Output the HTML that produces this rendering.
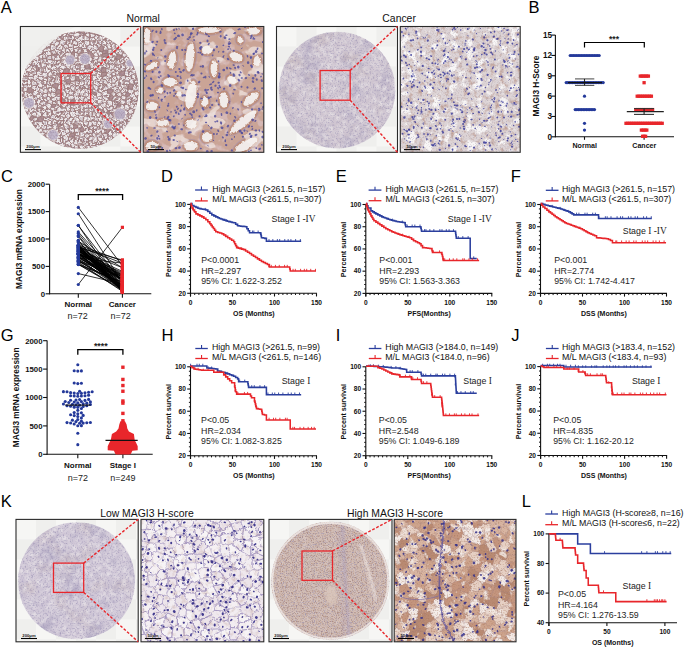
<!DOCTYPE html>
<html><head><meta charset="utf-8"><style>
html,body{margin:0;padding:0;background:#fff;width:685px;height:649px;overflow:hidden}
svg{display:block}
text{font-family:"Liberation Sans",sans-serif}
</style></head><body>
<svg width="685" height="649" viewBox="0 0 685 649">
<rect width="685" height="649" fill="#fff"/>
<text x="0.80" y="12.70" font-size="16.5" font-weight="normal" text-anchor="start" fill="#000" font-family="Liberation Sans" >A</text>
<text x="528.40" y="12.60" font-size="16.5" font-weight="normal" text-anchor="start" fill="#000" font-family="Liberation Sans" >B</text>
<text x="0.90" y="181.80" font-size="16.5" font-weight="normal" text-anchor="start" fill="#000" font-family="Liberation Sans" >C</text>
<text x="161.00" y="181.70" font-size="16.5" font-weight="normal" text-anchor="start" fill="#000" font-family="Liberation Sans" >D</text>
<text x="335.70" y="181.70" font-size="16.5" font-weight="normal" text-anchor="start" fill="#000" font-family="Liberation Sans" >E</text>
<text x="510.70" y="181.70" font-size="16.5" font-weight="normal" text-anchor="start" fill="#000" font-family="Liberation Sans" >F</text>
<text x="0.80" y="340.60" font-size="16.5" font-weight="normal" text-anchor="start" fill="#000" font-family="Liberation Sans" >G</text>
<text x="161.60" y="340.80" font-size="16.5" font-weight="normal" text-anchor="start" fill="#000" font-family="Liberation Sans" >H</text>
<text x="335.70" y="340.80" font-size="16.5" font-weight="normal" text-anchor="start" fill="#000" font-family="Liberation Sans" >I</text>
<text x="511.30" y="340.80" font-size="16.5" font-weight="normal" text-anchor="start" fill="#000" font-family="Liberation Sans" >J</text>
<text x="0.70" y="506.70" font-size="16.5" font-weight="normal" text-anchor="start" fill="#000" font-family="Liberation Sans" >K</text>
<text x="521.70" y="507.00" font-size="16.5" font-weight="normal" text-anchor="start" fill="#000" font-family="Liberation Sans" >L</text>
<text x="143.20" y="21.60" font-size="10.4" font-weight="normal" text-anchor="middle" fill="#111" font-family="Liberation Sans" >Normal</text>
<text x="399.10" y="21.60" font-size="10.4" font-weight="normal" text-anchor="middle" fill="#111" font-family="Liberation Sans" >Cancer</text>
<text x="146.90" y="517.00" font-size="10.4" font-weight="normal" text-anchor="middle" fill="#111" font-family="Liberation Sans" >Low MAGI3 H-score</text>
<text x="395.00" y="517.00" font-size="10.4" font-weight="normal" text-anchor="middle" fill="#111" font-family="Liberation Sans" >High MAGI3 H-score</text>
<defs><filter id="rough" x="-10%" y="-10%" width="120%" height="120%"><feTurbulence type="fractalNoise" baseFrequency="0.35" numOctaves="2" seed="2" result="t"/><feDisplacementMap in="SourceGraphic" in2="t" scale="3.5" xChannelSelector="R" yChannelSelector="G"/></filter><filter id="holesA1" x="0" y="0" width="100%" height="100%" filterUnits="objectBoundingBox" color-interpolation-filters="sRGB"><feTurbulence type="fractalNoise" baseFrequency="0.22" numOctaves="3" seed="3" result="n"/><feColorMatrix in="n" type="matrix" values="0 0 0 0 0  0 0 0 0 0  0 0 0 0 0  16.667 0 0 0 -8.667" result="m"/><feFlood flood-color="#f6f3f2"/><feComposite in2="m" operator="in"/></filter><filter id="darkA1" x="0" y="0" width="100%" height="100%" filterUnits="objectBoundingBox" color-interpolation-filters="sRGB"><feTurbulence type="fractalNoise" baseFrequency="0.45" numOctaves="2" seed="8" result="n"/><feColorMatrix in="n" type="matrix" values="0 0 0 0 0  0 0 0 0 0  0 0 0 0 0  3.889 0 0 0 -1.867" result="m"/><feFlood flood-color="#86646c"/><feComposite in2="m" operator="in"/></filter><filter id="lumA2" x="0" y="0" width="100%" height="100%" filterUnits="objectBoundingBox" color-interpolation-filters="sRGB"><feTurbulence type="fractalNoise" baseFrequency="0.045 0.06" numOctaves="3" seed="21" result="n"/><feColorMatrix in="n" type="matrix" values="0 0 0 0 0  0 0 0 0 0  0 0 0 0 0  16.667 0 0 0 -9.667" result="m"/><feFlood flood-color="#f8f3f1"/><feComposite in2="m" operator="in"/></filter><filter id="wallA2" x="0" y="0" width="100%" height="100%" filterUnits="objectBoundingBox" color-interpolation-filters="sRGB"><feTurbulence type="fractalNoise" baseFrequency="0.045 0.06" numOctaves="3" seed="21" result="n"/><feColorMatrix in="n" type="matrix" values="0 0 0 0 0  0 0 0 0 0  0 0 0 0 0  1 0 0 0 0" result="m"/><feComponentTransfer in="m" result="t"><feFuncA type="table" tableValues="0 0 0 0 0 0 0 0 0.25 0.7 0.2 0 0 0 0 0"/></feComponentTransfer><feFlood flood-color="#b47b62"/><feComposite in2="t" operator="in"/></filter><filter id="pinkA2" x="0" y="0" width="100%" height="100%" filterUnits="objectBoundingBox" color-interpolation-filters="sRGB"><feTurbulence type="fractalNoise" baseFrequency="0.09" numOctaves="3" seed="5" result="n"/><feColorMatrix in="n" type="matrix" values="0 0 0 0 0  0 0 0 0 0  0 0 0 0 0  6.667 0 0 0 -3.467" result="m"/><feFlood flood-color="#d8bdbd"/><feComposite in2="m" operator="in"/></filter><filter id="speck" x="0" y="0" width="100%" height="100%" filterUnits="objectBoundingBox" color-interpolation-filters="sRGB"><feTurbulence type="fractalNoise" baseFrequency="0.6" numOctaves="2" seed="4" result="n"/><feColorMatrix in="n" type="matrix" values="0 0 0 0 0  0 0 0 0 0  0 0 0 0 0  2.200 0 0 0 -1.100" result="m"/><feFlood flood-color="#8f86ad"/><feComposite in2="m" operator="in"/></filter><filter id="speckC" x="0" y="0" width="100%" height="100%" filterUnits="objectBoundingBox" color-interpolation-filters="sRGB"><feTurbulence type="fractalNoise" baseFrequency="0.8" numOctaves="2" seed="19" result="n"/><feColorMatrix in="n" type="matrix" values="0 0 0 0 0  0 0 0 0 0  0 0 0 0 0  3.500 0 0 0 -1.820" result="m"/><feFlood flood-color="#a59aa8"/><feComposite in2="m" operator="in"/></filter><filter id="speckA1" x="0" y="0" width="100%" height="100%" filterUnits="objectBoundingBox" color-interpolation-filters="sRGB"><feTurbulence type="fractalNoise" baseFrequency="0.8" numOctaves="2" seed="44" result="n"/><feColorMatrix in="n" type="matrix" values="0 0 0 0 0  0 0 0 0 0  0 0 0 0 0  4.000 0 0 0 -2.080" result="m"/><feFlood flood-color="#8f7c9c"/><feComposite in2="m" operator="in"/></filter><filter id="mottleL" x="0" y="0" width="100%" height="100%" filterUnits="objectBoundingBox" color-interpolation-filters="sRGB"><feTurbulence type="fractalNoise" baseFrequency="0.05" numOctaves="3" seed="61" result="n"/><feColorMatrix in="n" type="matrix" values="0 0 0 0 0  0 0 0 0 0  0 0 0 0 0  1.944 0 0 0 -0.972" result="m"/><feFlood flood-color="#a198b8"/><feComposite in2="m" operator="in"/></filter><filter id="mottleB" x="0" y="0" width="100%" height="100%" filterUnits="objectBoundingBox" color-interpolation-filters="sRGB"><feTurbulence type="fractalNoise" baseFrequency="0.04" numOctaves="3" seed="62" result="n"/><feColorMatrix in="n" type="matrix" values="0 0 0 0 0  0 0 0 0 0  0 0 0 0 0  1.333 0 0 0 -0.733" result="m"/><feFlood flood-color="#b8a4a2"/><feComposite in2="m" operator="in"/></filter><filter id="speckB" x="0" y="0" width="100%" height="100%" filterUnits="objectBoundingBox" color-interpolation-filters="sRGB"><feTurbulence type="fractalNoise" baseFrequency="0.7" numOctaves="2" seed="6" result="n"/><feColorMatrix in="n" type="matrix" values="0 0 0 0 0  0 0 0 0 0  0 0 0 0 0  2.800 0 0 0 -1.400" result="m"/><feFlood flood-color="#9a7a78"/><feComposite in2="m" operator="in"/></filter><filter id="whitefine" x="0" y="0" width="100%" height="100%" filterUnits="objectBoundingBox" color-interpolation-filters="sRGB"><feTurbulence type="fractalNoise" baseFrequency="0.3" numOctaves="3" seed="12" result="n"/><feColorMatrix in="n" type="matrix" values="0 0 0 0 0  0 0 0 0 0  0 0 0 0 0  6.250 0 0 0 -3.125" result="m"/><feFlood flood-color="#f6f2f2"/><feComposite in2="m" operator="in"/></filter><filter id="whitebig" x="0" y="0" width="100%" height="100%" filterUnits="objectBoundingBox" color-interpolation-filters="sRGB"><feTurbulence type="fractalNoise" baseFrequency="0.12" numOctaves="3" seed="14" result="n"/><feColorMatrix in="n" type="matrix" values="0 0 0 0 0  0 0 0 0 0  0 0 0 0 0  6.071 0 0 0 -3.157" result="m"/><feFlood flood-color="#f8f6f6"/><feComposite in2="m" operator="in"/></filter><filter id="brownfib" x="0" y="0" width="100%" height="100%" filterUnits="objectBoundingBox" color-interpolation-filters="sRGB"><feTurbulence type="fractalNoise" baseFrequency="0.22" numOctaves="3" seed="33" result="n"/><feColorMatrix in="n" type="matrix" values="0 0 0 0 0  0 0 0 0 0  0 0 0 0 0  3.056 0 0 0 -1.528" result="m"/><feFlood flood-color="#c0a096"/><feComposite in2="m" operator="in"/></filter><filter id="cellnet" x="0" y="0" width="100%" height="100%" filterUnits="objectBoundingBox" color-interpolation-filters="sRGB"><feTurbulence type="fractalNoise" baseFrequency="0.11" numOctaves="2" seed="41" result="n"/><feColorMatrix in="n" type="matrix" values="0 0 0 0 0  0 0 0 0 0  0 0 0 0 0  1 0 0 0 0" result="m"/><feComponentTransfer in="m" result="t"><feFuncA type="table" tableValues="0 0 0 0 0.1 0.6 0.1 0 0.1 0.6 0.1 0 0 0"/></feComponentTransfer><feFlood flood-color="#9a86b0"/><feComposite in2="t" operator="in"/></filter><filter id="brownK4" x="0" y="0" width="100%" height="100%" filterUnits="objectBoundingBox" color-interpolation-filters="sRGB"><feTurbulence type="fractalNoise" baseFrequency="0.1" numOctaves="3" seed="17" result="n"/><feColorMatrix in="n" type="matrix" values="0 0 0 0 0  0 0 0 0 0  0 0 0 0 0  4.375 0 0 0 -2.013" result="m"/><feFlood flood-color="#b6866e"/><feComposite in2="m" operator="in"/></filter><filter id="whiteK4" x="0" y="0" width="100%" height="100%" filterUnits="objectBoundingBox" color-interpolation-filters="sRGB"><feTurbulence type="fractalNoise" baseFrequency="0.12" numOctaves="3" seed="29" result="n"/><feColorMatrix in="n" type="matrix" values="0 0 0 0 0  0 0 0 0 0  0 0 0 0 0  7.500 0 0 0 -4.350" result="m"/><feFlood flood-color="#f5efec"/><feComposite in2="m" operator="in"/></filter><filter id="whiteK3" x="0" y="0" width="100%" height="100%" filterUnits="objectBoundingBox" color-interpolation-filters="sRGB"><feTurbulence type="fractalNoise" baseFrequency="0.5" numOctaves="2" seed="31" result="n"/><feColorMatrix in="n" type="matrix" values="0 0 0 0 0  0 0 0 0 0  0 0 0 0 0  5.625 0 0 0 -2.925" result="m"/><feFlood flood-color="#f6f1f0"/><feComposite in2="m" operator="in"/></filter><filter id="speckK3b" x="0" y="0" width="100%" height="100%" filterUnits="objectBoundingBox" color-interpolation-filters="sRGB"><feTurbulence type="fractalNoise" baseFrequency="0.8" numOctaves="2" seed="37" result="n"/><feColorMatrix in="n" type="matrix" values="0 0 0 0 0  0 0 0 0 0  0 0 0 0 0  3.409 0 0 0 -1.705" result="m"/><feFlood flood-color="#a07a6e"/><feComposite in2="m" operator="in"/></filter><filter id="speckK3l" x="0" y="0" width="100%" height="100%" filterUnits="objectBoundingBox" color-interpolation-filters="sRGB"><feTurbulence type="fractalNoise" baseFrequency="0.9" numOctaves="2" seed="38" result="n"/><feColorMatrix in="n" type="matrix" values="0 0 0 0 0  0 0 0 0 0  0 0 0 0 0  2.609 0 0 0 -1.357" result="m"/><feFlood flood-color="#8a84ae"/><feComposite in2="m" operator="in"/></filter><filter id="speckK4" x="0" y="0" width="100%" height="100%" filterUnits="objectBoundingBox" color-interpolation-filters="sRGB"><feTurbulence type="fractalNoise" baseFrequency="0.7" numOctaves="2" seed="39" result="n"/><feColorMatrix in="n" type="matrix" values="0 0 0 0 0  0 0 0 0 0  0 0 0 0 0  3.043 0 0 0 -1.583" result="m"/><feFlood flood-color="#a8785f"/><feComposite in2="m" operator="in"/></filter><filter id="soft" x="0" y="0" width="100%" height="100%"><feGaussianBlur stdDeviation="0.8"/></filter></defs>
<rect x="20.4" y="26.5" width="120.29999999999998" height="125.80000000000001" fill="#efefed"/>
<g fill="#f6f6f4"><rect x="20.4" y="26.5" width="20.0" height="20.0"/><rect x="60.4" y="26.5" width="20.0" height="20.0"/><rect x="100.4" y="26.5" width="20.0" height="20.0"/><rect x="140.4" y="26.5" width="0.3" height="20.0"/><rect x="40.4" y="46.5" width="20.0" height="20.0"/><rect x="80.4" y="46.5" width="20.0" height="20.0"/><rect x="120.4" y="46.5" width="20.0" height="20.0"/><rect x="20.4" y="66.5" width="20.0" height="20.0"/><rect x="60.4" y="66.5" width="20.0" height="20.0"/><rect x="100.4" y="66.5" width="20.0" height="20.0"/><rect x="140.4" y="66.5" width="0.3" height="20.0"/><rect x="40.4" y="86.5" width="20.0" height="20.0"/><rect x="80.4" y="86.5" width="20.0" height="20.0"/><rect x="120.4" y="86.5" width="20.0" height="20.0"/><rect x="20.4" y="106.5" width="20.0" height="20.0"/><rect x="60.4" y="106.5" width="20.0" height="20.0"/><rect x="100.4" y="106.5" width="20.0" height="20.0"/><rect x="140.4" y="106.5" width="0.3" height="20.0"/><rect x="40.4" y="126.5" width="20.0" height="20.0"/><rect x="80.4" y="126.5" width="20.0" height="20.0"/><rect x="120.4" y="126.5" width="20.0" height="20.0"/><rect x="20.4" y="146.5" width="20.0" height="5.8"/><rect x="60.4" y="146.5" width="20.0" height="5.8"/><rect x="100.4" y="146.5" width="20.0" height="5.8"/><rect x="140.4" y="146.5" width="0.3" height="5.8"/></g>
<clipPath id="cA1"><circle cx="80.1" cy="90.1" r="58.5"/></clipPath>
<g clip-path="url(#cA1)">
<rect x="21.60" y="31.60" width="117.00" height="117.00" fill="#b19294" opacity="1"/>
<path d="M62.6,28.7 59.0,32.0 61.9,34.0 65.9,33.0 66.1,31.8 65.0,29.5ZM65.0,29.5 66.1,31.8 69.0,31.1 71.2,27.3 71.1,27.1 67.0,27.4ZM69.0,31.1 72.5,33.3 74.2,33.4 74.5,32.9 73.8,28.9 71.2,27.3ZM73.8,28.9 74.5,32.9 78.6,32.2 80.6,29.2 79.8,28.0 74.0,28.7ZM85.3,27.5 83.3,29.5 84.8,33.7 88.0,32.7 87.3,27.5ZM87.3,27.5 89.1,26.8 91.8,29.6 90.2,33.1 88.0,32.7ZM95.9,29.4 95.4,29.2 91.8,29.6 90.2,33.1 90.2,33.1 94.6,34.1ZM102.9,30.6 102.1,28.8 96.5,29.0 96.2,29.3 98.6,32.5ZM48.7,32.7 46.1,35.3 46.9,37.8 51.1,36.4 51.2,33.5ZM57.3,35.9 57.0,34.8 57.0,32.4 59.0,32.0 61.9,34.0 61.9,35.2 60.8,36.7ZM61.9,35.2 64.1,37.1 66.8,35.0 65.9,33.0 61.9,34.0ZM66.1,31.8 65.9,33.0 66.8,35.0 67.0,35.1 72.5,33.3 69.0,31.1ZM68.1,37.0 74.3,35.9 74.2,33.4 72.5,33.3 67.0,35.1ZM80.3,35.3 78.7,32.3 78.6,32.2 74.5,32.9 74.2,33.4 74.3,35.9 74.7,36.9 78.8,37.3ZM80.3,35.3 78.7,32.3 84.8,33.8 84.4,35.0 84.1,35.4ZM84.8,33.7 84.8,33.8 84.4,35.0 89.8,38.0 90.4,37.3 90.2,33.1 90.2,33.1 88.0,32.7ZM95.2,35.4 94.6,34.1 90.2,33.1 90.4,37.3 94.0,37.3ZM99.0,35.4 95.2,35.4 94.6,34.1 95.9,29.4 96.2,29.3 98.6,32.5ZM101.3,35.3 103.4,31.1 102.9,30.6 98.6,32.5 99.0,35.4 99.1,35.5 101.1,35.4ZM101.3,35.3 106.2,35.8 107.3,33.3 106.7,31.9 103.4,31.1ZM106.2,35.8 106.3,37.7 110.7,37.8 111.0,34.6 109.8,33.9 107.3,33.3ZM39.7,38.9 40.1,38.1 41.8,37.6 45.1,39.8 42.4,43.8ZM46.1,35.3 46.9,37.8 46.3,39.4 45.1,39.8 41.8,37.6 43.1,34.0 43.6,34.0ZM46.3,39.4 46.9,37.8 51.1,36.4 51.8,37.3 52.5,39.0 47.4,40.4ZM56.7,39.7 52.8,39.4 52.5,39.0 51.8,37.3 57.0,34.8 57.3,35.9ZM59.2,41.4 62.1,39.5 60.8,36.7 57.3,35.9 56.7,39.7 57.1,40.2ZM62.1,39.5 63.0,39.4 64.1,37.1 61.9,35.2 60.8,36.7ZM65.5,41.2 68.0,40.0 68.3,39.4 68.1,37.0 67.0,35.1 66.8,35.0 64.1,37.1 63.0,39.4ZM68.1,37.0 68.3,39.4 74.0,39.4 74.0,39.4 74.7,36.9 74.3,35.9ZM78.8,37.3 74.7,36.9 74.0,39.4 77.6,42.1 80.7,40.3ZM80.3,35.3 84.1,35.4 83.5,40.8 80.7,40.3 78.8,37.3ZM84.1,35.4 84.4,35.0 89.8,38.0 89.1,40.4 83.7,41.1 83.5,40.8ZM95.4,39.9 94.1,41.0 89.6,41.0 89.1,40.4 89.8,38.0 90.4,37.3 94.0,37.3ZM99.0,35.4 95.2,35.4 94.0,37.3 95.4,39.9 97.7,40.5 98.5,40.0 99.1,35.5ZM101.1,35.4 103.5,40.0 102.4,40.6 98.5,40.0 99.1,35.5ZM101.3,35.3 106.2,35.8 106.3,37.7 105.4,40.0 103.5,40.0 101.1,35.4ZM110.7,37.8 106.3,37.7 105.4,40.0 106.5,41.6 111.9,39.5ZM110.7,37.8 111.0,34.6 112.4,34.4 115.9,35.8 116.0,36.1 115.2,38.9 114.1,39.9 112.4,39.8 111.9,39.5ZM120.6,41.3 115.2,38.9 116.0,36.1 121.5,37.7 121.5,37.8ZM36.5,40.7 39.7,38.9 42.4,43.8 42.3,44.2 41.8,44.7 37.7,43.1ZM42.3,44.2 46.2,45.2 49.0,43.6 47.4,40.4 46.3,39.4 45.1,39.8 42.4,43.8ZM50.9,44.2 49.0,43.6 47.4,40.4 52.5,39.0 52.8,39.4 51.0,44.2ZM57.1,40.2 56.7,39.7 52.8,39.4 51.0,44.2 53.9,44.9ZM59.5,42.3 55.9,47.2 53.9,44.9 57.1,40.2 59.2,41.4ZM59.5,42.3 62.0,45.4 63.2,45.6 65.2,44.0 65.5,41.2 63.0,39.4 62.1,39.5 59.2,41.4ZM65.2,44.0 68.3,45.3 70.1,43.3 68.0,40.0 65.5,41.2ZM70.1,43.3 72.4,43.3 74.0,39.4 68.3,39.4 68.0,40.0ZM77.5,45.3 77.6,42.1 74.0,39.4 74.0,39.4 72.4,43.3 73.7,45.6ZM80.7,40.3 77.6,42.1 77.5,45.3 78.4,46.2 83.7,41.3 83.7,41.1 83.5,40.8ZM83.7,41.1 89.1,40.4 89.6,41.0 90.2,44.5 86.9,46.3 84.3,43.9 83.7,41.3ZM89.6,41.0 94.1,41.0 93.8,45.0 92.5,45.9 90.2,44.5ZM97.7,40.5 97.8,42.9 96.2,44.9 93.8,45.0 94.1,41.0 95.4,39.9ZM98.5,40.0 102.4,40.6 101.3,45.1 97.8,42.9 97.7,40.5ZM106.5,41.6 106.9,43.3 105.9,45.3 103.2,46.4 101.5,45.7 101.3,45.1 102.4,40.6 103.5,40.0 105.4,40.0ZM111.9,39.5 112.4,39.8 110.0,44.2 106.9,43.3 106.5,41.6ZM114.1,39.9 114.6,42.3 111.1,45.1 110.0,44.2 112.4,39.8ZM114.1,39.9 115.2,38.9 120.6,41.3 120.8,42.1 119.4,43.5 115.2,43.0 114.6,42.3ZM121.1,42.3 123.9,46.4 127.2,45.3 126.7,42.8 124.6,41.7ZM36.5,44.8 37.4,47.2 33.2,47.7 33.3,46.0 33.8,45.4ZM36.5,44.8 37.4,47.2 39.2,48.5 40.9,48.3 41.8,44.7 37.7,43.1ZM42.3,44.2 46.2,45.2 46.5,47.2 43.0,50.7 41.8,49.5 40.9,48.3 41.8,44.7ZM46.7,47.3 46.5,47.2 46.2,45.2 49.0,43.6 50.9,44.2 50.2,48.0ZM50.9,51.2 50.2,48.0 50.9,44.2 51.0,44.2 53.9,44.9 55.9,47.2 56.1,47.9 54.4,49.6ZM59.5,42.3 62.0,45.4 58.2,48.8 56.1,47.9 55.9,47.2ZM58.2,48.8 62.0,45.4 63.2,45.6 63.5,46.6 61.2,51.2 59.1,50.2ZM68.8,47.7 68.9,47.5 68.3,45.3 65.2,44.0 63.2,45.6 63.5,46.6 65.9,49.3ZM73.7,45.6 72.4,43.3 70.1,43.3 68.3,45.3 68.9,47.5 72.9,47.3ZM78.4,46.2 77.5,45.3 73.7,45.6 72.9,47.3 73.4,49.2 78.9,47.1ZM78.4,46.2 83.7,41.3 84.3,43.9 81.1,48.0 79.4,47.8 78.9,47.1ZM84.3,43.9 81.1,48.0 82.1,48.7 86.6,48.5 86.9,46.3ZM86.9,46.3 86.6,48.5 88.2,51.4 88.8,51.3 92.6,47.1 92.5,45.9 90.2,44.5ZM92.5,45.9 93.8,45.0 96.2,44.9 98.4,48.2 98.0,49.4 96.6,50.3 94.8,49.4 92.6,47.1ZM101.3,45.1 101.5,45.7 98.4,48.2 96.2,44.9 97.8,42.9ZM105.9,45.3 103.2,46.4 103.6,50.3 107.9,50.1 108.6,49.4ZM110.0,44.2 106.9,43.3 105.9,45.3 108.6,49.4 111.7,48.9 112.1,48.4 111.1,45.1ZM111.1,45.1 112.1,48.4 115.3,47.8 115.2,43.0 114.6,42.3ZM119.4,43.5 118.2,48.4 117.0,48.4 115.3,47.8 115.2,43.0ZM121.1,42.3 123.9,46.4 123.5,47.2 120.4,49.6 119.7,49.5 118.2,48.4 119.4,43.5 120.8,42.1ZM127.2,45.3 129.2,46.4 128.4,49.0 126.1,50.2 123.5,47.2 123.9,46.4ZM26.9,48.4 29.4,53.1 31.5,52.7 33.4,50.4 32.8,48.5 27.8,47.6ZM32.8,48.5 33.2,47.7 37.4,47.2 39.2,48.5 35.8,51.3 33.4,50.4ZM40.9,48.3 39.2,48.5 35.8,51.3 37.0,53.9 41.8,49.5ZM47.9,51.3 44.6,52.0 43.6,51.9 43.0,50.7 46.5,47.2 46.7,47.3ZM50.9,51.2 50.2,48.0 46.7,47.3 47.9,51.3 50.8,51.4ZM53.0,54.5 56.7,53.9 54.4,49.6 50.9,51.2 50.8,51.4 51.5,54.2ZM56.7,53.9 56.9,53.9 59.1,50.2 58.2,48.8 56.1,47.9 54.4,49.6ZM65.9,49.3 63.5,46.6 61.2,51.2 61.6,51.7 65.2,52.6 65.2,52.5ZM68.8,47.7 65.9,49.3 65.2,52.5 70.7,52.3ZM68.8,47.7 68.9,47.5 72.9,47.3 73.4,49.2 73.8,52.2 71.8,52.9 70.7,52.3ZM78.9,47.1 79.4,47.8 77.1,52.7 74.5,52.4 73.8,52.2 73.4,49.2ZM82.1,48.7 83.0,52.7 77.8,53.5 77.1,52.7 79.4,47.8 81.1,48.0ZM82.1,48.7 83.0,52.7 84.0,53.3 87.9,51.7 88.2,51.4 86.6,48.5ZM92.6,47.1 94.8,49.4 91.3,52.2 88.8,51.3ZM93.4,54.3 96.6,50.5 96.6,50.3 94.8,49.4 91.3,52.2ZM108.6,49.4 107.9,50.1 107.7,53.0 108.3,53.9 112.0,53.5 112.3,52.1 111.7,48.9ZM117.0,48.4 115.4,52.3 112.3,52.1 111.7,48.9 112.1,48.4 115.3,47.8ZM117.0,48.4 115.4,52.3 116.9,55.2 117.5,54.9 119.7,49.5 118.2,48.4ZM126.1,50.2 123.5,47.2 120.4,49.6 123.1,52.8 124.9,52.8ZM130.5,53.1 128.4,49.0 126.1,50.2 124.9,52.8 127.0,54.3ZM29.4,53.1 28.1,54.6 33.2,58.3 34.0,57.1 31.5,52.7ZM31.5,52.7 34.0,57.1 37.4,55.6 37.0,53.9 35.8,51.3 33.4,50.4ZM41.8,49.5 43.0,50.7 43.6,51.9 42.8,53.6 42.5,53.8 37.7,55.7 37.4,55.6 37.0,53.9ZM43.6,51.9 42.8,53.6 46.6,58.2 47.7,56.2 44.6,52.0ZM51.5,54.2 51.4,54.3 47.7,56.2 44.6,52.0 47.9,51.3 50.8,51.4ZM59.1,50.2 61.2,51.2 61.6,51.7 59.4,56.1 57.7,55.1 56.9,53.9ZM61.6,51.7 59.4,56.1 60.8,58.8 65.2,53.9 65.2,52.6ZM70.7,52.3 71.8,52.9 70.6,56.6 69.1,57.2 66.5,55.6 65.2,53.9 65.2,52.6 65.2,52.5ZM74.5,52.4 74.1,58.3 77.9,58.0 78.1,54.9 77.8,53.5 77.1,52.7ZM84.0,53.3 87.9,51.7 88.8,57.1 87.8,57.7 83.8,55.4ZM93.4,54.3 93.7,56.1 98.6,55.9 96.6,50.5ZM96.6,50.3 98.0,49.4 102.4,52.0 102.5,54.0 102.0,55.8 101.9,55.9 99.1,56.2 98.6,55.9 96.6,50.5ZM113.4,56.6 112.0,53.5 108.3,53.9 108.0,57.1 110.2,58.2ZM112.3,52.1 112.0,53.5 113.4,56.6 115.7,57.2 116.9,55.2 115.4,52.3ZM123.1,52.8 120.4,49.6 119.7,49.5 117.5,54.9 121.9,55.1ZM124.1,57.7 122.0,55.7 121.9,55.1 123.1,52.8 124.9,52.8 127.0,54.3 126.8,56.5ZM128.1,58.5 129.6,59.1 131.1,57.7 130.7,53.2 130.5,53.1 127.0,54.3 126.8,56.5ZM130.7,53.2 132.1,52.8 133.0,53.3 134.1,55.5 133.6,58.0 131.1,57.7ZM26.7,56.8 22.1,60.0 25.9,62.5 27.4,58.0ZM27.1,55.3 26.7,56.0 26.7,56.8 27.4,58.0 29.9,59.3 33.1,58.5 33.2,58.3 28.1,54.6ZM39.4,59.1 37.7,55.7 37.4,55.6 34.0,57.1 33.2,58.3 33.1,58.5 33.1,58.5 37.5,62.5 38.1,62.3ZM42.5,58.9 42.7,58.8 42.5,53.8 37.7,55.7 39.4,59.1ZM46.6,58.2 46.5,58.6 42.7,58.8 42.5,53.8 42.8,53.6ZM46.6,58.2 46.5,58.6 46.8,59.1 51.9,59.6 51.4,54.3 47.7,56.2ZM53.0,54.5 55.4,57.2 55.1,60.0 52.6,60.4 51.9,59.6 51.4,54.3 51.5,54.2ZM59.4,56.1 60.8,58.8 60.8,59.8 60.6,60.1 56.7,60.5 55.1,60.0 55.4,57.2 57.7,55.1ZM65.2,53.9 66.5,55.6 64.6,60.0 60.8,59.8 60.8,58.8ZM69.1,57.2 66.5,55.6 64.6,60.0 66.7,60.9 67.9,60.0ZM72.9,60.2 71.3,61.4 67.9,60.0 69.1,57.2 70.6,56.6 73.1,58.8ZM72.9,60.2 74.9,62.4 77.8,61.1 78.6,59.1 77.9,58.0 74.1,58.3 73.1,58.8ZM83.1,56.2 82.3,59.6 78.6,59.1 77.9,58.0 78.1,54.9ZM83.1,56.2 82.3,59.6 82.8,60.1 86.4,60.1 87.8,57.7 83.8,55.4ZM92.4,57.9 93.1,60.6 93.0,61.5 87.2,61.6 86.4,60.1 87.8,57.7 88.8,57.1ZM93.7,56.1 98.6,55.9 99.1,56.2 97.8,59.6 93.1,60.6 92.4,57.9ZM102.4,60.7 101.9,55.9 99.1,56.2 97.8,59.6 99.2,62.2 100.1,62.6ZM105.6,62.2 106.8,57.5 102.0,55.8 101.9,55.9 102.4,60.7ZM105.6,62.2 106.8,57.5 108.0,57.1 110.2,58.2 110.2,59.6 107.9,63.1 106.7,63.0 105.7,62.4ZM112.5,61.9 116.4,58.7 115.7,57.2 113.4,56.6 110.2,58.2 110.2,59.6ZM123.6,60.0 120.1,60.5 119.4,59.9 122.0,55.7 124.1,57.7ZM124.9,61.0 128.1,58.5 126.8,56.5 124.1,57.7 123.6,60.0ZM130.4,62.9 134.9,59.2 133.6,58.0 131.1,57.7 129.6,59.1ZM133.6,58.0 134.1,55.5 138.1,56.1 137.3,59.4 137.0,59.7 134.9,59.2ZM20.0,59.8 22.1,60.0 25.9,62.5 26.5,63.8 24.9,65.8 20.1,65.0 19.1,62.2 19.0,61.2ZM27.4,58.0 25.9,62.5 26.5,63.8 28.8,63.9 29.9,59.3ZM31.7,65.3 31.2,65.1 28.8,63.9 29.9,59.3 33.1,58.5 33.1,58.5ZM32.6,66.0 35.5,65.1 37.5,62.5 33.1,58.5 31.7,65.3ZM40.8,63.7 38.1,62.3 39.4,59.1 42.5,58.9 43.1,62.7ZM43.1,62.7 42.5,58.9 42.7,58.8 46.5,58.6 46.8,59.1 46.3,63.5ZM46.3,63.5 46.8,59.1 51.9,59.6 52.6,60.4 51.5,63.6 46.8,64.3ZM55.4,66.0 55.9,64.9 56.7,60.5 55.1,60.0 52.6,60.4 51.5,63.6 51.7,64.0ZM60.9,62.5 60.6,60.1 56.7,60.5 55.9,64.9ZM64.6,60.0 60.8,59.8 60.6,60.1 60.9,62.5 61.4,64.4 64.6,65.3 67.0,62.6 66.7,60.9ZM71.3,61.4 70.5,65.3 67.0,62.6 66.7,60.9 67.9,60.0ZM77.8,61.1 79.4,64.7 75.7,65.4 74.6,64.1 74.9,62.4ZM78.6,59.1 82.3,59.6 82.8,60.1 82.3,64.3 80.2,65.2 79.4,64.7 77.8,61.1ZM85.0,65.5 82.3,64.3 82.8,60.1 86.4,60.1 87.2,61.6 87.0,64.0ZM87.0,64.0 87.2,61.6 93.0,61.5 93.1,62.0 89.6,65.2ZM95.2,63.7 94.3,63.5 93.1,62.0 93.0,61.5 93.1,60.6 97.8,59.6 99.2,62.2ZM100.6,65.4 97.5,66.5 95.2,63.7 99.2,62.2 100.1,62.6ZM105.6,62.2 102.4,60.7 100.1,62.6 100.6,65.4 101.7,66.3 105.7,62.4ZM112.5,61.9 110.2,59.6 107.9,63.1 109.3,64.4 112.5,63.7ZM112.5,61.9 116.4,58.7 116.5,58.7 115.5,65.5 115.3,65.7 112.5,63.7ZM120.3,64.2 115.5,65.5 116.5,58.7 119.4,59.9 120.1,60.5ZM125.3,62.2 124.9,61.0 123.6,60.0 120.1,60.5 120.3,64.2 120.4,64.3 124.5,63.4ZM125.3,62.2 124.9,61.0 128.1,58.5 129.6,59.1 130.4,62.9 130.3,63.7ZM139.7,65.1 136.8,61.6 133.4,65.5 138.6,66.3 139.4,66.1ZM19.8,65.7 20.1,65.0 24.9,65.8 25.3,69.1 20.5,69.2ZM25.4,69.3 25.3,69.1 24.9,65.8 26.5,63.8 28.8,63.9 31.2,65.1 26.2,69.9ZM28.6,72.3 27.8,71.7 26.2,69.9 31.2,65.1 31.7,65.3 32.6,66.0 32.5,67.7ZM41.2,66.7 39.1,68.1 35.8,65.4 35.5,65.1 37.5,62.5 38.1,62.3 40.8,63.7ZM41.8,67.0 45.9,67.2 46.1,67.0 46.8,64.3 46.3,63.5 43.1,62.7 40.8,63.7 41.2,66.7ZM46.1,67.0 50.8,70.0 51.7,64.0 51.5,63.6 46.8,64.3ZM50.8,70.0 51.7,64.0 55.4,66.0 56.4,68.0 55.5,68.9 51.8,70.8 51.1,70.6ZM56.4,68.0 58.8,68.2 59.7,67.8 61.4,64.4 60.9,62.5 55.9,64.9 55.4,66.0ZM61.4,64.4 64.6,65.3 66.5,68.4 63.7,70.1 59.7,67.8ZM70.5,65.3 69.9,68.6 69.4,68.9 66.5,68.4 64.6,65.3 67.0,62.6 70.5,65.3ZM73.5,69.4 75.4,68.0 75.7,65.4 74.6,64.1 70.5,65.3 69.9,68.6 72.9,69.4ZM75.7,65.4 75.4,68.0 79.6,69.1 79.8,68.9 80.2,65.2 79.4,64.7ZM85.0,65.5 82.3,64.3 80.2,65.2 79.8,68.9 83.8,70.5 85.5,68.6ZM92.9,68.6 90.4,68.5 89.6,65.2 93.1,62.0 94.3,63.5ZM96.7,68.8 97.5,66.5 95.2,63.7 94.3,63.5 92.9,68.6 93.8,69.2 95.6,69.7ZM100.6,65.4 97.5,66.5 96.7,68.8 101.3,69.4 102.4,67.7 101.7,66.3ZM105.7,62.4 106.7,63.0 105.2,68.2 102.4,67.7 101.7,66.3ZM107.9,63.1 106.7,63.0 105.2,68.2 105.7,68.6 109.5,67.8 109.3,64.4ZM112.5,63.7 115.3,65.7 115.2,65.8 114.0,67.7 110.9,68.9 109.5,67.8 109.3,64.4ZM120.4,64.3 121.5,67.1 118.9,69.2 115.2,65.8 115.3,65.7 115.5,65.5 120.3,64.2ZM124.5,63.4 120.4,64.3 121.5,67.1 125.0,69.0 125.6,68.0ZM125.3,62.2 130.3,63.7 130.4,64.1 130.0,64.6 125.6,68.0 124.5,63.4ZM130.0,64.6 129.9,70.6 130.4,70.6 133.6,68.1 133.4,65.6 130.4,64.1ZM133.6,68.1 135.8,70.8 138.6,66.3 133.4,65.5 133.4,65.6ZM19.1,72.5 20.5,69.2 25.3,69.1 25.4,69.3 21.3,73.4 19.2,72.7ZM21.5,73.5 21.3,73.4 25.4,69.3 26.2,69.9 27.8,71.7 22.5,74.2ZM28.7,72.5 31.8,73.1 34.8,70.7 32.5,67.7 28.6,72.3ZM36.8,71.5 36.7,71.6 34.8,70.7 32.5,67.7 32.6,66.0 35.5,65.1 35.8,65.4ZM41.8,67.0 42.5,72.5 38.6,70.6 39.1,68.1 41.2,66.7ZM41.8,67.0 42.5,72.5 42.5,72.6 44.4,72.1 45.9,67.2ZM45.9,67.2 44.4,72.1 47.6,73.8 51.1,70.6 50.8,70.0 46.1,67.0ZM55.5,68.9 56.9,74.3 56.7,74.4 55.9,75.0 53.5,73.9 51.8,70.8ZM56.4,68.0 58.8,68.2 59.4,73.1 59.2,73.4 56.9,74.3 55.5,68.9ZM59.7,67.8 63.7,70.1 63.4,72.3 59.4,73.1 58.8,68.2ZM72.6,75.6 70.1,75.9 69.9,75.8 68.8,73.7 69.4,68.9 69.9,68.6 72.9,69.4ZM75.9,72.6 73.5,69.4 75.4,68.0 79.6,69.1 78.4,71.6ZM83.6,74.5 84.2,73.2 83.8,70.5 79.8,68.9 79.6,69.1 78.4,71.6 80.3,74.2ZM89.4,70.7 89.5,69.1 85.5,68.6 83.8,70.5 84.2,73.2 88.5,73.1ZM89.4,70.7 89.5,69.1 90.4,68.5 92.9,68.6 93.8,69.2 92.3,72.9ZM92.3,72.9 93.8,69.2 95.6,69.7 96.4,71.8 96.4,73.2 94.5,74.9 92.4,75.4ZM96.7,68.8 101.3,69.4 101.2,71.0 96.4,71.8 95.6,69.7ZM105.7,68.6 106.1,71.8 107.0,72.8 110.6,72.5 110.9,68.9 109.5,67.8ZM115.4,71.4 115.6,71.1 114.0,67.7 110.9,68.9 110.6,72.5 111.3,73.2ZM118.5,71.4 118.9,69.2 115.2,65.8 114.0,67.7 115.6,71.1ZM124.7,70.7 125.2,69.8 125.0,69.0 121.5,67.1 118.9,69.2 118.5,71.4 119.1,72.1ZM125.6,68.0 125.0,69.0 125.2,69.8 128.1,71.0 129.9,70.6 130.0,64.6ZM130.4,70.6 133.3,74.3 135.4,73.6 136.0,73.0 136.2,72.1 135.8,70.8 133.6,68.1ZM139.8,70.7 136.2,72.1 135.8,70.8 138.6,66.3 139.4,66.1 139.5,66.3ZM14.8,78.4 18.7,77.8 19.2,72.7 19.1,72.5 17.9,72.4 14.1,75.4 14.8,78.4ZM21.5,73.5 21.3,73.4 19.2,72.7 18.7,77.8 20.6,79.1ZM22.5,74.2 27.8,71.7 28.6,72.3 28.7,72.5 28.0,76.5 27.7,77.1 24.3,76.6ZM28.7,72.5 28.0,76.5 33.1,76.3 33.7,75.0 31.8,73.1ZM31.8,73.1 33.7,75.0 36.4,74.2 36.7,71.6 34.8,70.7ZM36.8,71.5 36.7,71.6 36.4,74.2 38.1,76.6 41.4,75.6 42.5,72.6 42.5,72.5 38.6,70.6ZM44.4,72.1 47.6,73.8 48.1,76.8 47.5,77.4 43.5,78.3 41.4,75.6 42.5,72.6ZM51.1,70.6 47.6,73.8 48.1,76.8 50.5,77.2 53.5,73.9 51.8,70.8ZM50.5,77.2 51.2,77.9 55.1,78.7 55.8,78.3 55.9,75.0 53.5,73.9ZM59.4,73.1 63.4,72.3 64.3,73.7 63.5,76.0 61.3,76.7 59.2,73.4ZM64.8,77.4 63.5,76.0 64.3,73.7 68.8,73.7 69.9,75.8ZM75.0,75.8 72.6,75.6 72.9,69.4 73.5,69.4 75.9,72.6ZM77.8,76.5 75.5,76.4 75.0,75.8 75.9,72.6 78.4,71.6 80.3,74.2ZM83.3,77.7 78.4,77.1 77.8,76.5 80.3,74.2 83.6,74.5 83.9,76.1ZM83.9,76.1 87.4,77.0 89.6,74.7 88.5,73.1 84.2,73.2 83.6,74.5ZM89.4,70.7 92.3,72.9 92.4,75.4 92.4,75.4 89.6,74.7 88.5,73.1ZM101.0,76.1 101.0,76.1 97.5,78.6 94.5,74.9 96.4,73.2ZM96.4,71.8 96.4,73.2 101.0,76.1 101.8,72.6 101.2,71.0ZM111.3,73.2 110.6,72.5 107.0,72.8 106.1,75.4 108.6,77.8 109.7,78.2 110.9,77.7 111.7,77.1 112.1,76.1ZM115.5,75.5 112.1,76.1 111.3,73.2 115.4,71.4 115.6,75.4ZM115.6,75.4 119.1,74.5 119.1,72.1 118.5,71.4 115.6,71.1 115.4,71.4ZM124.3,75.2 125.5,76.3 129.3,76.5 128.1,71.0 125.2,69.8 124.7,70.7ZM129.9,70.6 128.1,71.0 129.3,76.5 130.5,77.2 133.3,74.3 130.4,70.6ZM141.9,76.1 136.0,73.0 135.4,73.6 137.3,78.4 141.2,77.4ZM142.2,71.4 142.8,75.4 141.9,76.1 136.0,73.0 136.2,72.1 139.8,70.7ZM20.6,79.1 18.7,77.8 14.8,78.4 18.5,83.2 20.9,79.4ZM21.5,73.5 20.6,79.1 20.9,79.4 21.2,79.4 24.3,76.6 22.5,74.2ZM24.3,76.6 27.7,77.1 28.0,78.8 26.4,81.1 24.0,81.7 21.2,79.4ZM28.0,78.8 31.9,80.9 34.1,80.1 33.1,76.3 28.0,76.5 27.7,77.1ZM37.5,78.4 35.6,80.3 34.1,80.1 33.1,76.3 33.7,75.0 36.4,74.2 38.1,76.6ZM37.5,78.4 42.0,81.2 43.0,79.6 43.5,78.3 41.4,75.6 38.1,76.6ZM43.5,78.3 47.5,77.4 47.8,81.2 47.0,82.0 43.0,79.6ZM50.5,77.2 51.2,77.9 51.2,81.2 50.1,82.0 47.8,81.2 47.5,77.4 48.1,76.8ZM51.2,77.9 51.2,81.2 54.2,81.9 55.1,78.7ZM55.8,78.3 59.8,79.9 60.4,78.3 56.7,74.4 55.9,75.0ZM65.0,80.4 60.5,81.4 59.8,79.9 60.4,78.3 61.3,76.7 63.5,76.0 64.8,77.4ZM65.2,80.5 69.8,78.6 70.1,75.9 69.9,75.8 64.8,77.4 65.0,80.4ZM75.0,75.8 72.6,75.6 70.1,75.9 69.8,78.6 71.0,81.3 74.9,81.0 75.2,80.6 75.5,76.4ZM83.3,77.7 83.1,80.6 79.9,81.2 79.9,81.2 78.4,77.1ZM83.3,77.7 83.1,80.6 83.2,80.8 88.6,79.1 87.4,77.0 83.9,76.1ZM89.6,74.7 87.4,77.0 88.6,79.1 89.9,80.1 92.0,80.2 92.4,75.4ZM92.4,75.4 92.0,80.2 93.3,81.7 96.3,80.7 97.5,78.6 94.5,74.9 92.4,75.4ZM97.5,78.6 101.0,76.1 102.1,76.9 102.7,78.7 98.8,82.3 96.3,80.7ZM104.9,79.7 108.6,77.8 106.1,75.4 102.1,76.9 102.7,78.7 103.3,79.5ZM104.9,79.7 108.2,82.7 109.7,78.2 108.6,77.8ZM115.5,75.5 117.8,80.3 116.2,80.9 111.7,77.1 112.1,76.1ZM115.5,75.5 117.8,80.3 118.8,80.2 119.8,79.6 120.6,76.3 119.1,74.5 115.6,75.4ZM124.3,75.2 125.5,76.3 124.3,81.2 124.0,81.4 119.8,79.6 120.6,76.3ZM130.6,78.1 129.0,81.0 124.3,81.2 125.5,76.3 129.3,76.5 130.5,77.2 130.7,78.0ZM130.6,78.1 134.2,82.7 134.6,79.0 130.7,78.0ZM130.7,78.0 130.5,77.2 133.3,74.3 135.4,73.6 137.3,78.4 137.0,79.0 134.6,79.0ZM141.2,77.4 142.3,82.2 137.4,82.2 137.0,79.0 137.3,78.4ZM20.9,79.4 18.5,83.2 18.5,83.7 19.1,85.1 22.8,84.7 24.0,81.7 21.2,79.4ZM26.4,81.1 27.4,84.1 27.3,84.4 23.3,85.1 22.8,84.7 24.0,81.7ZM28.0,78.8 31.9,80.9 31.3,83.9 27.4,84.1 26.4,81.1ZM31.3,83.9 32.0,85.6 37.0,85.3 37.3,85.2 37.5,84.4 35.6,80.3 34.1,80.1 31.9,80.9ZM37.5,78.4 35.6,80.3 37.5,84.4 41.9,82.7 42.0,81.2ZM42.0,81.2 41.9,82.7 43.7,84.4 45.5,84.5 45.9,84.2 47.0,82.0 43.0,79.6ZM47.0,82.0 45.9,84.2 50.7,85.1 50.1,82.0 47.8,81.2ZM50.1,82.0 51.2,81.2 54.2,81.9 54.6,83.3 51.9,86.5 51.9,86.5 50.7,85.1ZM55.8,78.3 59.8,79.9 60.5,81.4 60.1,83.1 58.5,84.1 54.6,83.3 54.2,81.9 55.1,78.7ZM65.2,80.5 66.6,83.1 64.0,85.5 61.0,84.0 60.1,83.1 60.5,81.4 65.0,80.4ZM70.4,82.8 75.8,85.4 74.9,81.0 71.0,81.3ZM79.9,81.2 75.2,80.6 74.9,81.0 75.8,85.4 75.8,85.5 78.5,85.7 79.9,81.2ZM79.9,81.2 78.5,85.7 79.6,86.8 84.2,84.8 84.8,83.7 83.2,80.8 83.1,80.6ZM88.6,79.1 83.2,80.8 84.8,83.7 85.8,83.7 89.9,80.1ZM92.0,80.2 93.3,81.7 93.0,83.8 92.6,84.7 89.3,85.9 85.8,83.7 89.9,80.1ZM93.3,81.7 93.0,83.8 98.9,86.6 100.3,84.6 98.8,82.3 96.3,80.7ZM103.3,79.5 103.1,84.3 100.3,84.6 98.8,82.3 102.7,78.7ZM104.9,79.7 108.2,82.7 108.3,83.5 106.5,85.5 105.4,85.3 103.3,84.4 103.1,84.3 103.3,79.5ZM110.9,77.7 109.7,78.2 108.2,82.7 108.3,83.5 110.6,83.7 112.5,83.0ZM111.7,77.1 110.9,77.7 112.5,83.0 114.7,83.3 116.2,80.9ZM116.2,80.9 114.7,83.3 115.4,85.6 117.0,86.6 119.0,85.6 119.7,84.5 118.8,80.2 117.8,80.3ZM124.0,81.4 123.9,84.2 123.8,84.3 119.7,84.5 118.8,80.2 119.8,79.6ZM124.0,81.4 123.9,84.2 128.4,85.1 129.6,83.5 129.0,81.0 124.3,81.2ZM130.6,78.1 129.0,81.0 129.6,83.5 133.5,84.8 134.9,84.0 134.2,82.7ZM134.2,82.7 134.9,84.0 135.8,84.0 137.4,82.2 137.0,79.0 134.6,79.0ZM143.0,82.7 139.6,87.3 137.0,85.7 135.8,84.0 137.4,82.2 142.3,82.2ZM23.3,85.1 24.2,87.0 23.4,88.1 18.7,87.0 18.6,86.6 19.1,85.1 22.8,84.7ZM27.3,84.4 27.5,87.9 24.2,87.0 23.3,85.1ZM27.3,84.4 27.5,87.9 27.9,88.4 31.2,87.6 32.0,85.6 31.3,83.9 27.4,84.1ZM32.0,85.6 37.0,85.3 34.8,90.4 33.6,90.8 31.2,87.6ZM40.0,88.4 41.9,88.2 43.7,84.4 41.9,82.7 37.5,84.4 37.3,85.2ZM43.7,90.0 46.8,88.1 45.5,84.5 43.7,84.4 41.9,88.2ZM48.0,88.6 46.8,88.1 45.5,84.5 45.9,84.2 50.7,85.1 51.9,86.5 51.4,87.1ZM61.2,89.7 61.0,84.0 60.1,83.1 58.5,84.1 57.2,89.3 60.5,89.9ZM61.2,89.7 61.0,84.0 64.0,85.5 65.1,89.0 64.4,89.8 64.4,89.8ZM69.5,84.1 69.9,87.2 69.5,88.1 65.1,89.0 64.0,85.5 66.6,83.1ZM70.4,82.8 69.5,84.1 69.9,87.2 75.2,86.1 75.8,85.5 75.8,85.4ZM78.5,85.7 75.8,85.5 75.2,86.1 75.2,91.5 79.8,88.0 79.6,86.8ZM79.6,86.8 79.8,88.0 80.5,88.9 84.9,88.1 84.2,84.8ZM84.8,83.7 85.8,83.7 89.3,85.9 88.6,88.4 85.3,88.7 84.9,88.1 84.2,84.8ZM88.8,88.9 88.6,88.4 89.3,85.9 92.6,84.7 93.8,88.8 92.5,90.0ZM97.6,90.3 93.8,88.8 92.6,84.7 93.0,83.8 98.9,86.6 98.7,88.7ZM100.3,84.6 98.9,86.6 98.7,88.7 101.9,88.9 103.3,84.4 103.1,84.3ZM105.4,85.3 102.5,89.3 101.9,88.9 103.3,84.4ZM112.3,88.1 111.8,88.9 107.7,89.1 106.5,85.5 108.3,83.5 110.6,83.7ZM114.7,83.3 115.4,85.6 112.3,88.1 110.6,83.7 112.5,83.0ZM120.7,90.7 117.3,88.7 117.0,86.6 119.0,85.6 122.6,88.6 122.4,89.2ZM119.0,85.6 119.7,84.5 123.8,84.3 123.6,87.6 122.6,88.6ZM128.5,88.7 123.6,87.6 123.8,84.3 123.9,84.2 128.4,85.1ZM134.9,84.0 135.8,84.0 137.0,85.7 134.7,91.3 134.1,91.7 132.0,89.3 133.5,84.8ZM26.9,91.6 27.9,88.4 27.5,87.9 24.2,87.0 23.4,88.1 22.9,91.1 23.9,92.0ZM34.8,90.4 37.0,85.3 37.3,85.2 40.0,88.4 38.5,91.6ZM38.5,91.6 39.2,93.1 42.4,94.0 43.8,93.0 43.7,90.0 41.9,88.2 40.0,88.4ZM48.4,92.9 48.0,88.6 46.8,88.1 43.7,90.0 43.8,93.0 47.3,93.7ZM48.4,92.9 48.0,88.6 51.4,87.1 51.9,92.2 50.5,92.9ZM51.9,92.2 55.5,92.7 57.0,89.4 51.9,86.5 51.9,86.5 51.4,87.1ZM61.2,89.7 64.4,89.8 62.3,94.6 61.5,94.8 60.5,94.0 60.5,89.9ZM64.4,89.8 65.1,89.0 69.5,88.1 70.2,89.3 68.6,93.9 66.4,93.5ZM69.9,87.2 69.5,88.1 70.2,89.3 74.2,91.9 75.1,91.6 75.2,91.5 75.2,86.1ZM79.4,94.0 75.1,91.6 75.2,91.5 79.8,88.0 80.5,88.9 81.2,91.1ZM81.2,91.1 80.5,88.9 84.9,88.1 85.3,88.7 84.6,91.4ZM84.7,91.6 84.6,91.4 85.3,88.7 88.6,88.4 88.8,88.9 88.3,93.1ZM88.3,93.1 88.8,88.9 92.5,90.0 92.1,91.4 91.3,92.8 89.1,93.9 88.9,93.9ZM96.7,93.3 97.8,91.5 97.6,90.3 93.8,88.8 92.5,90.0 92.1,91.4ZM101.7,93.2 97.8,91.5 97.6,90.3 98.7,88.7 101.9,88.9 102.5,89.3 103.8,90.8ZM103.8,90.8 102.5,89.3 105.4,85.3 106.5,85.5 107.7,89.1 107.1,90.4ZM117.0,86.6 115.4,85.6 112.3,88.1 111.8,88.9 113.4,91.0 114.8,91.5 117.3,88.7ZM120.6,91.6 116.1,93.9 114.8,91.5 117.3,88.7 120.7,90.7ZM120.6,91.6 120.7,90.7 122.4,89.2 125.2,91.6 121.8,93.9ZM122.4,89.2 122.6,88.6 123.6,87.6 128.5,88.7 128.7,88.9 127.3,91.8 126.6,92.2 125.2,91.6ZM129.9,94.2 134.1,92.7 134.1,91.7 132.0,89.3 128.7,88.9 127.3,91.8ZM139.8,87.7 139.6,87.3 137.0,85.7 134.7,91.3 139.7,90.0ZM142.3,91.7 141.1,91.5 139.7,90.0 139.8,87.7 143.7,87.7 144.4,89.4ZM19.2,95.5 19.6,90.1 22.9,91.1 23.9,92.0 22.3,95.7ZM22.3,95.7 23.9,92.0 26.9,91.6 27.0,91.8 27.7,97.0 23.6,97.6ZM27.0,91.8 32.5,93.1 32.8,94.8 27.7,97.0 27.7,97.0ZM32.8,94.8 33.7,95.8 36.6,96.3 39.2,93.1 38.5,91.6 34.8,90.4 33.6,90.8 32.5,93.1ZM39.4,98.8 42.5,95.9 42.4,94.0 39.2,93.1 36.6,96.3 37.8,98.4ZM46.5,97.9 44.1,98.0 42.5,95.9 42.4,94.0 43.8,93.0 47.3,93.7 47.6,95.9ZM47.6,95.9 47.3,93.7 48.4,92.9 50.5,92.9 52.1,97.9 51.7,98.2ZM55.9,95.5 55.2,97.0 52.1,97.9 50.5,92.9 51.9,92.2 55.5,92.7 56.0,94.1ZM60.5,94.0 56.0,94.1 55.9,95.5 60.8,97.2 61.5,94.8ZM64.4,89.8 64.4,89.8 66.4,93.5 64.8,95.6 62.3,94.6ZM66.4,93.5 68.6,93.9 69.7,95.3 68.6,97.8 65.5,98.1 64.8,95.6ZM69.7,95.3 68.6,93.9 70.2,89.3 74.2,91.9 73.0,95.0ZM73.0,95.0 74.2,91.9 75.1,91.6 79.4,94.0 80.1,96.4 73.7,96.2ZM83.1,96.2 80.1,96.4 80.1,96.4 79.4,94.0 81.2,91.1 84.6,91.4 84.7,91.6ZM83.1,96.2 84.7,91.6 88.3,93.1 88.9,93.9 87.3,97.4 84.7,96.9ZM95.6,95.0 91.3,92.8 89.1,93.9 93.4,96.7ZM96.2,94.8 96.7,93.3 97.8,91.5 101.7,93.2 102.8,96.3 102.5,96.8 96.6,95.3ZM105.7,95.9 107.7,92.7 107.1,90.4 103.8,90.8 101.7,93.2 102.8,96.3ZM105.7,95.9 108.7,99.1 110.4,94.1 107.7,92.7ZM116.1,93.9 115.9,95.4 113.6,96.5 110.4,94.1 113.4,91.0 114.8,91.5ZM120.6,91.6 116.1,93.9 115.9,95.4 117.1,96.4 120.7,97.2 122.2,95.5 121.8,93.9ZM121.8,93.9 122.2,95.5 125.2,95.8 126.6,92.2 125.2,91.6ZM129.3,95.8 131.4,98.3 134.7,94.1 134.1,92.7 129.9,94.2ZM141.1,91.5 138.9,95.4 137.0,96.0 134.7,94.1 134.1,92.7 134.1,91.7 134.7,91.3 139.7,90.0ZM142.3,91.7 141.1,91.5 138.9,95.4 143.4,97.6 145.0,96.9 145.6,96.4 145.0,94.8ZM17.5,96.2 15.3,95.8 15.1,99.6 18.5,102.5 19.1,102.4 19.8,101.6ZM17.5,96.2 19.8,101.6 23.0,100.6 23.6,97.6 22.3,95.7 19.2,95.5ZM23.6,97.6 27.7,97.0 27.7,97.0 29.0,99.9 29.0,100.2 23.7,101.3 23.0,100.6ZM27.7,97.0 32.8,94.8 33.7,95.8 32.6,99.0 29.0,99.9ZM33.7,95.8 36.6,96.3 37.8,98.4 36.3,100.8 33.3,100.1 32.6,99.0ZM44.1,98.0 42.5,95.9 39.4,98.8 41.1,101.1 43.2,100.4ZM46.5,97.9 44.1,98.0 43.2,100.4 47.1,103.0 47.4,102.7 48.1,101.2ZM46.5,97.9 48.1,101.2 51.2,99.4 51.7,98.2 47.6,95.9ZM51.7,98.2 52.1,97.9 55.2,97.0 57.4,100.6 56.9,101.6 52.7,101.5 51.2,99.4ZM55.9,95.5 55.2,97.0 57.4,100.6 59.9,100.0 61.1,98.8 60.8,97.2ZM62.3,94.6 64.8,95.6 65.5,98.1 64.6,99.2 61.1,98.8 60.8,97.2 61.5,94.8ZM66.7,102.9 68.9,98.4 68.6,97.8 65.5,98.1 64.6,99.2 65.2,102.0ZM68.9,98.4 71.0,100.3 73.7,99.2 73.7,96.2 73.0,95.0 69.7,95.3 68.6,97.8ZM73.7,96.2 80.1,96.4 80.1,96.4 79.2,100.2 78.9,100.7 74.5,99.8 73.7,99.2ZM83.1,96.2 80.1,96.4 79.2,100.2 83.1,100.9 84.7,96.9ZM84.7,96.9 83.1,100.9 84.0,101.5 88.1,101.5 88.4,99.9 87.3,97.4ZM93.4,96.7 89.1,93.9 88.9,93.9 87.3,97.4 88.4,99.9 92.7,98.9ZM95.6,101.3 92.7,98.9 93.4,96.7 95.6,95.0 96.2,94.8 96.6,95.3 97.6,99.6 96.2,101.4ZM96.6,95.3 102.5,96.8 102.3,97.5 101.4,98.9 97.6,99.6ZM107.2,101.8 109.1,100.1 108.7,99.1 105.7,95.9 102.8,96.3 102.5,96.8 102.3,97.5ZM117.1,96.4 115.9,95.4 113.6,96.5 111.6,100.3 112.2,100.9 113.4,101.0 116.7,99.4ZM121.1,99.6 120.7,97.2 117.1,96.4 116.7,99.4 119.7,103.1ZM126.3,98.9 126.1,96.8 125.2,95.8 122.2,95.5 120.7,97.2 121.1,99.6 125.8,100.1ZM126.3,98.9 126.1,96.8 129.3,95.8 131.4,98.3 131.4,99.8ZM131.6,100.2 134.0,100.2 137.0,97.2 137.0,96.0 134.7,94.1 131.4,98.3 131.4,99.8ZM135.1,101.5 138.2,99.3 137.0,97.2 134.0,100.2ZM143.4,97.6 141.1,101.4 140.1,101.9 138.2,99.3 137.0,97.2 137.0,96.0 138.9,95.4ZM19.8,101.6 19.1,102.4 19.6,103.9 25.3,104.8 23.7,101.3 23.0,100.6ZM23.7,101.3 29.0,100.2 29.5,104.1 28.9,104.6 25.6,105.4 25.3,104.8ZM29.0,100.2 29.5,104.1 32.3,104.0 33.3,100.1 32.6,99.0 29.0,99.9ZM32.3,104.0 33.3,100.1 36.3,100.8 36.7,104.0 32.9,104.3ZM40.3,104.4 41.1,101.1 39.4,98.8 37.8,98.4 36.3,100.8 36.7,104.0 37.9,104.9ZM42.0,105.6 45.9,105.1 47.1,103.0 43.2,100.4 41.1,101.1 40.3,104.4ZM48.1,101.2 47.4,102.7 51.7,104.7 52.3,104.3 52.7,101.5 51.2,99.4ZM56.9,104.0 56.9,101.6 52.7,101.5 52.3,104.3 56.1,104.5ZM56.9,104.0 59.7,106.3 61.2,106.7 62.2,103.9 59.9,100.0 57.4,100.6 56.9,101.6ZM66.7,102.9 68.6,104.6 69.9,104.6 71.0,100.3 68.9,98.4ZM78.8,104.2 78.9,100.7 74.5,99.8 73.7,104.9 73.8,104.9ZM79.3,104.9 82.3,105.0 84.0,101.5 83.1,100.9 79.2,100.2 78.9,100.7 78.8,104.2ZM82.8,105.2 82.3,105.0 84.0,101.5 88.1,101.5 88.4,103.2ZM91.5,104.1 88.6,103.5 88.4,103.2 88.1,101.5 88.4,99.9 92.7,98.9 95.6,101.3ZM98.0,105.5 92.7,105.5 91.5,104.1 95.6,101.3 96.2,101.4 98.1,105.3ZM98.1,105.3 96.2,101.4 97.6,99.6 101.4,98.9 102.4,103.1 100.9,104.8ZM102.4,103.1 101.4,98.9 102.3,97.5 107.2,101.8 106.6,103.0ZM110.0,106.2 112.3,105.9 112.7,104.6 112.2,100.9 111.6,100.3 109.1,100.1 107.2,101.8 106.6,103.0 106.7,103.4ZM117.7,104.2 118.6,103.5 113.4,101.0 112.2,100.9 112.7,104.6ZM119.7,103.1 119.7,103.1 118.6,103.5 113.4,101.0 116.7,99.4ZM126.1,104.0 125.8,100.1 121.1,99.6 119.7,103.1 119.7,103.1 120.5,103.9 124.1,104.8ZM126.1,104.0 125.8,100.1 126.3,98.9 131.4,99.8 131.6,100.2 130.6,103.1 128.6,104.9ZM130.6,103.1 135.2,104.8 137.0,104.3 135.1,101.5 134.0,100.2 131.6,100.2ZM137.0,104.3 138.1,104.6 138.9,104.1 140.1,101.9 138.2,99.3 135.1,101.5ZM143.6,106.8 138.9,104.1 140.1,101.9 141.1,101.4 145.6,103.4 144.8,106.8ZM19.1,102.4 18.5,102.5 14.6,104.6 14.2,105.5 14.2,105.8 19.5,109.1 20.4,108.2 19.6,103.9ZM19.6,103.9 20.4,108.2 23.8,107.8 24.8,106.9 25.6,105.4 25.3,104.8ZM25.6,105.4 28.9,104.6 30.0,107.6 28.8,110.5 24.8,106.9ZM29.5,104.1 32.3,104.0 32.9,104.3 33.4,108.7 30.0,107.6 28.9,104.6ZM37.0,108.0 36.6,109.0 33.8,109.1 33.4,108.7 32.9,104.3 36.7,104.0 37.9,104.9ZM41.7,108.4 37.0,108.0 37.9,104.9 40.3,104.4 42.0,105.6 41.9,108.2ZM41.9,108.2 45.6,110.9 47.3,108.0 45.9,105.1 42.0,105.6ZM47.3,108.0 45.9,105.1 47.1,103.0 47.4,102.7 51.7,104.7 51.7,106.9 50.3,108.5ZM56.9,104.0 59.7,106.3 55.6,109.4 54.6,107.6 56.1,104.5ZM66.7,102.9 68.6,104.6 65.6,107.8 62.0,107.9 61.2,106.7 62.2,103.9 65.2,102.0ZM70.5,111.3 69.4,112.0 67.6,110.7 65.6,107.8 68.6,104.6 69.9,104.6 70.3,104.8 70.7,107.4ZM70.7,107.4 70.3,104.8 73.7,104.9 73.8,104.9 74.6,108.1 74.3,108.8ZM79.3,104.9 79.0,107.3 74.6,108.1 73.8,104.9 78.8,104.2ZM79.3,104.9 82.3,105.0 82.8,105.2 84.8,108.7 83.9,109.9 79.3,108.9 79.0,107.3ZM84.8,108.7 88.1,107.9 88.6,103.5 88.4,103.2 82.8,105.2ZM92.7,108.1 88.3,108.2 88.1,107.9 88.6,103.5 91.5,104.1 92.7,105.5ZM98.0,105.5 92.7,105.5 92.7,108.1 93.8,109.1 97.9,106.0ZM98.0,105.5 97.9,106.0 98.4,107.8 102.1,110.2 102.9,107.3 100.9,104.8 98.1,105.3ZM106.7,103.4 106.6,103.0 102.4,103.1 100.9,104.8 102.9,107.3 105.6,107.5ZM110.0,106.2 107.5,110.4 105.6,107.5 106.7,103.4ZM113.8,108.3 115.3,109.1 117.7,104.2 112.7,104.6 112.3,105.9ZM120.9,109.1 123.7,109.3 124.1,104.8 120.5,103.9 119.9,107.5ZM126.1,104.0 128.6,104.9 129.7,108.0 127.6,110.2 124.0,109.8 123.7,109.3 124.1,104.8ZM129.7,108.0 131.9,108.9 135.2,104.8 130.6,103.1 128.6,104.9ZM137.0,104.3 138.1,104.6 138.0,108.6 133.8,111.1 131.9,108.9 135.2,104.8ZM143.6,106.8 138.9,104.1 138.1,104.6 138.0,108.6 139.9,110.2 140.4,110.2ZM20.4,108.2 19.5,109.1 19.0,111.0 19.2,111.5 22.1,113.6 25.0,111.8 23.8,107.8ZM23.8,107.8 25.0,111.8 27.8,113.1 29.2,112.5 28.8,110.5 24.8,106.9ZM30.0,107.6 28.8,110.5 29.2,112.5 30.5,112.9 32.1,111.8 33.8,109.1 33.4,108.7ZM38.3,111.5 36.7,113.5 32.1,111.8 33.8,109.1 36.6,109.0ZM41.7,108.4 39.7,111.7 38.3,111.5 36.6,109.0 37.0,108.0ZM41.7,108.4 39.7,111.7 42.5,113.9 45.5,112.3 45.6,110.9 41.9,108.2ZM45.5,112.3 47.4,113.4 51.8,111.9 50.3,108.5 47.3,108.0 45.6,110.9ZM50.3,108.5 51.7,106.9 54.6,107.6 55.6,109.4 55.6,109.9 52.2,112.1 51.8,111.9ZM55.6,109.9 55.6,109.4 59.7,106.3 61.2,106.7 62.0,107.9 61.2,111.9 58.2,112.0ZM62.3,112.9 67.6,110.7 65.6,107.8 62.0,107.9 61.2,111.9 61.7,112.7ZM65.2,114.7 62.3,112.9 67.6,110.7 69.4,112.0 69.3,112.1ZM70.5,111.3 74.4,111.6 74.3,108.8 70.7,107.4ZM74.4,111.6 74.9,112.0 78.9,109.7 79.3,108.9 79.0,107.3 74.6,108.1 74.3,108.8ZM83.9,112.2 79.9,112.0 78.9,109.7 79.3,108.9 83.9,109.9 84.0,111.9ZM84.0,111.9 83.9,109.9 84.8,108.7 88.1,107.9 88.3,108.2 89.3,111.5 88.9,112.0ZM93.8,109.1 93.9,111.6 92.7,112.1 89.3,111.5 88.3,108.2 92.7,108.1ZM97.9,106.0 93.8,109.1 93.9,111.6 96.3,112.8 97.7,112.2 98.4,107.8ZM102.1,110.2 102.3,110.9 100.0,112.7 97.7,112.2 98.4,107.8ZM107.5,110.4 107.7,111.9 107.2,112.4 107.1,112.5 102.3,110.9 102.1,110.2 102.9,107.3 105.6,107.5ZM110.0,106.2 112.3,105.9 113.8,108.3 108.1,111.9 107.7,111.9 107.5,110.4ZM115.6,112.2 116.2,111.6 115.7,109.6 115.3,109.1 113.8,108.3 108.1,111.9 109.4,112.5ZM116.2,111.6 118.8,112.7 120.9,109.1 119.9,107.5 115.7,109.6ZM120.9,109.1 123.7,109.3 124.0,109.8 123.3,112.0 119.1,113.0 118.8,112.7ZM125.0,114.9 127.7,113.9 127.8,113.8 127.6,110.2 124.0,109.8 123.3,112.0ZM127.6,110.2 127.8,113.8 131.1,114.4 133.1,113.0 133.8,112.0 133.8,111.1 131.9,108.9 129.7,108.0ZM133.8,112.0 138.5,115.1 139.9,110.2 138.0,108.6 133.8,111.1ZM27.8,113.1 25.7,116.9 23.1,117.5 22.1,113.6 25.0,111.8ZM29.2,112.5 27.8,113.1 25.7,116.9 28.2,118.8 29.7,119.0 31.7,115.5 30.5,112.9ZM32.1,111.8 36.7,113.5 36.0,116.5 33.8,116.2 31.7,115.5 30.5,112.9ZM42.5,113.9 39.7,111.7 38.3,111.5 36.7,113.5 36.0,116.5 37.4,118.5 42.3,115.3ZM45.5,112.3 42.5,113.9 42.3,115.3 43.7,117.4 48.3,117.0 47.4,113.4ZM47.4,113.4 48.3,117.0 49.1,117.8 49.8,117.7 52.9,113.9 52.2,112.1 51.8,111.9ZM52.9,113.9 55.5,115.6 58.2,112.0 55.6,109.9 52.2,112.1ZM55.5,115.6 55.8,116.5 60.2,116.4 60.8,115.6 61.7,112.7 61.2,111.9 58.2,112.0ZM65.7,117.0 64.1,118.2 60.8,115.6 61.7,112.7 62.3,112.9 65.2,114.7ZM65.7,117.0 67.9,117.9 70.1,116.4 69.3,112.1 65.2,114.7ZM70.5,111.3 69.4,112.0 69.3,112.1 70.1,116.4 73.7,117.8 75.9,115.6 74.9,112.0 74.4,111.6ZM74.9,112.0 78.9,109.7 79.9,112.0 79.8,114.9 77.2,115.9 75.9,115.6ZM83.9,112.2 79.9,112.0 79.8,114.9 83.9,115.9ZM83.9,112.2 83.9,115.9 84.0,116.1 87.8,115.9 88.9,112.0 84.0,111.9ZM88.9,112.0 89.3,111.5 92.7,112.1 91.8,115.8 89.3,117.0 87.8,115.9ZM96.1,115.9 94.6,116.9 91.8,115.8 92.7,112.1 93.9,111.6 96.3,112.8ZM101.3,115.8 98.2,117.5 96.1,115.9 96.3,112.8 97.7,112.2 100.0,112.7ZM107.1,112.5 102.3,110.9 100.0,112.7 101.3,115.8 102.7,116.3 105.0,115.4ZM113.6,116.7 111.6,118.2 109.9,118.0 107.2,112.4 107.7,111.9 108.1,111.9 109.4,112.5ZM131.2,118.0 128.5,118.6 127.7,113.9 127.8,113.8 131.1,114.4ZM132.5,119.0 131.2,118.0 131.1,114.4 133.1,113.0 134.8,117.9ZM134.8,117.9 137.7,117.9 139.0,116.3 138.5,115.1 133.8,112.0 133.1,113.0ZM23.5,124.1 25.6,123.3 28.2,118.8 25.7,116.9 23.1,117.5 22.8,117.8 23.0,121.7ZM33.8,116.2 32.4,120.2 35.2,121.4 37.2,121.2 37.5,121.0 37.4,118.5 36.0,116.5ZM48.3,117.0 49.1,117.8 48.2,120.9 47.6,121.4 43.6,120.3 43.7,117.4ZM53.9,119.4 49.8,117.7 49.1,117.8 48.2,120.9 51.7,122.0ZM55.3,119.2 55.8,116.5 55.5,115.6 52.9,113.9 49.8,117.7 53.9,119.4ZM55.3,119.2 55.8,116.5 60.2,116.4 60.3,119.9 56.7,121.0ZM63.0,120.8 64.1,118.2 60.8,115.6 60.2,116.4 60.3,119.9 61.6,120.5ZM63.0,120.8 64.1,118.2 65.7,117.0 67.9,117.9 68.0,120.5 65.1,122.6 64.3,122.6ZM67.9,117.9 68.0,120.5 70.9,122.1 73.7,120.1 73.7,117.8 70.1,116.4ZM80.2,121.0 77.2,115.9 75.9,115.6 73.7,117.8 73.7,120.1 75.2,121.5 78.4,122.6ZM82.7,120.6 80.2,121.0 77.2,115.9 79.8,114.9 83.9,115.9 84.0,116.1 83.0,120.2ZM88.8,121.7 90.1,120.6 89.3,117.0 87.8,115.9 84.0,116.1 83.0,120.2ZM91.8,121.1 90.1,120.6 89.3,117.0 91.8,115.8 94.6,116.9 93.8,120.4ZM98.5,120.9 98.2,117.5 96.1,115.9 94.6,116.9 93.8,120.4 97.2,121.7ZM101.3,115.8 98.2,117.5 98.5,120.9 101.5,121.5 102.4,120.7 102.7,116.3ZM105.0,115.4 107.2,119.8 106.8,120.7 102.4,120.7 102.7,116.3ZM107.1,112.5 107.2,112.4 109.9,118.0 107.2,119.8 105.0,115.4ZM113.7,116.6 116.3,118.2 116.7,120.4 114.7,122.3 111.7,119.0 111.6,118.2 113.6,116.7ZM121.9,117.1 118.9,121.4 116.7,120.4 116.3,118.2 119.8,115.8ZM121.9,117.1 118.9,121.4 119.5,122.2 123.9,122.4 125.5,121.0 123.5,117.4ZM123.5,117.4 125.5,121.0 125.7,121.0 128.5,118.6 127.7,113.9 125.0,114.9ZM125.9,121.2 125.7,121.0 128.5,118.6 131.2,118.0 132.5,119.0 132.6,120.9 128.2,121.7ZM132.5,119.0 132.6,120.9 133.2,122.2 134.0,122.7 136.2,122.7 137.8,121.3 137.7,117.9 134.8,117.9ZM29.9,122.9 30.4,120.0 29.7,119.0 28.2,118.8 25.6,123.3 29.3,123.5ZM29.9,122.9 32.7,123.6 35.2,121.4 32.4,120.2 30.4,120.0ZM35.2,121.4 32.7,123.6 32.8,124.9 36.6,125.6 37.3,124.8 37.2,121.2ZM43.1,125.2 42.0,121.7 37.5,121.0 37.2,121.2 37.3,124.8 41.1,127.3ZM46.3,125.7 47.5,124.5 47.6,121.4 43.6,120.3 42.0,121.7 43.1,125.2ZM52.6,124.9 51.9,125.9 47.5,124.5 47.6,121.4 48.2,120.9 51.7,122.0ZM55.3,119.2 56.7,121.0 56.6,123.3 52.6,124.9 51.7,122.0 53.9,119.4ZM59.8,123.9 57.4,124.3 56.6,123.3 56.7,121.0 60.3,119.9 61.6,120.5ZM63.3,124.6 64.3,122.6 63.0,120.8 61.6,120.5 59.8,123.9 62.8,124.7ZM69.3,126.4 70.8,123.4 70.9,122.1 68.0,120.5 65.1,122.6ZM70.9,122.1 73.7,120.1 75.2,121.5 74.0,124.8 70.8,123.4ZM78.4,123.2 77.8,125.1 74.0,124.9 74.0,124.8 75.2,121.5 78.4,122.6ZM84.1,125.4 82.5,126.5 78.4,123.2 78.4,122.6 80.2,121.0 82.7,120.6ZM84.1,125.4 82.7,120.6 83.0,120.2 88.8,121.7 87.6,126.4ZM87.6,126.4 88.4,127.7 93.2,125.6 91.8,121.1 90.1,120.6 88.8,121.7ZM96.5,125.8 97.2,121.7 93.8,120.4 91.8,121.1 93.2,125.6 93.4,125.7ZM97.7,127.2 101.9,123.3 101.5,121.5 98.5,120.9 97.2,121.7 96.5,125.8ZM101.9,123.3 103.4,125.2 106.5,124.7 107.6,122.5 106.8,120.7 102.4,120.7 101.5,121.5ZM111.7,119.0 111.6,118.2 109.9,118.0 107.2,119.8 106.8,120.7 107.6,122.5 110.6,123.0ZM111.7,119.0 114.7,122.3 113.9,124.2 112.4,124.5 110.6,123.0ZM118.9,121.4 116.7,120.4 114.7,122.3 113.9,124.2 115.7,125.5 118.6,125.1 119.5,122.2ZM120.7,127.3 118.6,125.1 119.5,122.2 123.9,122.4 123.6,123.8 121.5,127.3ZM128.8,127.3 128.7,127.3 125.9,121.2 128.2,121.7 130.9,123.9 129.9,127.0ZM130.9,123.9 133.2,122.2 132.6,120.9 128.2,121.7ZM23.5,124.1 23.6,124.5 25.3,128.6 26.6,128.8 30.3,127.4 29.3,123.5 25.6,123.3 23.5,124.1ZM29.9,122.9 32.7,123.6 32.8,124.9 31.4,127.7 30.3,127.4 29.3,123.5ZM41.1,127.5 38.1,131.0 36.9,130.6 35.0,128.8 36.6,125.6 37.3,124.8 41.1,127.3ZM46.8,129.1 42.8,129.4 41.1,127.5 41.1,127.3 43.1,125.2 46.3,125.7ZM46.8,129.1 47.5,130.1 49.9,129.8 52.3,128.2 51.9,125.9 47.5,124.5 46.3,125.7ZM54.9,129.6 58.1,128.1 58.1,127.5 57.4,124.3 56.6,123.3 52.6,124.9 51.9,125.9 52.3,128.2 54.3,129.5ZM63.3,124.6 63.9,127.9 58.2,128.2 58.1,128.1 58.1,127.5 62.8,124.7ZM66.0,129.2 69.1,128.1 69.4,127.8 69.3,126.4 65.1,122.6 64.3,122.6 63.3,124.6 63.9,127.9 64.8,129.0ZM69.4,127.8 73.4,128.4 74.0,124.9 74.0,124.8 70.8,123.4 69.3,126.4ZM79.7,128.8 82.4,126.6 82.5,126.5 78.4,123.2 77.8,125.1 77.6,127.6ZM88.4,128.1 88.4,128.0 88.4,127.7 87.6,126.4 84.1,125.4 82.5,126.5 82.4,126.6 84.3,130.3ZM93.5,130.8 88.4,128.0 88.4,127.7 93.2,125.6 93.4,125.7ZM96.3,129.4 93.5,130.9 93.5,130.8 93.4,125.7 96.5,125.8 97.7,127.2 97.7,127.3ZM101.6,129.3 102.3,128.9 103.4,125.2 101.9,123.3 97.7,127.2 97.7,127.3ZM105.9,129.5 108.1,128.1 106.5,124.7 103.4,125.2 102.3,128.9ZM110.6,123.0 107.6,122.5 106.5,124.7 108.1,128.1 109.8,128.4 111.0,127.4 112.4,124.5ZM112.4,124.5 111.0,127.4 115.8,129.5 115.7,125.5 113.9,124.2ZM120.7,127.3 118.6,125.1 115.7,125.5 115.8,129.5 116.0,129.9 119.3,129.2ZM121.5,127.3 123.6,123.8 126.8,128.3 125.1,129.8ZM123.9,122.4 123.6,123.8 126.8,128.3 128.7,127.3 125.9,121.2 125.7,121.0 125.5,121.0ZM133.1,127.7 134.0,122.7 133.2,122.2 130.9,123.9 129.9,127.0ZM31.8,131.6 32.7,128.9 31.4,127.7 30.3,127.4 26.6,128.8 28.4,131.4ZM36.9,130.6 35.0,128.8 32.7,128.9 31.8,131.6 32.3,134.7 33.9,134.9ZM41.1,127.5 38.1,131.0 39.3,132.7 39.9,133.0 42.6,131.7 42.8,129.4ZM46.8,132.4 47.5,130.1 46.8,129.1 42.8,129.4 42.6,131.7 45.4,133.3ZM51.2,136.1 46.8,132.4 47.5,130.1 49.9,129.8 51.8,134.4 51.7,135.8ZM51.8,134.4 49.9,129.8 52.3,128.2 54.3,129.5ZM60.5,132.7 58.2,128.2 58.1,128.1 54.9,129.6 55.9,132.4ZM64.8,129.0 63.9,127.9 58.2,128.2 60.5,132.7 61.1,133.3ZM66.7,133.7 70.0,132.4 69.1,128.1 66.0,129.2ZM70.8,133.2 70.0,132.4 69.1,128.1 69.4,127.8 73.4,128.4 74.1,129.0 74.7,133.0 74.4,133.4ZM79.7,132.1 74.7,133.0 74.1,129.0 77.6,127.6 79.7,128.8 80.4,131.3ZM84.6,134.3 88.4,133.3 88.4,128.1 84.3,130.3 83.1,131.9ZM88.4,133.3 88.7,133.6 91.4,133.4 93.5,131.7 93.5,130.9 93.5,130.8 88.4,128.0 88.4,128.1ZM98.1,132.9 95.9,134.5 93.5,131.7 93.5,130.9 96.3,129.4ZM98.1,132.9 96.3,129.4 97.7,127.3 101.6,129.3 101.1,132.7ZM101.1,132.7 101.7,133.7 102.5,133.9 106.3,133.5 105.9,129.5 102.3,128.9 101.6,129.3ZM110.4,130.0 113.1,132.7 115.2,131.9 116.0,129.9 115.8,129.5 111.0,127.4 109.8,128.4ZM119.3,129.2 116.0,129.9 115.2,131.9 115.2,131.9 119.7,133.1 120.4,131.9ZM120.7,127.3 119.3,129.2 120.4,131.9 124.6,131.8 125.0,130.9 125.1,129.8 121.5,127.3ZM38.1,131.0 39.3,132.7 35.9,136.4 33.9,134.9 36.9,130.6ZM41.8,137.0 39.9,133.0 39.3,132.7 35.9,136.4 36.1,136.8 40.9,137.5ZM42.1,137.1 44.4,135.8 45.4,133.3 42.6,131.7 39.9,133.0 41.8,137.0ZM51.1,136.2 47.8,138.0 44.4,135.8 45.4,133.3 46.8,132.4 51.2,136.1ZM51.7,135.8 51.8,134.4 54.3,129.5 54.9,129.6 55.9,132.4 55.4,135.0 53.6,136.1ZM61.1,133.3 60.5,132.7 55.9,132.4 55.4,135.0 61.2,135.9 61.4,135.8ZM66.1,135.3 62.3,136.1 61.4,135.8 61.1,133.3 64.8,129.0 66.0,129.2 66.7,133.7ZM66.1,135.3 68.6,137.0 68.9,136.9 70.8,133.2 70.0,132.4 66.7,133.7ZM74.4,133.4 74.7,133.0 79.7,132.1 79.7,136.0 74.7,135.6ZM80.8,137.3 84.0,136.6 84.6,134.3 83.1,131.9 80.4,131.3 79.7,132.1 79.7,136.0ZM88.4,139.8 84.7,137.5 84.0,136.6 84.6,134.3 88.4,133.3 88.7,133.6 89.2,136.6ZM89.2,136.6 88.7,133.6 91.4,133.4 92.6,136.1ZM94.5,137.4 95.7,136.9 95.9,134.5 93.5,131.7 91.4,133.4 92.6,136.1ZM100.3,136.9 101.7,133.7 101.1,132.7 98.1,132.9 95.9,134.5 95.7,136.9 97.2,137.8ZM106.0,139.3 107.4,138.4 108.6,136.3 107.2,134.1 106.3,133.5 102.5,133.9 105.4,139.3ZM111.7,135.8 113.1,132.7 110.4,130.0 107.2,134.1 108.6,136.3ZM111.7,135.8 113.1,132.7 115.2,131.9 115.2,131.9 117.6,136.6 115.7,139.0 114.9,138.7 113.6,137.8ZM120.0,135.8 117.6,136.6 115.2,131.9 119.7,133.1ZM124.6,131.8 124.8,134.1 121.6,136.5 120.0,135.8 119.7,133.1 120.4,131.9ZM124.6,131.8 124.8,134.1 128.1,136.5 130.9,135.2 130.8,133.0 130.5,132.6 125.0,130.9ZM40.9,137.5 36.1,136.8 35.5,139.9 38.5,142.0ZM47.1,140.7 43.5,139.8 42.1,137.1 44.4,135.8 47.8,138.0ZM51.1,136.2 47.8,138.0 47.1,140.7 47.4,141.6 51.4,139.4ZM55.9,141.9 56.2,140.1 53.6,136.1 51.7,135.8 51.2,136.1 51.1,136.2 51.4,139.4 51.5,139.7ZM60.3,137.1 56.2,140.1 53.6,136.1 55.4,135.0 61.2,135.9ZM62.7,143.0 65.0,143.7 66.5,141.4 62.6,136.8ZM66.1,135.3 68.6,137.0 68.3,140.6 66.5,141.4 62.6,136.8 62.3,136.1ZM68.3,140.6 68.6,140.7 74.5,138.5 74.2,137.2 68.9,136.9 68.6,137.0ZM74.7,135.6 79.7,136.0 80.8,137.3 80.2,138.7 78.5,139.5 74.5,138.5 74.5,138.5 74.2,137.2ZM84.7,137.5 84.0,136.6 80.8,137.3 80.2,138.7 82.3,142.5 82.9,142.0ZM88.9,140.9 88.4,139.8 84.7,137.5 82.9,142.0 88.9,141.0ZM91.6,140.7 88.9,140.9 88.4,139.8 89.2,136.6 92.6,136.1 94.5,137.4 92.2,140.5ZM98.0,140.9 97.2,137.8 95.7,136.9 94.5,137.4 92.2,140.5 95.9,143.2ZM101.4,141.9 102.8,140.0 100.3,136.9 97.2,137.8 98.0,140.9ZM102.8,140.0 100.3,136.9 101.7,133.7 102.5,133.9 105.4,139.3ZM110.1,140.7 113.6,137.8 111.7,135.8 108.6,136.3 107.4,138.4ZM110.8,142.0 114.9,138.7 113.6,137.8 110.1,140.7ZM42.1,137.1 43.5,139.8 42.0,143.5 39.2,143.7 39.1,143.7 38.5,142.0 40.9,137.5 41.8,137.0ZM47.4,141.6 47.8,144.1 47.6,144.4 42.5,143.8 42.0,143.5 43.5,139.8 47.1,140.7ZM51.5,139.7 51.4,139.4 47.4,141.6 47.8,144.1 50.3,143.9 50.5,143.8ZM55.9,141.9 51.5,139.7 50.5,143.8 55.1,143.8 56.0,143.0ZM55.9,141.9 56.2,140.1 60.3,137.1 60.6,143.1 59.2,143.9 56.0,143.0ZM62.3,136.1 62.6,136.8 62.7,143.0 60.6,143.1 60.3,137.1 61.2,135.9 61.4,135.8ZM66.5,141.4 65.0,143.7 65.7,146.1 70.9,145.1 71.6,143.6 68.6,140.7 68.3,140.6ZM68.6,140.7 74.5,138.5 74.5,138.5 74.1,142.9 71.6,143.6ZM74.5,138.5 78.5,139.5 77.7,145.0 76.9,144.8 74.1,142.9ZM82.3,142.5 81.7,144.2 78.4,145.4 77.7,145.0 78.5,139.5 80.2,138.7ZM88.9,141.0 82.9,142.0 82.3,142.5 81.7,144.2 82.8,144.9 88.6,142.4ZM91.6,140.7 88.9,140.9 88.9,141.0 88.6,142.4 88.8,145.2 90.6,146.5 92.9,145.4ZM96.0,144.4 95.6,145.4 92.9,145.4 91.6,140.7 92.2,140.5 95.9,143.2ZM101.6,143.8 101.4,141.9 98.0,140.9 95.9,143.2 96.0,144.4 101.3,144.6ZM101.6,143.8 106.9,143.9 106.0,139.3 105.4,139.3 102.8,140.0 101.4,141.9ZM106.9,143.9 107.7,145.1 110.9,144.1 110.8,142.0 110.1,140.7 107.4,138.4 106.0,139.3ZM47.8,144.1 47.6,144.4 47.3,147.2 48.7,149.0 52.4,149.1 50.3,143.9ZM55.1,143.8 54.7,148.5 54.6,148.6 53.4,149.4 52.4,149.1 50.3,143.9 50.5,143.8ZM56.0,143.0 59.2,143.9 60.1,147.1 58.7,149.4 54.7,148.5 55.1,143.8ZM60.6,143.1 59.2,143.9 60.1,147.1 64.2,147.9 65.6,146.7 65.7,146.1 65.0,143.7 62.7,143.0ZM71.7,148.2 70.9,145.1 65.7,146.1 65.6,146.7 69.3,150.7 70.4,151.0ZM74.2,147.6 76.9,144.8 74.1,142.9 71.6,143.6 70.9,145.1 71.7,148.2ZM75.2,149.5 74.2,147.6 76.9,144.8 77.7,145.0 78.4,145.4 78.6,146.8 77.2,150.1ZM82.7,151.0 85.0,147.6 82.8,144.9 81.7,144.2 78.4,145.4 78.6,146.8ZM88.6,142.4 82.8,144.9 85.0,147.6 85.7,147.6 88.8,145.2ZM90.6,146.5 90.7,147.0 90.4,151.4 90.1,151.8 89.4,151.9 85.7,147.6 88.8,145.2ZM92.9,145.4 90.6,146.5 90.7,147.0 96.4,149.2 96.5,149.2 95.6,145.4ZM101.3,144.6 101.7,147.8 101.7,147.8 97.4,149.9 96.5,149.2 95.6,145.4 96.0,144.4ZM101.6,143.8 106.9,143.9 107.7,145.1 107.1,146.9 101.7,147.8 101.3,144.6ZM64.2,147.9 63.3,151.2 60.4,152.4 59.2,150.8 58.7,149.4 60.1,147.1ZM65.6,146.7 69.3,150.7 65.1,152.6 63.3,151.2 64.2,147.9ZM75.2,149.5 74.2,147.6 71.7,148.2 70.4,151.0 71.1,152.2 71.5,152.3ZM75.2,149.5 71.5,152.3 73.5,153.6 77.7,153.1 77.2,150.1ZM82.6,151.9 84.2,153.7 88.7,152.5 89.4,151.9 85.7,147.6 85.0,147.6 82.7,151.0ZM90.7,147.0 90.4,151.4 96.4,149.2ZM96.5,149.2 96.4,149.2 90.4,151.4 90.1,151.8 93.2,155.5 97.5,151.7 97.4,149.9Z" fill="#f0ecec" stroke="#a0807f" stroke-width="0.85" filter="url(#rough)"/>
<path d="M74.0,28.7 79.8,28.0 79.2,24.5 78.9,24.3 76.0,25.4ZM83.3,29.5 80.6,29.2 78.6,32.2 78.7,32.3 84.8,33.8 84.8,33.7ZM52.0,32.9 51.2,33.5 51.1,36.4 51.8,37.3 57.0,34.8 57.0,32.4 56.1,31.7ZM101.5,45.7 98.4,48.2 98.0,49.4 102.4,52.0 103.6,50.3 103.2,46.4ZM103.6,50.3 107.9,50.1 107.7,53.0 102.5,54.0 102.4,52.0ZM53.0,54.5 55.4,57.2 57.7,55.1 56.9,53.9 56.7,53.9ZM73.1,58.8 74.1,58.3 74.5,52.4 73.8,52.2 71.8,52.9 70.6,56.6ZM83.0,52.7 77.8,53.5 78.1,54.9 83.1,56.2 83.8,55.4 84.0,53.3ZM88.2,51.4 87.9,51.7 88.8,57.1 92.4,57.9 93.7,56.1 93.4,54.3 91.3,52.2 88.8,51.3ZM102.0,55.8 102.5,54.0 107.7,53.0 108.3,53.9 108.0,57.1 106.8,57.5ZM116.4,58.7 115.7,57.2 116.9,55.2 117.5,54.9 121.9,55.1 122.0,55.7 119.4,59.9 116.5,58.7ZM72.9,60.2 74.9,62.4 74.6,64.1 70.5,65.3 70.5,65.3 71.3,61.4ZM130.3,63.7 130.4,62.9 134.9,59.2 137.0,59.7 136.8,61.6 133.4,65.5 133.4,65.6 130.4,64.1ZM36.8,71.5 35.8,65.4 39.1,68.1 38.6,70.6ZM85.0,65.5 85.5,68.6 89.5,69.1 90.4,68.5 89.6,65.2 87.0,64.0ZM69.4,68.9 66.5,68.4 63.7,70.1 63.4,72.3 64.3,73.7 68.8,73.7ZM101.2,71.0 101.8,72.6 106.1,71.8 105.7,68.6 105.2,68.2 102.4,67.7 101.3,69.4ZM59.2,73.4 56.9,74.3 56.7,74.4 60.4,78.3 61.3,76.7ZM101.8,72.6 106.1,71.8 107.0,72.8 106.1,75.4 102.1,76.9 101.0,76.1 101.0,76.1ZM124.3,75.2 120.6,76.3 119.1,74.5 119.1,72.1 124.7,70.7ZM77.8,76.5 75.5,76.4 75.2,80.6 79.9,81.2 78.4,77.1ZM65.2,80.5 66.6,83.1 69.5,84.1 70.4,82.8 71.0,81.3 69.8,78.6ZM58.5,84.1 54.6,83.3 51.9,86.5 57.0,89.4 57.2,89.3ZM128.5,88.7 128.7,88.9 132.0,89.3 133.5,84.8 129.6,83.5 128.4,85.1ZM143.0,82.7 139.6,87.3 139.8,87.7 143.7,87.7 144.8,83.9 143.3,82.8ZM18.7,87.0 23.4,88.1 22.9,91.1 19.6,90.1 18.8,89.4ZM27.0,91.8 32.5,93.1 33.6,90.8 31.2,87.6 27.9,88.4 26.9,91.6ZM60.5,89.9 57.2,89.3 57.0,89.4 55.5,92.7 56.0,94.1 60.5,94.0ZM107.7,92.7 110.4,94.1 110.4,94.1 113.4,91.0 111.8,88.9 107.7,89.1 107.1,90.4ZM17.5,96.2 15.3,95.8 14.4,95.2 14.3,92.4 14.8,92.0 18.8,89.4 19.6,90.1 19.2,95.5ZM96.2,94.8 96.7,93.3 92.1,91.4 91.3,92.8 95.6,95.0ZM129.3,95.8 126.1,96.8 125.2,95.8 126.6,92.2 127.3,91.8 129.9,94.2ZM111.6,100.3 113.6,96.5 110.4,94.1 110.4,94.1 108.7,99.1 109.1,100.1ZM65.2,102.0 62.2,103.9 59.9,100.0 61.1,98.8 64.6,99.2ZM71.0,100.3 69.9,104.6 70.3,104.8 73.7,104.9 74.5,99.8 73.7,99.2ZM51.7,104.7 52.3,104.3 56.1,104.5 54.6,107.6 51.7,106.9ZM115.7,109.6 115.3,109.1 117.7,104.2 118.6,103.5 119.7,103.1 120.5,103.9 119.9,107.5ZM113.7,116.6 115.6,112.2 109.4,112.5 113.6,116.7ZM113.7,116.6 116.3,118.2 119.8,115.8 119.1,113.0 118.8,112.7 116.2,111.6 115.6,112.2ZM121.9,117.1 119.8,115.8 119.1,113.0 123.3,112.0 125.0,114.9 123.5,117.4ZM30.4,120.0 32.4,120.2 33.8,116.2 31.7,115.5 29.7,119.0ZM42.3,115.3 37.4,118.5 37.5,121.0 42.0,121.7 43.6,120.3 43.7,117.4ZM32.8,124.9 31.4,127.7 32.7,128.9 35.0,128.8 36.6,125.6ZM62.8,124.7 58.1,127.5 57.4,124.3 59.8,123.9ZM77.6,127.6 77.8,125.1 74.0,124.9 73.4,128.4 74.1,129.0ZM83.1,131.9 84.3,130.3 82.4,126.6 79.7,128.8 80.4,131.3ZM106.3,133.5 105.9,129.5 108.1,128.1 109.8,128.4 110.4,130.0 107.2,134.1ZM125.0,130.9 130.5,132.6 128.8,127.3 128.7,127.3 126.8,128.3 125.1,129.8ZM68.9,136.9 74.2,137.2 74.7,135.6 74.4,133.4 70.8,133.2ZM122.6,139.9 121.6,136.5 120.0,135.8 117.6,136.6 115.7,139.0 115.9,139.5 120.5,141.2ZM110.9,144.1 111.6,144.4 115.1,145.0 115.9,139.5 115.7,139.0 114.9,138.7 110.8,142.0ZM77.2,150.1 78.6,146.8 82.7,151.0 82.6,151.9 78.0,153.3 77.7,153.1Z" fill="#b09093" stroke="#a0807f" stroke-width="1"/>
<rect x="21.60" y="31.60" width="117.00" height="117.00" fill="#000" filter="url(#darkA1)" opacity="0.3"/>
<circle cx="70" cy="60" r="5.7" fill="#f3efef" opacity="0.6"/><circle cx="70" cy="60" r="4.5" fill="#aea3bf" opacity="0.7"/>
<circle cx="85" cy="59" r="6.2" fill="#f3efef" opacity="0.6"/><circle cx="85" cy="59" r="5" fill="#aea3bf" opacity="0.7"/>
<circle cx="29" cy="103" r="6.2" fill="#f3efef" opacity="0.6"/><circle cx="29" cy="103" r="5" fill="#aea3bf" opacity="0.7"/>
<circle cx="120" cy="114" r="6.7" fill="#f3efef" opacity="0.6"/><circle cx="120" cy="114" r="5.5" fill="#aea3bf" opacity="0.7"/>
<circle cx="108" cy="124" r="5.2" fill="#f3efef" opacity="0.6"/><circle cx="108" cy="124" r="4" fill="#aea3bf" opacity="0.7"/>
<circle cx="53" cy="135" r="6.2" fill="#f3efef" opacity="0.6"/><circle cx="53" cy="135" r="5" fill="#aea3bf" opacity="0.7"/>
<circle cx="130" cy="63" r="4.7" fill="#f3efef" opacity="0.6"/><circle cx="130" cy="63" r="3.5" fill="#aea3bf" opacity="0.7"/>
<rect x="21.60" y="31.60" width="117.00" height="117.00" fill="#000" filter="url(#speckA1)" opacity="0.4"/>
</g>
<path d="M20.4,26.5 L76.4,26.5 C64.4,30.5 56.4,38.5 46.4,46.5 C36.4,56.5 28.4,64.5 20.4,72.5 Z" fill="#efefed" opacity="0.92"/>
<clipPath id="cA2"><rect x="143.2" y="26.5" width="120.60" height="125.80"/></clipPath>
<g clip-path="url(#cA2)">
<rect x="143.20" y="26.50" width="120.60" height="125.80" fill="#caa496" opacity="1"/>
<rect x="143.20" y="26.50" width="120.60" height="125.80" fill="#000" filter="url(#pinkA2)" opacity="0.8"/>
<g fill="#b5826c" opacity="0.65" stroke="#9f93c0" stroke-width="0.9" stroke-opacity="0.7"><ellipse cx="147" cy="36" rx="5.38" ry="10.05" transform="rotate(0 147 36)"/><ellipse cx="209" cy="30" rx="13.45" ry="5.38" transform="rotate(0 209 30)"/><ellipse cx="254" cy="31" rx="9.20" ry="5.80" transform="rotate(0 254 31)"/><ellipse cx="172" cy="60" rx="6.22" ry="10.90" transform="rotate(10 172 60)"/><ellipse cx="190" cy="57" rx="6.65" ry="16.85" transform="rotate(5 190 57)"/><ellipse cx="207" cy="50" rx="7.50" ry="6.65" transform="rotate(0 207 50)"/><ellipse cx="214" cy="69" rx="5.80" ry="10.90" transform="rotate(0 214 69)"/><ellipse cx="236" cy="57" rx="9.20" ry="6.65" transform="rotate(20 236 57)"/><ellipse cx="257" cy="61" rx="5.80" ry="7.50" transform="rotate(0 257 61)"/><ellipse cx="152" cy="66" rx="9.20" ry="5.38" transform="rotate(-30 152 66)"/><ellipse cx="170" cy="82" rx="9.20" ry="6.65" transform="rotate(0 170 82)"/><ellipse cx="179" cy="94" rx="4.95" ry="4.95" transform="rotate(0 179 94)"/><ellipse cx="191" cy="95" rx="7.50" ry="16.85" transform="rotate(10 191 95)"/><ellipse cx="205" cy="102" rx="5.80" ry="7.50" transform="rotate(0 205 102)"/><ellipse cx="224" cy="100" rx="6.65" ry="10.05" transform="rotate(0 224 100)"/><ellipse cx="251" cy="99" rx="11.75" ry="6.65" transform="rotate(-40 251 99)"/><ellipse cx="152" cy="106" rx="8.35" ry="6.65" transform="rotate(0 152 106)"/><ellipse cx="163" cy="123" rx="8.35" ry="5.80" transform="rotate(0 163 123)"/><ellipse cx="191" cy="124" rx="8.35" ry="6.65" transform="rotate(0 191 124)"/><ellipse cx="207" cy="137" rx="7.50" ry="7.50" transform="rotate(0 207 137)"/><ellipse cx="243" cy="122" rx="19.40" ry="6.65" transform="rotate(-40 243 122)"/><ellipse cx="152" cy="146" rx="8.35" ry="6.65" transform="rotate(0 152 146)"/><ellipse cx="191" cy="146" rx="9.20" ry="6.65" transform="rotate(0 191 146)"/><ellipse cx="246" cy="145" rx="15.15" ry="6.65" transform="rotate(-30 246 145)"/><ellipse cx="232" cy="80" rx="7.50" ry="5.80" transform="rotate(30 232 80)"/><ellipse cx="160" cy="90" rx="5.80" ry="4.95" transform="rotate(0 160 90)"/><ellipse cx="240" cy="40" rx="4.95" ry="5.80" transform="rotate(0 240 40)"/></g>
<g fill="#f1ebe9" filter="url(#rough)"><ellipse cx="147" cy="36" rx="2.98" ry="7.65" transform="rotate(0 147 36)"/><ellipse cx="209" cy="30" rx="11.05" ry="2.98" transform="rotate(0 209 30)"/><ellipse cx="254" cy="31" rx="6.80" ry="3.40" transform="rotate(0 254 31)"/><ellipse cx="172" cy="60" rx="3.82" ry="8.50" transform="rotate(10 172 60)"/><ellipse cx="190" cy="57" rx="4.25" ry="14.45" transform="rotate(5 190 57)"/><ellipse cx="207" cy="50" rx="5.10" ry="4.25" transform="rotate(0 207 50)"/><ellipse cx="214" cy="69" rx="3.40" ry="8.50" transform="rotate(0 214 69)"/><ellipse cx="236" cy="57" rx="6.80" ry="4.25" transform="rotate(20 236 57)"/><ellipse cx="257" cy="61" rx="3.40" ry="5.10" transform="rotate(0 257 61)"/><ellipse cx="152" cy="66" rx="6.80" ry="2.98" transform="rotate(-30 152 66)"/><ellipse cx="170" cy="82" rx="6.80" ry="4.25" transform="rotate(0 170 82)"/><ellipse cx="179" cy="94" rx="2.55" ry="2.55" transform="rotate(0 179 94)"/><ellipse cx="191" cy="95" rx="5.10" ry="14.45" transform="rotate(10 191 95)"/><ellipse cx="205" cy="102" rx="3.40" ry="5.10" transform="rotate(0 205 102)"/><ellipse cx="224" cy="100" rx="4.25" ry="7.65" transform="rotate(0 224 100)"/><ellipse cx="251" cy="99" rx="9.35" ry="4.25" transform="rotate(-40 251 99)"/><ellipse cx="152" cy="106" rx="5.95" ry="4.25" transform="rotate(0 152 106)"/><ellipse cx="163" cy="123" rx="5.95" ry="3.40" transform="rotate(0 163 123)"/><ellipse cx="191" cy="124" rx="5.95" ry="4.25" transform="rotate(0 191 124)"/><ellipse cx="207" cy="137" rx="5.10" ry="5.10" transform="rotate(0 207 137)"/><ellipse cx="243" cy="122" rx="17.00" ry="4.25" transform="rotate(-40 243 122)"/><ellipse cx="152" cy="146" rx="5.95" ry="4.25" transform="rotate(0 152 146)"/><ellipse cx="191" cy="146" rx="6.80" ry="4.25" transform="rotate(0 191 146)"/><ellipse cx="246" cy="145" rx="12.75" ry="4.25" transform="rotate(-30 246 145)"/><ellipse cx="232" cy="80" rx="5.10" ry="3.40" transform="rotate(30 232 80)"/><ellipse cx="160" cy="90" rx="3.40" ry="2.55" transform="rotate(0 160 90)"/><ellipse cx="240" cy="40" rx="2.55" ry="3.40" transform="rotate(0 240 40)"/></g>
<rect x="143.20" y="26.50" width="120.60" height="125.80" fill="#000" filter="url(#lumA2)" opacity="0.6"/>
<path d="M197.8,96.5l-0.0,0.8M214.1,50.0l-0.3,0.2M199.3,81.7l-0.3,0.6M262.6,131.7l0.4,0.4M178.5,35.6l-0.5,0.3M245.0,27.0l0.0,0.0M176.0,37.8l-0.1,0.1M176.3,148.1l-0.6,0.2M262.0,53.6l0.0,0.0M227.8,58.8l0.4,0.5M220.1,87.2l-0.6,0.0M228.1,125.7l-0.4,0.7M251.5,135.7l-0.2,0.1M212.2,104.9l-0.1,0.1M262.7,136.6l-0.4,0.4M252.0,109.3l0.1,0.2M223.4,51.7l-0.2,0.1M160.6,32.6l-0.2,0.4M165.1,60.9l-0.0,0.1M217.3,121.3l-0.2,0.0M230.2,43.2l-0.2,0.1M249.1,126.1l-0.4,0.7M168.4,116.8l-0.4,0.5M153.6,81.8l0.0,0.4M226.0,145.0l0.3,0.1M170.2,92.7l-0.0,0.0M189.6,132.3l-0.7,0.4M205.4,76.7l0.0,0.7M200.4,42.8l-0.2,0.1M168.3,105.7l-0.4,0.2M251.6,66.4l0.1,0.0M175.0,38.9l-0.6,0.4M156.4,31.5l-0.1,0.4M161.3,50.0l-0.0,0.0M235.1,67.7l0.1,0.3M219.2,77.5l-0.4,0.0M144.8,71.2l0.3,0.3M184.0,109.2l0.1,0.4M173.9,140.0l-0.4,0.0M200.0,48.1l0.3,0.1M256.7,79.4l0.1,0.3M157.2,138.1l0.3,0.6M176.2,112.3l-0.2,0.3M233.8,50.7l-0.0,0.0M150.9,60.8l0.2,0.1M152.8,41.7l-0.5,0.4M174.6,128.1l-0.1,0.0M252.8,81.4l0.4,0.6M224.2,88.5l-0.2,0.3M206.3,115.3l0.2,0.6M241.5,86.8l-0.0,0.0M184.3,95.0l0.7,0.5M239.4,74.9l0.2,0.3M174.9,135.5l-0.3,0.0M213.9,134.0l0.0,0.1M199.5,116.2l0.1,0.0M179.3,69.0l0.1,0.1M167.6,118.2l-0.0,0.1M220.9,122.4l0.3,0.6M193.1,28.9l-0.2,0.0M227.0,67.7l0.1,0.8M158.5,148.5l-0.0,0.0M210.8,96.9l-0.0,0.0M250.8,57.0l0.3,0.2M180.6,110.5l-0.2,0.6M215.5,85.6l-0.1,0.2M246.1,78.0l-0.2,0.1M206.5,92.4l0.1,0.2M191.0,33.3l0.4,0.4M259.6,109.9l-0.6,0.4M251.3,65.4l-0.3,0.0M200.3,52.8l-0.1,0.0M156.4,117.6l-0.1,0.0M153.1,54.8l0.1,0.0M176.8,106.8l0.0,0.0M210.2,107.5l-0.1,0.1M202.0,54.6l0.4,0.0M190.6,132.2l0.1,0.1M175.8,72.0l0.0,0.0M190.0,37.1l-0.6,0.5M192.0,74.9l0.4,0.6M211.6,127.6l-0.4,0.7M253.9,53.9l-0.5,0.1M161.9,99.5l-0.3,0.4M150.1,88.7l0.2,0.3M174.0,29.9l-0.0,0.1M242.8,136.8l0.2,0.0M180.3,71.7l0.7,0.5M202.8,108.0l-0.1,0.4M183.8,70.0l-0.5,0.6M174.3,90.1l-0.4,0.5M244.6,130.3l-0.2,0.3M201.5,73.6l-0.1,0.0M177.9,75.9l-0.4,0.0M190.1,113.5l0.3,0.2M164.6,40.0l0.0,0.8M247.4,87.3l0.1,0.2M150.4,95.5l0.3,0.4M256.4,134.7l-0.8,0.4M152.6,71.5l-0.0,0.6M191.8,115.0l0.0,0.0M168.8,119.7l0.3,0.2M168.1,136.9l0.1,0.0M261.7,80.3l0.2,0.8M182.2,49.9l0.1,0.1M249.9,133.7l-0.1,0.4M157.5,131.3l-0.3,0.5M218.9,82.7l-0.4,0.1M231.7,150.4l0.2,0.1M262.1,88.3l-0.0,0.0M256.2,130.5l-0.7,0.0M220.7,36.0l0.0,0.4M251.7,35.6l-0.3,0.8M165.1,42.9l0.5,0.2M167.0,150.9l0.2,0.5M255.3,75.1l0.1,0.6M241.6,133.1l0.4,0.1M260.1,148.6l-0.8,0.5M153.9,47.6l-0.3,0.3M207.5,40.6l-0.0,0.6M211.4,89.2l0.5,0.6M181.3,87.4l0.0,0.0M238.6,79.8l0.5,0.6M181.3,129.2l0.6,0.1M235.2,32.9l-0.4,0.1M157.2,41.7l-0.0,0.1M254.9,88.4l-0.4,0.3" stroke="#4d4a9e" stroke-width="2.0" stroke-linecap="round" opacity="0.82" fill="none"/>
<path d="M155.1,128.0l-1.0,0.1M258.6,108.6l0.9,0.0M206.7,34.4l0.4,0.0M203.8,109.7l-0.7,0.0M261.1,76.5l-0.2,0.2M165.2,96.5l-0.5,0.5M159.2,107.2l0.3,0.2M179.0,36.1l0.2,0.2M201.0,98.4l1.1,0.6M252.5,128.9l-0.3,0.4M194.0,39.9l0.2,0.2M197.1,34.3l-0.1,0.4M160.6,31.3l-0.1,0.2M213.6,81.6l-0.9,0.9M147.5,101.7l-0.5,0.6M144.6,64.3l0.9,0.5M248.6,74.8l0.8,0.4M176.5,47.9l0.6,0.5M153.0,30.4l-0.8,1.0M238.2,29.4l0.4,0.0M200.6,49.2l-0.1,0.2M147.0,127.9l0.2,0.1M208.3,89.8l-0.9,0.1M226.8,35.2l-0.8,0.1M200.9,66.5l-0.4,0.1M146.3,51.0l0.3,0.4M156.1,118.1l0.2,0.2M167.3,92.8l0.2,0.7M217.1,133.8l-0.4,0.3M158.4,77.0l0.8,0.6M225.3,140.1l-0.0,1.4M233.9,89.6l1.0,0.2M254.5,38.8l0.0,0.3M227.7,132.2l-0.3,0.3M192.2,117.0l0.0,0.3M191.5,33.2l0.4,0.1M215.1,121.7l0.2,0.1M178.2,108.4l-0.5,0.7M261.9,144.7l0.1,0.3M201.1,148.4l-0.5,0.1M198.1,52.4l0.2,0.1M196.8,110.0l-0.2,0.7M208.5,35.9l-0.0,0.3M219.0,73.2l0.4,0.7M187.3,38.9l1.2,0.3M211.6,87.2l-0.8,0.7M152.5,53.2l0.6,0.8M230.3,113.4l0.2,0.5M230.6,72.6l-0.1,0.3M250.6,57.7l0.3,0.6M191.2,75.2l-0.3,0.3M150.8,95.1l1.1,0.3M231.7,139.1l0.3,0.1M233.1,107.8l-0.4,0.3M206.4,122.4l-0.7,0.1M175.4,93.7l0.4,0.0M241.5,132.2l0.8,0.9M229.8,39.1l-0.8,0.1M253.4,37.8l-0.2,1.2M259.2,130.1l0.4,0.9M211.3,84.1l-0.2,0.1M168.5,103.6l-0.1,0.5M229.7,68.1l1.1,0.5M154.8,111.1l0.3,1.0M237.9,109.0l0.5,0.8M184.6,108.0l-0.0,0.3M186.1,89.4l-0.4,0.0M206.0,116.2l-1.2,0.2M241.4,101.9l0.2,0.3M239.6,28.9l0.4,0.2M164.3,91.6l0.3,0.4M220.9,31.7l-1.0,0.1M233.2,64.9l0.8,0.3M166.8,131.4l0.5,0.3M248.7,151.1l0.4,0.3M222.6,137.0l0.5,0.7M206.8,93.1l0.2,0.2M251.1,150.2l-0.2,0.2M257.7,48.2l-0.4,1.1M161.8,28.8l0.1,0.8M175.2,126.5l-0.1,0.3M217.7,92.5l0.5,0.1M151.3,78.2l-0.6,0.1M160.4,76.0l0.5,0.1M174.2,95.8l-0.5,0.1M261.1,103.1l-0.1,0.2M184.9,49.7l0.7,0.5M168.1,74.7l0.1,0.3M176.5,29.1l0.1,0.4M234.9,116.7l0.7,1.1M205.5,33.8l0.7,0.1M209.1,43.6l-0.7,0.8M223.5,45.2l-0.3,0.3M247.4,55.8l0.2,0.9M190.6,34.2l0.0,0.7M176.9,46.6l0.6,0.3M223.2,56.8l0.1,0.3M175.1,110.2l-0.1,0.4M218.5,104.2l0.4,0.5M217.8,87.9l0.5,0.7M233.1,93.4l0.3,0.4M156.1,114.8l-0.3,0.2M174.0,116.1l-0.4,0.4M218.0,130.2l0.4,1.1M256.2,147.9l0.1,0.3M158.0,67.3l0.2,0.1M218.4,61.0l0.2,0.4M174.7,33.3l0.2,0.2M145.0,52.6l-0.1,1.3M212.8,55.1l-0.3,0.6M240.4,72.1l0.6,0.7M252.1,67.0l-0.2,0.2M156.0,44.8l0.6,0.0M204.1,77.3l-0.6,0.1M228.4,49.1l-0.5,0.1M219.8,73.7l-0.3,0.9M193.9,74.8l-0.1,0.5M151.9,135.3l-0.9,0.6M197.6,93.5l0.8,1.0M251.8,126.4l0.4,0.1M181.6,105.4l-0.3,0.4M180.8,77.8l0.1,0.4M242.2,78.0l-0.7,0.1M185.0,114.6l0.3,0.4M151.6,79.3l-0.5,0.1M178.6,113.2l0.3,1.0M159.4,138.5l0.2,0.4M251.1,37.8l-0.4,0.5M219.2,85.3l0.3,0.5M221.4,113.8l0.2,1.4M169.6,150.4l0.4,0.2M178.6,124.0l0.5,0.1M211.0,84.1l-1.1,0.6M162.4,147.7l-0.3,0.8M193.3,28.2l-0.3,0.3M228.5,46.4l0.8,0.3M187.6,80.2l0.2,0.8M197.7,32.6l-0.1,1.2M145.0,77.1l-0.4,1.3M258.3,72.3l0.5,0.7M216.6,100.3l-0.0,0.6M255.7,120.6l-0.6,0.7M233.2,74.0l0.7,0.3M254.3,53.2l-0.6,0.3M158.4,135.7l0.2,0.7" stroke="#4d4a9e" stroke-width="1.5" stroke-linecap="round" opacity="0.82" fill="none"/>
<path d="M158.1,57.5l-0.7,0.5M164.8,116.5l-0.1,0.8M176.9,141.1l0.6,0.7M183.8,124.9l-0.0,0.9M263.4,137.4l-0.6,0.7M178.7,28.5l0.9,0.5M234.5,136.4l-0.1,1.0M262.1,73.4l0.2,0.9M178.3,147.9l0.7,0.3M221.1,123.4l0.1,0.9M213.2,140.3l0.6,0.4M229.2,100.9l0.6,0.7M262.1,108.6l0.1,1.0M228.8,102.3l0.5,0.8M242.9,65.4l0.6,0.9M154.3,54.9l0.3,0.9M218.8,51.3l-0.2,0.8M209.6,36.5l-0.7,0.0M180.8,76.2l-0.9,0.3M207.8,145.4l0.4,0.6M174.0,127.0l-0.6,0.6M208.4,125.4l0.6,0.8M242.1,48.0l-0.6,0.8M198.5,119.8l-0.7,0.3M161.7,100.9l0.2,0.7M185.1,53.6l-0.3,0.7M146.3,75.3l0.3,1.1M171.1,111.4l-0.1,1.0M164.5,91.0l0.8,0.2M223.9,55.4l-0.2,0.9M229.3,41.5l-0.5,0.6M262.6,41.5l-0.1,1.1M230.1,48.8l0.7,0.3M247.0,130.7l0.3,0.8M167.0,109.9l0.6,1.1M158.6,97.4l-0.0,0.9M194.0,36.7l-1.0,0.3M209.0,76.4l0.4,0.9M233.6,33.3l0.5,0.6M182.3,118.5l-0.7,0.4" stroke="#4d4a9e" stroke-width="1.0" stroke-linecap="round" opacity="0.82" fill="none"/>
<path d="M168.8,76.2l0.2,0.1M256.2,51.4l-0.1,0.3M159.5,72.1l-0.1,0.2M152.7,95.1l-0.1,0.1M203.2,131.5l-0.2,0.0M202.8,66.3l0.0,0.2M221.9,127.7l0.3,0.2M238.2,66.9l0.1,0.3M145.6,138.4l-0.1,0.1M252.7,119.8l0.0,0.1M250.9,136.8l-0.0,0.0M263.3,107.2l-0.0,0.0M211.6,151.2l0.0,0.0M233.8,75.6l0.3,0.0M230.2,85.3l-0.1,0.4M207.1,151.4l0.3,0.2M182.6,95.4l0.0,0.1M208.9,97.7l-0.3,0.2M253.2,78.2l-0.2,0.1M240.1,130.9l-0.1,0.2M216.8,46.7l-0.0,0.1M234.4,120.8l-0.0,0.0M150.3,117.4l-0.1,0.3M170.2,120.2l0.0,0.0M182.5,34.7l0.1,0.3M229.0,43.8l0.0,0.0M165.3,56.4l0.0,0.0M205.5,90.0l-0.0,0.2M215.1,116.2l0.0,0.0M148.7,88.1l0.1,0.0M147.8,151.3l0.1,0.1M226.8,134.9l0.0,0.0M180.8,82.7l-0.4,0.2M257.9,72.2l-0.0,0.0M226.7,112.6l0.3,0.2M201.1,47.3l0.2,0.0M153.1,49.8l0.0,0.0M161.8,85.3l0.2,0.3M172.6,126.7l-0.0,0.2M248.1,62.6l0.0,0.2M223.6,69.9l0.3,0.0M174.0,128.2l0.1,0.0M179.6,147.6l0.0,0.0M183.0,88.0l-0.0,0.0M224.9,37.5l0.2,0.3" stroke="#4d4a9e" stroke-width="2.5" stroke-linecap="round" opacity="0.82" fill="none"/>
<path d="M169.2,139.3l-0.0,0.0M219.2,76.5l0.0,0.0M193.7,111.8l0.0,0.0" stroke="#4d4a9e" stroke-width="3.0" stroke-linecap="round" opacity="0.82" fill="none"/>
</g>
<rect x="276.5" y="26.5" width="121.0" height="125.80000000000001" fill="#efefed"/>
<g fill="#f6f6f4"><rect x="276.5" y="26.5" width="20.0" height="20.0"/><rect x="316.5" y="26.5" width="20.0" height="20.0"/><rect x="356.5" y="26.5" width="20.0" height="20.0"/><rect x="396.5" y="26.5" width="1.0" height="20.0"/><rect x="296.5" y="46.5" width="20.0" height="20.0"/><rect x="336.5" y="46.5" width="20.0" height="20.0"/><rect x="376.5" y="46.5" width="20.0" height="20.0"/><rect x="276.5" y="66.5" width="20.0" height="20.0"/><rect x="316.5" y="66.5" width="20.0" height="20.0"/><rect x="356.5" y="66.5" width="20.0" height="20.0"/><rect x="396.5" y="66.5" width="1.0" height="20.0"/><rect x="296.5" y="86.5" width="20.0" height="20.0"/><rect x="336.5" y="86.5" width="20.0" height="20.0"/><rect x="376.5" y="86.5" width="20.0" height="20.0"/><rect x="276.5" y="106.5" width="20.0" height="20.0"/><rect x="316.5" y="106.5" width="20.0" height="20.0"/><rect x="356.5" y="106.5" width="20.0" height="20.0"/><rect x="396.5" y="106.5" width="1.0" height="20.0"/><rect x="296.5" y="126.5" width="20.0" height="20.0"/><rect x="336.5" y="126.5" width="20.0" height="20.0"/><rect x="376.5" y="126.5" width="20.0" height="20.0"/><rect x="276.5" y="146.5" width="20.0" height="5.8"/><rect x="316.5" y="146.5" width="20.0" height="5.8"/><rect x="356.5" y="146.5" width="20.0" height="5.8"/><rect x="396.5" y="146.5" width="1.0" height="5.8"/></g>
<clipPath id="cA3"><circle cx="337.1" cy="90.1" r="58.3"/></clipPath>
<g clip-path="url(#cA3)">
<g filter="url(#soft)">
<rect x="278.80" y="31.80" width="116.60" height="116.60" fill="#cdc3cf" opacity="1"/>
<rect x="278.80" y="31.80" width="116.60" height="116.60" fill="#000" filter="url(#mottleL)" opacity="1"/>
<rect x="278.80" y="31.80" width="116.60" height="116.60" fill="#000" filter="url(#mottleB)" opacity="1"/>
<rect x="278.80" y="31.80" width="116.60" height="116.60" fill="#000" filter="url(#whitefine)" opacity="0.7"/>
</g>
<rect x="278.80" y="31.80" width="116.60" height="116.60" fill="#000" filter="url(#speck)" opacity="0.75"/>
</g>
<clipPath id="cA4"><rect x="400.3" y="26.5" width="119.90" height="125.80"/></clipPath>
<g clip-path="url(#cA4)">
<rect x="400.30" y="26.50" width="119.90" height="125.80" fill="#ddd4d6" opacity="1"/>
<rect x="400.30" y="26.50" width="119.90" height="125.80" fill="#000" filter="url(#brownfib)" opacity="1"/>
<rect x="400.30" y="26.50" width="119.90" height="125.80" fill="#000" filter="url(#whitebig)" opacity="1"/>
<rect x="400.30" y="26.50" width="119.90" height="125.80" fill="#000" filter="url(#speckC)" opacity="0.5"/>
<path d="M456.7,109.0l1.0,0.0M467.0,109.4l0.3,0.2M440.3,77.4l1.2,0.2M414.2,79.6l-0.1,0.3M420.4,113.9l-0.2,0.1M421.9,113.7l0.1,0.2M476.3,33.2l0.5,0.6M484.7,53.5l-0.3,0.5M494.8,99.2l-0.4,0.5M465.3,104.5l-0.2,0.3M447.9,57.4l-0.4,0.6M479.2,143.3l0.0,0.6M439.7,144.7l0.1,0.2M438.8,89.3l0.6,0.3M427.8,94.8l-0.4,0.3M507.6,67.0l-0.3,0.2M449.5,74.2l-0.5,0.4M425.8,136.8l0.2,0.0M500.4,43.1l0.3,0.1M407.6,27.8l-0.3,0.4M480.5,28.4l-0.3,0.4M499.3,121.4l-0.6,0.3M518.5,87.3l-0.0,0.4M413.0,118.5l-0.1,0.9M471.5,98.7l0.3,0.6M448.2,52.3l0.3,0.5M462.0,107.8l0.3,0.1M486.0,120.6l-0.3,0.4M437.8,59.3l0.7,0.1M414.9,65.3l-0.3,0.2M443.8,62.8l0.3,0.0M517.3,44.5l-0.9,0.1M490.7,80.9l-0.2,0.4M415.2,146.6l0.1,0.3M509.3,66.5l-0.2,0.1M479.1,86.9l0.4,0.1M501.3,111.2l0.1,0.9M453.8,46.1l0.4,0.2M477.9,108.0l0.3,0.2M439.5,100.1l-0.3,0.3M458.6,138.0l-0.4,0.1M473.6,113.5l-0.9,0.1M459.7,140.3l-0.1,0.4M430.0,134.2l0.4,0.3M405.7,130.6l0.1,0.3M503.2,49.8l0.3,0.0M488.0,44.3l0.1,0.5M510.0,131.6l0.7,0.4M515.1,45.8l-0.3,0.1M431.9,116.9l0.3,0.2M457.4,27.4l0.2,0.2M484.1,108.5l-1.0,0.4M438.4,64.0l-1.0,0.4M417.1,35.3l-0.4,0.0M401.4,84.4l0.3,0.6M413.4,79.8l0.5,0.2M417.5,125.6l0.7,0.5M516.0,104.6l-0.2,0.2M442.7,86.5l0.0,0.4M451.4,50.1l0.4,0.1M408.3,86.0l-0.2,0.2M484.6,145.5l0.1,0.4M409.5,134.2l-0.1,0.2M463.2,117.6l0.2,0.2M510.6,149.8l0.2,0.1M453.6,126.6l0.6,0.1M467.3,112.6l-0.4,0.1M491.7,104.8l-0.2,0.8M452.2,121.0l0.2,0.6M499.2,88.6l0.8,0.6M437.4,45.5l-0.2,0.1M495.9,148.8l0.2,0.3M491.4,111.7l0.3,0.1M469.9,146.5l-0.3,0.4M424.3,104.5l-0.2,0.2M461.0,105.3l-0.3,0.2M449.9,98.7l0.3,0.5M421.5,107.4l-0.0,0.7M516.0,104.1l-0.1,0.6M515.2,58.8l0.1,0.3M472.2,108.9l-0.8,0.4M451.0,106.5l0.4,0.3M404.3,138.8l0.4,0.1M482.0,122.7l0.2,0.0M438.4,109.5l-0.1,0.2M507.9,140.2l-0.6,0.2M499.1,100.3l-0.2,0.9M407.5,92.6l0.4,0.2M440.2,123.1l-0.9,0.0M508.3,38.6l-0.2,0.8M452.0,123.6l-0.2,0.9M411.1,131.2l0.4,0.4M500.3,126.1l-0.3,0.0M421.0,102.5l0.1,0.3M461.6,110.4l0.8,0.6M509.1,54.2l-0.3,0.4M462.1,58.3l-0.5,0.4M511.8,142.4l-0.4,0.2M439.0,69.5l-0.1,0.2M459.7,134.3l0.2,0.7M514.3,104.5l-0.4,0.2M447.7,43.0l-0.1,0.4M417.4,106.0l-0.6,0.3M489.1,82.3l-0.2,0.5M491.3,109.6l-0.2,0.0M465.9,91.0l-0.3,0.2M437.7,60.7l-0.0,0.3M454.1,28.0l-0.3,0.2M491.4,126.8l0.2,0.2M434.1,70.2l-0.5,1.1M490.5,116.8l-0.6,0.9M489.0,84.4l-0.6,0.3M508.5,116.1l-0.2,0.4M406.5,29.8l-0.2,0.1M469.3,87.3l0.3,0.1M476.7,61.5l0.4,0.5M497.1,92.5l0.4,0.1M469.6,28.1l0.2,0.0M499.6,44.6l0.7,0.7M486.6,60.7l0.3,0.5M487.8,134.8l-0.8,0.6M466.9,52.0l-0.1,0.5M431.4,95.7l-0.3,0.6M438.8,31.3l-0.2,0.5M437.0,68.6l0.8,0.6M498.7,141.5l0.1,0.2M427.2,34.9l-0.3,0.1M506.3,29.8l0.1,0.6M512.4,141.1l-0.4,0.1M412.2,106.9l0.4,0.6M499.2,76.3l0.2,0.2M498.0,38.6l0.3,0.3M490.1,138.0l0.0,0.4M419.9,146.8l0.6,0.4M513.7,87.7l-0.3,0.1M501.8,101.2l-0.7,0.2M482.0,101.4l-0.8,0.6M500.4,45.1l-0.1,0.5M452.8,150.1l-0.2,0.9M512.0,54.2l0.0,0.3M417.3,61.6l0.6,0.3M466.1,116.1l0.2,0.1M437.4,27.2l-0.4,0.1M467.8,35.7l0.4,0.2M506.2,124.2l0.5,0.8M440.4,123.9l0.1,0.2M445.6,48.8l-0.5,0.2M461.0,135.9l-0.5,0.3M461.8,55.9l0.2,0.2M464.9,43.3l0.5,0.0M470.4,78.0l0.4,0.1M509.7,62.8l0.3,0.4M485.4,34.5l-0.0,0.8M481.9,113.2l0.6,0.2M416.3,69.9l-0.5,0.2M424.9,75.5l0.3,0.1M472.1,46.7l0.2,0.2M423.8,123.0l-0.4,0.1M422.8,124.0l0.6,0.5M411.2,83.4l0.3,0.2M519.4,119.4l0.2,0.1M445.7,109.4l-0.3,0.4M511.9,103.5l0.4,0.3M425.4,37.2l-0.4,0.9M506.3,66.9l-0.4,0.2M411.6,146.5l0.3,0.0M502.8,64.7l-0.1,0.3M510.8,143.3l0.4,0.7M435.3,110.5l0.6,0.0M428.3,105.9l0.5,0.1M406.8,103.1l-0.6,0.4M517.2,141.3l0.7,0.3M448.2,61.0l0.2,0.2M440.8,81.0l-0.5,0.5M462.7,75.4l0.2,0.2M454.2,39.9l0.3,0.3M476.3,88.3l-0.5,0.5M417.0,137.8l-0.2,0.5M479.6,119.0l-0.1,0.5M446.8,80.4l-0.3,1.0M479.8,67.0l0.2,0.4M470.5,150.3l-0.3,0.3M431.1,119.6l-0.1,0.2M449.3,40.2l0.6,0.4M477.6,78.3l-0.4,0.6M435.0,77.0l0.5,0.4M435.5,145.2l-0.3,0.8M518.4,66.9l-0.6,0.1M489.1,113.0l0.2,0.8M474.5,30.0l-0.5,0.4M481.3,138.3l0.5,0.3M455.3,107.7l0.4,0.6M518.2,29.7l-0.4,0.3M504.0,139.2l-0.3,0.3M477.4,86.1l-0.5,0.7M509.5,79.5l-0.5,0.5M484.5,126.4l0.9,0.0M452.8,131.0l0.2,0.5M471.5,72.0l0.4,0.4M512.8,144.0l-0.5,0.4M450.9,128.5l-0.1,0.2M504.1,32.6l-0.3,0.2M423.2,37.2l0.4,1.0M445.4,148.2l0.0,0.6M492.3,148.8l-0.8,0.4M407.1,105.3l0.8,0.4M473.2,52.0l-0.5,0.3M504.7,38.2l0.3,0.4M406.7,140.4l0.4,0.6M475.9,60.5l-0.0,0.3M441.7,125.6l-0.4,0.1M487.5,120.6l-1.0,0.5M516.2,67.1l0.1,0.3M508.3,60.8l-0.8,0.4M436.2,48.0l-0.3,0.1" stroke="#40409c" stroke-width="1.0" stroke-linecap="round" opacity="0.85" fill="none"/>
<path d="M445.4,61.1l-0.1,0.2M401.9,32.0l-0.0,0.0M504.7,61.6l-0.2,0.3M467.8,29.1l-0.0,0.0M430.4,84.3l0.2,0.1M407.0,131.1l0.1,0.2M422.6,65.9l0.2,0.1M510.9,88.3l-0.2,0.0M474.2,147.5l-0.3,0.1M404.0,55.4l0.2,0.2M430.4,128.0l0.3,0.2M437.2,30.0l0.1,0.3M445.9,88.2l0.0,0.0M427.9,134.2l-0.0,0.3M444.5,50.4l-0.0,0.3M494.9,59.5l0.0,0.0M474.2,50.0l-0.1,0.2M463.1,124.0l-0.0,0.0M464.2,49.1l-0.2,0.0M484.1,120.7l0.1,0.1M468.2,94.2l-0.0,0.0M498.2,111.6l0.1,0.4M412.0,86.7l-0.0,0.3M480.9,85.4l-0.1,0.0M475.0,67.7l-0.0,0.4M433.1,145.2l0.1,0.2M511.7,111.7l0.1,0.2M419.5,82.6l-0.0,0.0M511.3,116.5l-0.3,0.3M427.9,40.4l-0.2,0.3M518.0,34.4l-0.2,0.2M474.5,48.3l0.0,0.0M482.1,69.9l-0.2,0.3M401.5,106.7l-0.0,0.0M501.5,76.5l0.1,0.3M421.6,111.8l-0.2,0.1M445.2,119.8l-0.0,0.0M411.1,55.0l0.0,0.0M467.3,64.4l-0.2,0.2M461.9,112.2l0.3,0.1M511.5,135.7l-0.1,0.1M487.8,74.7l-0.3,0.2M500.7,130.8l-0.0,0.4M480.4,71.7l-0.2,0.1M507.6,42.6l-0.3,0.2M497.4,38.7l-0.3,0.3M490.6,107.6l-0.0,0.0M484.7,91.4l0.0,0.0M498.3,124.5l0.0,0.0M484.6,53.1l0.0,0.0M443.7,111.5l0.2,0.3M512.0,146.6l0.0,0.1M423.5,99.8l-0.2,0.2M472.8,39.4l0.1,0.1M447.6,73.2l-0.1,0.0M426.7,58.3l0.0,0.0M413.7,126.8l0.0,0.0M453.1,119.4l-0.0,0.4M494.0,36.5l-0.3,0.1M421.2,55.7l0.0,0.0M413.1,40.1l-0.0,0.0M502.4,133.7l-0.0,0.0M456.2,138.2l-0.0,0.0M505.9,65.8l0.0,0.0M416.3,31.5l0.1,0.2M431.6,109.7l-0.3,0.2M408.6,100.6l0.1,0.2M493.8,101.6l0.0,0.0M519.1,126.8l-0.1,0.0M435.4,63.6l-0.0,0.0M495.6,71.5l-0.0,0.0M499.8,137.2l-0.1,0.2M411.7,76.1l0.2,0.3M444.7,73.6l-0.0,0.3M487.2,40.1l0.3,0.3M490.1,145.3l-0.2,0.3M439.2,69.5l-0.2,0.0M421.0,51.5l-0.0,0.0M491.2,52.5l0.1,0.1M451.9,113.5l-0.2,0.2M514.2,103.1l0.3,0.0M508.0,138.3l0.0,0.0M478.8,112.0l0.2,0.3M463.9,128.7l0.3,0.2M412.7,117.0l-0.3,0.2M454.0,81.4l0.3,0.2M439.7,149.8l0.2,0.1M453.6,123.2l0.0,0.0M504.0,117.4l0.0,0.0M421.8,127.7l-0.0,0.0M459.4,118.7l0.0,0.2M457.5,105.6l-0.0,0.0M408.9,129.5l0.3,0.1M511.1,75.3l-0.2,0.2M413.7,85.3l0.2,0.3M476.8,64.2l0.0,0.0M484.2,37.3l0.0,0.3M465.9,59.3l-0.1,0.1M519.4,109.4l0.3,0.2M486.0,142.6l-0.3,0.1M514.6,51.8l-0.0,0.2M405.8,56.7l-0.0,0.3M486.7,54.6l-0.2,0.0M458.9,46.7l-0.0,0.0M410.7,40.4l0.4,0.1M457.0,118.9l0.0,0.2" stroke="#40409c" stroke-width="2.0" stroke-linecap="round" opacity="0.85" fill="none"/>
<path d="M508.7,34.1l-0.4,0.6M509.6,90.5l-0.0,0.0M448.3,79.1l0.1,0.4M442.9,72.2l0.5,0.2M428.7,72.2l-0.0,0.3M404.1,129.6l0.2,0.1M451.6,75.1l-0.1,0.6M457.3,146.6l0.2,0.1M510.7,72.4l-0.0,0.0M401.4,60.3l0.5,0.4M460.7,30.0l-0.1,0.0M476.9,55.5l-0.1,0.3M431.8,144.8l0.5,0.6M483.1,43.2l0.6,0.5M452.7,149.2l-0.4,0.1M515.3,121.9l-0.2,0.1M507.4,140.5l0.1,0.3M412.5,71.0l-0.0,0.1M417.7,38.3l-0.1,0.1M453.4,49.2l0.4,0.3M424.7,80.9l-0.0,0.0M483.9,47.2l-0.2,0.1M464.8,121.9l-0.1,0.2M516.6,95.9l-0.3,0.4M435.0,143.7l-0.4,0.2M473.1,124.8l0.1,0.1M421.0,52.6l-0.0,0.0M488.2,65.1l-0.0,0.0M420.9,47.2l0.5,0.3M482.3,93.8l-0.1,0.2M496.1,89.8l-0.2,0.4M446.9,78.7l0.2,0.2M482.0,80.2l-0.1,0.1M490.7,79.7l0.3,0.2M511.8,72.2l-0.0,0.1M443.7,55.7l0.1,0.1M465.0,145.6l0.2,0.6M519.3,68.2l0.3,0.2M512.3,64.0l0.0,0.1M452.6,62.1l0.6,0.4M476.9,106.5l-0.4,0.1M455.3,143.9l0.1,0.2M460.3,109.5l0.2,0.4M515.8,139.6l0.0,0.0M452.6,29.5l0.1,0.3M410.2,141.8l-0.3,0.2M507.3,95.4l0.1,0.3M508.0,29.7l-0.2,0.6M518.6,54.4l-0.1,0.1M427.4,77.0l-0.1,0.5M443.3,38.6l0.2,0.2M436.3,135.8l0.1,0.0M438.4,143.2l0.4,0.3M452.4,75.9l-0.0,0.0M435.7,125.7l0.4,0.7M471.9,119.6l-0.8,0.0M433.6,113.6l-0.6,0.5M438.3,76.0l0.1,0.0M469.8,107.8l-0.1,0.3M466.1,77.5l-0.4,0.1M492.7,67.9l0.0,0.6M427.3,101.5l0.2,0.1M513.6,125.4l-0.0,0.0M454.6,105.1l-0.1,0.2M465.1,45.1l0.0,0.0M507.8,42.4l0.2,0.0M513.4,39.8l0.3,0.4M425.6,87.9l-0.2,0.1M432.4,87.4l0.0,0.0M401.0,56.8l-0.3,0.2M411.3,147.8l-0.3,0.7M453.7,102.1l0.3,0.1M490.6,48.8l-0.4,0.2M473.9,48.9l-0.1,0.7M499.8,76.4l-0.1,0.0M417.6,113.3l-0.0,0.0M492.1,99.8l0.0,0.0M477.7,67.3l-0.1,0.2M432.0,63.0l0.7,0.3M418.7,136.8l-0.5,0.5M437.3,129.0l-0.4,0.5M507.1,103.3l0.0,0.4M416.1,107.8l0.6,0.3M426.8,138.9l0.2,0.5M433.9,82.4l0.4,0.1M451.9,94.3l0.0,0.8M449.3,129.9l-0.4,0.1M415.0,121.7l0.4,0.7M451.4,97.9l-0.0,0.3M455.1,29.3l-0.0,0.3M475.3,128.5l-0.2,0.0M403.5,78.3l-0.3,0.5M456.0,105.2l0.2,0.6M467.0,47.6l0.0,0.8M435.4,109.4l0.2,0.3M466.8,88.4l0.4,0.7M517.0,66.6l0.6,0.1M457.2,139.4l0.6,0.0M407.3,65.2l-0.4,0.3M431.7,72.5l0.2,0.0M494.5,31.3l0.0,0.7M430.6,55.9l0.8,0.3M417.5,86.7l-0.1,0.5M519.4,113.9l0.1,0.0M413.8,127.7l-0.1,0.5M442.6,131.4l-0.2,0.2M440.6,128.7l-0.1,0.1M437.5,45.1l-0.3,0.3M422.0,90.4l0.3,0.8M515.6,134.5l-0.3,0.1M431.0,118.2l0.3,0.8M415.8,33.0l0.2,0.1M403.6,35.6l-0.3,0.2M449.4,59.1l-0.0,0.0M481.8,54.5l-0.1,0.2M445.4,42.8l0.1,0.8M437.4,41.0l-0.0,0.0M489.7,46.0l-0.0,0.0M434.4,73.6l-0.3,0.7M408.7,68.6l-0.0,0.0M518.9,110.6l-0.1,0.0M449.6,70.8l0.6,0.4M474.3,49.6l0.0,0.0M409.5,51.5l-0.3,0.2M509.6,57.5l-0.4,0.7M492.1,149.8l0.0,0.0M408.9,137.9l0.0,0.0M444.6,54.2l0.2,0.7M489.0,117.9l-0.7,0.4M422.1,73.3l0.3,0.3M464.8,119.9l0.5,0.2M443.4,51.1l0.4,0.1M404.5,47.0l0.1,0.0M463.7,121.3l-0.2,0.4M485.4,87.4l-0.0,0.0M409.2,129.7l-0.3,0.2M428.8,59.3l0.7,0.2M460.5,56.7l0.4,0.2M466.3,146.4l-0.3,0.1M481.1,78.8l0.6,0.2M428.3,68.4l0.7,0.2M418.1,49.6l-0.5,0.3M468.8,93.3l0.6,0.0M514.6,85.3l-0.1,0.0M512.3,43.4l0.3,0.5M493.4,66.9l0.0,0.0M405.8,62.4l0.3,0.8M421.5,110.0l-0.2,0.0M414.4,117.1l-0.0,0.0M443.6,75.7l0.0,0.0M460.2,128.0l0.0,0.0M492.3,54.1l0.3,0.3M408.1,134.5l0.8,0.3M495.4,51.0l0.0,0.0M429.0,108.8l0.5,0.3M507.6,72.8l0.0,0.0M451.1,59.8l0.2,0.1M519.5,89.4l0.3,0.7M432.1,48.1l0.6,0.6M409.3,64.5l-0.0,0.0M408.3,99.0l0.3,0.2M413.0,73.9l0.0,0.0M429.8,128.3l0.2,0.1M462.6,51.4l0.3,0.3M499.9,105.0l0.7,0.4M477.0,66.9l-0.3,0.3M443.4,132.3l-0.5,0.6M406.8,109.0l0.2,0.2M418.4,99.2l-0.0,0.1M502.9,102.1l-0.0,0.5M426.0,109.8l-0.1,0.2M424.0,133.8l-0.0,0.4M402.5,133.6l0.3,0.3M479.5,124.9l0.6,0.2M430.9,140.3l-0.1,0.8M407.0,85.5l0.5,0.5M494.5,97.9l-0.4,0.5M454.0,74.9l0.0,0.1M414.0,75.9l0.1,0.0M469.3,49.2l-0.7,0.5M498.4,137.8l-0.0,0.1M474.0,73.0l0.3,0.3M473.7,56.2l-0.1,0.2M438.9,29.8l-0.1,0.1M506.3,105.6l0.1,0.4M448.3,98.8l-0.0,0.0M487.8,62.1l0.2,0.1M503.7,60.1l0.4,0.7M439.6,140.9l0.1,0.1M489.5,142.8l-0.2,0.1M465.8,40.8l0.1,0.2M454.4,27.9l-0.5,0.1M418.2,110.1l0.3,0.2M485.7,150.0l-0.0,0.0M516.4,90.4l0.7,0.1M464.2,126.5l-0.6,0.1M501.0,126.5l0.3,0.5M517.9,114.7l-0.6,0.1M507.8,111.6l0.2,0.5M497.6,117.3l-0.5,0.3M514.1,54.1l-0.3,0.1M440.3,74.6l0.4,0.1M413.7,119.0l0.2,0.1M436.0,120.4l0.5,0.1M433.7,145.0l0.0,0.0M490.7,32.3l0.4,0.3M414.9,116.0l-0.0,0.2M445.0,101.2l0.9,0.0M433.4,88.0l-0.5,0.3M439.6,104.8l0.0,0.0M408.9,34.2l-0.0,0.0M447.5,56.7l0.8,0.3M443.7,63.3l0.0,0.0M405.6,28.5l-0.1,0.2M496.2,135.3l0.0,0.1M498.7,128.8l-0.0,0.2M504.1,28.5l-0.0,0.0M501.7,30.9l-0.0,0.0M441.7,33.8l-0.6,0.0M500.3,40.9l0.3,0.0M429.2,103.0l-0.4,0.6M410.2,81.3l0.0,0.1M454.4,27.4l0.0,0.0M495.8,132.9l0.0,0.2M423.4,147.3l-0.0,0.0M417.7,134.8l0.3,0.4M445.2,108.9l-0.3,0.0M432.2,72.5l0.2,0.1M424.6,86.3l0.4,0.4M498.2,26.9l0.4,0.3M414.8,147.6l-0.2,0.0M413.0,81.8l-0.3,0.4M517.3,94.8l0.0,0.0" stroke="#40409c" stroke-width="1.5" stroke-linecap="round" opacity="0.85" fill="none"/>
<path d="M404.4,117.6l-0.0,0.0M411.2,102.7l-0.0,0.0M449.1,145.5l0.0,0.0M485.5,50.1l0.0,0.0M481.7,46.3l-0.0,0.0M484.2,142.6l0.0,0.0" stroke="#40409c" stroke-width="2.5" stroke-linecap="round" opacity="0.85" fill="none"/>
</g>
<rect x="16" y="519.4" width="122.19999999999999" height="122.39999999999998" fill="#efefed"/>
<g fill="#f6f6f4"><rect x="16.0" y="519.4" width="20.0" height="20.0"/><rect x="56.0" y="519.4" width="20.0" height="20.0"/><rect x="96.0" y="519.4" width="20.0" height="20.0"/><rect x="136.0" y="519.4" width="2.2" height="20.0"/><rect x="36.0" y="539.4" width="20.0" height="20.0"/><rect x="76.0" y="539.4" width="20.0" height="20.0"/><rect x="116.0" y="539.4" width="20.0" height="20.0"/><rect x="16.0" y="559.4" width="20.0" height="20.0"/><rect x="56.0" y="559.4" width="20.0" height="20.0"/><rect x="96.0" y="559.4" width="20.0" height="20.0"/><rect x="136.0" y="559.4" width="2.2" height="20.0"/><rect x="36.0" y="579.4" width="20.0" height="20.0"/><rect x="76.0" y="579.4" width="20.0" height="20.0"/><rect x="116.0" y="579.4" width="20.0" height="20.0"/><rect x="16.0" y="599.4" width="20.0" height="20.0"/><rect x="56.0" y="599.4" width="20.0" height="20.0"/><rect x="96.0" y="599.4" width="20.0" height="20.0"/><rect x="136.0" y="599.4" width="2.2" height="20.0"/><rect x="36.0" y="619.4" width="20.0" height="20.0"/><rect x="76.0" y="619.4" width="20.0" height="20.0"/><rect x="116.0" y="619.4" width="20.0" height="20.0"/><rect x="16.0" y="639.4" width="20.0" height="2.4"/><rect x="56.0" y="639.4" width="20.0" height="2.4"/><rect x="96.0" y="639.4" width="20.0" height="2.4"/><rect x="136.0" y="639.4" width="2.2" height="2.4"/></g>
<clipPath id="cK1"><circle cx="76.6" cy="580.8" r="58.5"/></clipPath>
<g clip-path="url(#cK1)">
<g filter="url(#soft)">
<rect x="18.10" y="522.30" width="117.00" height="117.00" fill="#cdc4d5" opacity="1"/>
<rect x="18.10" y="522.30" width="117.00" height="117.00" fill="#000" filter="url(#mottleL)" opacity="1"/>
<rect x="18.10" y="522.30" width="117.00" height="117.00" fill="#000" filter="url(#mottleB)" opacity="1"/>
<rect x="18.10" y="522.30" width="117.00" height="117.00" fill="#000" filter="url(#whitefine)" opacity="0.7"/>
</g>
<rect x="18.10" y="522.30" width="117.00" height="117.00" fill="#000" filter="url(#speck)" opacity="0.75"/>
</g>
<clipPath id="cK2"><rect x="141" y="519.4" width="122.80" height="122.40"/></clipPath>
<g clip-path="url(#cK2)">
<rect x="141.00" y="519.40" width="122.80" height="122.40" fill="#f3eff2" opacity="1"/>
<path d="M133.5,506.9 133.1,508.4 136.2,513.9 144.0,507.8 143.1,505.8 134.9,505.6ZM257.5,508.2 268.8,507.8 269.6,513.0 257.5,515.9ZM147.7,514.2 137.4,520.0 136.2,519.0 136.2,513.9 144.0,507.8 148.0,513.6ZM189.8,507.2 191.8,516.0 191.2,519.2 184.2,515.0 183.0,512.6 187.0,508.6ZM191.8,516.0 191.2,519.2 193.7,521.7 197.9,519.1 196.3,508.5 194.2,507.6ZM240.8,521.1 235.9,513.5 235.9,510.5 242.6,509.0 247.6,510.9 248.1,515.3 246.8,517.0ZM251.2,525.1 246.8,517.0 248.1,515.3 256.4,518.3 256.5,518.7 253.1,525.0ZM154.9,523.5 148.4,519.4 146.3,529.1 153.6,529.8ZM169.4,520.6 173.2,527.2 165.6,530.4 162.1,528.3 162.7,523.7ZM169.6,519.2 174.7,515.8 180.1,525.7 180.1,525.9 175.8,528.5 173.2,527.2 169.4,520.6ZM204.5,529.9 208.7,532.8 211.0,530.5 213.2,522.6 210.2,520.6 207.0,520.1 204.3,529.4ZM244.6,528.4 243.5,528.3 243.0,527.9 240.7,521.6 240.8,521.1 246.8,517.0 251.2,525.1ZM196.0,536.3 186.5,536.4 186.0,535.3 187.3,528.1 192.8,525.8 193.8,527.1ZM243.5,528.3 242.2,539.6 235.2,538.9 233.4,533.7 234.0,532.4 243.0,527.9ZM253.7,536.9 251.5,539.3 243.8,540.9 242.2,539.6 243.5,528.3 244.6,528.4ZM212.8,544.8 220.1,543.4 220.8,542.8 220.8,536.6 211.0,534.5ZM241.4,551.4 243.2,545.8 243.8,540.9 242.2,539.6 235.2,538.9 231.9,543.6 240.8,551.5ZM146.9,549.7 146.4,546.8 138.1,546.5 134.5,555.1 143.3,555.1ZM166.2,548.6 162.8,554.1 162.8,554.2 174.6,557.6 175.3,556.5 172.7,548.0ZM230.0,556.1 222.8,556.4 220.3,555.3 220.1,543.4 220.8,542.8 228.4,544.9 230.1,556.0ZM250.7,555.5 250.0,556.3 241.4,551.4 243.2,545.8 250.9,546.9ZM250.7,555.5 250.9,546.9 252.0,543.9 258.2,548.5 256.1,552.8ZM147.0,560.6 146.2,560.3 143.3,555.1 146.9,549.7 152.6,553.1 151.5,561.1ZM195.7,562.4 185.6,563.1 186.3,554.9 194.3,553.3 195.7,554.2ZM231.8,565.2 230.6,561.9 230.0,556.1 230.1,556.0 237.3,554.6 238.4,559.7ZM238.4,559.7 237.3,554.6 240.8,551.5 241.4,551.4 250.0,556.3 250.1,557.7 242.9,565.2ZM268.6,548.3 267.3,548.9 264.8,555.5 274.5,559.7 277.1,558.4 270.8,548.4ZM144.5,570.9 147.0,560.6 151.5,561.1 154.3,563.6 147.3,572.8ZM249.5,571.8 252.8,569.4 252.1,559.9 250.1,557.7 242.9,565.2 242.3,567.4ZM167.8,577.8 165.1,570.0 160.0,569.1 156.3,575.2 158.8,580.8ZM268.2,569.8 267.4,568.6 266.7,568.2 261.5,568.6 258.6,570.3 257.3,578.0 259.8,578.8 266.8,575.7ZM276.7,572.8 271.0,586.5 270.6,586.1 266.8,575.7 268.2,569.8ZM206.2,589.3 212.7,585.7 212.1,580.6 210.3,576.9 200.4,578.0 198.7,580.4ZM166.5,595.1 168.6,588.4 167.8,586.6 157.3,584.4 154.1,588.0 156.1,591.9 158.5,594.3 163.6,595.7ZM166.5,595.1 168.6,588.4 173.5,587.3 176.9,597.2 174.6,598.9 170.6,597.5ZM176.9,597.2 173.5,587.3 177.2,584.9 184.3,590.5 184.5,592.6 183.9,593.9ZM205.2,591.0 205.9,595.8 202.8,599.6 196.8,598.6 195.4,593.0 196.9,591.2ZM248.3,595.7 258.4,598.8 258.2,602.2 247.6,604.8 245.4,603.8ZM170.6,597.5 174.6,598.9 175.4,604.5 167.6,612.9 167.3,613.0 165.7,607.8ZM185.0,607.5 187.7,601.5 193.7,602.1 196.2,607.5 193.6,610.3 186.6,610.0ZM247.6,604.8 258.2,602.2 260.5,608.5 253.7,612.2ZM165.8,616.1 172.8,626.9 173.0,627.0 177.4,625.1 177.4,617.2 177.4,617.2 167.6,612.9 167.3,613.0 166.6,613.6ZM177.4,617.2 185.9,616.0 186.6,610.0 185.0,607.5 180.1,607.6 177.4,617.2ZM240.2,606.6 228.2,609.1 227.6,609.9 226.9,611.5 227.0,612.3 228.9,616.4 238.3,616.3 241.2,612.6ZM191.4,621.0 196.3,629.3 201.5,630.9 204.6,628.3 199.9,620.2 197.9,619.0 195.2,618.9ZM231.4,627.5 237.3,627.9 238.9,623.4 238.3,616.3 228.9,616.4 228.1,619.9ZM139.5,634.9 135.9,629.5 140.1,622.7 140.3,622.8 144.4,634.2 139.5,635.0ZM173.0,627.0 171.7,637.4 174.6,638.9 174.9,638.9 182.8,636.5 184.2,634.5 183.7,628.2 177.4,625.1ZM219.1,628.8 207.2,629.5 211.5,637.0 220.3,630.5ZM139.5,634.9 129.0,638.4 128.2,643.4 128.8,644.9 133.4,647.0 138.2,645.1 139.5,635.0ZM148.0,632.7 152.0,633.4 157.0,640.3 156.6,642.9 154.4,644.5 148.5,644.4 145.8,634.4ZM145.6,647.3 138.2,645.1 133.4,647.0 134.9,654.1 145.5,653.0 145.7,652.8Z" fill="#f2edf1"/>
<path d="M163.4,505.8 165.4,509.4 164.5,513.5 158.1,516.8 152.1,512.9 156.0,506.9 162.8,505.0ZM248.1,515.3 256.4,518.3 257.5,515.9 257.5,508.2 256.8,507.7 251.1,507.3 247.6,510.9ZM177.7,511.5 174.7,515.8 180.1,525.7 184.2,515.0 183.0,512.6 178.4,511.4ZM148.4,519.4 147.7,514.2 137.4,520.0 138.4,529.2 139.1,529.6 144.7,529.8 146.3,529.1ZM158.5,519.7 154.9,523.5 153.6,529.8 155.8,531.4 162.1,528.3 162.7,523.7ZM137.1,529.6 129.9,530.8 127.3,533.1 127.1,539.6 127.3,541.4 128.2,542.1 133.3,542.3ZM148.7,542.6 148.5,542.6 144.7,529.8 146.3,529.1 153.6,529.8 155.8,531.4 155.8,531.4ZM166.5,536.6 165.6,530.4 162.1,528.3 155.8,531.4 155.8,531.4 158.0,535.3ZM197.8,538.7 202.1,541.3 204.5,542.2 208.8,533.2 208.7,532.8 204.5,529.9ZM253.7,536.9 244.6,528.4 251.2,525.1 253.1,525.0 256.9,530.3 257.4,535.7ZM174.6,537.9 175.9,534.9 186.0,535.3 186.5,536.4 185.9,542.3 182.0,545.2 176.8,543.7ZM208.8,533.2 211.0,534.5 212.8,544.8 209.2,546.1 207.8,546.0 204.5,542.2ZM250.9,546.9 243.2,545.8 243.8,540.9 251.5,539.3 252.0,543.9ZM253.7,536.9 251.5,539.3 252.0,543.9 258.2,548.5 260.9,546.4 259.6,537.7 257.7,535.8 257.4,535.7ZM268.6,548.3 267.3,548.9 260.9,546.4 259.6,537.7 266.9,538.9ZM155.6,543.6 156.9,551.5 152.6,553.1 146.9,549.7 146.4,546.8 148.4,542.8 148.5,542.6 148.7,542.6ZM240.8,551.5 237.3,554.6 230.1,556.0 228.4,544.9 231.9,543.6ZM174.6,557.6 162.8,554.2 162.3,557.2 166.9,561.8 173.1,561.2 174.5,558.4ZM185.6,563.1 184.7,565.6 174.5,558.4 174.6,557.6 175.3,556.5 185.3,554.2 186.3,554.9ZM202.3,555.2 213.6,557.0 214.7,558.2 213.8,561.1 213.4,561.6 203.7,559.4ZM138.4,570.0 127.6,572.6 126.4,567.8 135.2,561.9 138.2,565.1 139.0,569.4ZM166.9,561.8 162.3,557.2 156.1,563.9 160.0,569.1 165.1,570.0 165.5,569.7ZM184.4,568.9 178.7,570.5 174.3,567.3 173.1,561.2 174.5,558.4 184.7,565.6ZM196.2,563.5 196.6,569.1 197.9,569.7 204.4,567.0 203.3,561.3ZM222.0,565.7 213.8,561.1 213.4,561.6 210.7,568.9 211.8,571.8 220.7,571.5 222.9,568.4ZM256.0,561.3 263.2,558.9 266.7,568.2 261.5,568.6ZM138.4,570.0 137.5,579.8 147.5,576.2 148.0,574.6 147.3,572.8 144.5,570.9 139.0,569.4ZM195.2,582.1 192.6,581.8 187.7,570.9 196.6,569.1 197.9,569.7 200.4,578.0 198.7,580.4ZM182.5,579.8 186.6,586.5 190.2,583.2 184.1,578.2ZM220.8,584.5 225.4,579.0 223.8,577.7 212.1,580.6 212.7,585.7 213.1,586.0ZM205.2,591.0 205.9,595.8 210.7,597.8 217.3,595.6 217.9,594.4 213.1,586.0 212.7,585.7 206.2,589.3ZM237.9,593.1 241.5,585.8 249.8,588.5 248.2,595.4ZM248.3,595.7 258.4,598.8 261.8,594.8 256.1,587.9 252.6,586.3 249.8,588.5 248.2,595.4ZM128.1,604.6 136.7,603.9 137.2,613.1 128.5,609.5ZM185.9,616.0 190.2,621.1 191.4,621.0 195.2,618.9 193.6,610.3 186.6,610.0ZM241.2,612.6 238.3,616.3 238.9,623.4 251.0,619.2 250.7,617.7ZM144.4,634.2 145.8,634.4 148.0,632.7 148.1,632.0 144.5,622.3 140.3,622.8ZM153.6,621.3 153.9,622.2 160.9,628.7 162.2,627.8 165.6,616.4ZM177.4,617.2 177.4,625.1 183.7,628.2 185.7,626.7 190.2,621.1 185.9,616.0ZM172.8,626.9 162.2,627.8 160.9,628.7 160.9,629.2 162.5,634.0 168.9,638.0 171.7,637.4 173.0,627.0ZM201.5,630.9 204.6,628.3 205.3,628.3 207.2,629.5 211.5,637.0 211.2,640.8 209.2,641.1 200.6,634.2ZM229.5,629.2 229.7,639.9 229.0,640.4 221.5,637.1 220.4,630.6ZM239.8,630.4 250.6,629.1 251.7,633.9 246.9,640.0 239.7,633.1ZM229.7,639.9 229.0,640.4 227.7,644.6 228.6,646.1 237.4,648.3 239.9,646.6 240.3,646.2 236.5,639.9ZM178.1,652.4 179.6,648.0 174.9,638.9 174.6,638.9 172.9,645.3 173.4,652.4Z" fill="#f7f4f6"/>
<path d="M191.8,506.0 194.2,507.6 191.8,516.0 189.8,507.2ZM202.2,507.2 205.8,511.6 205.1,518.5 197.9,519.1 196.3,508.5ZM205.8,511.6 212.2,508.7 214.6,513.5 210.2,520.6 207.0,520.1 205.1,518.5ZM235.9,513.5 228.0,519.5 223.4,517.7 222.7,514.5 223.4,511.7 235.3,509.8 235.9,510.5ZM256.5,518.7 256.4,518.3 257.5,515.9 269.6,513.0 269.7,513.4 266.2,522.6 263.2,522.6ZM269.7,513.4 266.2,522.6 269.7,527.6 269.8,527.7 284.1,519.4ZM204.3,529.4 207.0,520.1 205.1,518.5 197.9,519.1 193.7,521.7 192.8,525.8 193.8,527.1ZM243.0,527.9 234.0,532.4 231.0,524.5 231.1,524.0 240.7,521.6ZM175.9,534.9 175.8,528.5 180.1,525.9 187.3,528.1 186.0,535.3ZM137.1,529.6 133.3,542.3 136.1,543.0 139.4,539.1 139.1,529.6 138.4,529.2ZM139.4,539.1 148.4,542.8 146.4,546.8 138.1,546.5 136.1,543.0ZM167.2,537.6 174.6,537.9 176.8,543.7 172.7,548.0 166.2,548.6 163.6,543.4ZM163.6,543.4 166.2,548.6 162.8,554.1 156.9,551.5 155.6,543.6 158.1,542.2ZM223.1,563.1 222.8,556.4 220.3,555.3 214.7,558.2 213.8,561.1 222.0,565.7ZM230.6,561.9 230.0,556.1 222.8,556.4 223.1,563.1ZM250.7,555.5 250.0,556.3 250.1,557.7 252.1,559.9 256.0,561.3 263.2,558.9 263.8,556.2 256.1,552.8ZM263.8,556.2 263.2,558.9 266.7,568.2 267.4,568.6 274.5,559.7 264.8,555.5ZM232.1,568.0 222.9,568.4 222.0,565.7 223.1,563.1 230.6,561.9 231.8,565.2ZM182.5,579.8 176.4,580.0 175.0,577.8 178.7,570.5 184.4,568.9 186.3,570.4 184.1,578.2ZM230.9,576.1 232.3,568.1 232.1,568.0 222.9,568.4 220.7,571.5 223.8,577.7 225.4,579.0 226.6,579.2ZM240.7,579.5 239.7,580.6 230.9,576.1 232.3,568.1 240.2,568.7ZM249.7,577.7 240.7,579.5 240.2,568.7 242.3,567.4 249.5,571.8ZM157.3,584.4 158.8,580.8 156.3,575.2 148.0,574.6 147.5,576.2 149.1,586.6 154.1,588.0ZM252.6,586.3 252.5,580.2 257.3,578.0 259.8,578.8 262.3,583.6 256.1,587.9ZM154.1,588.0 149.1,586.6 149.1,586.6 145.6,590.4 146.5,600.0 147.1,600.1 156.1,591.9ZM186.6,586.5 184.3,590.5 184.5,592.6 195.4,593.0 196.9,591.2 195.2,582.1 192.6,581.8 190.2,583.2ZM225.4,590.6 220.8,584.5 213.1,586.0 217.9,594.4 222.4,593.7ZM233.2,592.2 227.5,600.3 222.4,593.7 225.4,590.6 229.8,588.9ZM162.6,603.5 154.9,606.7 153.3,606.1 153.2,605.8 158.5,594.3 163.6,595.7ZM258.2,602.2 260.5,608.5 260.9,608.7 270.6,599.9 270.6,599.6 267.0,593.7 261.8,594.8 258.4,598.8ZM136.7,603.9 139.6,600.6 142.0,601.3 144.5,611.5 137.4,613.3 137.2,613.1ZM165.7,607.8 167.3,613.0 166.6,613.6 159.5,611.6 154.9,606.7 162.6,603.5ZM196.6,607.5 203.7,603.9 204.8,604.9 207.4,610.7 201.3,612.3ZM227.7,601.0 227.6,600.9 218.4,602.9 218.4,602.9 227.6,609.9 228.2,609.1ZM151.9,619.4 150.0,618.5 147.6,612.4 153.3,606.1 154.9,606.7 159.5,611.6ZM193.6,610.3 196.2,607.5 196.6,607.5 201.3,612.3 197.9,619.0 195.2,618.9ZM211.7,613.2 214.3,610.3 226.9,611.5 227.0,612.3 215.6,619.8 213.5,618.4 211.8,614.6ZM135.9,629.5 129.8,628.3 129.3,621.4 136.2,618.5 140.1,622.7ZM218.0,622.4 215.6,619.8 213.5,618.4 205.3,628.3 207.2,629.5 219.1,628.8ZM229.5,629.2 220.4,630.6 220.3,630.5 219.1,628.8 218.0,622.4 228.1,619.9 231.4,627.5ZM196.3,629.3 201.5,630.9 200.6,634.2 199.6,635.6 195.0,639.7 190.9,636.3 193.6,630.7ZM229.5,629.2 229.7,639.9 236.5,639.9 239.7,633.1 239.8,630.4 237.3,627.9 231.4,627.5ZM251.7,627.5 261.3,629.1 263.7,635.9 256.6,638.0 251.7,633.9 250.6,629.1ZM174.6,638.9 171.7,637.4 168.9,638.0 164.7,645.5 164.8,645.6 172.9,645.3ZM199.6,635.6 205.0,643.6 201.5,647.2 201.0,647.3 195.0,642.1 195.0,639.7ZM156.6,642.9 164.7,645.5 164.8,645.6 166.2,651.6 157.0,654.8 154.4,644.5ZM173.4,652.4 170.6,653.3 167.5,652.6 166.2,651.6 164.8,645.6 172.9,645.3ZM195.1,656.0 201.0,647.3 195.0,642.1 189.4,646.2 189.5,649.9ZM216.9,643.1 214.3,643.5 212.3,652.7 216.3,654.7 221.7,651.1 221.8,646.0ZM261.8,652.7 257.6,645.4 266.3,641.3 267.6,642.8 265.3,651.7ZM265.3,651.7 265.4,651.7 315.3,651.0 285.6,642.5 267.6,642.8Z" fill="#efe8ee"/>
<path d="M223.4,511.7 221.5,504.1 212.6,507.8 212.2,508.7 214.6,513.5 222.7,514.5ZM136.2,513.9 136.2,519.0 127.6,517.5 128.5,512.9 133.1,508.4ZM158.1,516.8 152.1,512.9 148.0,513.6 147.7,514.2 148.4,519.4 154.9,523.5 158.5,519.7ZM158.1,516.8 164.5,513.5 169.6,519.2 169.4,520.6 162.7,523.7 158.5,519.7ZM218.5,523.4 223.4,517.7 222.7,514.5 214.6,513.5 210.2,520.6 213.2,522.6ZM240.8,521.1 235.9,513.5 228.0,519.5 231.1,524.0 240.7,521.6ZM184.2,515.0 191.2,519.2 193.7,521.7 192.8,525.8 187.3,528.1 180.1,525.9 180.1,525.7ZM257.4,535.7 257.7,535.8 269.7,527.6 266.2,522.6 263.2,522.6 256.9,530.3ZM167.2,537.6 174.6,537.9 175.9,534.9 175.8,528.5 173.2,527.2 165.6,530.4 166.5,536.6ZM197.8,538.7 204.5,529.9 204.3,529.4 193.8,527.1 196.0,536.3 197.8,538.7ZM221.3,531.1 221.5,531.3 221.9,533.7 220.8,536.6 211.0,534.5 208.8,533.2 208.7,532.8 211.0,530.5ZM233.4,533.7 221.9,533.7 221.5,531.3 231.0,524.5 234.0,532.4ZM235.2,538.9 233.4,533.7 221.9,533.7 220.8,536.6 220.8,542.8 228.4,544.9 231.9,543.6ZM268.6,548.3 266.9,538.9 270.3,537.2 277.5,543.1 270.8,548.4ZM136.1,543.0 138.1,546.5 134.5,555.1 134.0,555.4 131.4,554.7 128.2,542.1 133.3,542.3ZM172.7,548.0 175.3,556.5 185.3,554.2 182.0,545.2 176.8,543.7ZM186.3,554.9 185.3,554.2 182.0,545.2 185.9,542.3 192.5,543.6 194.3,552.9 194.3,553.3ZM202.3,555.2 213.6,557.0 209.2,546.1 207.8,546.0 201.5,554.2ZM214.7,558.2 220.3,555.3 220.1,543.4 212.8,544.8 209.2,546.1 213.6,557.0ZM256.1,552.8 263.8,556.2 264.8,555.5 267.3,548.9 260.9,546.4 258.2,548.5ZM146.2,560.3 138.2,565.1 135.2,561.9 134.0,555.4 134.5,555.1 143.3,555.1ZM154.3,563.6 156.1,563.9 162.3,557.2 162.8,554.2 162.8,554.1 156.9,551.5 152.6,553.1 151.5,561.1ZM139.0,569.4 138.2,565.1 146.2,560.3 147.0,560.6 144.5,570.9ZM196.2,563.5 196.6,569.1 187.7,570.9 186.3,570.4 184.4,568.9 184.7,565.6 185.6,563.1 195.7,562.4ZM203.3,561.3 204.4,567.0 210.7,568.9 213.4,561.6 203.7,559.4ZM240.2,568.7 232.3,568.1 232.1,568.0 231.8,565.2 238.4,559.7 242.9,565.2 242.3,567.4ZM258.6,570.3 261.5,568.6 256.0,561.3 252.1,559.9 252.8,569.4ZM127.4,576.0 127.4,573.5 127.6,572.6 138.4,570.0 137.5,579.8 136.5,581.2ZM147.3,572.8 154.3,563.6 156.1,563.9 160.0,569.1 156.3,575.2 148.0,574.6ZM184.1,578.2 186.3,570.4 187.7,570.9 192.6,581.8 190.2,583.2ZM197.9,569.7 200.4,578.0 210.3,576.9 211.8,571.8 210.7,568.9 204.4,567.0ZM249.7,577.7 252.5,580.2 257.3,578.0 258.6,570.3 252.8,569.4 249.5,571.8ZM149.1,586.6 149.1,586.6 147.5,576.2 137.5,579.8 136.5,581.2 136.7,582.6ZM157.3,584.4 158.8,580.8 167.8,577.8 168.2,578.1 167.8,586.6ZM182.5,579.8 176.4,580.0 177.2,584.9 184.3,590.5 186.6,586.5ZM229.8,588.9 230.1,587.1 226.6,579.2 225.4,579.0 220.8,584.5 225.4,590.6ZM136.3,583.3 129.9,587.4 126.7,593.8 127.5,594.7 136.8,595.3 138.4,593.0ZM236.9,593.7 233.2,592.2 229.8,588.9 230.1,587.1 239.6,581.2 241.5,585.8 237.9,593.1ZM128.1,604.6 127.6,603.8 127.5,594.7 136.8,595.3 139.6,600.6 136.7,603.9ZM183.9,593.9 184.5,592.6 195.4,593.0 196.8,598.6 193.7,602.1 187.7,601.5ZM236.9,593.7 233.2,592.2 227.5,600.3 227.6,600.9 227.7,601.0 237.1,600.5ZM142.0,601.3 146.5,600.0 147.1,600.1 153.2,605.8 153.3,606.1 147.6,612.4 144.5,611.5ZM211.7,613.2 207.4,610.7 204.8,604.9 210.8,602.1 215.2,606.6 214.3,610.3ZM214.3,610.3 215.2,606.6 218.4,602.9 227.6,609.9 226.9,611.5ZM237.1,600.5 227.7,601.0 228.2,609.1 240.2,606.6 240.5,606.1ZM140.3,622.8 144.5,622.3 150.0,618.5 147.6,612.4 144.5,611.5 137.4,613.3 136.2,618.5 140.1,622.7ZM260.4,620.2 263.1,610.7 267.1,611.9 269.2,618.6 263.6,622.7ZM153.6,621.3 153.9,622.2 148.1,632.0 144.5,622.3 150.0,618.5 151.9,619.4ZM239.8,630.4 250.6,629.1 251.7,627.5 251.9,620.7 251.0,619.2 238.9,623.4 237.3,627.9ZM260.4,620.2 251.9,620.7 251.7,627.5 261.3,629.1 263.9,625.2 263.6,622.7ZM263.6,622.7 263.9,625.2 271.4,627.9 272.4,626.8 273.1,620.6 269.2,618.6ZM193.6,630.7 185.7,626.7 183.7,628.2 184.2,634.5 190.9,636.3ZM139.5,635.0 138.2,645.1 145.6,647.3 148.5,644.4 145.8,634.4 144.4,634.2ZM200.6,634.2 209.2,641.1 205.0,643.6 199.6,635.6ZM220.4,630.6 221.5,637.1 216.9,643.1 214.3,643.5 211.2,640.8 211.5,637.0 220.3,630.5ZM221.5,637.1 216.9,643.1 221.8,646.0 227.7,644.6 229.0,640.4ZM247.5,646.7 246.4,646.0 246.9,640.0 251.7,633.9 256.6,638.0 255.2,643.9 248.2,646.9ZM148.5,644.4 145.6,647.3 145.7,652.8 155.2,657.5 157.0,654.8 154.4,644.5ZM178.1,652.4 180.9,655.0 189.5,649.9 189.4,646.2 185.0,644.1 179.6,648.0ZM227.7,644.6 228.6,646.1 228.3,654.5 221.7,651.1 221.8,646.0ZM252.0,651.9 260.7,653.9 261.8,652.7 257.6,645.4 255.2,643.9 248.2,646.9Z" fill="#f5f0f3"/>
<path d="M169.6,519.2 174.7,515.8 177.7,511.5 173.4,509.2 165.4,509.4 164.5,513.5ZM221.3,531.1 211.0,530.5 213.2,522.6 218.5,523.4ZM228.0,519.5 223.4,517.7 218.5,523.4 221.3,531.1 221.5,531.3 231.0,524.5 231.1,524.0ZM256.9,530.3 263.2,522.6 256.5,518.7 253.1,525.0ZM139.1,529.6 144.7,529.8 148.5,542.6 148.4,542.8 139.4,539.1ZM270.3,537.2 271.7,531.1 269.8,527.7 269.7,527.6 257.7,535.8 259.6,537.7 266.9,538.9ZM158.0,535.3 155.8,531.4 148.7,542.6 155.6,543.6 158.1,542.2ZM167.2,537.6 163.6,543.4 158.1,542.2 158.0,535.3 166.5,536.6ZM197.8,538.7 192.5,543.6 185.9,542.3 186.5,536.4 196.0,536.3ZM197.8,538.7 202.1,541.3 194.3,552.9 192.5,543.6 197.8,538.7ZM195.7,554.2 194.3,553.3 194.3,552.9 202.1,541.3 204.5,542.2 207.8,546.0 201.5,554.2ZM196.2,563.5 203.3,561.3 203.7,559.4 202.3,555.2 201.5,554.2 195.7,554.2 195.7,562.4ZM166.9,561.8 173.1,561.2 174.3,567.3 165.5,569.7ZM168.2,578.1 175.0,577.8 178.7,570.5 174.3,567.3 165.5,569.7 165.1,570.0 167.8,577.8ZM211.8,571.8 220.7,571.5 223.8,577.7 212.1,580.6 210.3,576.9ZM167.8,586.6 168.2,578.1 175.0,577.8 176.4,580.0 177.2,584.9 173.5,587.3 168.6,588.4ZM205.2,591.0 196.9,591.2 195.2,582.1 198.7,580.4 206.2,589.3ZM230.9,576.1 239.7,580.6 239.6,581.2 230.1,587.1 226.6,579.2ZM252.6,586.3 252.5,580.2 249.7,577.7 240.7,579.5 239.7,580.6 239.6,581.2 241.5,585.8 249.8,588.5ZM266.8,575.7 259.8,578.8 262.3,583.6 270.6,586.1ZM145.6,590.4 138.4,593.0 136.3,583.3 136.7,582.6 149.1,586.6ZM256.1,587.9 262.3,583.6 270.6,586.1 271.0,586.5 271.2,586.9 267.0,593.7 261.8,594.8ZM145.6,590.4 146.5,600.0 142.0,601.3 139.6,600.6 136.8,595.3 138.4,593.0ZM156.1,591.9 147.1,600.1 153.2,605.8 158.5,594.3ZM166.5,595.1 163.6,595.7 162.6,603.5 165.7,607.8 170.6,597.5ZM180.1,607.6 175.4,604.5 174.6,598.9 176.9,597.2 183.9,593.9 187.7,601.5 185.0,607.5ZM196.2,607.5 196.6,607.5 203.7,603.9 202.8,599.6 196.8,598.6 193.7,602.1ZM202.8,599.6 203.7,603.9 204.8,604.9 210.8,602.1 210.7,597.8 205.9,595.8ZM217.3,595.6 210.7,597.8 210.8,602.1 215.2,606.6 218.4,602.9 218.4,602.9ZM227.5,600.3 227.6,600.9 218.4,602.9 217.3,595.6 217.9,594.4 222.4,593.7ZM236.9,593.7 237.1,600.5 240.5,606.1 245.4,603.8 248.3,595.7 248.2,595.4 237.9,593.1ZM177.4,617.2 167.6,612.9 175.4,604.5 180.1,607.6ZM245.4,603.8 247.6,604.8 253.7,612.2 250.7,617.7 241.2,612.6 240.2,606.6 240.5,606.1ZM263.1,610.7 260.9,608.7 270.6,599.9 273.7,606.3 271.9,609.6 267.1,611.9ZM153.6,621.3 165.6,616.4 165.8,616.1 166.6,613.6 159.5,611.6 151.9,619.4ZM211.7,613.2 207.4,610.7 201.3,612.3 197.9,619.0 199.9,620.2 211.8,614.6ZM228.1,619.9 228.9,616.4 227.0,612.3 215.6,619.8 218.0,622.4ZM253.7,612.2 260.5,608.5 260.9,608.7 263.1,610.7 260.4,620.2 251.9,620.7 251.0,619.2 250.7,617.7ZM269.2,618.6 273.1,620.6 279.6,617.7 271.9,609.6 267.1,611.9ZM165.8,616.1 172.8,626.9 162.2,627.8 165.6,616.4ZM191.4,621.0 196.3,629.3 193.6,630.7 185.7,626.7 190.2,621.1ZM211.8,614.6 199.9,620.2 204.6,628.3 205.3,628.3 213.5,618.4ZM139.5,634.9 129.0,638.4 126.3,632.4 129.8,628.3 135.9,629.5ZM148.1,632.0 153.9,622.2 160.9,628.7 160.9,629.2 152.0,633.4 148.0,632.7ZM152.0,633.4 160.9,629.2 162.5,634.0 157.0,640.3ZM263.9,625.2 271.4,627.9 271.1,632.2 264.1,636.1 263.7,635.9 261.3,629.1ZM156.6,642.9 164.7,645.5 168.9,638.0 162.5,634.0 157.0,640.3ZM174.9,638.9 182.8,636.5 185.0,644.1 179.6,648.0ZM190.9,636.3 184.2,634.5 182.8,636.5 185.0,644.1 189.4,646.2 195.0,642.1 195.0,639.7ZM239.7,633.1 246.9,640.0 246.4,646.0 240.3,646.2 236.5,639.9ZM257.6,645.4 255.2,643.9 256.6,638.0 263.7,635.9 264.1,636.1 266.3,641.3ZM266.3,641.3 264.1,636.1 271.1,632.2 285.6,642.5 267.6,642.8ZM211.2,640.8 214.3,643.5 212.3,652.7 210.2,653.5 208.2,653.1 201.5,647.2 205.0,643.6 209.2,641.1ZM228.6,646.1 228.3,654.5 231.1,659.8 237.4,648.3Z" fill="#ece4ea"/>
<path d="M191.8,506.0 194.2,507.6 191.8,516.0 189.8,507.2ZM189.8,507.2 191.8,516.0 191.2,519.2 184.2,515.0 183.0,512.6 187.0,508.6ZM191.8,516.0 191.2,519.2 193.7,521.7 197.9,519.1 196.3,508.5 194.2,507.6ZM205.8,511.6 212.2,508.7 214.6,513.5 210.2,520.6 207.0,520.1 205.1,518.5ZM235.9,513.5 228.0,519.5 223.4,517.7 222.7,514.5 223.4,511.7 235.3,509.8 235.9,510.5ZM240.8,521.1 235.9,513.5 228.0,519.5 231.1,524.0 240.7,521.6ZM169.4,520.6 173.2,527.2 165.6,530.4 162.1,528.3 162.7,523.7ZM184.2,515.0 191.2,519.2 193.7,521.7 192.8,525.8 187.3,528.1 180.1,525.9 180.1,525.7ZM204.5,529.9 208.7,532.8 211.0,530.5 213.2,522.6 210.2,520.6 207.0,520.1 204.3,529.4ZM166.5,536.6 165.6,530.4 162.1,528.3 155.8,531.4 155.8,531.4 158.0,535.3ZM196.0,536.3 186.5,536.4 186.0,535.3 187.3,528.1 192.8,525.8 193.8,527.1ZM197.8,538.7 202.1,541.3 204.5,542.2 208.8,533.2 208.7,532.8 204.5,529.9ZM139.4,539.1 148.4,542.8 146.4,546.8 138.1,546.5 136.1,543.0ZM158.0,535.3 155.8,531.4 148.7,542.6 155.6,543.6 158.1,542.2ZM167.2,537.6 174.6,537.9 176.8,543.7 172.7,548.0 166.2,548.6 163.6,543.4ZM136.1,543.0 138.1,546.5 134.5,555.1 134.0,555.4 131.4,554.7 128.2,542.1 133.3,542.3ZM163.6,543.4 166.2,548.6 162.8,554.1 156.9,551.5 155.6,543.6 158.1,542.2ZM172.7,548.0 175.3,556.5 185.3,554.2 182.0,545.2 176.8,543.7ZM202.3,555.2 213.6,557.0 209.2,546.1 207.8,546.0 201.5,554.2ZM214.7,558.2 220.3,555.3 220.1,543.4 212.8,544.8 209.2,546.1 213.6,557.0ZM256.1,552.8 263.8,556.2 264.8,555.5 267.3,548.9 260.9,546.4 258.2,548.5ZM154.3,563.6 156.1,563.9 162.3,557.2 162.8,554.2 162.8,554.1 156.9,551.5 152.6,553.1 151.5,561.1ZM174.6,557.6 162.8,554.2 162.3,557.2 166.9,561.8 173.1,561.2 174.5,558.4ZM195.7,562.4 185.6,563.1 186.3,554.9 194.3,553.3 195.7,554.2ZM230.6,561.9 230.0,556.1 222.8,556.4 223.1,563.1ZM231.8,565.2 230.6,561.9 230.0,556.1 230.1,556.0 237.3,554.6 238.4,559.7ZM238.4,559.7 237.3,554.6 240.8,551.5 241.4,551.4 250.0,556.3 250.1,557.7 242.9,565.2ZM144.5,570.9 147.0,560.6 151.5,561.1 154.3,563.6 147.3,572.8ZM166.9,561.8 162.3,557.2 156.1,563.9 160.0,569.1 165.1,570.0 165.5,569.7ZM166.9,561.8 173.1,561.2 174.3,567.3 165.5,569.7ZM196.2,563.5 196.6,569.1 187.7,570.9 186.3,570.4 184.4,568.9 184.7,565.6 185.6,563.1 195.7,562.4ZM196.2,563.5 196.6,569.1 197.9,569.7 204.4,567.0 203.3,561.3ZM249.5,571.8 252.8,569.4 252.1,559.9 250.1,557.7 242.9,565.2 242.3,567.4ZM182.5,579.8 176.4,580.0 175.0,577.8 178.7,570.5 184.4,568.9 186.3,570.4 184.1,578.2ZM195.2,582.1 192.6,581.8 187.7,570.9 196.6,569.1 197.9,569.7 200.4,578.0 198.7,580.4ZM240.7,579.5 239.7,580.6 230.9,576.1 232.3,568.1 240.2,568.7ZM249.7,577.7 240.7,579.5 240.2,568.7 242.3,567.4 249.5,571.8ZM249.7,577.7 252.5,580.2 257.3,578.0 258.6,570.3 252.8,569.4 249.5,571.8ZM149.1,586.6 149.1,586.6 147.5,576.2 137.5,579.8 136.5,581.2 136.7,582.6ZM206.2,589.3 212.7,585.7 212.1,580.6 210.3,576.9 200.4,578.0 198.7,580.4ZM230.9,576.1 239.7,580.6 239.6,581.2 230.1,587.1 226.6,579.2ZM252.6,586.3 252.5,580.2 257.3,578.0 259.8,578.8 262.3,583.6 256.1,587.9ZM145.6,590.4 138.4,593.0 136.3,583.3 136.7,582.6 149.1,586.6ZM154.1,588.0 149.1,586.6 149.1,586.6 145.6,590.4 146.5,600.0 147.1,600.1 156.1,591.9ZM233.2,592.2 227.5,600.3 222.4,593.7 225.4,590.6 229.8,588.9ZM248.3,595.7 258.4,598.8 261.8,594.8 256.1,587.9 252.6,586.3 249.8,588.5 248.2,595.4ZM145.6,590.4 146.5,600.0 142.0,601.3 139.6,600.6 136.8,595.3 138.4,593.0ZM166.5,595.1 163.6,595.7 162.6,603.5 165.7,607.8 170.6,597.5ZM202.8,599.6 203.7,603.9 204.8,604.9 210.8,602.1 210.7,597.8 205.9,595.8ZM217.3,595.6 210.7,597.8 210.8,602.1 215.2,606.6 218.4,602.9 218.4,602.9ZM248.3,595.7 258.4,598.8 258.2,602.2 247.6,604.8 245.4,603.8ZM170.6,597.5 174.6,598.9 175.4,604.5 167.6,612.9 167.3,613.0 165.7,607.8ZM177.4,617.2 167.6,612.9 175.4,604.5 180.1,607.6ZM196.6,607.5 203.7,603.9 204.8,604.9 207.4,610.7 201.3,612.3ZM211.7,613.2 207.4,610.7 204.8,604.9 210.8,602.1 215.2,606.6 214.3,610.3ZM237.1,600.5 227.7,601.0 228.2,609.1 240.2,606.6 240.5,606.1ZM153.6,621.3 165.6,616.4 165.8,616.1 166.6,613.6 159.5,611.6 151.9,619.4ZM185.9,616.0 190.2,621.1 191.4,621.0 195.2,618.9 193.6,610.3 186.6,610.0ZM193.6,610.3 196.2,607.5 196.6,607.5 201.3,612.3 197.9,619.0 195.2,618.9ZM240.2,606.6 228.2,609.1 227.6,609.9 226.9,611.5 227.0,612.3 228.9,616.4 238.3,616.3 241.2,612.6ZM253.7,612.2 260.5,608.5 260.9,608.7 263.1,610.7 260.4,620.2 251.9,620.7 251.0,619.2 250.7,617.7ZM139.5,634.9 129.0,638.4 126.3,632.4 129.8,628.3 135.9,629.5ZM148.1,632.0 153.9,622.2 160.9,628.7 160.9,629.2 152.0,633.4 148.0,632.7ZM229.5,629.2 229.7,639.9 229.0,640.4 221.5,637.1 220.4,630.6ZM239.8,630.4 250.6,629.1 251.7,633.9 246.9,640.0 239.7,633.1ZM251.7,627.5 261.3,629.1 263.7,635.9 256.6,638.0 251.7,633.9 250.6,629.1ZM263.9,625.2 271.4,627.9 271.1,632.2 264.1,636.1 263.7,635.9 261.3,629.1ZM190.9,636.3 184.2,634.5 182.8,636.5 185.0,644.1 189.4,646.2 195.0,642.1 195.0,639.7ZM199.6,635.6 205.0,643.6 201.5,647.2 201.0,647.3 195.0,642.1 195.0,639.7ZM200.6,634.2 209.2,641.1 205.0,643.6 199.6,635.6ZM220.4,630.6 221.5,637.1 216.9,643.1 214.3,643.5 211.2,640.8 211.5,637.0 220.3,630.5ZM239.7,633.1 246.9,640.0 246.4,646.0 240.3,646.2 236.5,639.9ZM247.5,646.7 246.4,646.0 246.9,640.0 251.7,633.9 256.6,638.0 255.2,643.9 248.2,646.9ZM148.5,644.4 145.6,647.3 145.7,652.8 155.2,657.5 157.0,654.8 154.4,644.5ZM173.4,652.4 170.6,653.3 167.5,652.6 166.2,651.6 164.8,645.6 172.9,645.3ZM265.3,651.7 265.4,651.7 315.3,651.0 285.6,642.5 267.6,642.8Z" fill="none" stroke="#9484b8" stroke-width="0.6" opacity="0.4" filter="url(#rough)"/>
<path d="M133.5,506.9 133.1,508.4 136.2,513.9 144.0,507.8 143.1,505.8 134.9,505.6ZM202.2,507.2 205.8,511.6 205.1,518.5 197.9,519.1 196.3,508.5ZM223.4,511.7 221.5,504.1 212.6,507.8 212.2,508.7 214.6,513.5 222.7,514.5ZM248.1,515.3 256.4,518.3 257.5,515.9 257.5,508.2 256.8,507.7 251.1,507.3 247.6,510.9ZM136.2,513.9 136.2,519.0 127.6,517.5 128.5,512.9 133.1,508.4ZM158.1,516.8 164.5,513.5 169.6,519.2 169.4,520.6 162.7,523.7 158.5,519.7ZM251.2,525.1 246.8,517.0 248.1,515.3 256.4,518.3 256.5,518.7 253.1,525.0ZM256.5,518.7 256.4,518.3 257.5,515.9 269.6,513.0 269.7,513.4 266.2,522.6 263.2,522.6ZM269.7,513.4 266.2,522.6 269.7,527.6 269.8,527.7 284.1,519.4ZM148.4,519.4 147.7,514.2 137.4,520.0 138.4,529.2 139.1,529.6 144.7,529.8 146.3,529.1ZM154.9,523.5 148.4,519.4 146.3,529.1 153.6,529.8ZM158.5,519.7 154.9,523.5 153.6,529.8 155.8,531.4 162.1,528.3 162.7,523.7ZM169.6,519.2 174.7,515.8 180.1,525.7 180.1,525.9 175.8,528.5 173.2,527.2 169.4,520.6ZM243.0,527.9 234.0,532.4 231.0,524.5 231.1,524.0 240.7,521.6ZM244.6,528.4 243.5,528.3 243.0,527.9 240.7,521.6 240.8,521.1 246.8,517.0 251.2,525.1ZM257.4,535.7 257.7,535.8 269.7,527.6 266.2,522.6 263.2,522.6 256.9,530.3ZM137.1,529.6 129.9,530.8 127.3,533.1 127.1,539.6 127.3,541.4 128.2,542.1 133.3,542.3ZM139.1,529.6 144.7,529.8 148.5,542.6 148.4,542.8 139.4,539.1ZM167.2,537.6 174.6,537.9 175.9,534.9 175.8,528.5 173.2,527.2 165.6,530.4 166.5,536.6ZM175.9,534.9 175.8,528.5 180.1,525.9 187.3,528.1 186.0,535.3ZM253.7,536.9 251.5,539.3 243.8,540.9 242.2,539.6 243.5,528.3 244.6,528.4ZM167.2,537.6 163.6,543.4 158.1,542.2 158.0,535.3 166.5,536.6ZM197.8,538.7 192.5,543.6 185.9,542.3 186.5,536.4 196.0,536.3ZM212.8,544.8 220.1,543.4 220.8,542.8 220.8,536.6 211.0,534.5ZM235.2,538.9 233.4,533.7 221.9,533.7 220.8,536.6 220.8,542.8 228.4,544.9 231.9,543.6ZM250.9,546.9 243.2,545.8 243.8,540.9 251.5,539.3 252.0,543.9ZM253.7,536.9 251.5,539.3 252.0,543.9 258.2,548.5 260.9,546.4 259.6,537.7 257.7,535.8 257.4,535.7ZM268.6,548.3 267.3,548.9 260.9,546.4 259.6,537.7 266.9,538.9ZM268.6,548.3 266.9,538.9 270.3,537.2 277.5,543.1 270.8,548.4ZM155.6,543.6 156.9,551.5 152.6,553.1 146.9,549.7 146.4,546.8 148.4,542.8 148.5,542.6 148.7,542.6ZM195.7,554.2 194.3,553.3 194.3,552.9 202.1,541.3 204.5,542.2 207.8,546.0 201.5,554.2ZM230.0,556.1 222.8,556.4 220.3,555.3 220.1,543.4 220.8,542.8 228.4,544.9 230.1,556.0ZM240.8,551.5 237.3,554.6 230.1,556.0 228.4,544.9 231.9,543.6ZM250.7,555.5 250.0,556.3 241.4,551.4 243.2,545.8 250.9,546.9ZM185.6,563.1 184.7,565.6 174.5,558.4 174.6,557.6 175.3,556.5 185.3,554.2 186.3,554.9ZM196.2,563.5 203.3,561.3 203.7,559.4 202.3,555.2 201.5,554.2 195.7,554.2 195.7,562.4ZM263.8,556.2 263.2,558.9 266.7,568.2 267.4,568.6 274.5,559.7 264.8,555.5ZM184.4,568.9 178.7,570.5 174.3,567.3 173.1,561.2 174.5,558.4 184.7,565.6ZM258.6,570.3 261.5,568.6 256.0,561.3 252.1,559.9 252.8,569.4ZM256.0,561.3 263.2,558.9 266.7,568.2 261.5,568.6ZM147.3,572.8 154.3,563.6 156.1,563.9 160.0,569.1 156.3,575.2 148.0,574.6ZM184.1,578.2 186.3,570.4 187.7,570.9 192.6,581.8 190.2,583.2ZM197.9,569.7 200.4,578.0 210.3,576.9 211.8,571.8 210.7,568.9 204.4,567.0ZM268.2,569.8 267.4,568.6 266.7,568.2 261.5,568.6 258.6,570.3 257.3,578.0 259.8,578.8 266.8,575.7ZM157.3,584.4 158.8,580.8 156.3,575.2 148.0,574.6 147.5,576.2 149.1,586.6 154.1,588.0ZM182.5,579.8 186.6,586.5 190.2,583.2 184.1,578.2ZM220.8,584.5 225.4,579.0 223.8,577.7 212.1,580.6 212.7,585.7 213.1,586.0ZM229.8,588.9 230.1,587.1 226.6,579.2 225.4,579.0 220.8,584.5 225.4,590.6ZM166.5,595.1 168.6,588.4 167.8,586.6 157.3,584.4 154.1,588.0 156.1,591.9 158.5,594.3 163.6,595.7ZM166.5,595.1 168.6,588.4 173.5,587.3 176.9,597.2 174.6,598.9 170.6,597.5ZM205.2,591.0 205.9,595.8 202.8,599.6 196.8,598.6 195.4,593.0 196.9,591.2ZM205.2,591.0 205.9,595.8 210.7,597.8 217.3,595.6 217.9,594.4 213.1,586.0 212.7,585.7 206.2,589.3ZM128.1,604.6 127.6,603.8 127.5,594.7 136.8,595.3 139.6,600.6 136.7,603.9ZM156.1,591.9 147.1,600.1 153.2,605.8 158.5,594.3ZM180.1,607.6 175.4,604.5 174.6,598.9 176.9,597.2 183.9,593.9 187.7,601.5 185.0,607.5ZM183.9,593.9 184.5,592.6 195.4,593.0 196.8,598.6 193.7,602.1 187.7,601.5ZM196.2,607.5 196.6,607.5 203.7,603.9 202.8,599.6 196.8,598.6 193.7,602.1ZM227.5,600.3 227.6,600.9 218.4,602.9 217.3,595.6 217.9,594.4 222.4,593.7ZM236.9,593.7 233.2,592.2 227.5,600.3 227.6,600.9 227.7,601.0 237.1,600.5ZM142.0,601.3 146.5,600.0 147.1,600.1 153.2,605.8 153.3,606.1 147.6,612.4 144.5,611.5ZM165.7,607.8 167.3,613.0 166.6,613.6 159.5,611.6 154.9,606.7 162.6,603.5ZM227.7,601.0 227.6,600.9 218.4,602.9 218.4,602.9 227.6,609.9 228.2,609.1ZM245.4,603.8 247.6,604.8 253.7,612.2 250.7,617.7 241.2,612.6 240.2,606.6 240.5,606.1ZM263.1,610.7 260.9,608.7 270.6,599.9 273.7,606.3 271.9,609.6 267.1,611.9ZM177.4,617.2 185.9,616.0 186.6,610.0 185.0,607.5 180.1,607.6 177.4,617.2ZM211.7,613.2 207.4,610.7 201.3,612.3 197.9,619.0 199.9,620.2 211.8,614.6ZM211.7,613.2 214.3,610.3 226.9,611.5 227.0,612.3 215.6,619.8 213.5,618.4 211.8,614.6ZM144.4,634.2 145.8,634.4 148.0,632.7 148.1,632.0 144.5,622.3 140.3,622.8ZM153.6,621.3 153.9,622.2 148.1,632.0 144.5,622.3 150.0,618.5 151.9,619.4ZM177.4,617.2 177.4,625.1 183.7,628.2 185.7,626.7 190.2,621.1 185.9,616.0ZM191.4,621.0 196.3,629.3 193.6,630.7 185.7,626.7 190.2,621.1ZM218.0,622.4 215.6,619.8 213.5,618.4 205.3,628.3 207.2,629.5 219.1,628.8ZM229.5,629.2 220.4,630.6 220.3,630.5 219.1,628.8 218.0,622.4 228.1,619.9 231.4,627.5ZM231.4,627.5 237.3,627.9 238.9,623.4 238.3,616.3 228.9,616.4 228.1,619.9ZM260.4,620.2 251.9,620.7 251.7,627.5 261.3,629.1 263.9,625.2 263.6,622.7ZM152.0,633.4 160.9,629.2 162.5,634.0 157.0,640.3ZM173.0,627.0 171.7,637.4 174.6,638.9 174.9,638.9 182.8,636.5 184.2,634.5 183.7,628.2 177.4,625.1ZM196.3,629.3 201.5,630.9 200.6,634.2 199.6,635.6 195.0,639.7 190.9,636.3 193.6,630.7ZM219.1,628.8 207.2,629.5 211.5,637.0 220.3,630.5ZM139.5,635.0 138.2,645.1 145.6,647.3 148.5,644.4 145.8,634.4 144.4,634.2ZM156.6,642.9 164.7,645.5 168.9,638.0 162.5,634.0 157.0,640.3ZM174.6,638.9 171.7,637.4 168.9,638.0 164.7,645.5 164.8,645.6 172.9,645.3ZM174.9,638.9 182.8,636.5 185.0,644.1 179.6,648.0ZM221.5,637.1 216.9,643.1 221.8,646.0 227.7,644.6 229.0,640.4ZM229.7,639.9 229.0,640.4 227.7,644.6 228.6,646.1 237.4,648.3 239.9,646.6 240.3,646.2 236.5,639.9ZM257.6,645.4 255.2,643.9 256.6,638.0 263.7,635.9 264.1,636.1 266.3,641.3ZM156.6,642.9 164.7,645.5 164.8,645.6 166.2,651.6 157.0,654.8 154.4,644.5ZM178.1,652.4 180.9,655.0 189.5,649.9 189.4,646.2 185.0,644.1 179.6,648.0ZM195.1,656.0 201.0,647.3 195.0,642.1 189.4,646.2 189.5,649.9ZM227.7,644.6 228.6,646.1 228.3,654.5 221.7,651.1 221.8,646.0ZM228.6,646.1 228.3,654.5 231.1,659.8 237.4,648.3ZM252.0,651.9 260.7,653.9 261.8,652.7 257.6,645.4 255.2,643.9 248.2,646.9Z" fill="none" stroke="#9484b8" stroke-width="0.7" opacity="0.6" filter="url(#rough)"/>
<path d="M163.4,505.8 165.4,509.4 164.5,513.5 158.1,516.8 152.1,512.9 156.0,506.9 162.8,505.0ZM257.5,508.2 268.8,507.8 269.6,513.0 257.5,515.9ZM147.7,514.2 137.4,520.0 136.2,519.0 136.2,513.9 144.0,507.8 148.0,513.6ZM158.1,516.8 152.1,512.9 148.0,513.6 147.7,514.2 148.4,519.4 154.9,523.5 158.5,519.7ZM169.6,519.2 174.7,515.8 177.7,511.5 173.4,509.2 165.4,509.4 164.5,513.5ZM177.7,511.5 174.7,515.8 180.1,525.7 184.2,515.0 183.0,512.6 178.4,511.4ZM218.5,523.4 223.4,517.7 222.7,514.5 214.6,513.5 210.2,520.6 213.2,522.6ZM240.8,521.1 235.9,513.5 235.9,510.5 242.6,509.0 247.6,510.9 248.1,515.3 246.8,517.0ZM204.3,529.4 207.0,520.1 205.1,518.5 197.9,519.1 193.7,521.7 192.8,525.8 193.8,527.1ZM221.3,531.1 211.0,530.5 213.2,522.6 218.5,523.4ZM228.0,519.5 223.4,517.7 218.5,523.4 221.3,531.1 221.5,531.3 231.0,524.5 231.1,524.0ZM256.9,530.3 263.2,522.6 256.5,518.7 253.1,525.0ZM148.7,542.6 148.5,542.6 144.7,529.8 146.3,529.1 153.6,529.8 155.8,531.4 155.8,531.4ZM197.8,538.7 204.5,529.9 204.3,529.4 193.8,527.1 196.0,536.3 197.8,538.7ZM221.3,531.1 221.5,531.3 221.9,533.7 220.8,536.6 211.0,534.5 208.8,533.2 208.7,532.8 211.0,530.5ZM233.4,533.7 221.9,533.7 221.5,531.3 231.0,524.5 234.0,532.4ZM243.5,528.3 242.2,539.6 235.2,538.9 233.4,533.7 234.0,532.4 243.0,527.9ZM253.7,536.9 244.6,528.4 251.2,525.1 253.1,525.0 256.9,530.3 257.4,535.7ZM270.3,537.2 271.7,531.1 269.8,527.7 269.7,527.6 257.7,535.8 259.6,537.7 266.9,538.9ZM137.1,529.6 133.3,542.3 136.1,543.0 139.4,539.1 139.1,529.6 138.4,529.2ZM174.6,537.9 175.9,534.9 186.0,535.3 186.5,536.4 185.9,542.3 182.0,545.2 176.8,543.7ZM197.8,538.7 202.1,541.3 194.3,552.9 192.5,543.6 197.8,538.7ZM208.8,533.2 211.0,534.5 212.8,544.8 209.2,546.1 207.8,546.0 204.5,542.2ZM241.4,551.4 243.2,545.8 243.8,540.9 242.2,539.6 235.2,538.9 231.9,543.6 240.8,551.5ZM146.9,549.7 146.4,546.8 138.1,546.5 134.5,555.1 143.3,555.1ZM166.2,548.6 162.8,554.1 162.8,554.2 174.6,557.6 175.3,556.5 172.7,548.0ZM186.3,554.9 185.3,554.2 182.0,545.2 185.9,542.3 192.5,543.6 194.3,552.9 194.3,553.3ZM250.7,555.5 250.9,546.9 252.0,543.9 258.2,548.5 256.1,552.8ZM146.2,560.3 138.2,565.1 135.2,561.9 134.0,555.4 134.5,555.1 143.3,555.1ZM147.0,560.6 146.2,560.3 143.3,555.1 146.9,549.7 152.6,553.1 151.5,561.1ZM202.3,555.2 213.6,557.0 214.7,558.2 213.8,561.1 213.4,561.6 203.7,559.4ZM223.1,563.1 222.8,556.4 220.3,555.3 214.7,558.2 213.8,561.1 222.0,565.7ZM250.7,555.5 250.0,556.3 250.1,557.7 252.1,559.9 256.0,561.3 263.2,558.9 263.8,556.2 256.1,552.8ZM268.6,548.3 267.3,548.9 264.8,555.5 274.5,559.7 277.1,558.4 270.8,548.4ZM138.4,570.0 127.6,572.6 126.4,567.8 135.2,561.9 138.2,565.1 139.0,569.4ZM139.0,569.4 138.2,565.1 146.2,560.3 147.0,560.6 144.5,570.9ZM203.3,561.3 204.4,567.0 210.7,568.9 213.4,561.6 203.7,559.4ZM222.0,565.7 213.8,561.1 213.4,561.6 210.7,568.9 211.8,571.8 220.7,571.5 222.9,568.4ZM232.1,568.0 222.9,568.4 222.0,565.7 223.1,563.1 230.6,561.9 231.8,565.2ZM240.2,568.7 232.3,568.1 232.1,568.0 231.8,565.2 238.4,559.7 242.9,565.2 242.3,567.4ZM127.4,576.0 127.4,573.5 127.6,572.6 138.4,570.0 137.5,579.8 136.5,581.2ZM138.4,570.0 137.5,579.8 147.5,576.2 148.0,574.6 147.3,572.8 144.5,570.9 139.0,569.4ZM167.8,577.8 165.1,570.0 160.0,569.1 156.3,575.2 158.8,580.8ZM168.2,578.1 175.0,577.8 178.7,570.5 174.3,567.3 165.5,569.7 165.1,570.0 167.8,577.8ZM211.8,571.8 220.7,571.5 223.8,577.7 212.1,580.6 210.3,576.9ZM230.9,576.1 232.3,568.1 232.1,568.0 222.9,568.4 220.7,571.5 223.8,577.7 225.4,579.0 226.6,579.2ZM276.7,572.8 271.0,586.5 270.6,586.1 266.8,575.7 268.2,569.8ZM157.3,584.4 158.8,580.8 167.8,577.8 168.2,578.1 167.8,586.6ZM167.8,586.6 168.2,578.1 175.0,577.8 176.4,580.0 177.2,584.9 173.5,587.3 168.6,588.4ZM182.5,579.8 176.4,580.0 177.2,584.9 184.3,590.5 186.6,586.5ZM205.2,591.0 196.9,591.2 195.2,582.1 198.7,580.4 206.2,589.3ZM252.6,586.3 252.5,580.2 249.7,577.7 240.7,579.5 239.7,580.6 239.6,581.2 241.5,585.8 249.8,588.5ZM266.8,575.7 259.8,578.8 262.3,583.6 270.6,586.1ZM136.3,583.3 129.9,587.4 126.7,593.8 127.5,594.7 136.8,595.3 138.4,593.0ZM176.9,597.2 173.5,587.3 177.2,584.9 184.3,590.5 184.5,592.6 183.9,593.9ZM186.6,586.5 184.3,590.5 184.5,592.6 195.4,593.0 196.9,591.2 195.2,582.1 192.6,581.8 190.2,583.2ZM225.4,590.6 220.8,584.5 213.1,586.0 217.9,594.4 222.4,593.7ZM236.9,593.7 233.2,592.2 229.8,588.9 230.1,587.1 239.6,581.2 241.5,585.8 237.9,593.1ZM237.9,593.1 241.5,585.8 249.8,588.5 248.2,595.4ZM256.1,587.9 262.3,583.6 270.6,586.1 271.0,586.5 271.2,586.9 267.0,593.7 261.8,594.8ZM162.6,603.5 154.9,606.7 153.3,606.1 153.2,605.8 158.5,594.3 163.6,595.7ZM236.9,593.7 237.1,600.5 240.5,606.1 245.4,603.8 248.3,595.7 248.2,595.4 237.9,593.1ZM258.2,602.2 260.5,608.5 260.9,608.7 270.6,599.9 270.6,599.6 267.0,593.7 261.8,594.8 258.4,598.8ZM128.1,604.6 136.7,603.9 137.2,613.1 128.5,609.5ZM136.7,603.9 139.6,600.6 142.0,601.3 144.5,611.5 137.4,613.3 137.2,613.1ZM185.0,607.5 187.7,601.5 193.7,602.1 196.2,607.5 193.6,610.3 186.6,610.0ZM214.3,610.3 215.2,606.6 218.4,602.9 227.6,609.9 226.9,611.5ZM247.6,604.8 258.2,602.2 260.5,608.5 253.7,612.2ZM140.3,622.8 144.5,622.3 150.0,618.5 147.6,612.4 144.5,611.5 137.4,613.3 136.2,618.5 140.1,622.7ZM151.9,619.4 150.0,618.5 147.6,612.4 153.3,606.1 154.9,606.7 159.5,611.6ZM165.8,616.1 172.8,626.9 173.0,627.0 177.4,625.1 177.4,617.2 177.4,617.2 167.6,612.9 167.3,613.0 166.6,613.6ZM228.1,619.9 228.9,616.4 227.0,612.3 215.6,619.8 218.0,622.4ZM241.2,612.6 238.3,616.3 238.9,623.4 251.0,619.2 250.7,617.7ZM260.4,620.2 263.1,610.7 267.1,611.9 269.2,618.6 263.6,622.7ZM269.2,618.6 273.1,620.6 279.6,617.7 271.9,609.6 267.1,611.9ZM135.9,629.5 129.8,628.3 129.3,621.4 136.2,618.5 140.1,622.7ZM153.6,621.3 153.9,622.2 160.9,628.7 162.2,627.8 165.6,616.4ZM165.8,616.1 172.8,626.9 162.2,627.8 165.6,616.4ZM191.4,621.0 196.3,629.3 201.5,630.9 204.6,628.3 199.9,620.2 197.9,619.0 195.2,618.9ZM211.8,614.6 199.9,620.2 204.6,628.3 205.3,628.3 213.5,618.4ZM239.8,630.4 250.6,629.1 251.7,627.5 251.9,620.7 251.0,619.2 238.9,623.4 237.3,627.9ZM263.6,622.7 263.9,625.2 271.4,627.9 272.4,626.8 273.1,620.6 269.2,618.6ZM139.5,634.9 135.9,629.5 140.1,622.7 140.3,622.8 144.4,634.2 139.5,635.0ZM172.8,626.9 162.2,627.8 160.9,628.7 160.9,629.2 162.5,634.0 168.9,638.0 171.7,637.4 173.0,627.0ZM193.6,630.7 185.7,626.7 183.7,628.2 184.2,634.5 190.9,636.3ZM201.5,630.9 204.6,628.3 205.3,628.3 207.2,629.5 211.5,637.0 211.2,640.8 209.2,641.1 200.6,634.2ZM229.5,629.2 229.7,639.9 236.5,639.9 239.7,633.1 239.8,630.4 237.3,627.9 231.4,627.5ZM139.5,634.9 129.0,638.4 128.2,643.4 128.8,644.9 133.4,647.0 138.2,645.1 139.5,635.0ZM148.0,632.7 152.0,633.4 157.0,640.3 156.6,642.9 154.4,644.5 148.5,644.4 145.8,634.4ZM266.3,641.3 264.1,636.1 271.1,632.2 285.6,642.5 267.6,642.8ZM145.6,647.3 138.2,645.1 133.4,647.0 134.9,654.1 145.5,653.0 145.7,652.8ZM178.1,652.4 179.6,648.0 174.9,638.9 174.6,638.9 172.9,645.3 173.4,652.4ZM211.2,640.8 214.3,643.5 212.3,652.7 210.2,653.5 208.2,653.1 201.5,647.2 205.0,643.6 209.2,641.1ZM216.9,643.1 214.3,643.5 212.3,652.7 216.3,654.7 221.7,651.1 221.8,646.0ZM261.8,652.7 257.6,645.4 266.3,641.3 267.6,642.8 265.3,651.7Z" fill="none" stroke="#9484b8" stroke-width="0.9" opacity="0.75" filter="url(#rough)"/>
<rect x="141.00" y="519.40" width="122.80" height="122.40" fill="#000" filter="url(#brownfib)" opacity="0.35"/>
<path d="M135.8,510.0l0.4,0.3M138.7,509.6l0.3,0.3M158.3,509.0l-0.3,0.9M203.6,516.9l0.8,0.5M220.0,512.6l-0.4,0.0M255.7,513.7l-0.6,0.9M129.9,513.0l-0.7,0.2M140.7,512.0l-0.5,0.1M152.8,516.2l-0.3,0.7M163.0,521.6l0.1,1.0M181.1,517.2l-0.9,1.1M188.2,513.6l-0.9,0.5M190.6,510.6l-0.4,0.1M208.6,517.7l-0.7,0.7M233.5,511.0l-0.6,0.7M235.4,519.3l0.2,0.7M270.8,521.5l-0.7,0.2M146.5,520.1l0.1,0.6M159.0,525.6l0.7,0.6M174.1,524.3l-0.2,1.2M224.4,522.3l0.8,0.2M233.9,530.7l1.2,0.3M244.6,526.4l-0.4,0.2M249.4,523.1l-1.2,0.4M260.1,531.6l-0.4,0.6M260.0,532.0l-0.1,0.4M144.8,539.0l-0.4,0.0M144.5,531.8l-0.4,0.5M161.8,534.0l-1.1,0.2M171.9,529.1l-0.1,0.5M189.9,534.2l-0.5,0.7M196.6,534.8l0.4,1.2M203.0,538.6l-0.4,0.5M216.0,532.4l0.7,0.6M232.1,532.2l-0.1,0.4M236.6,533.1l0.2,0.3M244.9,539.4l-1.1,0.1M251.4,536.0l-0.5,0.5M252.4,531.3l-0.7,1.1M251.1,526.9l0.3,0.3M265.1,534.7l-0.5,0.5M136.3,534.4l0.4,1.2M139.9,540.5l0.5,0.5M156.3,537.1l-1.3,0.1M159.6,540.7l-0.7,0.4M168.5,540.3l-0.5,0.2M191.1,540.6l0.7,0.6M192.8,537.9l-0.8,0.0M194.8,550.5l0.4,1.2M209.9,542.2l-0.2,0.4M208.0,539.5l0.4,0.4M211.4,535.1l0.1,0.3M225.3,539.7l-0.8,1.0M231.7,534.9l0.1,0.6M240.9,541.6l-0.5,0.0M255.7,543.9l-1.0,0.8M132.4,545.6l-1.0,0.4M148.9,549.1l0.7,0.1M170.5,552.1l0.4,0.4M176.6,554.7l-0.7,0.1M197.5,549.1l0.8,0.4M205.4,553.8l0.8,0.7M215.0,552.5l0.4,0.7M226.5,548.1l0.1,0.7M235.4,552.1l0.0,0.6M245.3,546.3l0.1,0.6M253.4,549.3l-0.8,0.5M260.0,550.2l0.6,0.2M142.7,559.8l-0.3,0.3M158.3,556.3l0.5,0.9M167.8,559.3l0.4,1.1M182.0,562.8l0.8,0.2M190.0,559.2l1.1,0.7M189.3,557.9l-0.3,0.2M198.6,558.7l-0.2,0.3M204.6,556.1l-0.5,0.1M240.5,558.7l-0.0,1.2M257.7,559.4l-0.4,0.1M266.5,557.3l-0.6,0.5M269.4,552.6l0.3,0.7M269.8,551.6l0.9,0.7M142.2,566.6l-0.0,0.3M171.4,565.6l-0.5,0.1M200.9,563.0l0.6,0.3M208.5,561.9l-0.0,0.6M215.5,562.8l-0.6,0.5M229.6,566.6l1.4,0.4M238.8,563.0l0.8,1.0M256.1,563.0l-0.3,0.7M136.4,576.9l-0.9,0.4M143.6,575.5l-0.4,0.5M173.5,568.0l0.1,0.9M188.4,579.7l0.6,0.1M247.4,575.9l0.2,0.5M144.1,579.4l-0.2,0.6M156.4,579.9l-0.1,0.4M161.6,583.2l-0.4,1.2M166.3,585.6l0.8,0.2M178.4,580.6l0.3,0.6M182.8,583.1l0.3,0.3M199.5,588.4l-0.7,0.1M199.0,582.0l0.2,1.2M216.6,583.4l-0.7,0.1M242.7,584.9l-0.5,0.5M259.8,579.9l-0.6,0.2M268.6,584.6l0.8,0.3M135.5,586.9l-1.3,0.5M151.1,591.7l0.2,0.3M181.8,592.8l0.5,0.4M189.8,589.8l0.4,0.0M199.5,593.5l-0.4,0.8M213.3,594.1l-0.4,0.1M213.4,593.7l-0.3,0.1M218.7,591.5l0.6,0.9M229.9,590.4l-1.0,0.3M253.7,591.4l0.3,0.2M265.0,586.5l0.4,0.8M140.9,595.4l0.5,0.3M152.6,600.7l-0.1,0.9M168.4,600.9l-0.7,0.1M183.5,605.3l0.3,0.3M180.9,604.2l0.4,0.4M207.1,601.7l-0.4,0.1M232.8,593.4l0.1,0.4M250.5,599.6l0.8,0.2M250.5,599.3l0.7,0.6M134.6,608.3l-0.1,0.4M164.9,610.3l-0.6,0.0M224.2,609.6l0.5,0.5M230.1,602.1l-0.6,0.1M246.7,606.7l-0.1,1.1M249.8,605.0l0.6,0.7M142.1,618.6l0.1,0.8M154.4,608.2l-1.1,0.8M154.9,617.9l0.5,0.0M180.7,608.7l-0.4,0.1M192.6,611.2l0.1,0.4M195.9,615.6l0.3,1.4M223.8,617.3l0.2,0.3M228.1,611.4l0.5,0.5M242.5,616.8l-0.2,0.5M263.8,620.6l0.1,0.7M265.1,616.4l-0.4,0.1M135.2,627.6l0.6,0.4M151.3,620.9l-0.6,0.2M151.1,620.5l-0.2,0.8M184.5,617.5l0.4,0.3M190.5,622.6l0.5,0.1M205.0,623.5l0.6,0.9M222.8,626.4l-0.1,0.7M231.7,619.6l-0.9,0.9M248.0,626.3l-0.6,0.8M254.3,621.3l-0.5,1.1M130.5,636.3l0.3,0.0M140.0,631.6l-0.0,0.6M154.0,624.9l-0.4,0.2M154.6,634.0l0.3,0.7M177.3,628.7l-0.2,1.3M191.2,633.9l-0.4,1.3M198.3,631.7l0.2,0.5M210.1,639.5l-0.3,0.1M224.4,635.6l-0.8,0.8M234.6,632.0l0.5,0.4M241.9,631.6l-0.4,0.7M263.6,629.1l-0.7,0.2M139.4,643.7l0.3,0.2M153.9,641.7l-1.0,0.3M167.0,637.9l0.8,1.1M179.8,646.0l0.1,0.5M186.9,639.5l0.2,0.3M196.2,639.9l0.9,0.1M205.7,639.9l-0.4,0.1M243.6,642.1l1.1,0.6M249.6,639.7l-0.2,0.4M258.9,643.0l0.2,1.1M275.0,638.8l-0.3,0.3M275.3,638.8l-0.8,0.2M143.8,652.1l0.6,0.4M152.5,648.4l0.4,0.3M158.0,652.0l0.2,0.4M171.2,647.9l0.7,0.1M194.5,643.6l0.7,0.1M209.0,650.7l0.7,0.3M215.3,644.8l0.2,0.4M231.3,655.6l0.3,0.5" stroke="#312a86" stroke-width="1.5" stroke-linecap="round" opacity="0.9" fill="none"/>
<path d="M154.4,512.3l0.4,0.0M173.6,512.2l0.1,0.3M195.7,516.0l-0.1,0.0M166.3,528.6l-0.4,0.0M208.3,525.0l0.1,0.1M184.4,530.4l-0.1,0.3M265.5,544.9l0.3,0.0M148.1,553.2l-0.2,0.5M221.8,558.1l0.4,0.0M226.8,559.8l0.0,0.2M146.7,567.3l-0.1,0.2M211.9,561.5l0.0,0.5M183.4,577.9l-0.1,0.0M183.0,577.5l0.0,0.4M208.0,570.0l0.0,0.2M207.5,574.8l0.2,0.2M234.2,575.1l-0.2,0.1M222.6,585.0l0.3,0.0M255.7,581.4l-0.2,0.2M263.3,581.7l-0.4,0.3M174.1,611.3l0.3,0.4M193.1,603.3l-0.4,0.2M225.9,602.1l0.3,0.2M268.4,604.2l0.4,0.0M202.7,614.3l0.1,0.3M256.2,617.4l0.3,0.2M271.4,616.3l-0.1,0.2M268.7,622.4l-0.1,0.1M134.5,643.0l-0.0,0.4M216.6,638.7l0.5,0.2M243.5,641.3l0.2,0.4M177.1,646.7l-0.0,0.2M194.8,652.3l-0.0,0.2M219.8,648.1l-0.4,0.1M255.8,648.2l0.3,0.4M304.6,650.1l0.0,0.3" stroke="#312a86" stroke-width="2.5" stroke-linecap="round" opacity="0.9" fill="none"/>
<path d="M191.8,513.5l-0.4,0.9M220.5,512.4l-0.6,1.0M246.1,514.8l-0.9,0.1M271.2,523.9l0.4,0.8M129.8,535.1l1.0,0.0M155.0,534.7l0.1,0.8M180.2,540.1l-1.0,0.7M270.4,538.1l-0.2,0.9M236.9,559.6l0.4,0.8M244.9,566.9l-0.8,0.3M150.6,572.3l0.6,0.7M194.9,573.0l1.1,0.5M171.3,584.6l-0.5,0.8M129.9,592.4l-0.2,0.8M232.2,586.6l0.1,1.1M158.2,602.9l-0.9,0.2M156.3,603.3l0.8,0.6M220.1,605.3l-0.4,0.7M269.2,613.3l1.0,0.4M146.0,629.6l-0.0,0.9M162.0,625.2l-0.9,0.2M195.1,631.4l0.5,0.8M258.6,631.1l0.8,0.3M227.8,652.9l-0.6,0.6M235.5,648.3l0.5,0.7M258.9,645.1l0.8,0.7" stroke="#312a86" stroke-width="1.0" stroke-linecap="round" opacity="0.9" fill="none"/>
<path d="M199.7,514.5l-0.7,0.3M267.0,508.8l-0.4,0.5M140.7,511.8l-0.1,0.0M151.1,519.9l-0.0,0.0M209.1,512.5l-0.3,0.5M215.3,518.7l-0.5,0.1M251.7,522.1l-0.2,0.1M263.3,518.1l-0.4,0.3M150.9,522.2l-0.4,0.3M184.6,522.4l-0.6,0.2M195.2,525.5l-0.2,0.3M199.6,525.5l0.2,0.2M210.7,525.9l-0.5,0.0M213.7,526.6l0.3,0.9M254.5,524.7l0.2,0.5M149.0,540.2l0.1,0.3M183.8,533.5l-0.1,0.0M171.2,542.7l-0.0,0.6M180.3,536.6l-0.2,0.8M193.7,544.0l0.7,0.6M212.4,539.6l0.8,0.2M245.3,545.3l-0.0,0.8M142.9,548.9l-0.5,0.6M158.9,547.9l0.3,0.9M164.7,548.2l0.2,0.2M164.7,553.9l0.2,0.1M187.3,552.1l-0.0,0.1M217.5,552.6l-0.7,0.4M140.0,562.0l-0.5,0.1M204.6,556.0l-0.2,0.7M253.2,557.5l0.4,0.4M134.2,566.5l0.2,0.5M140.9,567.5l0.1,0.5M162.9,560.2l0.0,0.0M178.5,565.2l-0.8,0.1M187.7,568.3l0.3,0.9M219.8,566.1l0.1,0.1M261.1,563.7l-0.8,0.1M133.2,574.0l-0.4,0.7M143.6,575.7l0.2,0.1M163.7,571.3l0.7,0.3M214.2,576.7l0.3,0.1M225.1,571.2l0.2,0.0M224.1,569.9l0.0,0.2M251.0,576.6l-0.4,0.4M260.9,576.8l-0.8,0.0M271.8,582.5l-0.7,0.1M270.8,584.0l0.3,0.5M146.7,583.9l-0.5,0.3M169.9,586.1l0.5,0.0M184.1,580.1l-0.6,0.2M188.1,581.6l-0.3,0.9M206.9,580.3l0.6,0.5M238.1,580.7l0.4,0.3M139.2,591.7l-0.7,0.4M147.7,596.5l1.0,0.2M160.3,589.4l-0.0,0.0M171.8,592.0l-0.2,0.1M193.0,589.1l-0.0,0.8M220.7,589.4l0.7,0.3M232.8,586.9l-0.7,0.4M247.3,589.0l-0.1,0.9M247.0,594.1l-0.0,0.0M257.1,596.6l-0.2,0.7M136.0,600.4l-0.3,0.8M154.2,597.7l-0.4,0.1M192.7,600.1l0.6,0.1M201.9,603.3l-0.3,0.5M197.7,606.1l-0.9,0.4M212.6,601.1l0.2,0.5M220.7,601.0l-0.1,0.2M222.2,596.8l0.5,0.5M230.7,598.8l-0.3,0.2M243.7,596.7l-0.2,0.9M267.0,601.0l-0.5,0.3M139.3,608.5l0.0,0.3M145.1,604.2l0.6,0.6M168.1,610.0l-0.5,0.0M204.3,609.0l-0.4,0.7M208.5,607.9l-0.2,0.3M210.3,603.4l-0.5,0.7M226.5,607.1l-0.3,0.3M247.7,607.4l0.0,0.0M254.7,606.6l0.2,0.2M139.3,614.9l-0.0,0.0M154.0,613.6l-0.5,0.8M172.4,621.3l-0.3,0.8M196.0,616.3l0.1,0.3M222.8,613.2l-0.1,0.8M220.9,619.3l-0.3,0.5M135.4,621.1l0.4,0.4M163.6,626.5l0.0,0.0M183.9,622.6l-0.1,0.1M198.5,627.2l0.5,0.4M214.7,624.6l-0.0,0.8M242.3,626.9l-0.1,0.5M261.2,624.8l0.3,0.1M171.3,627.8l0.3,0.8M181.1,635.2l-0.0,0.1M207.0,636.2l0.7,0.0M208.8,630.0l0.0,0.3M249.9,634.3l0.2,0.1M137.3,637.5l0.2,0.1M150.4,641.3l-0.1,0.1M160.4,640.9l-0.1,0.3M171.9,642.9l-0.3,0.2M169.9,640.6l-0.5,0.7M225.3,641.0l-0.8,0.4M234.4,642.6l-0.0,0.6M249.8,639.5l-0.1,1.0M258.9,640.4l0.3,0.3M137.1,649.2l0.3,0.4M153.4,651.6l0.3,0.7M168.0,645.8l-0.4,0.1M182.8,648.6l0.2,0.0" stroke="#312a86" stroke-width="2.0" stroke-linecap="round" opacity="0.9" fill="none"/>
</g>
<rect x="269" y="519.4" width="123" height="122.39999999999998" fill="#efefed"/>
<g fill="#f6f6f4"><rect x="269.0" y="519.4" width="20.0" height="20.0"/><rect x="309.0" y="519.4" width="20.0" height="20.0"/><rect x="349.0" y="519.4" width="20.0" height="20.0"/><rect x="389.0" y="519.4" width="3.0" height="20.0"/><rect x="289.0" y="539.4" width="20.0" height="20.0"/><rect x="329.0" y="539.4" width="20.0" height="20.0"/><rect x="369.0" y="539.4" width="20.0" height="20.0"/><rect x="269.0" y="559.4" width="20.0" height="20.0"/><rect x="309.0" y="559.4" width="20.0" height="20.0"/><rect x="349.0" y="559.4" width="20.0" height="20.0"/><rect x="389.0" y="559.4" width="3.0" height="20.0"/><rect x="289.0" y="579.4" width="20.0" height="20.0"/><rect x="329.0" y="579.4" width="20.0" height="20.0"/><rect x="369.0" y="579.4" width="20.0" height="20.0"/><rect x="269.0" y="599.4" width="20.0" height="20.0"/><rect x="309.0" y="599.4" width="20.0" height="20.0"/><rect x="349.0" y="599.4" width="20.0" height="20.0"/><rect x="389.0" y="599.4" width="3.0" height="20.0"/><rect x="289.0" y="619.4" width="20.0" height="20.0"/><rect x="329.0" y="619.4" width="20.0" height="20.0"/><rect x="369.0" y="619.4" width="20.0" height="20.0"/><rect x="269.0" y="639.4" width="20.0" height="2.4"/><rect x="309.0" y="639.4" width="20.0" height="2.4"/><rect x="349.0" y="639.4" width="20.0" height="2.4"/><rect x="389.0" y="639.4" width="3.0" height="2.4"/></g>
<clipPath id="cK3"><circle cx="330.3" cy="580.8" r="59"/></clipPath>
<g clip-path="url(#cK3)">
<g filter="url(#soft)">
<rect x="271.30" y="521.80" width="118.00" height="118.00" fill="#ceb7ae" opacity="1"/>
<rect x="271.30" y="521.80" width="118.00" height="118.00" fill="#000" filter="url(#whiteK3)" opacity="0.6"/>
</g>
<rect x="271.30" y="521.80" width="118.00" height="118.00" fill="#000" filter="url(#speckK3b)" opacity="0.7"/>
<rect x="271.30" y="521.80" width="118.00" height="118.00" fill="#000" filter="url(#speckK3l)" opacity="0.7"/>
<g filter="url(#soft)">
<path d="M342.3,524.8 C344.3,560.8 345.3,590.8 349.3,638.8" stroke="#a69bc0" stroke-width="2.5" fill="none" opacity="0.55"/>
<path d="M338.3,530.8 C340.3,560.8 340.3,590.8 344.3,635.8" stroke="#a69bc0" stroke-width="1.2" fill="none" opacity="0.45"/>
<path d="M360.3,544.8 C366.3,560.8 370.3,575.8 376.3,600.8" stroke="#f4efee" stroke-width="2" fill="none" opacity="0.75"/>
<ellipse cx="331.3" cy="594.8" rx="6" ry="10" fill="#dcc7bc" opacity="0.7"/>
</g>
</g>
<circle cx="330.3" cy="580.8" r="57.8" fill="none" stroke="#f6f2f1" stroke-width="1.8" opacity="0.7"/>
<clipPath id="cK4"><rect x="394.2" y="519.4" width="121.80" height="122.40"/></clipPath>
<g clip-path="url(#cK4)">
<rect x="394.20" y="519.40" width="121.80" height="122.40" fill="#d1b0a1" opacity="1"/>
<g filter="url(#rough)">
<path d="M400.1,517.5 398.1,517.2 397.7,509.0 403.4,507.1 405.4,507.9 405.8,509.7ZM443.2,522.8 440.8,515.6 445.5,512.5 451.6,516.7 452.4,518.0 449.0,522.7ZM514.1,523.1 507.3,518.3 508.7,515.8 514.7,512.0 516.5,513.4 517.6,521.2ZM517.6,521.2 516.5,513.4 522.7,513.8 525.6,522.1 525.0,522.6ZM386.1,513.2 387.1,513.4 393.2,519.8 393.1,522.1 388.3,527.5 383.5,525.3ZM489.6,523.2 491.4,529.8 490.9,531.5 483.9,532.6 479.8,526.1 480.1,525.3ZM409.7,534.6 406.4,526.9 401.3,528.5 400.5,529.7 399.5,535.3 402.0,538.8 408.8,539.4ZM419.5,530.2 415.9,533.3 409.7,534.6 406.4,526.9 407.7,524.7 419.3,529.5ZM515.1,531.4 515.2,531.5 518.4,535.9 526.1,535.6 526.7,534.6 524.1,525.8ZM470.0,541.4 470.5,538.3 463.4,533.0 458.5,540.8 461.4,544.5 463.7,544.9ZM409.8,542.4 410.4,553.2 406.8,554.2 400.4,549.2 400.4,549.0ZM416.2,542.9 418.9,548.2 418.7,549.0 414.1,554.4 410.4,553.2 409.8,542.4 410.1,541.9ZM443.0,553.8 438.6,554.7 432.3,551.4 430.7,545.3 432.8,543.8 441.3,547.4ZM454.4,550.5 461.4,544.5 463.7,544.9 465.5,553.0 460.5,556.0ZM497.2,549.8 495.1,552.4 489.9,552.3 485.8,543.4 486.1,542.9 492.0,540.1ZM497.6,549.5 507.0,551.1 509.5,543.7 506.5,540.9 501.6,542.1ZM443.0,553.8 438.6,554.7 434.9,561.4 435.6,562.3 441.2,564.9 442.9,563.8 444.8,562.1 443.6,554.0ZM468.1,554.5 468.7,555.9 473.1,561.0 475.8,559.9 479.2,554.2 478.2,552.3 472.8,551.0ZM415.6,565.6 419.4,561.0 414.5,555.3 407.9,564.3 408.6,566.8ZM441.2,564.9 440.6,568.1 436.7,570.0 433.6,568.3 435.6,562.3ZM452.9,567.2 452.0,571.8 448.9,572.9 442.9,563.8 444.8,562.1 451.4,564.4ZM482.3,571.6 489.4,563.7 486.9,560.8 481.5,563.4 480.8,571.6ZM502.0,560.1 495.4,567.1 499.6,571.8 508.2,564.9 507.8,563.0 505.7,560.1ZM522.8,569.6 519.3,566.2 519.2,565.1 525.0,557.5 529.2,561.4 525.5,569.3ZM494.8,567.1 488.5,574.3 482.3,571.6 489.4,563.7 492.6,565.1ZM505.5,576.6 507.6,574.2 510.2,568.0 508.2,564.9 499.6,571.8 500.8,575.3ZM390.8,595.6 399.3,593.0 399.6,592.3 399.6,585.5 398.8,585.0 390.7,586.1 388.9,590.7ZM410.9,590.6 407.0,584.2 414.0,580.7 417.0,590.8ZM471.5,589.8 470.1,584.5 477.8,579.5 482.0,583.3 481.9,587.8 476.5,592.0ZM410.9,590.6 408.9,595.1 409.5,597.1 418.4,598.2 420.1,592.5 417.0,590.8ZM422.1,591.3 420.1,592.5 418.4,598.2 419.1,600.9 425.8,602.3 427.7,597.7ZM400.0,599.2 406.5,603.2 408.3,608.5 407.7,609.3 400.2,608.3 397.4,604.8 398.4,600.5ZM507.5,601.4 508.7,603.1 508.3,605.4 497.1,609.2 496.9,608.8 499.0,598.3ZM399.8,617.3 407.5,610.6 407.7,609.3 400.2,608.3 394.5,611.7ZM436.3,607.3 433.6,603.0 427.6,604.1 426.8,609.0 426.7,611.8 431.3,613.2ZM488.0,605.7 496.9,608.8 497.1,609.2 497.4,611.4 493.5,616.2 489.7,616.4 483.8,612.8ZM506.0,616.2 509.6,608.8 508.3,605.4 497.1,609.2 497.4,611.4 505.7,616.3ZM409.1,625.6 405.9,622.1 409.4,614.9 415.0,620.3ZM442.5,612.4 447.0,616.9 440.8,624.0 438.6,622.6 434.9,618.9ZM474.3,614.1 476.5,615.4 467.7,622.9 467.0,623.2 464.0,622.8 463.6,622.2 465.9,616.1ZM480.2,613.8 477.6,615.8 479.1,622.5 485.7,623.1 489.7,616.4 483.8,612.8ZM505.7,616.3 503.8,622.9 498.5,625.3 495.6,624.1 493.5,616.2 497.4,611.4ZM506.0,616.2 515.7,618.6 511.8,626.4 506.6,625.3 503.8,622.9 505.7,616.3ZM517.3,618.0 521.6,625.3 528.0,617.6 517.6,617.6ZM386.5,625.0 380.8,627.5 384.9,633.6 388.1,634.7 389.9,634.5 392.3,630.4ZM438.6,622.6 432.6,628.6 439.0,631.8 442.0,631.1 443.1,629.2 440.8,624.0ZM453.6,631.1 452.8,630.2 455.6,620.3 463.6,622.2 464.0,622.8 463.1,631.0 461.7,631.5ZM401.3,636.6 394.8,639.9 393.5,640.0 389.9,634.5 392.3,630.4 397.0,627.5 402.6,631.7ZM434.5,635.4 439.0,631.8 442.0,631.1 443.3,637.2 442.5,639.3 436.4,640.9ZM452.9,638.5 453.6,631.1 461.7,631.5 460.0,636.8 454.1,641.1ZM388.1,634.7 389.9,634.5 393.5,640.0 391.1,646.5 383.7,646.3 383.4,642.6ZM412.7,635.7 410.7,645.3 415.3,646.7 421.3,639.5ZM425.1,637.9 429.5,645.6 433.8,644.6 436.4,640.9 434.5,635.4 425.9,634.7ZM452.9,638.5 443.3,637.2 442.5,639.3 444.8,645.8 454.6,644.2 454.1,641.1ZM454.1,641.1 454.6,644.2 456.1,645.8 461.6,646.6 463.1,645.1 464.8,641.5 460.0,636.8ZM479.3,644.5 482.4,639.1 482.4,638.7 476.8,635.1 472.0,640.7 475.3,645.8ZM475.0,646.2 463.1,645.1 461.6,646.6 464.1,651.4 465.7,654.0 469.5,654.8 473.8,650.3Z" fill="#e6d0c4"/>
<path d="M428.5,509.5 427.9,512.6 434.0,517.2 437.5,515.1 435.8,507.9 434.2,507.1ZM507.3,518.3 508.7,515.8 504.2,506.6 501.3,506.6 498.0,510.1 505.4,519.2ZM407.7,524.7 408.0,522.9 400.1,517.5 398.1,517.2 393.2,519.8 393.1,522.1 401.3,528.5 406.4,526.9ZM497.7,526.9 491.4,529.8 489.6,523.2 491.2,520.4 494.4,519.9 494.6,520.0ZM501.3,528.3 504.0,525.7 504.7,519.9 494.6,520.0 497.7,526.9ZM504.0,525.7 509.4,528.9 513.5,529.2 514.1,523.1 507.3,518.3 505.4,519.2 504.7,519.9ZM437.5,529.3 435.2,537.5 427.2,533.0 434.8,527.7ZM437.5,529.3 440.2,528.5 440.4,528.5 445.0,537.6 442.7,539.0 435.4,538.3 435.2,537.5ZM501.3,528.3 501.0,531.9 494.5,536.3 490.9,531.5 491.4,529.8 497.7,526.9ZM501.3,528.3 501.0,531.9 505.0,535.2 509.4,528.9 504.0,525.7ZM423.4,538.5 418.4,540.6 416.2,542.9 418.9,548.2 426.2,546.9 429.4,545.1ZM509.5,543.7 515.7,544.0 518.4,535.9 515.2,531.5 506.7,538.7 506.5,540.9ZM465.5,553.0 463.7,544.9 470.0,541.4 470.4,541.8 472.8,551.0 468.1,554.5ZM400.4,549.2 397.6,551.2 399.8,559.9 404.8,559.2 406.8,554.2ZM425.7,560.3 425.3,560.7 419.4,561.0 414.5,555.3 414.1,554.4 418.7,549.0 424.2,555.5ZM459.9,558.3 462.0,563.2 468.7,555.9 468.1,554.5 465.5,553.0 460.5,556.0ZM519.9,552.0 522.1,552.6 524.1,555.0 525.0,557.5 519.2,565.1 516.1,561.0 516.9,554.3ZM415.6,565.6 419.4,561.0 425.3,560.7 427.3,570.0 427.1,570.6 420.6,572.1 418.3,571.0ZM453.2,559.5 451.4,564.4 452.9,567.2 462.2,564.8 462.0,563.2 459.9,558.3ZM502.0,560.1 495.4,567.1 494.8,567.1 492.6,565.1 495.5,553.0ZM400.3,571.8 395.9,575.3 394.2,574.7 388.9,568.4 393.5,563.6ZM408.4,567.2 403.0,569.6 401.8,571.1 405.7,576.9 411.0,573.8ZM408.4,567.2 408.6,566.8 415.6,565.6 418.3,571.0 413.1,575.7 411.0,573.8ZM418.3,571.0 420.6,572.1 419.6,580.4 414.2,580.5 413.1,575.7ZM442.9,578.2 436.0,574.5 436.7,570.0 440.6,568.1 444.9,574.8ZM458.7,573.9 455.1,575.0 452.0,571.8 452.9,567.2 462.2,564.8 465.0,566.9ZM497.3,578.8 500.8,575.3 499.6,571.8 495.4,567.1 494.8,567.1 488.5,574.3 489.1,576.1 495.6,579.8ZM427.6,571.9 427.1,570.6 420.6,572.1 419.6,580.4 424.1,582.6ZM455.1,575.0 456.1,580.7 451.1,583.7 447.5,583.2 442.9,578.4 442.9,578.2 444.9,574.8 448.9,572.9 452.0,571.8ZM495.6,579.8 489.1,576.1 485.4,582.0 492.0,585.6 494.2,585.2ZM508.7,581.9 505.5,576.6 507.6,574.2 515.6,574.9 511.6,583.0ZM424.4,588.6 425.7,584.9 432.2,583.8 436.1,585.1 438.0,590.0 433.9,595.6 433.8,595.6ZM447.5,583.2 444.6,589.5 452.1,592.3 452.6,591.4 451.1,583.7ZM471.2,600.6 478.2,598.6 476.5,592.0 471.5,589.8 467.9,593.2 467.5,596.4ZM478.2,598.6 478.2,598.6 488.4,595.5 486.7,590.9 481.9,587.8 476.5,592.0ZM516.2,592.9 524.3,602.6 528.9,596.9 526.1,590.2 515.8,591.7ZM398.4,600.5 397.4,604.8 389.8,608.1 389.8,601.0ZM394.5,611.7 400.2,608.3 397.4,604.8 389.8,608.1 389.5,608.9 390.5,610.7ZM517.6,617.6 528.0,617.6 530.9,617.1 522.6,606.2 521.4,606.8 518.5,610.5ZM440.8,624.0 443.1,629.2 444.2,629.1 452.5,617.4 447.0,616.9ZM479.1,622.5 477.6,615.8 476.5,615.4 467.7,622.9 479.1,622.6ZM397.2,623.0 397.0,627.5 402.6,631.7 408.6,630.6 409.1,625.6 405.9,622.1 399.1,620.8ZM434.9,618.9 438.6,622.6 432.6,628.6 426.7,628.3 426.6,625.1 434.7,618.8ZM489.8,627.7 494.3,635.7 496.2,637.0 499.2,630.2 498.5,625.3 495.6,624.1 490.0,627.1ZM505.5,632.1 499.2,630.2 498.5,625.3 503.8,622.9 506.6,625.3ZM425.9,634.7 425.3,631.8 426.7,628.3 432.6,628.6 439.0,631.8 434.5,635.4ZM514.2,631.0 522.1,626.7 523.6,627.4 524.8,635.1 517.3,637.8 513.9,632.6ZM528.0,636.8 524.8,635.1 517.3,637.8 516.2,643.9 519.2,646.3 523.5,646.3ZM429.5,645.6 429.3,645.9 433.2,653.3 437.2,656.0 441.3,649.2 433.8,644.6Z" fill="#d8b5a2"/>
<path d="M454.5,504.1 446.1,504.7 445.5,512.5 451.6,516.7 456.0,505.6ZM469.1,518.1 462.3,513.8 462.5,508.5 465.3,506.8 469.0,506.1 471.2,508.1 472.1,509.7ZM426.7,522.8 425.3,513.8 418.3,513.9 416.8,518.1 421.2,523.1ZM428.3,523.4 431.2,522.9 433.2,519.6 434.0,517.2 427.9,512.6 425.3,513.8 426.7,522.8ZM441.9,524.4 433.2,519.6 434.0,517.2 437.5,515.1 440.8,515.6 443.2,522.8ZM469.1,518.1 462.3,513.8 461.8,514.4 462.2,525.9 468.8,521.8 469.5,518.7ZM479.4,516.3 478.8,517.4 469.5,518.7 469.1,518.1 472.1,509.7 478.7,514.5ZM486.3,514.8 487.1,515.3 491.2,520.4 489.6,523.2 480.1,525.3 478.8,517.4 479.4,516.3ZM419.3,529.5 407.7,524.7 408.0,522.9 409.3,521.3 416.8,518.1 421.2,523.1ZM426.1,532.8 428.3,523.4 426.7,522.8 421.2,523.1 419.3,529.5 419.5,530.2 424.3,533.6ZM437.5,529.3 440.2,528.5 441.9,524.4 433.2,519.6 431.2,522.9 434.8,527.7ZM449.0,522.7 452.4,518.0 453.7,518.3 460.9,527.7 460.8,527.9 452.5,532.0 451.6,531.0ZM513.5,529.2 514.1,523.1 517.6,521.2 525.0,522.6 524.1,525.8 515.1,531.4ZM424.3,533.6 423.4,538.5 418.4,540.6 415.9,533.3 419.5,530.2ZM492.0,540.1 486.1,542.9 483.4,534.1 483.9,532.6 490.9,531.5 494.5,536.3 494.5,537.3ZM505.0,535.2 506.7,538.7 515.2,531.5 515.1,531.4 513.5,529.2 509.4,528.9ZM415.9,533.3 418.4,540.6 416.2,542.9 410.1,541.9 408.8,539.4 409.7,534.6ZM451.6,550.8 454.4,550.5 461.4,544.5 458.5,540.8 451.5,536.9 449.9,545.1ZM485.8,543.4 481.2,544.4 478.3,536.4 483.4,534.1 486.1,542.9ZM501.0,531.9 494.5,536.3 494.5,537.3 501.6,542.1 506.5,540.9 506.7,538.7 505.0,535.2ZM518.4,535.9 515.7,544.0 517.2,545.6 527.8,540.8 526.1,535.6ZM400.4,549.0 400.4,549.2 397.6,551.2 391.0,552.3 390.1,544.3 392.6,541.3 398.5,543.6ZM470.4,541.8 479.8,545.1 478.2,552.3 472.8,551.0ZM507.0,551.1 509.5,543.7 515.7,544.0 517.2,545.6 519.9,552.0 516.9,554.3 508.3,554.9ZM406.8,554.2 404.8,559.2 407.9,564.3 414.5,555.3 414.1,554.4 410.4,553.2ZM508.3,554.9 516.9,554.3 516.1,561.0 507.8,563.0 505.7,560.1ZM426.4,560.0 434.9,561.4 435.6,562.3 433.6,568.3 427.3,570.0 425.3,560.7 425.7,560.3ZM468.7,555.9 473.1,561.0 470.3,567.6 468.8,568.2 465.0,566.9 462.2,564.8 462.0,563.2ZM467.8,572.5 468.8,568.2 465.0,566.9 458.7,573.9 465.6,576.5ZM432.6,575.4 432.2,583.8 425.7,584.9 424.1,582.6 427.6,571.9ZM467.8,572.5 465.6,576.5 465.1,582.2 469.0,583.8 471.1,576.4ZM422.1,591.3 420.1,592.5 417.0,590.8 414.0,580.7 414.2,580.5 419.6,580.4 424.1,582.6 425.7,584.9 424.4,588.6ZM399.3,593.0 400.0,599.2 406.5,603.2 409.5,597.1 408.9,595.1 399.6,592.3ZM467.5,596.4 467.9,593.2 461.2,591.2 459.1,598.1 460.7,600.8ZM460.7,600.8 459.1,598.1 452.0,595.2 450.8,596.5 453.6,604.6 460.6,602.8ZM471.2,600.6 468.9,606.1 463.4,606.7 460.6,602.8 460.7,600.8 467.5,596.4ZM513.8,602.0 521.4,606.8 522.6,606.2 524.0,604.3 524.3,602.6 516.2,592.9ZM460.6,602.8 453.6,604.6 451.2,607.1 454.1,614.6 462.3,609.9 463.4,606.7ZM479.0,603.5 471.6,608.2 474.3,614.1 476.5,615.4 477.6,615.8 480.2,613.8ZM397.2,623.0 388.6,618.6 390.5,610.7 394.5,611.7 399.8,617.3 399.1,620.8ZM490.0,627.1 495.6,624.1 493.5,616.2 489.7,616.4 485.7,623.1ZM397.2,623.0 397.0,627.5 392.3,630.4 386.5,625.0 388.3,618.8 388.6,618.6ZM455.6,620.3 452.8,630.2 444.2,629.1 452.5,617.4 453.3,617.3ZM479.1,622.5 485.7,623.1 490.0,627.1 489.8,627.7 484.9,632.2 478.1,625.8 479.1,622.6ZM505.5,632.1 506.6,625.3 511.8,626.4 514.2,631.0 513.9,632.6 507.2,634.7ZM514.2,631.0 522.1,626.7 521.6,625.3 517.3,618.0 515.7,618.6 511.8,626.4ZM452.9,638.5 443.3,637.2 442.0,631.1 443.1,629.2 444.2,629.1 452.8,630.2 453.6,631.1ZM505.5,632.1 499.2,630.2 496.2,637.0 496.4,637.3 502.8,639.8 506.1,636.8 507.2,634.7ZM421.3,639.5 425.1,637.9 429.5,645.6 429.3,645.9 425.0,649.8 416.0,647.6 415.3,646.7ZM484.4,635.8 482.4,638.7 482.4,639.1 491.8,644.4 496.4,637.3 496.2,637.0 494.3,635.7ZM502.8,639.8 506.1,636.8 515.8,644.0 507.6,648.3 504.6,645.9Z" fill="#cda38c"/>
<path d="M462.3,513.8 462.5,508.5 456.0,505.6 451.6,516.7 452.4,518.0 453.7,518.3 461.8,514.4ZM462.2,525.9 460.9,527.7 453.7,518.3 461.8,514.4ZM491.2,520.4 494.4,519.9 497.2,510.4 496.3,510.1 487.1,515.3ZM468.8,521.8 474.4,528.3 473.3,529.8 460.8,527.9 460.8,527.9 460.9,527.7 462.2,525.9ZM473.3,529.8 472.3,536.2 470.5,538.3 463.4,533.0 460.8,527.9ZM479.8,526.1 474.4,528.3 473.3,529.8 472.3,536.2 478.3,536.4 483.4,534.1 483.9,532.6ZM402.0,538.8 399.5,535.3 392.2,537.4 392.6,541.3 398.5,543.6ZM478.3,536.4 472.3,536.2 470.5,538.3 470.0,541.4 470.4,541.8 479.8,545.1 481.2,544.4ZM451.6,550.8 449.9,545.1 443.1,544.8 441.3,547.4 443.0,553.8 443.6,554.0 450.5,551.9ZM527.8,540.8 531.3,544.4 522.1,552.6 519.9,552.0 517.2,545.6ZM393.5,563.6 388.9,568.4 385.6,568.2 383.3,562.5 389.8,554.9 394.4,562.1ZM512.6,568.5 515.6,574.8 515.6,574.9 507.6,574.2 510.2,568.0ZM522.8,569.6 519.3,566.2 512.6,568.5 515.6,574.8 520.2,574.5ZM405.7,576.9 405.3,584.0 399.6,585.5 398.8,585.0 395.9,575.3 400.3,571.8 401.8,571.1ZM411.0,573.8 413.1,575.7 414.2,580.5 414.0,580.7 407.0,584.2 405.3,584.0 405.7,576.9ZM482.3,571.6 488.5,574.3 489.1,576.1 485.4,582.0 482.0,583.3 477.8,579.5 477.8,578.7 479.0,572.4 480.8,571.6ZM497.3,578.8 500.8,575.3 505.5,576.6 508.7,581.9 503.6,586.2ZM388.9,590.7 383.1,592.0 380.7,584.4 385.4,582.6 390.7,586.1ZM390.8,595.6 388.9,599.4 382.2,597.9 382.7,593.0 383.1,592.0 388.9,590.7ZM450.8,596.5 445.1,598.7 441.6,591.1 444.6,589.5 452.1,592.3 452.0,595.2ZM442.1,608.2 444.6,605.6 444.2,600.5 435.0,598.8 433.6,603.0 436.3,607.3ZM471.2,600.6 478.2,598.6 478.2,598.6 479.5,602.4 479.0,603.5 471.6,608.2 468.9,606.1ZM416.2,620.3 415.0,620.3 409.4,614.9 407.5,610.6 407.7,609.3 408.3,608.5 415.3,607.2 419.0,611.1ZM442.5,612.4 434.9,618.9 434.7,618.8 431.3,613.2 436.3,607.3 442.1,608.2ZM442.5,612.4 447.0,616.9 452.5,617.4 453.3,617.3 454.1,614.6 451.2,607.1 444.6,605.6 442.1,608.2ZM479.0,603.5 480.2,613.8 483.8,612.8 488.0,605.7 487.8,605.3 479.5,602.4ZM467.4,634.0 474.0,631.1 474.5,629.6 467.0,623.2 464.0,622.8 463.1,631.0ZM405.0,642.5 401.3,636.6 402.6,631.7 408.6,630.6 410.0,631.6ZM461.7,631.5 463.1,631.0 467.4,634.0 467.4,638.5 464.8,641.5 460.0,636.8ZM467.4,638.5 472.0,640.7 476.8,635.1 474.0,631.1 467.4,634.0ZM489.8,627.7 494.3,635.7 484.4,635.8 484.9,632.2ZM507.2,634.7 506.1,636.8 515.8,644.0 516.2,643.9 517.3,637.8 513.9,632.6ZM401.6,645.3 397.7,649.4 392.2,647.9 391.1,646.5 393.5,640.0 394.8,639.9ZM492.3,647.7 496.5,648.7 504.6,645.9 502.8,639.8 496.4,637.3 491.8,644.4ZM405.6,644.1 401.6,645.3 397.7,649.4 401.5,656.5 404.7,655.4 406.0,654.5 408.9,645.7Z" fill="#f2e9e5"/>
<path d="M487.3,506.7 489.1,504.9 496.3,510.1 487.1,515.3 486.3,514.8ZM397.7,509.0 397.5,509.0 390.0,511.0 387.1,513.4 393.2,519.8 398.1,517.2ZM409.3,521.3 408.0,522.9 400.1,517.5 405.8,509.7 407.0,511.5ZM418.3,513.9 416.8,518.1 409.3,521.3 407.0,511.5 418.0,513.0ZM504.7,519.9 505.4,519.2 498.0,510.1 497.2,510.4 494.4,519.9 494.6,520.0ZM400.5,529.7 401.3,528.5 393.1,522.1 388.3,527.5 388.9,532.2ZM478.8,517.4 469.5,518.7 468.8,521.8 474.4,528.3 479.8,526.1 480.1,525.3ZM399.5,535.3 392.2,537.4 388.7,533.2 388.9,532.2 400.5,529.7ZM445.0,537.6 451.5,536.9 452.5,532.0 451.6,531.0 440.4,528.5ZM451.5,536.9 458.5,540.8 463.4,533.0 460.8,527.9 460.8,527.9 452.5,532.0 451.5,536.9ZM435.2,537.5 435.4,538.3 432.8,543.8 430.7,545.3 429.4,545.1 423.4,538.5 424.3,533.6 426.1,532.8 427.2,533.0ZM442.7,539.0 443.1,544.8 441.3,547.4 432.8,543.8 435.4,538.3ZM445.0,537.6 451.5,536.9 451.5,536.9 449.9,545.1 443.1,544.8 442.7,539.0ZM497.6,549.5 501.6,542.1 494.5,537.3 492.0,540.1 497.2,549.8ZM390.1,544.3 383.8,543.1 381.0,551.1 389.8,553.6 391.0,552.3ZM397.6,551.2 391.0,552.3 389.8,553.6 389.8,554.9 394.4,562.1 397.7,561.7 399.8,559.9ZM450.5,551.9 453.2,559.5 451.4,564.4 444.8,562.1 443.6,554.0ZM451.6,550.8 454.4,550.5 460.5,556.0 459.9,558.3 453.2,559.5 450.5,551.9ZM481.5,563.4 475.8,559.9 479.2,554.2 486.8,555.3 486.9,560.8ZM403.0,569.6 397.7,561.7 394.4,562.1 393.5,563.6 400.3,571.8 401.8,571.1ZM480.8,571.6 479.0,572.4 470.3,567.6 473.1,561.0 475.8,559.9 481.5,563.4ZM508.2,564.9 510.2,568.0 512.6,568.5 519.3,566.2 519.2,565.1 516.1,561.0 507.8,563.0ZM448.9,572.9 442.9,563.8 441.2,564.9 440.6,568.1 444.9,574.8ZM442.9,578.2 436.0,574.5 432.6,575.4 432.2,583.8 436.1,585.1 442.9,578.4ZM465.6,576.5 458.7,573.9 455.1,575.0 456.1,580.7 460.9,583.6 465.1,582.2ZM399.6,592.3 408.9,595.1 410.9,590.6 407.0,584.2 405.3,584.0 399.6,585.5ZM447.5,583.2 444.6,589.5 441.6,591.1 438.0,590.0 436.1,585.1 442.9,578.4ZM451.1,583.7 452.6,591.4 459.9,588.9 460.9,583.6 456.1,580.7ZM469.0,583.8 470.1,584.5 471.5,589.8 467.9,593.2 461.2,591.2 459.9,588.9 460.9,583.6 465.1,582.2ZM492.0,585.6 485.4,582.0 482.0,583.3 481.9,587.8 486.7,590.9ZM494.2,585.2 492.0,585.6 486.7,590.9 488.4,595.5 489.7,596.5 490.5,596.4 495.1,586.4ZM515.1,591.1 515.8,591.7 526.1,590.2 527.5,587.5 527.2,583.2 526.0,581.8 522.2,580.5 514.3,585.5ZM390.8,595.6 388.9,599.4 389.8,601.0 398.4,600.5 400.0,599.2 399.3,593.0ZM452.0,595.2 452.1,592.3 452.6,591.4 459.9,588.9 461.2,591.2 459.1,598.1ZM495.1,586.4 490.5,596.4 498.8,597.7 501.3,591.6 501.0,590.5ZM510.7,593.0 507.5,601.4 508.7,603.1 513.8,602.0 516.2,592.9 515.8,591.7 515.1,591.1ZM415.3,607.2 408.3,608.5 406.5,603.2 409.5,597.1 418.4,598.2 419.1,600.9 417.7,603.6ZM425.8,602.3 419.1,600.9 417.7,603.6 426.8,609.0 427.6,604.1ZM427.7,597.7 425.8,602.3 427.6,604.1 433.6,603.0 435.0,598.8 433.9,595.6 433.8,595.6ZM450.8,596.5 445.1,598.7 444.2,600.5 444.6,605.6 451.2,607.1 453.6,604.6ZM509.6,608.8 518.5,610.5 521.4,606.8 513.8,602.0 508.7,603.1 508.3,605.4ZM419.0,611.1 415.3,607.2 417.7,603.6 426.8,609.0 426.7,611.8 425.4,612.5ZM506.0,616.2 515.7,618.6 517.3,618.0 517.6,617.6 518.5,610.5 509.6,608.8ZM399.1,620.8 405.9,622.1 409.4,614.9 407.5,610.6 399.8,617.3ZM465.9,616.1 463.6,622.2 455.6,620.3 453.3,617.3 454.1,614.6 462.3,609.9ZM479.1,622.6 467.7,622.9 467.0,623.2 474.5,629.6 478.1,625.8ZM405.0,642.5 401.3,636.6 394.8,639.9 401.6,645.3 405.6,644.1ZM436.4,640.9 442.5,639.3 444.8,645.8 443.0,648.6 441.3,649.2 433.8,644.6ZM475.3,645.8 472.0,640.7 467.4,638.5 464.8,641.5 463.1,645.1 475.0,646.2Z" fill="#c4957e"/>
<path d="M434.8,527.7 431.2,522.9 428.3,523.4 426.1,532.8 427.2,533.0ZM440.4,528.5 451.6,531.0 449.0,522.7 443.2,522.8 441.9,524.4 440.2,528.5ZM388.7,533.2 382.0,536.7 383.5,542.7 383.8,543.1 390.1,544.3 392.6,541.3 392.2,537.4ZM408.8,539.4 402.0,538.8 398.5,543.6 400.4,549.0 409.8,542.4 410.1,541.9ZM426.2,546.9 424.2,555.5 418.7,549.0 418.9,548.2ZM429.4,545.1 426.2,546.9 424.2,555.5 425.7,560.3 426.4,560.0 432.3,551.4 430.7,545.3ZM485.8,543.4 489.9,552.3 486.8,555.3 479.2,554.2 478.2,552.3 479.8,545.1 481.2,544.4ZM438.6,554.7 434.9,561.4 426.4,560.0 432.3,551.4ZM495.5,553.0 492.6,565.1 489.4,563.7 486.9,560.8 486.8,555.3 489.9,552.3 495.1,552.4ZM497.6,549.5 507.0,551.1 508.3,554.9 505.7,560.1 502.0,560.1 495.5,553.0 495.1,552.4 497.2,549.8ZM408.4,567.2 408.6,566.8 407.9,564.3 404.8,559.2 399.8,559.9 397.7,561.7 403.0,569.6ZM388.9,568.4 394.2,574.7 386.1,579.9 382.3,571.3 385.6,568.2ZM436.0,574.5 432.6,575.4 427.6,571.9 427.1,570.6 427.3,570.0 433.6,568.3 436.7,570.0ZM467.8,572.5 468.8,568.2 470.3,567.6 479.0,572.4 477.8,578.7 471.1,576.4ZM390.7,586.1 385.4,582.6 386.1,579.9 394.2,574.7 395.9,575.3 398.8,585.0ZM471.1,576.4 477.8,578.7 477.8,579.5 470.1,584.5 469.0,583.8ZM514.3,585.5 522.2,580.5 520.2,574.5 515.6,574.8 515.6,574.9 511.6,583.0ZM497.3,578.8 503.6,586.2 501.0,590.5 495.1,586.4 494.2,585.2 495.6,579.8ZM501.0,590.5 501.3,591.6 510.7,593.0 515.1,591.1 514.3,585.5 511.6,583.0 508.7,581.9 503.6,586.2ZM422.1,591.3 427.7,597.7 433.8,595.6 424.4,588.6ZM433.9,595.6 438.0,590.0 441.6,591.1 445.1,598.7 444.2,600.5 435.0,598.8ZM510.7,593.0 507.5,601.4 499.0,598.3 498.8,597.7 501.3,591.6ZM479.5,602.4 478.2,598.6 488.4,595.5 489.7,596.5 487.8,605.3ZM498.8,597.7 490.5,596.4 489.7,596.5 487.8,605.3 488.0,605.7 496.9,608.8 499.0,598.3ZM468.9,606.1 471.6,608.2 474.3,614.1 465.9,616.1 462.3,609.9 463.4,606.7ZM416.7,620.7 423.1,621.3 425.4,612.5 419.0,611.1 416.2,620.3ZM431.3,613.2 426.7,611.8 425.4,612.5 423.1,621.3 426.6,625.1 434.7,618.8ZM410.0,631.6 408.6,630.6 409.1,625.6 415.0,620.3 416.2,620.3 416.7,620.7 417.0,630.3 411.6,632.4ZM416.7,620.7 417.0,630.3 425.3,631.8 426.7,628.3 426.6,625.1 423.1,621.3ZM412.7,635.7 411.6,632.4 410.0,631.6 405.0,642.5 405.6,644.1 408.9,645.7 410.7,645.3ZM412.7,635.7 411.6,632.4 417.0,630.3 425.3,631.8 425.9,634.7 425.1,637.9 421.3,639.5ZM478.1,625.8 474.5,629.6 474.0,631.1 476.8,635.1 482.4,638.7 484.4,635.8 484.9,632.2ZM484.0,650.5 479.3,644.5 482.4,639.1 491.8,644.4 492.3,647.7 491.7,648.4ZM443.0,648.6 445.5,651.6 453.4,652.6 456.1,645.8 454.6,644.2 444.8,645.8Z" fill="#b98a72"/>
</g>
<rect x="394.20" y="519.40" width="121.80" height="122.40" fill="#000" filter="url(#whiteK4)" opacity="0.8"/>
<rect x="394.20" y="519.40" width="121.80" height="122.40" fill="#000" filter="url(#speckK4)" opacity="0.6"/>
<path d="M400.1,517.5 398.1,517.2 397.7,509.0 403.4,507.1 405.4,507.9 405.8,509.7ZM428.5,509.5 427.9,512.6 434.0,517.2 437.5,515.1 435.8,507.9 434.2,507.1ZM454.5,504.1 446.1,504.7 445.5,512.5 451.6,516.7 456.0,505.6ZM462.3,513.8 462.5,508.5 456.0,505.6 451.6,516.7 452.4,518.0 453.7,518.3 461.8,514.4ZM469.1,518.1 462.3,513.8 462.5,508.5 465.3,506.8 469.0,506.1 471.2,508.1 472.1,509.7ZM487.3,506.7 489.1,504.9 496.3,510.1 487.1,515.3 486.3,514.8ZM507.3,518.3 508.7,515.8 504.2,506.6 501.3,506.6 498.0,510.1 505.4,519.2ZM397.7,509.0 397.5,509.0 390.0,511.0 387.1,513.4 393.2,519.8 398.1,517.2ZM409.3,521.3 408.0,522.9 400.1,517.5 405.8,509.7 407.0,511.5ZM418.3,513.9 416.8,518.1 409.3,521.3 407.0,511.5 418.0,513.0ZM426.7,522.8 425.3,513.8 418.3,513.9 416.8,518.1 421.2,523.1ZM428.3,523.4 431.2,522.9 433.2,519.6 434.0,517.2 427.9,512.6 425.3,513.8 426.7,522.8ZM441.9,524.4 433.2,519.6 434.0,517.2 437.5,515.1 440.8,515.6 443.2,522.8ZM443.2,522.8 440.8,515.6 445.5,512.5 451.6,516.7 452.4,518.0 449.0,522.7ZM462.2,525.9 460.9,527.7 453.7,518.3 461.8,514.4ZM469.1,518.1 462.3,513.8 461.8,514.4 462.2,525.9 468.8,521.8 469.5,518.7ZM479.4,516.3 478.8,517.4 469.5,518.7 469.1,518.1 472.1,509.7 478.7,514.5ZM486.3,514.8 487.1,515.3 491.2,520.4 489.6,523.2 480.1,525.3 478.8,517.4 479.4,516.3ZM491.2,520.4 494.4,519.9 497.2,510.4 496.3,510.1 487.1,515.3ZM504.7,519.9 505.4,519.2 498.0,510.1 497.2,510.4 494.4,519.9 494.6,520.0ZM514.1,523.1 507.3,518.3 508.7,515.8 514.7,512.0 516.5,513.4 517.6,521.2ZM517.6,521.2 516.5,513.4 522.7,513.8 525.6,522.1 525.0,522.6ZM386.1,513.2 387.1,513.4 393.2,519.8 393.1,522.1 388.3,527.5 383.5,525.3ZM400.5,529.7 401.3,528.5 393.1,522.1 388.3,527.5 388.9,532.2ZM407.7,524.7 408.0,522.9 400.1,517.5 398.1,517.2 393.2,519.8 393.1,522.1 401.3,528.5 406.4,526.9ZM419.3,529.5 407.7,524.7 408.0,522.9 409.3,521.3 416.8,518.1 421.2,523.1ZM426.1,532.8 428.3,523.4 426.7,522.8 421.2,523.1 419.3,529.5 419.5,530.2 424.3,533.6ZM434.8,527.7 431.2,522.9 428.3,523.4 426.1,532.8 427.2,533.0ZM437.5,529.3 440.2,528.5 441.9,524.4 433.2,519.6 431.2,522.9 434.8,527.7ZM440.4,528.5 451.6,531.0 449.0,522.7 443.2,522.8 441.9,524.4 440.2,528.5ZM449.0,522.7 452.4,518.0 453.7,518.3 460.9,527.7 460.8,527.9 452.5,532.0 451.6,531.0ZM468.8,521.8 474.4,528.3 473.3,529.8 460.8,527.9 460.8,527.9 460.9,527.7 462.2,525.9ZM478.8,517.4 469.5,518.7 468.8,521.8 474.4,528.3 479.8,526.1 480.1,525.3ZM489.6,523.2 491.4,529.8 490.9,531.5 483.9,532.6 479.8,526.1 480.1,525.3ZM497.7,526.9 491.4,529.8 489.6,523.2 491.2,520.4 494.4,519.9 494.6,520.0ZM501.3,528.3 504.0,525.7 504.7,519.9 494.6,520.0 497.7,526.9ZM504.0,525.7 509.4,528.9 513.5,529.2 514.1,523.1 507.3,518.3 505.4,519.2 504.7,519.9ZM513.5,529.2 514.1,523.1 517.6,521.2 525.0,522.6 524.1,525.8 515.1,531.4ZM399.5,535.3 392.2,537.4 388.7,533.2 388.9,532.2 400.5,529.7ZM409.7,534.6 406.4,526.9 401.3,528.5 400.5,529.7 399.5,535.3 402.0,538.8 408.8,539.4ZM419.5,530.2 415.9,533.3 409.7,534.6 406.4,526.9 407.7,524.7 419.3,529.5ZM424.3,533.6 423.4,538.5 418.4,540.6 415.9,533.3 419.5,530.2ZM437.5,529.3 435.2,537.5 427.2,533.0 434.8,527.7ZM437.5,529.3 440.2,528.5 440.4,528.5 445.0,537.6 442.7,539.0 435.4,538.3 435.2,537.5ZM445.0,537.6 451.5,536.9 452.5,532.0 451.6,531.0 440.4,528.5ZM451.5,536.9 458.5,540.8 463.4,533.0 460.8,527.9 460.8,527.9 452.5,532.0 451.5,536.9ZM473.3,529.8 472.3,536.2 470.5,538.3 463.4,533.0 460.8,527.9ZM479.8,526.1 474.4,528.3 473.3,529.8 472.3,536.2 478.3,536.4 483.4,534.1 483.9,532.6ZM492.0,540.1 486.1,542.9 483.4,534.1 483.9,532.6 490.9,531.5 494.5,536.3 494.5,537.3ZM501.3,528.3 501.0,531.9 494.5,536.3 490.9,531.5 491.4,529.8 497.7,526.9ZM501.3,528.3 501.0,531.9 505.0,535.2 509.4,528.9 504.0,525.7ZM505.0,535.2 506.7,538.7 515.2,531.5 515.1,531.4 513.5,529.2 509.4,528.9ZM515.1,531.4 515.2,531.5 518.4,535.9 526.1,535.6 526.7,534.6 524.1,525.8ZM388.7,533.2 382.0,536.7 383.5,542.7 383.8,543.1 390.1,544.3 392.6,541.3 392.2,537.4ZM402.0,538.8 399.5,535.3 392.2,537.4 392.6,541.3 398.5,543.6ZM408.8,539.4 402.0,538.8 398.5,543.6 400.4,549.0 409.8,542.4 410.1,541.9ZM415.9,533.3 418.4,540.6 416.2,542.9 410.1,541.9 408.8,539.4 409.7,534.6ZM423.4,538.5 418.4,540.6 416.2,542.9 418.9,548.2 426.2,546.9 429.4,545.1ZM435.2,537.5 435.4,538.3 432.8,543.8 430.7,545.3 429.4,545.1 423.4,538.5 424.3,533.6 426.1,532.8 427.2,533.0ZM442.7,539.0 443.1,544.8 441.3,547.4 432.8,543.8 435.4,538.3ZM445.0,537.6 451.5,536.9 451.5,536.9 449.9,545.1 443.1,544.8 442.7,539.0ZM451.6,550.8 454.4,550.5 461.4,544.5 458.5,540.8 451.5,536.9 449.9,545.1ZM470.0,541.4 470.5,538.3 463.4,533.0 458.5,540.8 461.4,544.5 463.7,544.9ZM478.3,536.4 472.3,536.2 470.5,538.3 470.0,541.4 470.4,541.8 479.8,545.1 481.2,544.4ZM485.8,543.4 481.2,544.4 478.3,536.4 483.4,534.1 486.1,542.9ZM497.6,549.5 501.6,542.1 494.5,537.3 492.0,540.1 497.2,549.8ZM501.0,531.9 494.5,536.3 494.5,537.3 501.6,542.1 506.5,540.9 506.7,538.7 505.0,535.2ZM509.5,543.7 515.7,544.0 518.4,535.9 515.2,531.5 506.7,538.7 506.5,540.9ZM518.4,535.9 515.7,544.0 517.2,545.6 527.8,540.8 526.1,535.6ZM390.1,544.3 383.8,543.1 381.0,551.1 389.8,553.6 391.0,552.3ZM400.4,549.0 400.4,549.2 397.6,551.2 391.0,552.3 390.1,544.3 392.6,541.3 398.5,543.6ZM409.8,542.4 410.4,553.2 406.8,554.2 400.4,549.2 400.4,549.0ZM416.2,542.9 418.9,548.2 418.7,549.0 414.1,554.4 410.4,553.2 409.8,542.4 410.1,541.9ZM426.2,546.9 424.2,555.5 418.7,549.0 418.9,548.2ZM429.4,545.1 426.2,546.9 424.2,555.5 425.7,560.3 426.4,560.0 432.3,551.4 430.7,545.3ZM443.0,553.8 438.6,554.7 432.3,551.4 430.7,545.3 432.8,543.8 441.3,547.4ZM451.6,550.8 449.9,545.1 443.1,544.8 441.3,547.4 443.0,553.8 443.6,554.0 450.5,551.9ZM454.4,550.5 461.4,544.5 463.7,544.9 465.5,553.0 460.5,556.0ZM465.5,553.0 463.7,544.9 470.0,541.4 470.4,541.8 472.8,551.0 468.1,554.5ZM470.4,541.8 479.8,545.1 478.2,552.3 472.8,551.0ZM485.8,543.4 489.9,552.3 486.8,555.3 479.2,554.2 478.2,552.3 479.8,545.1 481.2,544.4ZM497.2,549.8 495.1,552.4 489.9,552.3 485.8,543.4 486.1,542.9 492.0,540.1ZM497.6,549.5 507.0,551.1 509.5,543.7 506.5,540.9 501.6,542.1ZM507.0,551.1 509.5,543.7 515.7,544.0 517.2,545.6 519.9,552.0 516.9,554.3 508.3,554.9ZM527.8,540.8 531.3,544.4 522.1,552.6 519.9,552.0 517.2,545.6ZM397.6,551.2 391.0,552.3 389.8,553.6 389.8,554.9 394.4,562.1 397.7,561.7 399.8,559.9ZM400.4,549.2 397.6,551.2 399.8,559.9 404.8,559.2 406.8,554.2ZM406.8,554.2 404.8,559.2 407.9,564.3 414.5,555.3 414.1,554.4 410.4,553.2ZM425.7,560.3 425.3,560.7 419.4,561.0 414.5,555.3 414.1,554.4 418.7,549.0 424.2,555.5ZM438.6,554.7 434.9,561.4 426.4,560.0 432.3,551.4ZM443.0,553.8 438.6,554.7 434.9,561.4 435.6,562.3 441.2,564.9 442.9,563.8 444.8,562.1 443.6,554.0ZM450.5,551.9 453.2,559.5 451.4,564.4 444.8,562.1 443.6,554.0ZM451.6,550.8 454.4,550.5 460.5,556.0 459.9,558.3 453.2,559.5 450.5,551.9ZM459.9,558.3 462.0,563.2 468.7,555.9 468.1,554.5 465.5,553.0 460.5,556.0ZM468.1,554.5 468.7,555.9 473.1,561.0 475.8,559.9 479.2,554.2 478.2,552.3 472.8,551.0ZM481.5,563.4 475.8,559.9 479.2,554.2 486.8,555.3 486.9,560.8ZM495.5,553.0 492.6,565.1 489.4,563.7 486.9,560.8 486.8,555.3 489.9,552.3 495.1,552.4ZM497.6,549.5 507.0,551.1 508.3,554.9 505.7,560.1 502.0,560.1 495.5,553.0 495.1,552.4 497.2,549.8ZM508.3,554.9 516.9,554.3 516.1,561.0 507.8,563.0 505.7,560.1ZM519.9,552.0 522.1,552.6 524.1,555.0 525.0,557.5 519.2,565.1 516.1,561.0 516.9,554.3ZM393.5,563.6 388.9,568.4 385.6,568.2 383.3,562.5 389.8,554.9 394.4,562.1ZM403.0,569.6 397.7,561.7 394.4,562.1 393.5,563.6 400.3,571.8 401.8,571.1ZM408.4,567.2 408.6,566.8 407.9,564.3 404.8,559.2 399.8,559.9 397.7,561.7 403.0,569.6ZM415.6,565.6 419.4,561.0 414.5,555.3 407.9,564.3 408.6,566.8ZM415.6,565.6 419.4,561.0 425.3,560.7 427.3,570.0 427.1,570.6 420.6,572.1 418.3,571.0ZM426.4,560.0 434.9,561.4 435.6,562.3 433.6,568.3 427.3,570.0 425.3,560.7 425.7,560.3ZM441.2,564.9 440.6,568.1 436.7,570.0 433.6,568.3 435.6,562.3ZM452.9,567.2 452.0,571.8 448.9,572.9 442.9,563.8 444.8,562.1 451.4,564.4ZM453.2,559.5 451.4,564.4 452.9,567.2 462.2,564.8 462.0,563.2 459.9,558.3ZM468.7,555.9 473.1,561.0 470.3,567.6 468.8,568.2 465.0,566.9 462.2,564.8 462.0,563.2ZM480.8,571.6 479.0,572.4 470.3,567.6 473.1,561.0 475.8,559.9 481.5,563.4ZM482.3,571.6 489.4,563.7 486.9,560.8 481.5,563.4 480.8,571.6ZM502.0,560.1 495.4,567.1 494.8,567.1 492.6,565.1 495.5,553.0ZM502.0,560.1 495.4,567.1 499.6,571.8 508.2,564.9 507.8,563.0 505.7,560.1ZM508.2,564.9 510.2,568.0 512.6,568.5 519.3,566.2 519.2,565.1 516.1,561.0 507.8,563.0ZM522.8,569.6 519.3,566.2 519.2,565.1 525.0,557.5 529.2,561.4 525.5,569.3ZM388.9,568.4 394.2,574.7 386.1,579.9 382.3,571.3 385.6,568.2ZM400.3,571.8 395.9,575.3 394.2,574.7 388.9,568.4 393.5,563.6ZM408.4,567.2 403.0,569.6 401.8,571.1 405.7,576.9 411.0,573.8ZM408.4,567.2 408.6,566.8 415.6,565.6 418.3,571.0 413.1,575.7 411.0,573.8ZM418.3,571.0 420.6,572.1 419.6,580.4 414.2,580.5 413.1,575.7ZM436.0,574.5 432.6,575.4 427.6,571.9 427.1,570.6 427.3,570.0 433.6,568.3 436.7,570.0ZM442.9,578.2 436.0,574.5 436.7,570.0 440.6,568.1 444.9,574.8ZM448.9,572.9 442.9,563.8 441.2,564.9 440.6,568.1 444.9,574.8ZM458.7,573.9 455.1,575.0 452.0,571.8 452.9,567.2 462.2,564.8 465.0,566.9ZM467.8,572.5 468.8,568.2 465.0,566.9 458.7,573.9 465.6,576.5ZM467.8,572.5 468.8,568.2 470.3,567.6 479.0,572.4 477.8,578.7 471.1,576.4ZM494.8,567.1 488.5,574.3 482.3,571.6 489.4,563.7 492.6,565.1ZM497.3,578.8 500.8,575.3 499.6,571.8 495.4,567.1 494.8,567.1 488.5,574.3 489.1,576.1 495.6,579.8ZM505.5,576.6 507.6,574.2 510.2,568.0 508.2,564.9 499.6,571.8 500.8,575.3ZM512.6,568.5 515.6,574.8 515.6,574.9 507.6,574.2 510.2,568.0ZM522.8,569.6 519.3,566.2 512.6,568.5 515.6,574.8 520.2,574.5ZM390.7,586.1 385.4,582.6 386.1,579.9 394.2,574.7 395.9,575.3 398.8,585.0ZM405.7,576.9 405.3,584.0 399.6,585.5 398.8,585.0 395.9,575.3 400.3,571.8 401.8,571.1ZM411.0,573.8 413.1,575.7 414.2,580.5 414.0,580.7 407.0,584.2 405.3,584.0 405.7,576.9ZM427.6,571.9 427.1,570.6 420.6,572.1 419.6,580.4 424.1,582.6ZM432.6,575.4 432.2,583.8 425.7,584.9 424.1,582.6 427.6,571.9ZM442.9,578.2 436.0,574.5 432.6,575.4 432.2,583.8 436.1,585.1 442.9,578.4ZM455.1,575.0 456.1,580.7 451.1,583.7 447.5,583.2 442.9,578.4 442.9,578.2 444.9,574.8 448.9,572.9 452.0,571.8ZM465.6,576.5 458.7,573.9 455.1,575.0 456.1,580.7 460.9,583.6 465.1,582.2ZM467.8,572.5 465.6,576.5 465.1,582.2 469.0,583.8 471.1,576.4ZM471.1,576.4 477.8,578.7 477.8,579.5 470.1,584.5 469.0,583.8ZM482.3,571.6 488.5,574.3 489.1,576.1 485.4,582.0 482.0,583.3 477.8,579.5 477.8,578.7 479.0,572.4 480.8,571.6ZM495.6,579.8 489.1,576.1 485.4,582.0 492.0,585.6 494.2,585.2ZM497.3,578.8 500.8,575.3 505.5,576.6 508.7,581.9 503.6,586.2ZM508.7,581.9 505.5,576.6 507.6,574.2 515.6,574.9 511.6,583.0ZM514.3,585.5 522.2,580.5 520.2,574.5 515.6,574.8 515.6,574.9 511.6,583.0ZM388.9,590.7 383.1,592.0 380.7,584.4 385.4,582.6 390.7,586.1ZM390.8,595.6 399.3,593.0 399.6,592.3 399.6,585.5 398.8,585.0 390.7,586.1 388.9,590.7ZM399.6,592.3 408.9,595.1 410.9,590.6 407.0,584.2 405.3,584.0 399.6,585.5ZM410.9,590.6 407.0,584.2 414.0,580.7 417.0,590.8ZM422.1,591.3 420.1,592.5 417.0,590.8 414.0,580.7 414.2,580.5 419.6,580.4 424.1,582.6 425.7,584.9 424.4,588.6ZM424.4,588.6 425.7,584.9 432.2,583.8 436.1,585.1 438.0,590.0 433.9,595.6 433.8,595.6ZM447.5,583.2 444.6,589.5 441.6,591.1 438.0,590.0 436.1,585.1 442.9,578.4ZM447.5,583.2 444.6,589.5 452.1,592.3 452.6,591.4 451.1,583.7ZM451.1,583.7 452.6,591.4 459.9,588.9 460.9,583.6 456.1,580.7ZM469.0,583.8 470.1,584.5 471.5,589.8 467.9,593.2 461.2,591.2 459.9,588.9 460.9,583.6 465.1,582.2ZM471.5,589.8 470.1,584.5 477.8,579.5 482.0,583.3 481.9,587.8 476.5,592.0ZM492.0,585.6 485.4,582.0 482.0,583.3 481.9,587.8 486.7,590.9ZM494.2,585.2 492.0,585.6 486.7,590.9 488.4,595.5 489.7,596.5 490.5,596.4 495.1,586.4ZM497.3,578.8 503.6,586.2 501.0,590.5 495.1,586.4 494.2,585.2 495.6,579.8ZM501.0,590.5 501.3,591.6 510.7,593.0 515.1,591.1 514.3,585.5 511.6,583.0 508.7,581.9 503.6,586.2ZM515.1,591.1 515.8,591.7 526.1,590.2 527.5,587.5 527.2,583.2 526.0,581.8 522.2,580.5 514.3,585.5ZM390.8,595.6 388.9,599.4 382.2,597.9 382.7,593.0 383.1,592.0 388.9,590.7ZM390.8,595.6 388.9,599.4 389.8,601.0 398.4,600.5 400.0,599.2 399.3,593.0ZM399.3,593.0 400.0,599.2 406.5,603.2 409.5,597.1 408.9,595.1 399.6,592.3ZM410.9,590.6 408.9,595.1 409.5,597.1 418.4,598.2 420.1,592.5 417.0,590.8ZM422.1,591.3 420.1,592.5 418.4,598.2 419.1,600.9 425.8,602.3 427.7,597.7ZM422.1,591.3 427.7,597.7 433.8,595.6 424.4,588.6ZM433.9,595.6 438.0,590.0 441.6,591.1 445.1,598.7 444.2,600.5 435.0,598.8ZM450.8,596.5 445.1,598.7 441.6,591.1 444.6,589.5 452.1,592.3 452.0,595.2ZM452.0,595.2 452.1,592.3 452.6,591.4 459.9,588.9 461.2,591.2 459.1,598.1ZM467.5,596.4 467.9,593.2 461.2,591.2 459.1,598.1 460.7,600.8ZM471.2,600.6 478.2,598.6 476.5,592.0 471.5,589.8 467.9,593.2 467.5,596.4ZM478.2,598.6 478.2,598.6 488.4,595.5 486.7,590.9 481.9,587.8 476.5,592.0ZM495.1,586.4 490.5,596.4 498.8,597.7 501.3,591.6 501.0,590.5ZM510.7,593.0 507.5,601.4 499.0,598.3 498.8,597.7 501.3,591.6ZM510.7,593.0 507.5,601.4 508.7,603.1 513.8,602.0 516.2,592.9 515.8,591.7 515.1,591.1ZM516.2,592.9 524.3,602.6 528.9,596.9 526.1,590.2 515.8,591.7ZM398.4,600.5 397.4,604.8 389.8,608.1 389.8,601.0ZM400.0,599.2 406.5,603.2 408.3,608.5 407.7,609.3 400.2,608.3 397.4,604.8 398.4,600.5ZM415.3,607.2 408.3,608.5 406.5,603.2 409.5,597.1 418.4,598.2 419.1,600.9 417.7,603.6ZM425.8,602.3 419.1,600.9 417.7,603.6 426.8,609.0 427.6,604.1ZM427.7,597.7 425.8,602.3 427.6,604.1 433.6,603.0 435.0,598.8 433.9,595.6 433.8,595.6ZM442.1,608.2 444.6,605.6 444.2,600.5 435.0,598.8 433.6,603.0 436.3,607.3ZM450.8,596.5 445.1,598.7 444.2,600.5 444.6,605.6 451.2,607.1 453.6,604.6ZM460.7,600.8 459.1,598.1 452.0,595.2 450.8,596.5 453.6,604.6 460.6,602.8ZM471.2,600.6 468.9,606.1 463.4,606.7 460.6,602.8 460.7,600.8 467.5,596.4ZM471.2,600.6 478.2,598.6 478.2,598.6 479.5,602.4 479.0,603.5 471.6,608.2 468.9,606.1ZM479.5,602.4 478.2,598.6 488.4,595.5 489.7,596.5 487.8,605.3ZM498.8,597.7 490.5,596.4 489.7,596.5 487.8,605.3 488.0,605.7 496.9,608.8 499.0,598.3ZM507.5,601.4 508.7,603.1 508.3,605.4 497.1,609.2 496.9,608.8 499.0,598.3ZM509.6,608.8 518.5,610.5 521.4,606.8 513.8,602.0 508.7,603.1 508.3,605.4ZM513.8,602.0 521.4,606.8 522.6,606.2 524.0,604.3 524.3,602.6 516.2,592.9ZM394.5,611.7 400.2,608.3 397.4,604.8 389.8,608.1 389.5,608.9 390.5,610.7ZM399.8,617.3 407.5,610.6 407.7,609.3 400.2,608.3 394.5,611.7ZM416.2,620.3 415.0,620.3 409.4,614.9 407.5,610.6 407.7,609.3 408.3,608.5 415.3,607.2 419.0,611.1ZM419.0,611.1 415.3,607.2 417.7,603.6 426.8,609.0 426.7,611.8 425.4,612.5ZM436.3,607.3 433.6,603.0 427.6,604.1 426.8,609.0 426.7,611.8 431.3,613.2ZM442.5,612.4 434.9,618.9 434.7,618.8 431.3,613.2 436.3,607.3 442.1,608.2ZM442.5,612.4 447.0,616.9 452.5,617.4 453.3,617.3 454.1,614.6 451.2,607.1 444.6,605.6 442.1,608.2ZM460.6,602.8 453.6,604.6 451.2,607.1 454.1,614.6 462.3,609.9 463.4,606.7ZM468.9,606.1 471.6,608.2 474.3,614.1 465.9,616.1 462.3,609.9 463.4,606.7ZM479.0,603.5 471.6,608.2 474.3,614.1 476.5,615.4 477.6,615.8 480.2,613.8ZM479.0,603.5 480.2,613.8 483.8,612.8 488.0,605.7 487.8,605.3 479.5,602.4ZM488.0,605.7 496.9,608.8 497.1,609.2 497.4,611.4 493.5,616.2 489.7,616.4 483.8,612.8ZM506.0,616.2 509.6,608.8 508.3,605.4 497.1,609.2 497.4,611.4 505.7,616.3ZM506.0,616.2 515.7,618.6 517.3,618.0 517.6,617.6 518.5,610.5 509.6,608.8ZM517.6,617.6 528.0,617.6 530.9,617.1 522.6,606.2 521.4,606.8 518.5,610.5ZM397.2,623.0 388.6,618.6 390.5,610.7 394.5,611.7 399.8,617.3 399.1,620.8ZM399.1,620.8 405.9,622.1 409.4,614.9 407.5,610.6 399.8,617.3ZM409.1,625.6 405.9,622.1 409.4,614.9 415.0,620.3ZM416.7,620.7 423.1,621.3 425.4,612.5 419.0,611.1 416.2,620.3ZM431.3,613.2 426.7,611.8 425.4,612.5 423.1,621.3 426.6,625.1 434.7,618.8ZM442.5,612.4 447.0,616.9 440.8,624.0 438.6,622.6 434.9,618.9ZM440.8,624.0 443.1,629.2 444.2,629.1 452.5,617.4 447.0,616.9ZM465.9,616.1 463.6,622.2 455.6,620.3 453.3,617.3 454.1,614.6 462.3,609.9ZM474.3,614.1 476.5,615.4 467.7,622.9 467.0,623.2 464.0,622.8 463.6,622.2 465.9,616.1ZM479.1,622.5 477.6,615.8 476.5,615.4 467.7,622.9 479.1,622.6ZM480.2,613.8 477.6,615.8 479.1,622.5 485.7,623.1 489.7,616.4 483.8,612.8ZM490.0,627.1 495.6,624.1 493.5,616.2 489.7,616.4 485.7,623.1ZM505.7,616.3 503.8,622.9 498.5,625.3 495.6,624.1 493.5,616.2 497.4,611.4ZM506.0,616.2 515.7,618.6 511.8,626.4 506.6,625.3 503.8,622.9 505.7,616.3ZM517.3,618.0 521.6,625.3 528.0,617.6 517.6,617.6ZM386.5,625.0 380.8,627.5 384.9,633.6 388.1,634.7 389.9,634.5 392.3,630.4ZM397.2,623.0 397.0,627.5 392.3,630.4 386.5,625.0 388.3,618.8 388.6,618.6ZM397.2,623.0 397.0,627.5 402.6,631.7 408.6,630.6 409.1,625.6 405.9,622.1 399.1,620.8ZM410.0,631.6 408.6,630.6 409.1,625.6 415.0,620.3 416.2,620.3 416.7,620.7 417.0,630.3 411.6,632.4ZM416.7,620.7 417.0,630.3 425.3,631.8 426.7,628.3 426.6,625.1 423.1,621.3ZM434.9,618.9 438.6,622.6 432.6,628.6 426.7,628.3 426.6,625.1 434.7,618.8ZM438.6,622.6 432.6,628.6 439.0,631.8 442.0,631.1 443.1,629.2 440.8,624.0ZM455.6,620.3 452.8,630.2 444.2,629.1 452.5,617.4 453.3,617.3ZM453.6,631.1 452.8,630.2 455.6,620.3 463.6,622.2 464.0,622.8 463.1,631.0 461.7,631.5ZM467.4,634.0 474.0,631.1 474.5,629.6 467.0,623.2 464.0,622.8 463.1,631.0ZM479.1,622.6 467.7,622.9 467.0,623.2 474.5,629.6 478.1,625.8ZM479.1,622.5 485.7,623.1 490.0,627.1 489.8,627.7 484.9,632.2 478.1,625.8 479.1,622.6ZM489.8,627.7 494.3,635.7 496.2,637.0 499.2,630.2 498.5,625.3 495.6,624.1 490.0,627.1ZM505.5,632.1 499.2,630.2 498.5,625.3 503.8,622.9 506.6,625.3ZM505.5,632.1 506.6,625.3 511.8,626.4 514.2,631.0 513.9,632.6 507.2,634.7ZM514.2,631.0 522.1,626.7 521.6,625.3 517.3,618.0 515.7,618.6 511.8,626.4ZM401.3,636.6 394.8,639.9 393.5,640.0 389.9,634.5 392.3,630.4 397.0,627.5 402.6,631.7ZM405.0,642.5 401.3,636.6 402.6,631.7 408.6,630.6 410.0,631.6ZM412.7,635.7 411.6,632.4 410.0,631.6 405.0,642.5 405.6,644.1 408.9,645.7 410.7,645.3ZM412.7,635.7 411.6,632.4 417.0,630.3 425.3,631.8 425.9,634.7 425.1,637.9 421.3,639.5ZM425.9,634.7 425.3,631.8 426.7,628.3 432.6,628.6 439.0,631.8 434.5,635.4ZM434.5,635.4 439.0,631.8 442.0,631.1 443.3,637.2 442.5,639.3 436.4,640.9ZM452.9,638.5 443.3,637.2 442.0,631.1 443.1,629.2 444.2,629.1 452.8,630.2 453.6,631.1ZM452.9,638.5 453.6,631.1 461.7,631.5 460.0,636.8 454.1,641.1ZM461.7,631.5 463.1,631.0 467.4,634.0 467.4,638.5 464.8,641.5 460.0,636.8ZM467.4,638.5 472.0,640.7 476.8,635.1 474.0,631.1 467.4,634.0ZM478.1,625.8 474.5,629.6 474.0,631.1 476.8,635.1 482.4,638.7 484.4,635.8 484.9,632.2ZM489.8,627.7 494.3,635.7 484.4,635.8 484.9,632.2ZM505.5,632.1 499.2,630.2 496.2,637.0 496.4,637.3 502.8,639.8 506.1,636.8 507.2,634.7ZM507.2,634.7 506.1,636.8 515.8,644.0 516.2,643.9 517.3,637.8 513.9,632.6ZM514.2,631.0 522.1,626.7 523.6,627.4 524.8,635.1 517.3,637.8 513.9,632.6ZM388.1,634.7 389.9,634.5 393.5,640.0 391.1,646.5 383.7,646.3 383.4,642.6ZM401.6,645.3 397.7,649.4 392.2,647.9 391.1,646.5 393.5,640.0 394.8,639.9ZM405.0,642.5 401.3,636.6 394.8,639.9 401.6,645.3 405.6,644.1ZM412.7,635.7 410.7,645.3 415.3,646.7 421.3,639.5ZM421.3,639.5 425.1,637.9 429.5,645.6 429.3,645.9 425.0,649.8 416.0,647.6 415.3,646.7ZM425.1,637.9 429.5,645.6 433.8,644.6 436.4,640.9 434.5,635.4 425.9,634.7ZM436.4,640.9 442.5,639.3 444.8,645.8 443.0,648.6 441.3,649.2 433.8,644.6ZM452.9,638.5 443.3,637.2 442.5,639.3 444.8,645.8 454.6,644.2 454.1,641.1ZM454.1,641.1 454.6,644.2 456.1,645.8 461.6,646.6 463.1,645.1 464.8,641.5 460.0,636.8ZM475.3,645.8 472.0,640.7 467.4,638.5 464.8,641.5 463.1,645.1 475.0,646.2ZM479.3,644.5 482.4,639.1 482.4,638.7 476.8,635.1 472.0,640.7 475.3,645.8ZM484.0,650.5 479.3,644.5 482.4,639.1 491.8,644.4 492.3,647.7 491.7,648.4ZM484.4,635.8 482.4,638.7 482.4,639.1 491.8,644.4 496.4,637.3 496.2,637.0 494.3,635.7ZM492.3,647.7 496.5,648.7 504.6,645.9 502.8,639.8 496.4,637.3 491.8,644.4ZM502.8,639.8 506.1,636.8 515.8,644.0 507.6,648.3 504.6,645.9ZM528.0,636.8 524.8,635.1 517.3,637.8 516.2,643.9 519.2,646.3 523.5,646.3ZM405.6,644.1 401.6,645.3 397.7,649.4 401.5,656.5 404.7,655.4 406.0,654.5 408.9,645.7ZM429.5,645.6 429.3,645.9 433.2,653.3 437.2,656.0 441.3,649.2 433.8,644.6ZM443.0,648.6 445.5,651.6 453.4,652.6 456.1,645.8 454.6,644.2 444.8,645.8ZM475.0,646.2 463.1,645.1 461.6,646.6 464.1,651.4 465.7,654.0 469.5,654.8 473.8,650.3Z" fill="none" stroke="#9a7a80" stroke-width="0.6" opacity="0.35" filter="url(#rough)"/>
<path d="M444.2,519.4 C443.2,549.4 437.2,564.4 440.2,599.4 S450.2,629.4 454.2,642.4" stroke="#5d529e" stroke-width="1.8" fill="none" opacity="0.75" filter="url(#rough)"/>
<path d="M402.2,597.4 C414.2,601.4 429.2,599.4 440.2,595.4" stroke="#6e62a8" stroke-width="1" fill="none" opacity="0.6"/>
<path d="M407.6,605.2l0.0,0.0M439.3,588.0l-0.0,0.0M474.0,562.7l-0.0,0.2M499.1,527.4l-0.0,0.0M423.2,639.9l-0.2,0.1M456.5,614.8l0.0,0.2M462.1,635.5l0.0,0.0M449.7,606.2l-0.0,0.0M484.2,578.3l-0.2,0.0M429.7,579.9l-0.0,0.0M511.8,570.2l-0.1,0.1M458.2,558.2l0.0,0.2M430.0,634.7l0.1,0.0M428.5,532.9l-0.0,0.0M480.1,532.5l0.1,0.1M424.4,527.8l0.0,0.3M422.6,535.5l-0.0,0.0M463.7,634.2l-0.1,0.1M502.6,540.6l-0.1,0.0M456.5,545.3l0.0,0.0M407.1,635.7l-0.0,0.2M455.8,605.2l-0.0,0.2M450.4,623.4l0.0,0.0M457.2,630.1l0.0,0.1M470.3,611.6l-0.0,0.2M464.7,603.3l0.0,0.0M477.3,632.1l-0.1,0.1M443.4,557.4l-0.1,0.1M412.2,577.6l-0.2,0.1M499.4,586.5l-0.1,0.1" stroke="#34308a" stroke-width="2.5" stroke-linecap="round" opacity="0.85" fill="none"/>
<path d="M425.8,608.6l-0.5,0.7M461.2,600.5l0.3,0.1M407.8,591.3l0.8,0.3M500.2,582.2l0.3,0.2M491.0,580.6l0.2,0.1M428.6,522.8l-0.1,1.0M453.2,572.6l0.1,0.8M422.7,624.7l1.1,0.5M479.7,589.3l-0.1,0.0M428.6,633.5l0.5,0.1M456.4,622.0l-0.5,0.1M424.4,633.0l0.4,0.5M406.9,543.9l0.6,0.7M482.5,537.3l-0.4,0.8M400.5,569.2l-0.4,0.1M494.8,632.9l0.1,0.1M411.0,565.5l0.1,0.8M489.8,580.0l-0.7,0.1M425.1,602.6l-0.9,0.0M451.9,566.8l0.6,0.5M422.6,550.7l1.1,0.3M499.4,587.6l-0.1,0.1M473.4,613.7l-0.4,0.4M470.3,605.2l-0.2,0.3M439.1,636.3l0.3,0.0M456.1,527.9l-0.2,0.1M437.5,623.3l-0.6,0.4M415.9,543.8l-0.9,0.5M422.3,566.7l-0.6,0.5M448.1,613.1l-0.9,0.5M493.9,548.8l-0.1,0.8M485.9,565.5l-0.7,0.3M470.3,620.7l0.2,0.1M461.9,547.3l0.1,1.2M451.7,566.7l-0.2,0.0M438.3,628.8l0.1,0.5M512.1,614.1l0.1,0.8M396.2,527.3l0.5,0.2M416.5,636.7l-0.5,0.3M508.3,585.3l0.7,0.6M430.1,540.1l0.9,0.9M396.4,609.6l-0.8,0.3M507.7,566.7l0.4,0.4M474.7,547.6l0.3,1.2M399.1,555.4l0.6,1.0M455.5,544.7l1.1,0.3M515.4,521.3l-0.3,0.1M396.6,585.6l0.1,0.0M406.3,571.6l-0.4,0.8M407.2,559.1l-0.1,0.1M456.5,614.7l0.0,0.7M399.9,601.5l-0.4,0.3M441.1,535.6l-0.5,0.3M501.4,597.1l0.1,0.2M434.9,635.3l0.2,0.1M499.7,546.0l0.0,0.2M485.6,553.8l-0.1,0.4M473.0,631.6l-0.2,0.4M419.0,579.0l-0.6,1.0M460.7,578.0l0.2,0.1M491.1,541.3l0.3,0.9M440.9,600.6l-0.8,0.2M496.9,534.6l1.1,0.4M417.3,568.0l0.8,0.1M445.4,584.0l-0.5,0.7M401.4,640.4l0.6,0.3M511.8,618.3l0.4,0.2M469.4,606.1l-0.7,0.4M402.8,637.0l-0.8,0.1M513.9,548.1l0.7,0.3M451.5,617.3l-0.7,0.2M515.9,548.5l-0.9,0.6M406.6,634.5l0.4,0.6M426.4,574.6l0.4,0.3M477.5,630.4l0.1,1.0M493.2,528.2l1.2,0.4M453.0,640.3l0.3,0.8M413.8,628.0l0.1,0.4M447.6,585.0l-0.1,0.4M492.6,618.9l0.1,0.2M512.3,589.3l-0.0,0.3M436.1,575.2l0.1,0.0M500.4,582.3l-0.1,0.8M406.7,538.6l-0.0,0.7M454.6,638.3l-0.4,0.8M450.3,624.1l-0.4,0.6M498.8,602.4l0.4,0.2M477.3,604.0l0.0,0.7M460.0,565.8l-0.2,0.3M493.9,607.7l0.1,0.6M512.3,532.8l0.7,1.1M485.6,557.1l0.1,0.1M450.3,613.0l-1.2,0.3M409.3,533.1l-0.2,1.1M418.0,604.7l0.0,0.2M400.1,584.3l-0.4,0.6M442.3,637.3l0.3,0.1M442.9,580.8l-0.3,0.2M491.4,550.2l-0.3,0.7M437.3,572.9l0.1,0.6M487.3,607.3l0.7,0.2M499.5,626.6l0.2,0.4M400.0,601.5l-0.0,0.5M505.7,522.1l0.7,0.0M487.6,520.5l-0.4,0.0M449.8,638.3l-0.5,0.2M446.0,634.5l0.2,0.4M397.2,636.1l0.5,0.7M411.5,557.8l0.2,0.1M449.6,526.5l-0.1,0.6M482.3,604.2l0.7,0.1M474.2,597.4l0.4,0.4M407.7,582.0l0.9,0.1M493.4,616.2l-1.1,0.6M463.0,587.0l0.3,0.2M494.6,531.9l0.3,0.6M450.2,554.1l-0.3,0.4M418.8,540.0l0.5,0.4M413.6,618.7l-0.5,0.9M447.9,527.7l0.2,0.1M465.3,549.8l0.3,0.5M468.1,539.1l-0.6,0.7M424.8,539.4l-0.5,0.4M509.3,564.8l0.1,0.7M475.9,595.6l-0.3,0.2M449.7,575.5l0.2,0.4M424.4,596.6l0.4,0.1M456.3,597.5l0.3,0.3M425.6,527.3l-0.8,0.4M416.4,553.7l0.2,0.1M444.2,550.1l0.3,0.0M456.8,572.8l-0.7,0.2M492.6,628.8l-0.2,0.4M497.4,630.8l0.2,0.8M423.4,538.6l-0.3,0.4M439.1,565.9l-0.1,0.1M434.2,565.4l-0.2,0.2M466.0,602.5l-0.6,0.1M505.3,624.4l-0.6,0.7M454.3,529.5l0.3,0.0M468.6,574.3l-0.1,0.7M409.4,619.6l0.5,0.3M418.6,590.9l-0.8,0.9M488.4,574.6l0.0,0.2M415.0,622.1l-0.4,0.2M476.3,625.5l0.2,0.1" stroke="#34308a" stroke-width="1.5" stroke-linecap="round" opacity="0.85" fill="none"/>
<path d="M443.0,614.2l-0.7,0.2M438.9,571.3l0.7,0.3M512.0,570.6l-0.8,0.4M455.0,620.0l-0.4,0.9M515.7,572.3l-0.6,0.2M470.9,544.5l0.6,0.6M509.4,574.6l-0.8,0.3M485.4,566.6l-0.7,0.8M514.4,523.3l0.6,0.1M399.3,577.6l0.6,0.5M449.1,533.7l-0.5,0.5M419.0,577.7l0.4,0.9M401.3,523.6l1.0,0.5M444.8,528.2l-0.6,0.5M403.5,627.2l0.7,0.5M428.6,634.6l0.8,0.2M436.2,639.4l0.2,0.6M455.3,613.6l0.6,0.5M395.8,623.9l-0.2,0.6M408.5,566.7l0.2,0.7M475.5,547.0l0.5,0.6M483.4,616.6l0.5,0.9M455.7,524.2l0.7,0.5M491.6,617.2l0.6,0.1M414.1,609.5l-0.5,0.4M439.8,602.9l-0.4,0.8M397.3,605.0l-0.6,0.5M474.2,576.3l0.8,0.2M487.4,635.5l0.6,0.2M417.0,592.9l0.7,0.0M415.6,563.3l-0.7,0.2M400.9,611.8l0.7,0.2M427.3,578.3l0.8,0.4M457.5,527.6l-0.6,0.7M455.3,623.5l-0.8,0.3M403.7,555.0l0.5,0.4" stroke="#34308a" stroke-width="1.0" stroke-linecap="round" opacity="0.85" fill="none"/>
<path d="M437.7,551.4l0.5,0.3M435.4,530.0l0.0,0.0M514.4,573.0l-0.2,0.3M405.9,578.0l0.1,0.4M445.7,562.0l0.2,0.2M431.1,542.7l0.2,0.3M441.6,524.1l-0.0,0.0M412.3,544.0l0.0,0.0M425.0,593.0l-0.5,0.5M460.7,613.8l-0.0,0.0M448.7,586.0l0.0,0.0M406.4,625.1l-0.1,0.0M442.7,574.0l0.0,0.0M411.5,636.0l-0.6,0.1M457.9,621.3l0.1,0.0M447.8,589.7l-0.3,0.5M441.1,593.0l0.1,0.1M410.8,623.9l-0.0,0.0M413.4,583.0l-0.2,0.4M432.0,568.7l0.1,0.2M462.6,546.4l-0.6,0.4M493.3,519.9l-0.0,0.6M507.4,581.0l0.6,0.3M471.8,523.0l0.2,0.7M429.7,559.1l0.2,0.0M436.1,549.5l0.1,0.7M479.8,554.7l-0.2,0.1M481.0,575.0l0.0,0.0M506.3,622.4l0.3,0.2M435.5,589.0l-0.5,0.3M487.7,559.0l-0.0,0.0M460.8,519.9l-0.0,0.0M485.8,639.6l0.2,0.5M460.0,565.6l-0.6,0.2M481.5,596.1l-0.3,0.1M515.3,587.6l-0.7,0.2M410.4,587.8l0.4,0.4M452.6,531.3l0.2,0.0M413.3,552.5l0.3,0.2M458.8,553.6l0.1,0.0M443.6,523.5l-0.3,0.1M507.6,550.2l-0.4,0.4M451.6,610.1l0.0,0.1M509.0,522.4l-0.4,0.2M423.3,604.6l0.2,0.2M452.3,559.2l-0.4,0.6M453.8,631.0l0.3,0.4M423.4,562.6l0.2,0.1M461.5,521.7l0.1,0.6M514.8,578.5l0.7,0.2M404.1,593.4l-0.5,0.4M396.0,582.8l0.5,0.2M456.5,566.6l-0.2,0.2M433.2,542.0l-0.0,0.0M422.7,582.4l0.2,0.5M413.7,575.7l0.4,0.5M403.5,553.7l0.0,0.0M470.0,541.7l-0.6,0.1M426.9,538.2l0.4,0.4M448.1,541.1l0.1,0.1M438.1,624.7l-0.1,0.8M512.1,612.1l0.0,0.0M483.7,586.7l0.4,0.7M401.1,595.6l0.1,0.6M511.8,621.4l-0.4,0.0M451.9,594.7l0.1,0.6M474.4,606.4l0.3,0.3M418.1,579.3l-0.0,0.0M425.8,540.1l0.0,0.0M494.2,640.8l0.0,0.0M490.4,573.6l0.3,0.1M506.7,580.7l-0.1,0.6M418.1,567.8l-0.3,0.3M400.5,549.2l-0.2,0.4M409.6,607.9l0.1,0.0M491.8,559.2l-0.0,0.1M426.7,546.2l-0.0,0.0M492.0,530.6l-0.2,0.2M457.0,605.1l0.5,0.1M440.6,533.2l0.3,0.3M413.0,521.6l-0.0,0.1M474.0,575.2l-0.1,0.2M446.4,587.3l-0.1,0.1M492.4,571.9l-0.0,0.0M461.5,596.8l-0.2,0.1M476.4,532.2l-0.5,0.2M422.0,617.8l-0.8,0.1M423.6,545.6l-0.1,0.0" stroke="#34308a" stroke-width="2.0" stroke-linecap="round" opacity="0.85" fill="none"/>
</g>
<rect x="20.40" y="26.50" width="120.30" height="125.80" fill="none" stroke="#2a2a2a" stroke-width="1.1"/>
<rect x="143.20" y="26.50" width="120.60" height="125.80" fill="none" stroke="#2a2a2a" stroke-width="1.1"/>
<rect x="276.50" y="26.50" width="121.00" height="125.80" fill="none" stroke="#2a2a2a" stroke-width="1.1"/>
<rect x="400.30" y="26.50" width="119.90" height="125.80" fill="none" stroke="#2a2a2a" stroke-width="1.1"/>
<rect x="16.00" y="519.40" width="122.20" height="122.40" fill="none" stroke="#2a2a2a" stroke-width="1.1"/>
<rect x="141.00" y="519.40" width="122.80" height="122.40" fill="none" stroke="#2a2a2a" stroke-width="1.1"/>
<rect x="269.00" y="519.40" width="123.00" height="122.40" fill="none" stroke="#2a2a2a" stroke-width="1.1"/>
<rect x="394.20" y="519.40" width="121.80" height="122.40" fill="none" stroke="#2a2a2a" stroke-width="1.1"/>
<rect x="61.10" y="73.50" width="29.60" height="29.30" fill="none" stroke="#e8262b" stroke-width="1.3"/>
<line x1="90.70" y1="73.50" x2="140.70" y2="26.50" stroke="#e8262b" stroke-width="1.4" stroke-dasharray="2.8 1.7"/>
<line x1="90.70" y1="102.80" x2="140.70" y2="152.30" stroke="#e8262b" stroke-width="1.4" stroke-dasharray="2.8 1.7"/>
<rect x="320.10" y="70.50" width="30.10" height="29.70" fill="none" stroke="#e8262b" stroke-width="1.3"/>
<line x1="350.20" y1="70.50" x2="397.50" y2="26.50" stroke="#e8262b" stroke-width="1.4" stroke-dasharray="2.8 1.7"/>
<line x1="350.20" y1="100.20" x2="397.50" y2="152.30" stroke="#e8262b" stroke-width="1.4" stroke-dasharray="2.8 1.7"/>
<rect x="53.50" y="563.10" width="30.20" height="29.30" fill="none" stroke="#e8262b" stroke-width="1.3"/>
<line x1="83.70" y1="563.10" x2="138.20" y2="519.40" stroke="#e8262b" stroke-width="1.4" stroke-dasharray="2.8 1.7"/>
<line x1="83.70" y1="592.40" x2="138.20" y2="641.80" stroke="#e8262b" stroke-width="1.4" stroke-dasharray="2.8 1.7"/>
<rect x="302.00" y="551.00" width="30.50" height="29.30" fill="none" stroke="#e8262b" stroke-width="1.3"/>
<line x1="332.50" y1="551.00" x2="392.00" y2="519.40" stroke="#e8262b" stroke-width="1.4" stroke-dasharray="2.8 1.7"/>
<line x1="332.50" y1="580.30" x2="392.00" y2="641.80" stroke="#e8262b" stroke-width="1.4" stroke-dasharray="2.8 1.7"/>
<line x1="25.00" y1="149.60" x2="41.00" y2="149.60" stroke="#000" stroke-width="1.1" />
<text x="33.00" y="148.00" font-size="4.2" font-weight="bold" text-anchor="middle" fill="#222" font-family="Liberation Sans" >200μm</text>
<line x1="148.00" y1="149.60" x2="164.00" y2="149.60" stroke="#000" stroke-width="1.1" />
<text x="156.00" y="148.00" font-size="4.2" font-weight="bold" text-anchor="middle" fill="#222" font-family="Liberation Sans" >50μm</text>
<line x1="281.00" y1="149.60" x2="297.00" y2="149.60" stroke="#000" stroke-width="1.1" />
<text x="289.00" y="148.00" font-size="4.2" font-weight="bold" text-anchor="middle" fill="#222" font-family="Liberation Sans" >200μm</text>
<line x1="404.00" y1="149.60" x2="420.00" y2="149.60" stroke="#000" stroke-width="1.1" />
<text x="412.00" y="148.00" font-size="4.2" font-weight="bold" text-anchor="middle" fill="#222" font-family="Liberation Sans" >50μm</text>
<line x1="21.00" y1="638.50" x2="37.00" y2="638.50" stroke="#000" stroke-width="1.1" />
<text x="29.00" y="636.90" font-size="4.2" font-weight="bold" text-anchor="middle" fill="#222" font-family="Liberation Sans" >200μm</text>
<line x1="145.00" y1="638.50" x2="161.00" y2="638.50" stroke="#000" stroke-width="1.1" />
<text x="153.00" y="636.90" font-size="4.2" font-weight="bold" text-anchor="middle" fill="#222" font-family="Liberation Sans" >50μm</text>
<line x1="273.00" y1="638.50" x2="289.00" y2="638.50" stroke="#000" stroke-width="1.1" />
<text x="281.00" y="636.90" font-size="4.2" font-weight="bold" text-anchor="middle" fill="#222" font-family="Liberation Sans" >200μm</text>
<line x1="398.00" y1="638.50" x2="414.00" y2="638.50" stroke="#000" stroke-width="1.1" />
<text x="406.00" y="636.90" font-size="4.2" font-weight="bold" text-anchor="middle" fill="#222" font-family="Liberation Sans" >50μm</text>
<line x1="555.40" y1="35.10" x2="555.40" y2="137.30" stroke="#111" stroke-width="1.1" />
<line x1="554.90" y1="136.80" x2="674.00" y2="136.80" stroke="#111" stroke-width="1.1" />
<line x1="551.40" y1="136.80" x2="555.40" y2="136.80" stroke="#111" stroke-width="1.1" />
<text x="552.10" y="139.70" font-size="8.2" font-weight="bold" text-anchor="end" fill="#111" font-family="Liberation Sans" >0</text>
<line x1="551.40" y1="116.46" x2="555.40" y2="116.46" stroke="#111" stroke-width="1.1" />
<text x="552.10" y="119.36" font-size="8.2" font-weight="bold" text-anchor="end" fill="#111" font-family="Liberation Sans" >3</text>
<line x1="551.40" y1="96.12" x2="555.40" y2="96.12" stroke="#111" stroke-width="1.1" />
<text x="552.10" y="99.02" font-size="8.2" font-weight="bold" text-anchor="end" fill="#111" font-family="Liberation Sans" >6</text>
<line x1="551.40" y1="75.78" x2="555.40" y2="75.78" stroke="#111" stroke-width="1.1" />
<text x="552.10" y="78.68" font-size="8.2" font-weight="bold" text-anchor="end" fill="#111" font-family="Liberation Sans" >9</text>
<line x1="551.40" y1="55.44" x2="555.40" y2="55.44" stroke="#111" stroke-width="1.1" />
<text x="552.10" y="58.34" font-size="8.2" font-weight="bold" text-anchor="end" fill="#111" font-family="Liberation Sans" >12</text>
<line x1="551.40" y1="35.10" x2="555.40" y2="35.10" stroke="#111" stroke-width="1.1" />
<text x="552.10" y="38.00" font-size="8.2" font-weight="bold" text-anchor="end" fill="#111" font-family="Liberation Sans" >15</text>
<line x1="584.50" y1="136.80" x2="584.50" y2="139.80" stroke="#111" stroke-width="1.1" />
<line x1="644.10" y1="136.80" x2="644.10" y2="139.80" stroke="#111" stroke-width="1.1" />
<text x="584.70" y="148.30" font-size="7.1" font-weight="bold" text-anchor="middle" fill="#111" font-family="Liberation Sans" >Normal</text>
<text x="644.30" y="148.30" font-size="7.1" font-weight="bold" text-anchor="middle" fill="#111" font-family="Liberation Sans" >Cancer</text>
<text transform="translate(538.6,86) rotate(-90)" font-size="8.4" font-weight="bold" text-anchor="middle" fill="#111" font-family="Liberation Sans">MAGI3 H-Score</text>
<path d="M584.5,47.5 V42.5 H644.3 V47.5" fill="none" stroke="#000" stroke-width="1.2"/>
<text x="614.00" y="41.60" font-size="8.6" font-weight="bold" text-anchor="middle" fill="#222" font-family="Liberation Sans" >***</text>
<g fill="#24399a"><circle cx="570.20" cy="55.50" r="1.6"/><circle cx="571.81" cy="55.50" r="1.6"/><circle cx="573.42" cy="55.50" r="1.6"/><circle cx="575.03" cy="55.50" r="1.6"/><circle cx="576.64" cy="55.50" r="1.6"/><circle cx="578.26" cy="55.50" r="1.6"/><circle cx="579.87" cy="55.50" r="1.6"/><circle cx="581.48" cy="55.50" r="1.6"/><circle cx="583.09" cy="55.50" r="1.6"/><circle cx="584.70" cy="55.50" r="1.6"/><circle cx="586.31" cy="55.50" r="1.6"/><circle cx="587.92" cy="55.50" r="1.6"/><circle cx="589.53" cy="55.50" r="1.6"/><circle cx="591.14" cy="55.50" r="1.6"/><circle cx="592.76" cy="55.50" r="1.6"/><circle cx="594.37" cy="55.50" r="1.6"/><circle cx="595.98" cy="55.50" r="1.6"/><circle cx="597.59" cy="55.50" r="1.6"/><circle cx="599.20" cy="55.50" r="1.6"/></g>
<g fill="#24399a"><circle cx="566.20" cy="82.60" r="1.6"/><circle cx="567.81" cy="82.60" r="1.6"/><circle cx="569.42" cy="82.60" r="1.6"/><circle cx="571.03" cy="82.60" r="1.6"/><circle cx="572.63" cy="82.60" r="1.6"/><circle cx="574.24" cy="82.60" r="1.6"/><circle cx="575.85" cy="82.60" r="1.6"/><circle cx="577.46" cy="82.60" r="1.6"/><circle cx="579.07" cy="82.60" r="1.6"/><circle cx="580.68" cy="82.60" r="1.6"/><circle cx="582.29" cy="82.60" r="1.6"/><circle cx="583.90" cy="82.60" r="1.6"/><circle cx="585.50" cy="82.60" r="1.6"/><circle cx="587.11" cy="82.60" r="1.6"/><circle cx="588.72" cy="82.60" r="1.6"/><circle cx="590.33" cy="82.60" r="1.6"/><circle cx="591.94" cy="82.60" r="1.6"/><circle cx="593.55" cy="82.60" r="1.6"/><circle cx="595.16" cy="82.60" r="1.6"/><circle cx="596.77" cy="82.60" r="1.6"/><circle cx="598.37" cy="82.60" r="1.6"/><circle cx="599.98" cy="82.60" r="1.6"/><circle cx="601.59" cy="82.60" r="1.6"/><circle cx="603.20" cy="82.60" r="1.6"/></g>
<g fill="#24399a"><circle cx="584.50" cy="96.20" r="1.6"/></g>
<g fill="#24399a"><circle cx="575.20" cy="109.60" r="1.6"/><circle cx="576.81" cy="109.60" r="1.6"/><circle cx="578.42" cy="109.60" r="1.6"/><circle cx="580.03" cy="109.60" r="1.6"/><circle cx="581.63" cy="109.60" r="1.6"/><circle cx="583.24" cy="109.60" r="1.6"/><circle cx="584.85" cy="109.60" r="1.6"/><circle cx="586.46" cy="109.60" r="1.6"/><circle cx="588.07" cy="109.60" r="1.6"/><circle cx="589.67" cy="109.60" r="1.6"/><circle cx="591.28" cy="109.60" r="1.6"/><circle cx="592.89" cy="109.60" r="1.6"/><circle cx="594.50" cy="109.60" r="1.6"/></g>
<g fill="#24399a"><circle cx="584.50" cy="123.30" r="1.6"/></g>
<g fill="#24399a"><circle cx="584.50" cy="130.10" r="1.6"/></g>
<line x1="575.00" y1="78.90" x2="594.30" y2="78.90" stroke="#555" stroke-width="1.1" />
<line x1="575.00" y1="85.40" x2="594.30" y2="85.40" stroke="#555" stroke-width="1.1" />
<line x1="584.50" y1="78.90" x2="584.50" y2="85.40" stroke="#222" stroke-width="1.1" />
<line x1="568.00" y1="82.60" x2="602.00" y2="82.60" stroke="#111" stroke-width="1.3" />
<g fill="#e8262b"><rect x="638.65" y="74.45" width="3.3" height="3.3"/><rect x="640.27" y="74.45" width="3.3" height="3.3"/><rect x="641.89" y="74.45" width="3.3" height="3.3"/><rect x="643.51" y="74.45" width="3.3" height="3.3"/><rect x="645.13" y="74.45" width="3.3" height="3.3"/><rect x="646.75" y="74.45" width="3.3" height="3.3"/></g>
<g fill="#e8262b"><rect x="642.45" y="81.05" width="3.3" height="3.3"/></g>
<g fill="#e8262b"><rect x="635.55" y="94.55" width="3.3" height="3.3"/><rect x="637.33" y="94.55" width="3.3" height="3.3"/><rect x="639.10" y="94.55" width="3.3" height="3.3"/><rect x="640.88" y="94.55" width="3.3" height="3.3"/><rect x="642.65" y="94.55" width="3.3" height="3.3"/><rect x="644.43" y="94.55" width="3.3" height="3.3"/><rect x="646.20" y="94.55" width="3.3" height="3.3"/><rect x="647.98" y="94.55" width="3.3" height="3.3"/><rect x="649.75" y="94.55" width="3.3" height="3.3"/></g>
<g fill="#e8262b"><rect x="634.15" y="107.95" width="3.3" height="3.3"/><rect x="636.02" y="107.95" width="3.3" height="3.3"/><rect x="637.88" y="107.95" width="3.3" height="3.3"/><rect x="639.75" y="107.95" width="3.3" height="3.3"/><rect x="641.62" y="107.95" width="3.3" height="3.3"/><rect x="643.48" y="107.95" width="3.3" height="3.3"/><rect x="645.35" y="107.95" width="3.3" height="3.3"/><rect x="647.22" y="107.95" width="3.3" height="3.3"/><rect x="649.08" y="107.95" width="3.3" height="3.3"/><rect x="650.95" y="107.95" width="3.3" height="3.3"/></g>
<g fill="#e8262b"><rect x="624.35" y="121.65" width="3.3" height="3.3"/><rect x="626.16" y="121.65" width="3.3" height="3.3"/><rect x="627.97" y="121.65" width="3.3" height="3.3"/><rect x="629.78" y="121.65" width="3.3" height="3.3"/><rect x="631.59" y="121.65" width="3.3" height="3.3"/><rect x="633.40" y="121.65" width="3.3" height="3.3"/><rect x="635.21" y="121.65" width="3.3" height="3.3"/><rect x="637.02" y="121.65" width="3.3" height="3.3"/><rect x="638.83" y="121.65" width="3.3" height="3.3"/><rect x="640.64" y="121.65" width="3.3" height="3.3"/><rect x="642.45" y="121.65" width="3.3" height="3.3"/><rect x="644.26" y="121.65" width="3.3" height="3.3"/><rect x="646.07" y="121.65" width="3.3" height="3.3"/><rect x="647.88" y="121.65" width="3.3" height="3.3"/><rect x="649.69" y="121.65" width="3.3" height="3.3"/><rect x="651.50" y="121.65" width="3.3" height="3.3"/><rect x="653.31" y="121.65" width="3.3" height="3.3"/><rect x="655.12" y="121.65" width="3.3" height="3.3"/><rect x="656.93" y="121.65" width="3.3" height="3.3"/><rect x="658.74" y="121.65" width="3.3" height="3.3"/><rect x="660.55" y="121.65" width="3.3" height="3.3"/></g>
<g fill="#e8262b"><rect x="639.75" y="128.45" width="3.3" height="3.3"/><rect x="641.55" y="128.45" width="3.3" height="3.3"/><rect x="643.35" y="128.45" width="3.3" height="3.3"/><rect x="645.15" y="128.45" width="3.3" height="3.3"/></g>
<g fill="#e8262b"><rect x="640.95" y="134.65" width="3.3" height="3.3"/><rect x="642.45" y="134.65" width="3.3" height="3.3"/><rect x="643.95" y="134.65" width="3.3" height="3.3"/></g>
<line x1="626.80" y1="111.70" x2="663.80" y2="111.70" stroke="#222" stroke-width="1.2" />
<line x1="634.00" y1="108.60" x2="654.00" y2="108.60" stroke="#333" stroke-width="1.1" />
<line x1="634.00" y1="114.40" x2="654.00" y2="114.40" stroke="#333" stroke-width="1.1" />
<line x1="644.10" y1="108.60" x2="644.10" y2="114.40" stroke="#222" stroke-width="1.1" />
<line x1="49.60" y1="184.20" x2="49.60" y2="294.30" stroke="#111" stroke-width="1.1" />
<line x1="49.10" y1="293.80" x2="151.30" y2="293.80" stroke="#111" stroke-width="1.1" />
<line x1="45.60" y1="293.80" x2="49.60" y2="293.80" stroke="#111" stroke-width="1.1" />
<text x="45.00" y="296.60" font-size="7.8" font-weight="bold" text-anchor="end" fill="#111" font-family="Liberation Sans" >0</text>
<line x1="45.60" y1="266.40" x2="49.60" y2="266.40" stroke="#111" stroke-width="1.1" />
<text x="45.00" y="269.20" font-size="7.8" font-weight="bold" text-anchor="end" fill="#111" font-family="Liberation Sans" >500</text>
<line x1="45.60" y1="239.00" x2="49.60" y2="239.00" stroke="#111" stroke-width="1.1" />
<text x="45.00" y="241.80" font-size="7.8" font-weight="bold" text-anchor="end" fill="#111" font-family="Liberation Sans" >1000</text>
<line x1="45.60" y1="211.60" x2="49.60" y2="211.60" stroke="#111" stroke-width="1.1" />
<text x="45.00" y="214.40" font-size="7.8" font-weight="bold" text-anchor="end" fill="#111" font-family="Liberation Sans" >1500</text>
<line x1="45.60" y1="184.20" x2="49.60" y2="184.20" stroke="#111" stroke-width="1.1" />
<text x="45.00" y="187.00" font-size="7.8" font-weight="bold" text-anchor="end" fill="#111" font-family="Liberation Sans" >2000</text>
<line x1="78.30" y1="293.80" x2="78.30" y2="297.80" stroke="#111" stroke-width="1.1" />
<text x="78.30" y="307.40" font-size="8" font-weight="bold" text-anchor="middle" fill="#111" font-family="Liberation Sans" >Normal</text>
<line x1="122.40" y1="293.80" x2="122.40" y2="297.80" stroke="#111" stroke-width="1.1" />
<text x="122.40" y="307.40" font-size="8" font-weight="bold" text-anchor="middle" fill="#111" font-family="Liberation Sans" >Cancer</text>
<text x="77.60" y="319.40" font-size="9" font-weight="normal" text-anchor="middle" fill="#222" font-family="Liberation Sans" >n=72</text>
<text x="120.70" y="319.40" font-size="9" font-weight="normal" text-anchor="middle" fill="#222" font-family="Liberation Sans" >n=72</text>
<text transform="translate(21.60,239.00) rotate(-90)" font-size="8.3" font-weight="bold" text-anchor="middle" fill="#111" font-family="Liberation Sans">MAGI3 mRNA expression</text>
<g stroke="#000" stroke-width="0.8"><line x1="78.3" y1="207.38" x2="122.4" y2="265.76"/><line x1="78.3" y1="213.74" x2="122.4" y2="282.17"/><line x1="78.3" y1="225.30" x2="122.4" y2="291.38"/><line x1="78.3" y1="225.52" x2="122.4" y2="282.43"/><line x1="78.3" y1="231.88" x2="122.4" y2="280.80"/><line x1="78.3" y1="233.52" x2="122.4" y2="286.47"/><line x1="78.3" y1="235.60" x2="122.4" y2="288.65"/><line x1="78.3" y1="236.53" x2="122.4" y2="291.90"/><line x1="78.3" y1="253.34" x2="122.4" y2="276.89"/><line x1="78.3" y1="253.57" x2="122.4" y2="288.21"/><line x1="78.3" y1="253.07" x2="122.4" y2="288.74"/><line x1="78.3" y1="246.38" x2="122.4" y2="263.11"/><line x1="78.3" y1="253.20" x2="122.4" y2="290.57"/><line x1="78.3" y1="264.46" x2="122.4" y2="290.19"/><line x1="78.3" y1="249.42" x2="122.4" y2="288.12"/><line x1="78.3" y1="254.35" x2="122.4" y2="275.63"/><line x1="78.3" y1="253.94" x2="122.4" y2="272.41"/><line x1="78.3" y1="251.20" x2="122.4" y2="271.39"/><line x1="78.3" y1="250.24" x2="122.4" y2="286.52"/><line x1="78.3" y1="242.59" x2="122.4" y2="288.94"/><line x1="78.3" y1="246.75" x2="122.4" y2="289.65"/><line x1="78.3" y1="251.24" x2="122.4" y2="273.76"/><line x1="78.3" y1="258.22" x2="122.4" y2="278.41"/><line x1="78.3" y1="260.49" x2="122.4" y2="289.21"/><line x1="78.3" y1="250.13" x2="122.4" y2="267.68"/><line x1="78.3" y1="241.37" x2="122.4" y2="267.68"/><line x1="78.3" y1="251.81" x2="122.4" y2="280.25"/><line x1="78.3" y1="253.03" x2="122.4" y2="279.14"/><line x1="78.3" y1="247.78" x2="122.4" y2="289.91"/><line x1="78.3" y1="264.10" x2="122.4" y2="289.36"/><line x1="78.3" y1="254.72" x2="122.4" y2="289.35"/><line x1="78.3" y1="248.12" x2="122.4" y2="279.45"/><line x1="78.3" y1="244.97" x2="122.4" y2="277.52"/><line x1="78.3" y1="254.13" x2="122.4" y2="274.84"/><line x1="78.3" y1="249.06" x2="122.4" y2="289.57"/><line x1="78.3" y1="250.11" x2="122.4" y2="289.78"/><line x1="78.3" y1="245.72" x2="122.4" y2="287.37"/><line x1="78.3" y1="261.30" x2="122.4" y2="285.08"/><line x1="78.3" y1="247.48" x2="122.4" y2="260.10"/><line x1="78.3" y1="264.60" x2="122.4" y2="282.30"/><line x1="78.3" y1="257.14" x2="122.4" y2="284.21"/><line x1="78.3" y1="259.68" x2="122.4" y2="279.92"/><line x1="78.3" y1="244.95" x2="122.4" y2="260.92"/><line x1="78.3" y1="246.69" x2="122.4" y2="289.86"/><line x1="78.3" y1="262.17" x2="122.4" y2="291.43"/><line x1="78.3" y1="245.19" x2="122.4" y2="288.12"/><line x1="78.3" y1="260.39" x2="122.4" y2="286.43"/><line x1="78.3" y1="252.86" x2="122.4" y2="278.46"/><line x1="78.3" y1="254.57" x2="122.4" y2="285.37"/><line x1="78.3" y1="251.21" x2="122.4" y2="275.98"/><line x1="78.3" y1="245.42" x2="122.4" y2="279.69"/><line x1="78.3" y1="246.90" x2="122.4" y2="281.49"/><line x1="78.3" y1="249.28" x2="122.4" y2="287.73"/><line x1="78.3" y1="246.81" x2="122.4" y2="275.17"/><line x1="78.3" y1="248.22" x2="122.4" y2="285.50"/><line x1="78.3" y1="257.31" x2="122.4" y2="285.39"/><line x1="78.3" y1="258.05" x2="122.4" y2="263.12"/><line x1="78.3" y1="256.02" x2="122.4" y2="287.89"/><line x1="78.3" y1="248.05" x2="122.4" y2="291.42"/><line x1="78.3" y1="254.21" x2="122.4" y2="282.95"/><line x1="78.3" y1="258.89" x2="122.4" y2="288.90"/><line x1="78.3" y1="261.18" x2="122.4" y2="276.51"/><line x1="78.3" y1="245.84" x2="122.4" y2="288.36"/><line x1="78.3" y1="240.46" x2="122.4" y2="292.36"/><line x1="78.3" y1="248.00" x2="122.4" y2="282.97"/><line x1="78.3" y1="245.28" x2="122.4" y2="289.59"/><line x1="78.3" y1="240.43" x2="122.4" y2="290.67"/><line x1="78.3" y1="252.92" x2="122.4" y2="279.32"/><line x1="78.3" y1="263.85" x2="122.4" y2="282.44"/><line x1="78.3" y1="256.53" x2="122.4" y2="279.52"/><line x1="78.3" y1="273.58" x2="122.4" y2="283.94"/><line x1="78.3" y1="284.48" x2="122.4" y2="227.33"/></g>
<g fill="#24399a"><circle cx="78.3" cy="207.38" r="1.6"/><circle cx="78.3" cy="213.74" r="1.6"/><circle cx="78.3" cy="225.30" r="1.6"/><circle cx="78.3" cy="225.52" r="1.6"/><circle cx="78.3" cy="231.88" r="1.6"/><circle cx="78.3" cy="233.52" r="1.6"/><circle cx="78.3" cy="235.60" r="1.6"/><circle cx="78.3" cy="236.53" r="1.6"/><circle cx="78.3" cy="253.34" r="1.6"/><circle cx="78.3" cy="253.57" r="1.6"/><circle cx="78.3" cy="253.07" r="1.6"/><circle cx="78.3" cy="246.38" r="1.6"/><circle cx="78.3" cy="253.20" r="1.6"/><circle cx="78.3" cy="264.46" r="1.6"/><circle cx="78.3" cy="249.42" r="1.6"/><circle cx="78.3" cy="254.35" r="1.6"/><circle cx="78.3" cy="253.94" r="1.6"/><circle cx="78.3" cy="251.20" r="1.6"/><circle cx="78.3" cy="250.24" r="1.6"/><circle cx="78.3" cy="242.59" r="1.6"/><circle cx="78.3" cy="246.75" r="1.6"/><circle cx="78.3" cy="251.24" r="1.6"/><circle cx="78.3" cy="258.22" r="1.6"/><circle cx="78.3" cy="260.49" r="1.6"/><circle cx="78.3" cy="250.13" r="1.6"/><circle cx="78.3" cy="241.37" r="1.6"/><circle cx="78.3" cy="251.81" r="1.6"/><circle cx="78.3" cy="253.03" r="1.6"/><circle cx="78.3" cy="247.78" r="1.6"/><circle cx="78.3" cy="264.10" r="1.6"/><circle cx="78.3" cy="254.72" r="1.6"/><circle cx="78.3" cy="248.12" r="1.6"/><circle cx="78.3" cy="244.97" r="1.6"/><circle cx="78.3" cy="254.13" r="1.6"/><circle cx="78.3" cy="249.06" r="1.6"/><circle cx="78.3" cy="250.11" r="1.6"/><circle cx="78.3" cy="245.72" r="1.6"/><circle cx="78.3" cy="261.30" r="1.6"/><circle cx="78.3" cy="247.48" r="1.6"/><circle cx="78.3" cy="264.60" r="1.6"/><circle cx="78.3" cy="257.14" r="1.6"/><circle cx="78.3" cy="259.68" r="1.6"/><circle cx="78.3" cy="244.95" r="1.6"/><circle cx="78.3" cy="246.69" r="1.6"/><circle cx="78.3" cy="262.17" r="1.6"/><circle cx="78.3" cy="245.19" r="1.6"/><circle cx="78.3" cy="260.39" r="1.6"/><circle cx="78.3" cy="252.86" r="1.6"/><circle cx="78.3" cy="254.57" r="1.6"/><circle cx="78.3" cy="251.21" r="1.6"/><circle cx="78.3" cy="245.42" r="1.6"/><circle cx="78.3" cy="246.90" r="1.6"/><circle cx="78.3" cy="249.28" r="1.6"/><circle cx="78.3" cy="246.81" r="1.6"/><circle cx="78.3" cy="248.22" r="1.6"/><circle cx="78.3" cy="257.31" r="1.6"/><circle cx="78.3" cy="258.05" r="1.6"/><circle cx="78.3" cy="256.02" r="1.6"/><circle cx="78.3" cy="248.05" r="1.6"/><circle cx="78.3" cy="254.21" r="1.6"/><circle cx="78.3" cy="258.89" r="1.6"/><circle cx="78.3" cy="261.18" r="1.6"/><circle cx="78.3" cy="245.84" r="1.6"/><circle cx="78.3" cy="240.46" r="1.6"/><circle cx="78.3" cy="248.00" r="1.6"/><circle cx="78.3" cy="245.28" r="1.6"/><circle cx="78.3" cy="240.43" r="1.6"/><circle cx="78.3" cy="252.92" r="1.6"/><circle cx="78.3" cy="263.85" r="1.6"/><circle cx="78.3" cy="256.53" r="1.6"/><circle cx="78.3" cy="273.58" r="1.6"/><circle cx="78.3" cy="284.48" r="1.6"/></g>
<g fill="#e8262b"><rect x="120.80000000000001" y="258.50" width="3.2" height="35.46"/><rect x="120.80000000000001" y="264.16" width="3.2" height="3.2"/><rect x="120.80000000000001" y="280.57" width="3.2" height="3.2"/><rect x="120.80000000000001" y="289.78" width="3.2" height="3.2"/><rect x="120.80000000000001" y="280.83" width="3.2" height="3.2"/><rect x="120.80000000000001" y="279.20" width="3.2" height="3.2"/><rect x="120.80000000000001" y="284.87" width="3.2" height="3.2"/><rect x="120.80000000000001" y="287.05" width="3.2" height="3.2"/><rect x="120.80000000000001" y="290.30" width="3.2" height="3.2"/><rect x="120.80000000000001" y="275.29" width="3.2" height="3.2"/><rect x="120.80000000000001" y="286.61" width="3.2" height="3.2"/><rect x="120.80000000000001" y="287.14" width="3.2" height="3.2"/><rect x="120.80000000000001" y="261.51" width="3.2" height="3.2"/><rect x="120.80000000000001" y="288.97" width="3.2" height="3.2"/><rect x="120.80000000000001" y="288.59" width="3.2" height="3.2"/><rect x="120.80000000000001" y="286.52" width="3.2" height="3.2"/><rect x="120.80000000000001" y="274.03" width="3.2" height="3.2"/><rect x="120.80000000000001" y="270.81" width="3.2" height="3.2"/><rect x="120.80000000000001" y="269.79" width="3.2" height="3.2"/><rect x="120.80000000000001" y="284.92" width="3.2" height="3.2"/><rect x="120.80000000000001" y="287.34" width="3.2" height="3.2"/><rect x="120.80000000000001" y="288.05" width="3.2" height="3.2"/><rect x="120.80000000000001" y="272.16" width="3.2" height="3.2"/><rect x="120.80000000000001" y="276.81" width="3.2" height="3.2"/><rect x="120.80000000000001" y="287.61" width="3.2" height="3.2"/><rect x="120.80000000000001" y="266.08" width="3.2" height="3.2"/><rect x="120.80000000000001" y="266.08" width="3.2" height="3.2"/><rect x="120.80000000000001" y="278.65" width="3.2" height="3.2"/><rect x="120.80000000000001" y="277.54" width="3.2" height="3.2"/><rect x="120.80000000000001" y="288.31" width="3.2" height="3.2"/><rect x="120.80000000000001" y="287.76" width="3.2" height="3.2"/><rect x="120.80000000000001" y="287.75" width="3.2" height="3.2"/><rect x="120.80000000000001" y="277.85" width="3.2" height="3.2"/><rect x="120.80000000000001" y="275.92" width="3.2" height="3.2"/><rect x="120.80000000000001" y="273.24" width="3.2" height="3.2"/><rect x="120.80000000000001" y="287.97" width="3.2" height="3.2"/><rect x="120.80000000000001" y="288.18" width="3.2" height="3.2"/><rect x="120.80000000000001" y="285.77" width="3.2" height="3.2"/><rect x="120.80000000000001" y="283.48" width="3.2" height="3.2"/><rect x="120.80000000000001" y="258.50" width="3.2" height="3.2"/><rect x="120.80000000000001" y="280.70" width="3.2" height="3.2"/><rect x="120.80000000000001" y="282.61" width="3.2" height="3.2"/><rect x="120.80000000000001" y="278.32" width="3.2" height="3.2"/><rect x="120.80000000000001" y="259.32" width="3.2" height="3.2"/><rect x="120.80000000000001" y="288.26" width="3.2" height="3.2"/><rect x="120.80000000000001" y="289.83" width="3.2" height="3.2"/><rect x="120.80000000000001" y="286.52" width="3.2" height="3.2"/><rect x="120.80000000000001" y="284.83" width="3.2" height="3.2"/><rect x="120.80000000000001" y="276.86" width="3.2" height="3.2"/><rect x="120.80000000000001" y="283.77" width="3.2" height="3.2"/><rect x="120.80000000000001" y="274.38" width="3.2" height="3.2"/><rect x="120.80000000000001" y="278.09" width="3.2" height="3.2"/><rect x="120.80000000000001" y="279.89" width="3.2" height="3.2"/><rect x="120.80000000000001" y="286.13" width="3.2" height="3.2"/><rect x="120.80000000000001" y="273.57" width="3.2" height="3.2"/><rect x="120.80000000000001" y="283.90" width="3.2" height="3.2"/><rect x="120.80000000000001" y="283.79" width="3.2" height="3.2"/><rect x="120.80000000000001" y="261.52" width="3.2" height="3.2"/><rect x="120.80000000000001" y="286.29" width="3.2" height="3.2"/><rect x="120.80000000000001" y="289.82" width="3.2" height="3.2"/><rect x="120.80000000000001" y="281.35" width="3.2" height="3.2"/><rect x="120.80000000000001" y="287.30" width="3.2" height="3.2"/><rect x="120.80000000000001" y="274.91" width="3.2" height="3.2"/><rect x="120.80000000000001" y="286.76" width="3.2" height="3.2"/><rect x="120.80000000000001" y="290.76" width="3.2" height="3.2"/><rect x="120.80000000000001" y="281.37" width="3.2" height="3.2"/><rect x="120.80000000000001" y="287.99" width="3.2" height="3.2"/><rect x="120.80000000000001" y="289.07" width="3.2" height="3.2"/><rect x="120.80000000000001" y="277.72" width="3.2" height="3.2"/><rect x="120.80000000000001" y="280.84" width="3.2" height="3.2"/><rect x="120.80000000000001" y="277.92" width="3.2" height="3.2"/><rect x="120.80000000000001" y="282.34" width="3.2" height="3.2"/><rect x="120.80000000000001" y="225.73" width="3.2" height="3.2"/></g>
<path d="M78.3,199.9 V194.6 H122.6 V199.9" fill="none" stroke="#000" stroke-width="1.3"/>
<text x="102.00" y="194.10" font-size="8.8" font-weight="bold" text-anchor="middle" fill="#222" font-family="Liberation Sans" >****</text>
<line x1="47.10" y1="340.50" x2="47.10" y2="454.80" stroke="#111" stroke-width="1.1" />
<line x1="46.60" y1="454.30" x2="152.70" y2="454.30" stroke="#111" stroke-width="1.1" />
<line x1="43.10" y1="454.30" x2="47.10" y2="454.30" stroke="#111" stroke-width="1.1" />
<text x="42.50" y="457.10" font-size="7.8" font-weight="bold" text-anchor="end" fill="#111" font-family="Liberation Sans" >0</text>
<line x1="43.10" y1="425.90" x2="47.10" y2="425.90" stroke="#111" stroke-width="1.1" />
<text x="42.50" y="428.70" font-size="7.8" font-weight="bold" text-anchor="end" fill="#111" font-family="Liberation Sans" >500</text>
<line x1="43.10" y1="397.50" x2="47.10" y2="397.50" stroke="#111" stroke-width="1.1" />
<text x="42.50" y="400.30" font-size="7.8" font-weight="bold" text-anchor="end" fill="#111" font-family="Liberation Sans" >1000</text>
<line x1="43.10" y1="369.10" x2="47.10" y2="369.10" stroke="#111" stroke-width="1.1" />
<text x="42.50" y="371.90" font-size="7.8" font-weight="bold" text-anchor="end" fill="#111" font-family="Liberation Sans" >1500</text>
<line x1="43.10" y1="340.70" x2="47.10" y2="340.70" stroke="#111" stroke-width="1.1" />
<text x="42.50" y="343.50" font-size="7.8" font-weight="bold" text-anchor="end" fill="#111" font-family="Liberation Sans" >2000</text>
<line x1="77.80" y1="454.30" x2="77.80" y2="458.30" stroke="#111" stroke-width="1.1" />
<text x="77.80" y="468.40" font-size="8" font-weight="bold" text-anchor="middle" fill="#111" font-family="Liberation Sans" >Normal</text>
<line x1="122.90" y1="454.30" x2="122.90" y2="458.30" stroke="#111" stroke-width="1.1" />
<text x="122.90" y="468.40" font-size="8" font-weight="bold" text-anchor="middle" fill="#111" font-family="Liberation Sans" >Stage I</text>
<text x="77.80" y="480.60" font-size="9" font-weight="normal" text-anchor="middle" fill="#222" font-family="Liberation Sans" >n=72</text>
<text x="122.90" y="480.60" font-size="9" font-weight="normal" text-anchor="middle" fill="#222" font-family="Liberation Sans" >n=249</text>
<text transform="translate(18.60,397.40) rotate(-90)" font-size="8.3" font-weight="bold" text-anchor="middle" fill="#111" font-family="Liberation Sans">MAGI3 mRNA expression</text>
<g fill="#24399a"><circle cx="77.80" cy="444.64" r="1.55"/><circle cx="77.80" cy="433.28" r="1.55"/><circle cx="77.80" cy="425.82" r="1.55"/><circle cx="81.40" cy="425.65" r="1.55"/><circle cx="74.20" cy="424.05" r="1.55"/><circle cx="79.60" cy="423.23" r="1.55"/><circle cx="83.19" cy="423.11" r="1.55"/><circle cx="70.61" cy="423.03" r="1.55"/><circle cx="86.79" cy="422.82" r="1.55"/><circle cx="67.01" cy="422.62" r="1.55"/><circle cx="90.39" cy="422.45" r="1.55"/><circle cx="76.00" cy="421.62" r="1.55"/><circle cx="81.40" cy="421.13" r="1.55"/><circle cx="72.41" cy="420.13" r="1.55"/><circle cx="77.80" cy="419.53" r="1.55"/><circle cx="81.40" cy="417.88" r="1.55"/><circle cx="77.80" cy="416.55" r="1.55"/><circle cx="74.20" cy="415.61" r="1.55"/><circle cx="83.19" cy="415.42" r="1.55"/><circle cx="70.61" cy="414.68" r="1.55"/><circle cx="77.80" cy="413.85" r="1.55"/><circle cx="81.40" cy="412.84" r="1.55"/><circle cx="74.20" cy="412.62" r="1.55"/><circle cx="77.80" cy="410.37" r="1.55"/><circle cx="81.40" cy="408.53" r="1.55"/><circle cx="77.80" cy="407.37" r="1.55"/><circle cx="74.20" cy="407.15" r="1.55"/><circle cx="83.19" cy="406.52" r="1.55"/><circle cx="70.61" cy="406.25" r="1.55"/><circle cx="86.79" cy="405.79" r="1.55"/><circle cx="67.01" cy="405.74" r="1.55"/><circle cx="79.60" cy="405.17" r="1.55"/><circle cx="76.00" cy="404.92" r="1.55"/><circle cx="90.39" cy="404.50" r="1.55"/><circle cx="72.41" cy="404.22" r="1.55"/><circle cx="63.42" cy="403.97" r="1.55"/><circle cx="83.19" cy="403.72" r="1.55"/><circle cx="86.79" cy="403.13" r="1.55"/><circle cx="77.80" cy="402.68" r="1.55"/><circle cx="68.81" cy="402.48" r="1.55"/><circle cx="74.20" cy="402.07" r="1.55"/><circle cx="90.39" cy="401.90" r="1.55"/><circle cx="81.40" cy="401.62" r="1.55"/><circle cx="65.21" cy="401.57" r="1.55"/><circle cx="84.99" cy="400.41" r="1.55"/><circle cx="70.61" cy="400.31" r="1.55"/><circle cx="76.00" cy="400.11" r="1.55"/><circle cx="79.60" cy="399.44" r="1.55"/><circle cx="88.59" cy="399.42" r="1.55"/><circle cx="77.80" cy="396.26" r="1.55"/><circle cx="81.40" cy="395.99" r="1.55"/><circle cx="74.20" cy="395.91" r="1.55"/><circle cx="84.99" cy="395.78" r="1.55"/><circle cx="70.61" cy="395.76" r="1.55"/><circle cx="88.59" cy="395.17" r="1.55"/><circle cx="77.80" cy="393.48" r="1.55"/><circle cx="81.40" cy="393.34" r="1.55"/><circle cx="74.20" cy="392.95" r="1.55"/><circle cx="84.99" cy="392.73" r="1.55"/><circle cx="70.61" cy="392.66" r="1.55"/><circle cx="88.59" cy="392.30" r="1.55"/><circle cx="67.01" cy="391.82" r="1.55"/><circle cx="92.18" cy="391.79" r="1.55"/><circle cx="63.42" cy="391.63" r="1.55"/><circle cx="79.60" cy="391.25" r="1.55"/><circle cx="77.80" cy="383.58" r="1.55"/><circle cx="81.40" cy="383.30" r="1.55"/><circle cx="74.20" cy="383.02" r="1.55"/><circle cx="77.80" cy="371.09" r="1.55"/><circle cx="81.40" cy="370.92" r="1.55"/><circle cx="74.20" cy="370.80" r="1.55"/><circle cx="77.80" cy="364.73" r="1.55"/></g>
<line x1="65.30" y1="405.10" x2="90.50" y2="405.10" stroke="#111" stroke-width="1.1" />
<polygon points="120.4,421.2 125.0,421.2 126.6,424.6 127.3,428.5 128.9,431.6 133.9,434.0 134.7,440.0 136.2,443.1 137.7,446.2 137.7,450.3 132.4,450.8 130.8,453.9 129.0,454.6 116.0,454.6 115.4,453.9 113.9,450.8 107.7,450.3 107.7,446.2 109.2,443.1 110.8,440.0 111.9,434.0 116.2,431.6 118.5,428.5 119.3,424.6" fill="#e8262b"/>
<rect x="121.20" y="365.53" width="3.4" height="3.4" fill="#e8262b"/>
<rect x="121.20" y="377.74" width="3.4" height="3.4" fill="#e8262b"/>
<rect x="121.20" y="383.82" width="3.4" height="3.4" fill="#e8262b"/>
<rect x="121.20" y="389.55" width="3.4" height="3.4" fill="#e8262b"/>
<rect x="121.20" y="399.32" width="3.4" height="3.4" fill="#e8262b"/>
<rect x="121.20" y="401.42" width="3.4" height="3.4" fill="#e8262b"/>
<rect x="121.20" y="411.70" width="3.4" height="3.4" fill="#e8262b"/>
<rect x="121.20" y="419.09" width="3.4" height="3.4" fill="#e8262b"/>
<line x1="105.50" y1="440.40" x2="137.70" y2="440.40" stroke="#111" stroke-width="1.1" />
<path d="M77.8,354.8 V349.6 H122.9 V354.8" fill="none" stroke="#000" stroke-width="1.3"/>
<text x="100.80" y="348.80" font-size="8.8" font-weight="bold" text-anchor="middle" fill="#222" font-family="Liberation Sans" >****</text>
<line x1="190.50" y1="204.10" x2="190.50" y2="296.49" stroke="#111" stroke-width="1.1" />
<line x1="190.50" y1="293.29" x2="317.00" y2="293.29" stroke="#111" stroke-width="1.1" />
<line x1="187.20" y1="293.29" x2="190.50" y2="293.29" stroke="#111" stroke-width="1.1" />
<text x="185.90" y="295.59" font-size="6.6" font-weight="bold" text-anchor="end" fill="#111" font-family="Liberation Sans" >20</text>
<line x1="188.90" y1="288.84" x2="190.50" y2="288.84" stroke="#111" stroke-width="1.0" />
<line x1="188.90" y1="284.40" x2="190.50" y2="284.40" stroke="#111" stroke-width="1.0" />
<line x1="188.90" y1="279.95" x2="190.50" y2="279.95" stroke="#111" stroke-width="1.0" />
<line x1="188.90" y1="275.51" x2="190.50" y2="275.51" stroke="#111" stroke-width="1.0" />
<line x1="187.20" y1="271.07" x2="190.50" y2="271.07" stroke="#111" stroke-width="1.1" />
<text x="185.90" y="273.37" font-size="6.6" font-weight="bold" text-anchor="end" fill="#111" font-family="Liberation Sans" >40</text>
<line x1="188.90" y1="266.62" x2="190.50" y2="266.62" stroke="#111" stroke-width="1.0" />
<line x1="188.90" y1="262.18" x2="190.50" y2="262.18" stroke="#111" stroke-width="1.0" />
<line x1="188.90" y1="257.73" x2="190.50" y2="257.73" stroke="#111" stroke-width="1.0" />
<line x1="188.90" y1="253.29" x2="190.50" y2="253.29" stroke="#111" stroke-width="1.0" />
<line x1="187.20" y1="248.84" x2="190.50" y2="248.84" stroke="#111" stroke-width="1.1" />
<text x="185.90" y="251.14" font-size="6.6" font-weight="bold" text-anchor="end" fill="#111" font-family="Liberation Sans" >60</text>
<line x1="188.90" y1="244.40" x2="190.50" y2="244.40" stroke="#111" stroke-width="1.0" />
<line x1="188.90" y1="239.96" x2="190.50" y2="239.96" stroke="#111" stroke-width="1.0" />
<line x1="188.90" y1="235.51" x2="190.50" y2="235.51" stroke="#111" stroke-width="1.0" />
<line x1="188.90" y1="231.07" x2="190.50" y2="231.07" stroke="#111" stroke-width="1.0" />
<line x1="187.20" y1="226.62" x2="190.50" y2="226.62" stroke="#111" stroke-width="1.1" />
<text x="185.90" y="228.92" font-size="6.6" font-weight="bold" text-anchor="end" fill="#111" font-family="Liberation Sans" >80</text>
<line x1="188.90" y1="222.18" x2="190.50" y2="222.18" stroke="#111" stroke-width="1.0" />
<line x1="188.90" y1="217.73" x2="190.50" y2="217.73" stroke="#111" stroke-width="1.0" />
<line x1="188.90" y1="213.29" x2="190.50" y2="213.29" stroke="#111" stroke-width="1.0" />
<line x1="188.90" y1="208.84" x2="190.50" y2="208.84" stroke="#111" stroke-width="1.0" />
<line x1="187.20" y1="204.40" x2="190.50" y2="204.40" stroke="#111" stroke-width="1.1" />
<text x="185.90" y="206.70" font-size="6.6" font-weight="bold" text-anchor="end" fill="#111" font-family="Liberation Sans" >100</text>
<line x1="190.50" y1="293.29" x2="190.50" y2="296.49" stroke="#111" stroke-width="1.1" />
<text x="190.50" y="304.59" font-size="6.6" font-weight="bold" text-anchor="middle" fill="#111" font-family="Liberation Sans" >0</text>
<line x1="194.70" y1="293.29" x2="194.70" y2="294.99" stroke="#111" stroke-width="1.0" />
<line x1="198.90" y1="293.29" x2="198.90" y2="294.99" stroke="#111" stroke-width="1.0" />
<line x1="203.10" y1="293.29" x2="203.10" y2="294.99" stroke="#111" stroke-width="1.0" />
<line x1="207.30" y1="293.29" x2="207.30" y2="294.99" stroke="#111" stroke-width="1.0" />
<line x1="211.50" y1="293.29" x2="211.50" y2="294.99" stroke="#111" stroke-width="1.0" />
<line x1="215.70" y1="293.29" x2="215.70" y2="294.99" stroke="#111" stroke-width="1.0" />
<line x1="219.90" y1="293.29" x2="219.90" y2="294.99" stroke="#111" stroke-width="1.0" />
<line x1="224.10" y1="293.29" x2="224.10" y2="294.99" stroke="#111" stroke-width="1.0" />
<line x1="228.30" y1="293.29" x2="228.30" y2="294.99" stroke="#111" stroke-width="1.0" />
<line x1="232.50" y1="293.29" x2="232.50" y2="296.49" stroke="#111" stroke-width="1.1" />
<text x="232.50" y="304.59" font-size="6.6" font-weight="bold" text-anchor="middle" fill="#111" font-family="Liberation Sans" >50</text>
<line x1="236.70" y1="293.29" x2="236.70" y2="294.99" stroke="#111" stroke-width="1.0" />
<line x1="240.90" y1="293.29" x2="240.90" y2="294.99" stroke="#111" stroke-width="1.0" />
<line x1="245.10" y1="293.29" x2="245.10" y2="294.99" stroke="#111" stroke-width="1.0" />
<line x1="249.30" y1="293.29" x2="249.30" y2="294.99" stroke="#111" stroke-width="1.0" />
<line x1="253.50" y1="293.29" x2="253.50" y2="294.99" stroke="#111" stroke-width="1.0" />
<line x1="257.70" y1="293.29" x2="257.70" y2="294.99" stroke="#111" stroke-width="1.0" />
<line x1="261.90" y1="293.29" x2="261.90" y2="294.99" stroke="#111" stroke-width="1.0" />
<line x1="266.10" y1="293.29" x2="266.10" y2="294.99" stroke="#111" stroke-width="1.0" />
<line x1="270.30" y1="293.29" x2="270.30" y2="294.99" stroke="#111" stroke-width="1.0" />
<line x1="274.50" y1="293.29" x2="274.50" y2="296.49" stroke="#111" stroke-width="1.1" />
<text x="274.50" y="304.59" font-size="6.6" font-weight="bold" text-anchor="middle" fill="#111" font-family="Liberation Sans" >100</text>
<line x1="278.70" y1="293.29" x2="278.70" y2="294.99" stroke="#111" stroke-width="1.0" />
<line x1="282.90" y1="293.29" x2="282.90" y2="294.99" stroke="#111" stroke-width="1.0" />
<line x1="287.10" y1="293.29" x2="287.10" y2="294.99" stroke="#111" stroke-width="1.0" />
<line x1="291.30" y1="293.29" x2="291.30" y2="294.99" stroke="#111" stroke-width="1.0" />
<line x1="295.50" y1="293.29" x2="295.50" y2="294.99" stroke="#111" stroke-width="1.0" />
<line x1="299.70" y1="293.29" x2="299.70" y2="294.99" stroke="#111" stroke-width="1.0" />
<line x1="303.90" y1="293.29" x2="303.90" y2="294.99" stroke="#111" stroke-width="1.0" />
<line x1="308.10" y1="293.29" x2="308.10" y2="294.99" stroke="#111" stroke-width="1.0" />
<line x1="312.30" y1="293.29" x2="312.30" y2="294.99" stroke="#111" stroke-width="1.0" />
<line x1="316.50" y1="293.29" x2="316.50" y2="296.49" stroke="#111" stroke-width="1.1" />
<text x="316.50" y="304.59" font-size="6.6" font-weight="bold" text-anchor="middle" fill="#111" font-family="Liberation Sans" >150</text>
<text x="253.90" y="315.69" font-size="7" font-weight="bold" text-anchor="middle" fill="#111" font-family="Liberation Sans" >OS (Months)</text>
<text transform="translate(170.50,249.34) rotate(-90)" font-size="7.2" font-weight="bold" text-anchor="middle" fill="#111" font-family="Liberation Sans">Percent survival</text>
<line x1="195.10" y1="190.00" x2="207.80" y2="190.00" stroke="#2b3f9e" stroke-width="1.3" />
<line x1="201.45" y1="190.00" x2="201.45" y2="186.60" stroke="#2b3f9e" stroke-width="1.1" />
<text x="212.30" y="191.70" font-size="8.8" font-weight="normal" text-anchor="start" fill="#111" font-family="Liberation Sans" >High MAGI3 (&gt;261.5, n=157)</text>
<line x1="195.10" y1="200.90" x2="207.80" y2="200.90" stroke="#e8262b" stroke-width="1.3" />
<line x1="201.45" y1="200.90" x2="201.45" y2="197.50" stroke="#e8262b" stroke-width="1.1" />
<text x="212.30" y="202.20" font-size="8.8" font-weight="normal" text-anchor="start" fill="#111" font-family="Liberation Sans" >M/L MAGI3 (&lt;261.5, n=307)</text>
<text x="201.20" y="263.10" font-size="8.8" font-weight="normal" text-anchor="start" fill="#262626" font-family="Liberation Sans" >P&lt;0.0001</text>
<text x="201.20" y="273.75" font-size="8.8" font-weight="normal" text-anchor="start" fill="#262626" font-family="Liberation Sans" >HR=2.297</text>
<text x="201.20" y="284.40" font-size="8.8" font-weight="normal" text-anchor="start" fill="#262626" font-family="Liberation Sans" >95% CI: 1.622-3.252</text>
<text x="271.60" y="222.40" font-size="8.8" fill="#222" font-family="Liberation Sans">Stage <tspan font-family="Liberation Serif" font-size="9.4">I -IV</tspan></text>
<path d="M190.37,203.54 H191.96 V205.53 H193.94 V206.46 H195.93 V207.38 H197.91 V208.31 H199.50 V208.63 H201.09 V208.94 H202.68 V209.26 H204.26 V209.58 H205.85 V209.90 H207.84 V211.55 H209.82 V213.21 H211.81 V214.86 H213.79 V215.85 H215.78 V216.85 H217.76 V217.84 H219.35 V218.43 H220.94 V219.03 H222.53 V219.63 H224.12 V220.22 H225.71 V220.82 H227.29 V221.21 H228.88 V221.61 H230.47 V222.01 H232.06 V222.40 H233.65 V222.80 H235.63 V224.29 H237.62 V225.78 H239.21 V225.98 H240.79 V226.18 H242.38 V226.38 H243.97 V226.57 H245.56 V226.77 H246.88 V228.76 H248.21 V230.74 H249.53 V232.73 H260.45 H260.78 V234.38 H261.11 V236.04 H261.44 V237.69 H263.10 V238.02 H264.75 V238.35 H266.41 V238.68 V241.27 H301.15" fill="none" stroke="#2b3f9e" stroke-width="1.55" stroke-linejoin="miter"/>
<g stroke="#2b3f9e" stroke-width="0.9"><line x1="252.43" y1="232.73" x2="252.43" y2="230.53"/><line x1="253.85" y1="232.73" x2="253.85" y2="230.53"/><line x1="258.13" y1="232.73" x2="258.13" y2="230.53"/><line x1="269.00" y1="241.27" x2="269.00" y2="239.07"/><line x1="272.83" y1="241.27" x2="272.83" y2="239.07"/><line x1="277.37" y1="241.27" x2="277.37" y2="239.07"/><line x1="279.68" y1="241.27" x2="279.68" y2="239.07"/><line x1="284.77" y1="241.27" x2="284.77" y2="239.07"/><line x1="288.15" y1="241.27" x2="288.15" y2="239.07"/><line x1="290.91" y1="241.27" x2="290.91" y2="239.07"/><line x1="295.62" y1="241.27" x2="295.62" y2="239.07"/><line x1="300.37" y1="241.27" x2="300.37" y2="239.07"/><line x1="191.36" y1="205.53" x2="191.36" y2="203.53"/><line x1="205.25" y1="209.90" x2="205.25" y2="207.90"/><line x1="207.24" y1="211.55" x2="207.24" y2="209.55"/><line x1="215.18" y1="216.85" x2="215.18" y2="214.85"/><line x1="225.11" y1="220.82" x2="225.11" y2="218.82"/><line x1="226.69" y1="221.21" x2="226.69" y2="219.21"/><line x1="237.02" y1="225.78" x2="237.02" y2="223.78"/><line x1="260.18" y1="234.38" x2="260.18" y2="232.38"/></g>
<path d="M190.37,203.54 H191.16 V205.73 H191.96 V207.91 H193.28 V209.90 H194.60 V211.88 H195.93 V213.87 H197.91 V214.86 H199.90 V215.85 H201.88 V216.85 H203.87 V218.33 H205.85 V219.82 H207.84 V221.81 H209.82 V223.79 H211.01 V225.38 H212.21 V226.97 H213.40 V228.56 H214.59 V230.15 H215.78 V231.74 H217.76 V232.40 H219.75 V233.06 H221.74 V233.72 H223.72 V235.04 H225.71 V236.37 H227.69 V237.69 H229.68 V239.02 H231.66 V240.34 H233.65 V241.66 H234.64 V243.65 H235.63 V245.63 H236.63 V247.62 H238.36 V248.11 H240.10 V248.61 H241.84 V249.11 H243.57 V249.60 H245.56 V250.93 H247.54 V252.25 H249.53 V253.57 H251.52 V254.90 H253.50 V256.22 H255.49 V257.54 H257.47 V258.87 H259.46 V260.19 H261.44 V261.52 H263.43 V262.51 H265.41 V263.50 H267.40 V264.49 H269.38 V267.07 H289.24 H289.73 V269.06 H290.23 V271.04 H316.04" fill="none" stroke="#e8262b" stroke-width="1.55" stroke-linejoin="miter"/>
<g stroke="#e8262b" stroke-width="0.9"><line x1="271.25" y1="267.07" x2="271.25" y2="264.87"/><line x1="275.43" y1="267.07" x2="275.43" y2="264.87"/><line x1="279.28" y1="267.07" x2="279.28" y2="264.87"/><line x1="284.55" y1="267.07" x2="284.55" y2="264.87"/><line x1="287.25" y1="267.07" x2="287.25" y2="264.87"/><line x1="293.07" y1="271.04" x2="293.07" y2="268.84"/><line x1="295.32" y1="271.04" x2="295.32" y2="268.84"/><line x1="300.59" y1="271.04" x2="300.59" y2="268.84"/><line x1="304.33" y1="271.04" x2="304.33" y2="268.84"/><line x1="306.70" y1="271.04" x2="306.70" y2="268.84"/><line x1="310.71" y1="271.04" x2="310.71" y2="268.84"/><line x1="315.46" y1="271.04" x2="315.46" y2="268.84"/><line x1="192.68" y1="209.90" x2="192.68" y2="207.90"/><line x1="194.00" y1="211.88" x2="194.00" y2="209.88"/><line x1="209.22" y1="223.79" x2="209.22" y2="221.79"/><line x1="223.12" y1="235.04" x2="223.12" y2="233.04"/><line x1="225.11" y1="236.37" x2="225.11" y2="234.37"/><line x1="237.76" y1="248.11" x2="237.76" y2="246.11"/><line x1="241.24" y1="249.11" x2="241.24" y2="247.11"/><line x1="268.78" y1="267.07" x2="268.78" y2="265.07"/></g>
<line x1="365.80" y1="204.20" x2="365.80" y2="296.59" stroke="#111" stroke-width="1.1" />
<line x1="365.80" y1="293.39" x2="492.30" y2="293.39" stroke="#111" stroke-width="1.1" />
<line x1="362.50" y1="293.39" x2="365.80" y2="293.39" stroke="#111" stroke-width="1.1" />
<text x="361.20" y="295.69" font-size="6.6" font-weight="bold" text-anchor="end" fill="#111" font-family="Liberation Sans" >20</text>
<line x1="364.20" y1="288.94" x2="365.80" y2="288.94" stroke="#111" stroke-width="1.0" />
<line x1="364.20" y1="284.50" x2="365.80" y2="284.50" stroke="#111" stroke-width="1.0" />
<line x1="364.20" y1="280.05" x2="365.80" y2="280.05" stroke="#111" stroke-width="1.0" />
<line x1="364.20" y1="275.61" x2="365.80" y2="275.61" stroke="#111" stroke-width="1.0" />
<line x1="362.50" y1="271.17" x2="365.80" y2="271.17" stroke="#111" stroke-width="1.1" />
<text x="361.20" y="273.47" font-size="6.6" font-weight="bold" text-anchor="end" fill="#111" font-family="Liberation Sans" >40</text>
<line x1="364.20" y1="266.72" x2="365.80" y2="266.72" stroke="#111" stroke-width="1.0" />
<line x1="364.20" y1="262.28" x2="365.80" y2="262.28" stroke="#111" stroke-width="1.0" />
<line x1="364.20" y1="257.83" x2="365.80" y2="257.83" stroke="#111" stroke-width="1.0" />
<line x1="364.20" y1="253.39" x2="365.80" y2="253.39" stroke="#111" stroke-width="1.0" />
<line x1="362.50" y1="248.94" x2="365.80" y2="248.94" stroke="#111" stroke-width="1.1" />
<text x="361.20" y="251.24" font-size="6.6" font-weight="bold" text-anchor="end" fill="#111" font-family="Liberation Sans" >60</text>
<line x1="364.20" y1="244.50" x2="365.80" y2="244.50" stroke="#111" stroke-width="1.0" />
<line x1="364.20" y1="240.06" x2="365.80" y2="240.06" stroke="#111" stroke-width="1.0" />
<line x1="364.20" y1="235.61" x2="365.80" y2="235.61" stroke="#111" stroke-width="1.0" />
<line x1="364.20" y1="231.17" x2="365.80" y2="231.17" stroke="#111" stroke-width="1.0" />
<line x1="362.50" y1="226.72" x2="365.80" y2="226.72" stroke="#111" stroke-width="1.1" />
<text x="361.20" y="229.02" font-size="6.6" font-weight="bold" text-anchor="end" fill="#111" font-family="Liberation Sans" >80</text>
<line x1="364.20" y1="222.28" x2="365.80" y2="222.28" stroke="#111" stroke-width="1.0" />
<line x1="364.20" y1="217.83" x2="365.80" y2="217.83" stroke="#111" stroke-width="1.0" />
<line x1="364.20" y1="213.39" x2="365.80" y2="213.39" stroke="#111" stroke-width="1.0" />
<line x1="364.20" y1="208.94" x2="365.80" y2="208.94" stroke="#111" stroke-width="1.0" />
<line x1="362.50" y1="204.50" x2="365.80" y2="204.50" stroke="#111" stroke-width="1.1" />
<text x="361.20" y="206.80" font-size="6.6" font-weight="bold" text-anchor="end" fill="#111" font-family="Liberation Sans" >100</text>
<line x1="365.80" y1="293.39" x2="365.80" y2="296.59" stroke="#111" stroke-width="1.1" />
<text x="365.80" y="304.69" font-size="6.6" font-weight="bold" text-anchor="middle" fill="#111" font-family="Liberation Sans" >0</text>
<line x1="370.00" y1="293.39" x2="370.00" y2="295.09" stroke="#111" stroke-width="1.0" />
<line x1="374.20" y1="293.39" x2="374.20" y2="295.09" stroke="#111" stroke-width="1.0" />
<line x1="378.40" y1="293.39" x2="378.40" y2="295.09" stroke="#111" stroke-width="1.0" />
<line x1="382.60" y1="293.39" x2="382.60" y2="295.09" stroke="#111" stroke-width="1.0" />
<line x1="386.80" y1="293.39" x2="386.80" y2="295.09" stroke="#111" stroke-width="1.0" />
<line x1="391.00" y1="293.39" x2="391.00" y2="295.09" stroke="#111" stroke-width="1.0" />
<line x1="395.20" y1="293.39" x2="395.20" y2="295.09" stroke="#111" stroke-width="1.0" />
<line x1="399.40" y1="293.39" x2="399.40" y2="295.09" stroke="#111" stroke-width="1.0" />
<line x1="403.60" y1="293.39" x2="403.60" y2="295.09" stroke="#111" stroke-width="1.0" />
<line x1="407.80" y1="293.39" x2="407.80" y2="296.59" stroke="#111" stroke-width="1.1" />
<text x="407.80" y="304.69" font-size="6.6" font-weight="bold" text-anchor="middle" fill="#111" font-family="Liberation Sans" >50</text>
<line x1="412.00" y1="293.39" x2="412.00" y2="295.09" stroke="#111" stroke-width="1.0" />
<line x1="416.20" y1="293.39" x2="416.20" y2="295.09" stroke="#111" stroke-width="1.0" />
<line x1="420.40" y1="293.39" x2="420.40" y2="295.09" stroke="#111" stroke-width="1.0" />
<line x1="424.60" y1="293.39" x2="424.60" y2="295.09" stroke="#111" stroke-width="1.0" />
<line x1="428.80" y1="293.39" x2="428.80" y2="295.09" stroke="#111" stroke-width="1.0" />
<line x1="433.00" y1="293.39" x2="433.00" y2="295.09" stroke="#111" stroke-width="1.0" />
<line x1="437.20" y1="293.39" x2="437.20" y2="295.09" stroke="#111" stroke-width="1.0" />
<line x1="441.40" y1="293.39" x2="441.40" y2="295.09" stroke="#111" stroke-width="1.0" />
<line x1="445.60" y1="293.39" x2="445.60" y2="295.09" stroke="#111" stroke-width="1.0" />
<line x1="449.80" y1="293.39" x2="449.80" y2="296.59" stroke="#111" stroke-width="1.1" />
<text x="449.80" y="304.69" font-size="6.6" font-weight="bold" text-anchor="middle" fill="#111" font-family="Liberation Sans" >100</text>
<line x1="454.00" y1="293.39" x2="454.00" y2="295.09" stroke="#111" stroke-width="1.0" />
<line x1="458.20" y1="293.39" x2="458.20" y2="295.09" stroke="#111" stroke-width="1.0" />
<line x1="462.40" y1="293.39" x2="462.40" y2="295.09" stroke="#111" stroke-width="1.0" />
<line x1="466.60" y1="293.39" x2="466.60" y2="295.09" stroke="#111" stroke-width="1.0" />
<line x1="470.80" y1="293.39" x2="470.80" y2="295.09" stroke="#111" stroke-width="1.0" />
<line x1="475.00" y1="293.39" x2="475.00" y2="295.09" stroke="#111" stroke-width="1.0" />
<line x1="479.20" y1="293.39" x2="479.20" y2="295.09" stroke="#111" stroke-width="1.0" />
<line x1="483.40" y1="293.39" x2="483.40" y2="295.09" stroke="#111" stroke-width="1.0" />
<line x1="487.60" y1="293.39" x2="487.60" y2="295.09" stroke="#111" stroke-width="1.0" />
<line x1="491.80" y1="293.39" x2="491.80" y2="296.59" stroke="#111" stroke-width="1.1" />
<text x="491.80" y="304.69" font-size="6.6" font-weight="bold" text-anchor="middle" fill="#111" font-family="Liberation Sans" >150</text>
<text x="429.20" y="315.79" font-size="7" font-weight="bold" text-anchor="middle" fill="#111" font-family="Liberation Sans" >PFS(Months)</text>
<text transform="translate(345.80,249.44) rotate(-90)" font-size="7.2" font-weight="bold" text-anchor="middle" fill="#111" font-family="Liberation Sans">Percent survival</text>
<line x1="368.60" y1="190.10" x2="381.40" y2="190.10" stroke="#2b3f9e" stroke-width="1.3" />
<line x1="375.00" y1="190.10" x2="375.00" y2="186.70" stroke="#2b3f9e" stroke-width="1.1" />
<text x="385.40" y="191.80" font-size="8.8" font-weight="normal" text-anchor="start" fill="#111" font-family="Liberation Sans" >High MAGI3 (&gt;261.5, n=157)</text>
<line x1="368.60" y1="200.70" x2="381.40" y2="200.70" stroke="#e8262b" stroke-width="1.3" />
<line x1="375.00" y1="200.70" x2="375.00" y2="197.30" stroke="#e8262b" stroke-width="1.1" />
<text x="385.40" y="202.00" font-size="8.8" font-weight="normal" text-anchor="start" fill="#111" font-family="Liberation Sans" >M/L MAGI3 (&lt;261.5, n=307)</text>
<text x="379.30" y="263.10" font-size="8.8" font-weight="normal" text-anchor="start" fill="#262626" font-family="Liberation Sans" >P&lt;0.001</text>
<text x="379.30" y="273.75" font-size="8.8" font-weight="normal" text-anchor="start" fill="#262626" font-family="Liberation Sans" >HR=2.293</text>
<text x="379.30" y="284.40" font-size="8.8" font-weight="normal" text-anchor="start" fill="#262626" font-family="Liberation Sans" >95% CI: 1.563-3.363</text>
<text x="447.80" y="222.40" font-size="8.8" fill="#222" font-family="Liberation Sans">Stage <tspan font-family="Liberation Serif" font-size="9.4">I -IV</tspan></text>
<path d="M365.97,203.54 H366.96 V205.73 H367.96 V207.91 H370.93 V210.89 H372.59 V211.88 H374.24 V212.88 H375.90 V213.87 H377.88 V214.86 H379.87 V215.85 H381.85 V216.85 H383.44 V217.44 H385.03 V218.04 H386.62 V218.63 H388.21 V219.23 H389.79 V219.82 H391.38 V220.22 H392.97 V220.62 H394.56 V221.01 H396.15 V221.41 H397.74 V221.81 H399.47 V222.06 H401.21 V222.31 H402.95 V222.55 H404.68 V222.80 H405.18 V224.79 H405.68 V226.77 H420.57 H420.90 V228.29 H421.23 V229.82 H421.56 V231.34 H455.31 H455.56 V233.08 H455.81 V234.81 H456.05 V236.55 H456.30 V238.29 H470.20 V258.54 H476.75" fill="none" stroke="#2b3f9e" stroke-width="1.55" stroke-linejoin="miter"/>
<g stroke="#2b3f9e" stroke-width="0.9"><line x1="407.22" y1="226.77" x2="407.22" y2="224.57"/><line x1="412.16" y1="226.77" x2="412.16" y2="224.57"/><line x1="414.82" y1="226.77" x2="414.82" y2="224.57"/><line x1="420.01" y1="226.77" x2="420.01" y2="224.57"/><line x1="424.57" y1="231.34" x2="424.57" y2="229.14"/><line x1="425.98" y1="231.34" x2="425.98" y2="229.14"/><line x1="429.84" y1="231.34" x2="429.84" y2="229.14"/><line x1="433.84" y1="231.34" x2="433.84" y2="229.14"/><line x1="439.83" y1="231.34" x2="439.83" y2="229.14"/><line x1="441.99" y1="231.34" x2="441.99" y2="229.14"/><line x1="446.31" y1="231.34" x2="446.31" y2="229.14"/><line x1="449.09" y1="231.34" x2="449.09" y2="229.14"/><line x1="453.46" y1="231.34" x2="453.46" y2="229.14"/><line x1="458.28" y1="238.29" x2="458.28" y2="236.09"/><line x1="462.80" y1="238.29" x2="462.80" y2="236.09"/><line x1="468.14" y1="238.29" x2="468.14" y2="236.09"/><line x1="473.73" y1="258.54" x2="473.73" y2="256.34"/><line x1="375.30" y1="213.87" x2="375.30" y2="211.87"/><line x1="377.28" y1="214.86" x2="377.28" y2="212.86"/><line x1="392.37" y1="220.62" x2="392.37" y2="218.62"/><line x1="402.35" y1="222.55" x2="402.35" y2="220.55"/><line x1="420.30" y1="228.29" x2="420.30" y2="226.29"/></g>
<path d="M365.97,203.54 H366.47 V205.13 H366.96 V206.72 H367.46 V208.31 H367.96 V209.90 H368.95 V211.88 H369.94 V213.87 H370.93 V215.85 H371.93 V217.51 H372.92 V219.16 H373.91 V220.82 H375.90 V222.14 H377.88 V223.46 H379.87 V224.79 H381.85 V226.11 H383.84 V227.43 H385.82 V228.76 H387.81 V229.75 H389.79 V230.74 H391.78 V231.74 H393.37 V232.33 H394.96 V232.93 H396.54 V233.52 H398.13 V234.12 H399.72 V234.71 H401.38 V235.21 H403.03 V235.71 H404.68 V236.20 H406.34 V236.70 H407.99 V237.20 H409.65 V237.69 H411.63 V239.18 H413.62 V240.67 H415.60 V241.66 H417.59 V242.65 H419.57 V243.65 H421.06 V245.63 H422.55 V247.62 H424.34 V247.82 H426.13 V248.02 H427.91 V248.21 H429.70 V248.41 H431.49 V248.61 H431.98 V250.60 H432.48 V252.58 H441.41 H441.91 V254.57 H442.41 V256.55 H442.90 V258.54 H443.40 V260.52 H479.13" fill="none" stroke="#e8262b" stroke-width="1.55" stroke-linejoin="miter"/>
<g stroke="#e8262b" stroke-width="0.9"><line x1="433.35" y1="252.58" x2="433.35" y2="250.38"/><line x1="439.56" y1="252.58" x2="439.56" y2="250.38"/><line x1="444.72" y1="260.52" x2="444.72" y2="258.32"/><line x1="449.46" y1="260.52" x2="449.46" y2="258.32"/><line x1="453.24" y1="260.52" x2="453.24" y2="258.32"/><line x1="456.82" y1="260.52" x2="456.82" y2="258.32"/><line x1="462.76" y1="260.52" x2="462.76" y2="258.32"/><line x1="464.32" y1="260.52" x2="464.32" y2="258.32"/><line x1="468.95" y1="260.52" x2="468.95" y2="258.32"/><line x1="472.29" y1="260.52" x2="472.29" y2="258.32"/><line x1="477.55" y1="260.52" x2="477.55" y2="258.32"/><line x1="366.36" y1="206.72" x2="366.36" y2="204.72"/><line x1="367.36" y1="209.90" x2="367.36" y2="207.90"/><line x1="368.35" y1="211.88" x2="368.35" y2="209.88"/><line x1="379.27" y1="224.79" x2="379.27" y2="222.79"/><line x1="381.25" y1="226.11" x2="381.25" y2="224.11"/><line x1="402.43" y1="235.71" x2="402.43" y2="233.71"/><line x1="409.05" y1="237.69" x2="409.05" y2="235.69"/><line x1="413.02" y1="240.67" x2="413.02" y2="238.67"/><line x1="441.31" y1="254.57" x2="441.31" y2="252.57"/><line x1="442.80" y1="260.52" x2="442.80" y2="258.52"/></g>
<line x1="540.50" y1="204.20" x2="540.50" y2="296.59" stroke="#111" stroke-width="1.1" />
<line x1="540.50" y1="293.39" x2="667.00" y2="293.39" stroke="#111" stroke-width="1.1" />
<line x1="537.20" y1="293.39" x2="540.50" y2="293.39" stroke="#111" stroke-width="1.1" />
<text x="535.90" y="295.69" font-size="6.6" font-weight="bold" text-anchor="end" fill="#111" font-family="Liberation Sans" >20</text>
<line x1="538.90" y1="288.94" x2="540.50" y2="288.94" stroke="#111" stroke-width="1.0" />
<line x1="538.90" y1="284.50" x2="540.50" y2="284.50" stroke="#111" stroke-width="1.0" />
<line x1="538.90" y1="280.05" x2="540.50" y2="280.05" stroke="#111" stroke-width="1.0" />
<line x1="538.90" y1="275.61" x2="540.50" y2="275.61" stroke="#111" stroke-width="1.0" />
<line x1="537.20" y1="271.17" x2="540.50" y2="271.17" stroke="#111" stroke-width="1.1" />
<text x="535.90" y="273.47" font-size="6.6" font-weight="bold" text-anchor="end" fill="#111" font-family="Liberation Sans" >40</text>
<line x1="538.90" y1="266.72" x2="540.50" y2="266.72" stroke="#111" stroke-width="1.0" />
<line x1="538.90" y1="262.28" x2="540.50" y2="262.28" stroke="#111" stroke-width="1.0" />
<line x1="538.90" y1="257.83" x2="540.50" y2="257.83" stroke="#111" stroke-width="1.0" />
<line x1="538.90" y1="253.39" x2="540.50" y2="253.39" stroke="#111" stroke-width="1.0" />
<line x1="537.20" y1="248.94" x2="540.50" y2="248.94" stroke="#111" stroke-width="1.1" />
<text x="535.90" y="251.24" font-size="6.6" font-weight="bold" text-anchor="end" fill="#111" font-family="Liberation Sans" >60</text>
<line x1="538.90" y1="244.50" x2="540.50" y2="244.50" stroke="#111" stroke-width="1.0" />
<line x1="538.90" y1="240.06" x2="540.50" y2="240.06" stroke="#111" stroke-width="1.0" />
<line x1="538.90" y1="235.61" x2="540.50" y2="235.61" stroke="#111" stroke-width="1.0" />
<line x1="538.90" y1="231.17" x2="540.50" y2="231.17" stroke="#111" stroke-width="1.0" />
<line x1="537.20" y1="226.72" x2="540.50" y2="226.72" stroke="#111" stroke-width="1.1" />
<text x="535.90" y="229.02" font-size="6.6" font-weight="bold" text-anchor="end" fill="#111" font-family="Liberation Sans" >80</text>
<line x1="538.90" y1="222.28" x2="540.50" y2="222.28" stroke="#111" stroke-width="1.0" />
<line x1="538.90" y1="217.83" x2="540.50" y2="217.83" stroke="#111" stroke-width="1.0" />
<line x1="538.90" y1="213.39" x2="540.50" y2="213.39" stroke="#111" stroke-width="1.0" />
<line x1="538.90" y1="208.94" x2="540.50" y2="208.94" stroke="#111" stroke-width="1.0" />
<line x1="537.20" y1="204.50" x2="540.50" y2="204.50" stroke="#111" stroke-width="1.1" />
<text x="535.90" y="206.80" font-size="6.6" font-weight="bold" text-anchor="end" fill="#111" font-family="Liberation Sans" >100</text>
<line x1="540.50" y1="293.39" x2="540.50" y2="296.59" stroke="#111" stroke-width="1.1" />
<text x="540.50" y="304.69" font-size="6.6" font-weight="bold" text-anchor="middle" fill="#111" font-family="Liberation Sans" >0</text>
<line x1="544.70" y1="293.39" x2="544.70" y2="295.09" stroke="#111" stroke-width="1.0" />
<line x1="548.90" y1="293.39" x2="548.90" y2="295.09" stroke="#111" stroke-width="1.0" />
<line x1="553.10" y1="293.39" x2="553.10" y2="295.09" stroke="#111" stroke-width="1.0" />
<line x1="557.30" y1="293.39" x2="557.30" y2="295.09" stroke="#111" stroke-width="1.0" />
<line x1="561.50" y1="293.39" x2="561.50" y2="295.09" stroke="#111" stroke-width="1.0" />
<line x1="565.70" y1="293.39" x2="565.70" y2="295.09" stroke="#111" stroke-width="1.0" />
<line x1="569.90" y1="293.39" x2="569.90" y2="295.09" stroke="#111" stroke-width="1.0" />
<line x1="574.10" y1="293.39" x2="574.10" y2="295.09" stroke="#111" stroke-width="1.0" />
<line x1="578.30" y1="293.39" x2="578.30" y2="295.09" stroke="#111" stroke-width="1.0" />
<line x1="582.50" y1="293.39" x2="582.50" y2="296.59" stroke="#111" stroke-width="1.1" />
<text x="582.50" y="304.69" font-size="6.6" font-weight="bold" text-anchor="middle" fill="#111" font-family="Liberation Sans" >50</text>
<line x1="586.70" y1="293.39" x2="586.70" y2="295.09" stroke="#111" stroke-width="1.0" />
<line x1="590.90" y1="293.39" x2="590.90" y2="295.09" stroke="#111" stroke-width="1.0" />
<line x1="595.10" y1="293.39" x2="595.10" y2="295.09" stroke="#111" stroke-width="1.0" />
<line x1="599.30" y1="293.39" x2="599.30" y2="295.09" stroke="#111" stroke-width="1.0" />
<line x1="603.50" y1="293.39" x2="603.50" y2="295.09" stroke="#111" stroke-width="1.0" />
<line x1="607.70" y1="293.39" x2="607.70" y2="295.09" stroke="#111" stroke-width="1.0" />
<line x1="611.90" y1="293.39" x2="611.90" y2="295.09" stroke="#111" stroke-width="1.0" />
<line x1="616.10" y1="293.39" x2="616.10" y2="295.09" stroke="#111" stroke-width="1.0" />
<line x1="620.30" y1="293.39" x2="620.30" y2="295.09" stroke="#111" stroke-width="1.0" />
<line x1="624.50" y1="293.39" x2="624.50" y2="296.59" stroke="#111" stroke-width="1.1" />
<text x="624.50" y="304.69" font-size="6.6" font-weight="bold" text-anchor="middle" fill="#111" font-family="Liberation Sans" >100</text>
<line x1="628.70" y1="293.39" x2="628.70" y2="295.09" stroke="#111" stroke-width="1.0" />
<line x1="632.90" y1="293.39" x2="632.90" y2="295.09" stroke="#111" stroke-width="1.0" />
<line x1="637.10" y1="293.39" x2="637.10" y2="295.09" stroke="#111" stroke-width="1.0" />
<line x1="641.30" y1="293.39" x2="641.30" y2="295.09" stroke="#111" stroke-width="1.0" />
<line x1="645.50" y1="293.39" x2="645.50" y2="295.09" stroke="#111" stroke-width="1.0" />
<line x1="649.70" y1="293.39" x2="649.70" y2="295.09" stroke="#111" stroke-width="1.0" />
<line x1="653.90" y1="293.39" x2="653.90" y2="295.09" stroke="#111" stroke-width="1.0" />
<line x1="658.10" y1="293.39" x2="658.10" y2="295.09" stroke="#111" stroke-width="1.0" />
<line x1="662.30" y1="293.39" x2="662.30" y2="295.09" stroke="#111" stroke-width="1.0" />
<line x1="666.50" y1="293.39" x2="666.50" y2="296.59" stroke="#111" stroke-width="1.1" />
<text x="666.50" y="304.69" font-size="6.6" font-weight="bold" text-anchor="middle" fill="#111" font-family="Liberation Sans" >150</text>
<text x="603.90" y="315.79" font-size="7" font-weight="bold" text-anchor="middle" fill="#111" font-family="Liberation Sans" >DSS (Months)</text>
<text transform="translate(520.50,249.44) rotate(-90)" font-size="7.2" font-weight="bold" text-anchor="middle" fill="#111" font-family="Liberation Sans">Percent survival</text>
<line x1="545.80" y1="190.30" x2="558.50" y2="190.30" stroke="#2b3f9e" stroke-width="1.3" />
<line x1="552.15" y1="190.30" x2="552.15" y2="186.90" stroke="#2b3f9e" stroke-width="1.1" />
<text x="562.00" y="192.00" font-size="8.8" font-weight="normal" text-anchor="start" fill="#111" font-family="Liberation Sans" >High MAGI3 (&gt;261.5, n=157)</text>
<line x1="545.80" y1="200.90" x2="558.50" y2="200.90" stroke="#e8262b" stroke-width="1.3" />
<line x1="552.15" y1="200.90" x2="552.15" y2="197.50" stroke="#e8262b" stroke-width="1.1" />
<text x="562.00" y="202.20" font-size="8.8" font-weight="normal" text-anchor="start" fill="#111" font-family="Liberation Sans" >M/L MAGI3 (&lt;261.5, n=307)</text>
<text x="554.20" y="263.10" font-size="8.8" font-weight="normal" text-anchor="start" fill="#262626" font-family="Liberation Sans" >P&lt;0.001</text>
<text x="554.20" y="273.75" font-size="8.8" font-weight="normal" text-anchor="start" fill="#262626" font-family="Liberation Sans" >HR=2.774</text>
<text x="554.20" y="284.40" font-size="8.8" font-weight="normal" text-anchor="start" fill="#262626" font-family="Liberation Sans" >95% CI: 1.742-4.417</text>
<text x="622.80" y="234.40" font-size="8.8" fill="#222" font-family="Liberation Sans">Stage <tspan font-family="Liberation Serif" font-size="9.4">I -IV</tspan></text>
<path d="M540.57,203.54 H542.76 V204.24 H544.94 V204.93 H546.53 V205.33 H548.12 V205.73 H549.71 V206.13 H551.29 V206.52 H552.88 V206.92 H554.47 V207.32 H556.06 V207.71 H557.65 V208.11 H559.24 V208.51 H560.82 V208.90 H562.41 V209.50 H564.00 V210.10 H565.59 V210.69 H567.18 V211.29 H568.76 V211.88 H570.42 V212.88 H572.07 V213.87 H573.73 V214.86 H598.54 V218.43 H651.75" fill="none" stroke="#2b3f9e" stroke-width="1.55" stroke-linejoin="miter"/>
<g stroke="#2b3f9e" stroke-width="0.9"><line x1="576.59" y1="214.86" x2="576.59" y2="212.66"/><line x1="578.91" y1="214.86" x2="578.91" y2="212.66"/><line x1="584.96" y1="214.86" x2="584.96" y2="212.66"/><line x1="587.12" y1="214.86" x2="587.12" y2="212.66"/><line x1="592.69" y1="214.86" x2="592.69" y2="212.66"/><line x1="595.36" y1="214.86" x2="595.36" y2="212.66"/><line x1="598.95" y1="218.43" x2="598.95" y2="216.23"/><line x1="605.36" y1="218.43" x2="605.36" y2="216.23"/><line x1="607.17" y1="218.43" x2="607.17" y2="216.23"/><line x1="610.99" y1="218.43" x2="610.99" y2="216.23"/><line x1="617.09" y1="218.43" x2="617.09" y2="216.23"/><line x1="620.56" y1="218.43" x2="620.56" y2="216.23"/><line x1="622.62" y1="218.43" x2="622.62" y2="216.23"/><line x1="628.43" y1="218.43" x2="628.43" y2="216.23"/><line x1="630.97" y1="218.43" x2="630.97" y2="216.23"/><line x1="635.18" y1="218.43" x2="635.18" y2="216.23"/><line x1="637.56" y1="218.43" x2="637.56" y2="216.23"/><line x1="643.57" y1="218.43" x2="643.57" y2="216.23"/><line x1="646.62" y1="218.43" x2="646.62" y2="216.23"/><line x1="651.25" y1="218.43" x2="651.25" y2="216.23"/><line x1="552.28" y1="206.92" x2="552.28" y2="204.92"/><line x1="560.22" y1="208.90" x2="560.22" y2="206.90"/><line x1="568.16" y1="211.88" x2="568.16" y2="209.88"/></g>
<path d="M540.57,203.54 H541.76 V205.23 H542.96 V206.92 H544.94 V208.57 H546.93 V210.23 H548.91 V211.88 H550.50 V213.07 H552.09 V214.26 H553.68 V215.46 H555.26 V216.65 H556.85 V217.84 H558.44 V218.83 H560.03 V219.82 H561.62 V220.82 H563.21 V221.81 H564.79 V222.80 H566.38 V223.40 H567.97 V223.99 H569.56 V224.59 H571.15 V225.18 H572.74 V225.78 H574.32 V226.38 H575.91 V226.97 H577.50 V227.57 H579.09 V228.16 H580.68 V228.76 H582.41 V229.75 H584.15 V230.74 H585.89 V231.74 H587.63 V232.73 H589.36 V233.47 H591.10 V234.22 H592.84 V234.96 H594.57 V235.71 H596.56 V237.69 H598.21 V237.86 H599.87 V238.02 H601.52 V238.19 H603.18 V238.35 H604.83 V238.52 H606.49 V238.68 H608.47 V239.54 H610.46 V240.40 H612.44 V241.27 V242.65 H666.05" fill="none" stroke="#e8262b" stroke-width="1.55" stroke-linejoin="miter"/>
<g stroke="#e8262b" stroke-width="0.9"><line x1="615.79" y1="242.65" x2="615.79" y2="240.45"/><line x1="616.77" y1="242.65" x2="616.77" y2="240.45"/><line x1="621.60" y1="242.65" x2="621.60" y2="240.45"/><line x1="626.15" y1="242.65" x2="626.15" y2="240.45"/><line x1="629.08" y1="242.65" x2="629.08" y2="240.45"/><line x1="633.77" y1="242.65" x2="633.77" y2="240.45"/><line x1="636.10" y1="242.65" x2="636.10" y2="240.45"/><line x1="642.30" y1="242.65" x2="642.30" y2="240.45"/><line x1="645.06" y1="242.65" x2="645.06" y2="240.45"/><line x1="647.67" y1="242.65" x2="647.67" y2="240.45"/><line x1="653.13" y1="242.65" x2="653.13" y2="240.45"/><line x1="655.91" y1="242.65" x2="655.91" y2="240.45"/><line x1="659.39" y1="242.65" x2="659.39" y2="240.45"/><line x1="664.08" y1="242.65" x2="664.08" y2="240.45"/><line x1="548.31" y1="211.88" x2="548.31" y2="209.88"/><line x1="580.08" y1="228.76" x2="580.08" y2="226.76"/><line x1="587.03" y1="232.73" x2="587.03" y2="230.73"/></g>
<line x1="190.50" y1="366.50" x2="190.50" y2="458.89" stroke="#111" stroke-width="1.1" />
<line x1="190.50" y1="455.69" x2="317.00" y2="455.69" stroke="#111" stroke-width="1.1" />
<line x1="187.20" y1="455.69" x2="190.50" y2="455.69" stroke="#111" stroke-width="1.1" />
<text x="185.90" y="457.99" font-size="6.6" font-weight="bold" text-anchor="end" fill="#111" font-family="Liberation Sans" >20</text>
<line x1="188.90" y1="451.24" x2="190.50" y2="451.24" stroke="#111" stroke-width="1.0" />
<line x1="188.90" y1="446.80" x2="190.50" y2="446.80" stroke="#111" stroke-width="1.0" />
<line x1="188.90" y1="442.35" x2="190.50" y2="442.35" stroke="#111" stroke-width="1.0" />
<line x1="188.90" y1="437.91" x2="190.50" y2="437.91" stroke="#111" stroke-width="1.0" />
<line x1="187.20" y1="433.47" x2="190.50" y2="433.47" stroke="#111" stroke-width="1.1" />
<text x="185.90" y="435.77" font-size="6.6" font-weight="bold" text-anchor="end" fill="#111" font-family="Liberation Sans" >40</text>
<line x1="188.90" y1="429.02" x2="190.50" y2="429.02" stroke="#111" stroke-width="1.0" />
<line x1="188.90" y1="424.58" x2="190.50" y2="424.58" stroke="#111" stroke-width="1.0" />
<line x1="188.90" y1="420.13" x2="190.50" y2="420.13" stroke="#111" stroke-width="1.0" />
<line x1="188.90" y1="415.69" x2="190.50" y2="415.69" stroke="#111" stroke-width="1.0" />
<line x1="187.20" y1="411.24" x2="190.50" y2="411.24" stroke="#111" stroke-width="1.1" />
<text x="185.90" y="413.54" font-size="6.6" font-weight="bold" text-anchor="end" fill="#111" font-family="Liberation Sans" >60</text>
<line x1="188.90" y1="406.80" x2="190.50" y2="406.80" stroke="#111" stroke-width="1.0" />
<line x1="188.90" y1="402.36" x2="190.50" y2="402.36" stroke="#111" stroke-width="1.0" />
<line x1="188.90" y1="397.91" x2="190.50" y2="397.91" stroke="#111" stroke-width="1.0" />
<line x1="188.90" y1="393.47" x2="190.50" y2="393.47" stroke="#111" stroke-width="1.0" />
<line x1="187.20" y1="389.02" x2="190.50" y2="389.02" stroke="#111" stroke-width="1.1" />
<text x="185.90" y="391.32" font-size="6.6" font-weight="bold" text-anchor="end" fill="#111" font-family="Liberation Sans" >80</text>
<line x1="188.90" y1="384.58" x2="190.50" y2="384.58" stroke="#111" stroke-width="1.0" />
<line x1="188.90" y1="380.13" x2="190.50" y2="380.13" stroke="#111" stroke-width="1.0" />
<line x1="188.90" y1="375.69" x2="190.50" y2="375.69" stroke="#111" stroke-width="1.0" />
<line x1="188.90" y1="371.24" x2="190.50" y2="371.24" stroke="#111" stroke-width="1.0" />
<line x1="187.20" y1="366.80" x2="190.50" y2="366.80" stroke="#111" stroke-width="1.1" />
<text x="185.90" y="369.10" font-size="6.6" font-weight="bold" text-anchor="end" fill="#111" font-family="Liberation Sans" >100</text>
<line x1="190.50" y1="455.69" x2="190.50" y2="458.89" stroke="#111" stroke-width="1.1" />
<text x="190.50" y="466.99" font-size="6.6" font-weight="bold" text-anchor="middle" fill="#111" font-family="Liberation Sans" >0</text>
<line x1="194.70" y1="455.69" x2="194.70" y2="457.39" stroke="#111" stroke-width="1.0" />
<line x1="198.90" y1="455.69" x2="198.90" y2="457.39" stroke="#111" stroke-width="1.0" />
<line x1="203.10" y1="455.69" x2="203.10" y2="457.39" stroke="#111" stroke-width="1.0" />
<line x1="207.30" y1="455.69" x2="207.30" y2="457.39" stroke="#111" stroke-width="1.0" />
<line x1="211.50" y1="455.69" x2="211.50" y2="457.39" stroke="#111" stroke-width="1.0" />
<line x1="215.70" y1="455.69" x2="215.70" y2="457.39" stroke="#111" stroke-width="1.0" />
<line x1="219.90" y1="455.69" x2="219.90" y2="457.39" stroke="#111" stroke-width="1.0" />
<line x1="224.10" y1="455.69" x2="224.10" y2="457.39" stroke="#111" stroke-width="1.0" />
<line x1="228.30" y1="455.69" x2="228.30" y2="457.39" stroke="#111" stroke-width="1.0" />
<line x1="232.50" y1="455.69" x2="232.50" y2="458.89" stroke="#111" stroke-width="1.1" />
<text x="232.50" y="466.99" font-size="6.6" font-weight="bold" text-anchor="middle" fill="#111" font-family="Liberation Sans" >50</text>
<line x1="236.70" y1="455.69" x2="236.70" y2="457.39" stroke="#111" stroke-width="1.0" />
<line x1="240.90" y1="455.69" x2="240.90" y2="457.39" stroke="#111" stroke-width="1.0" />
<line x1="245.10" y1="455.69" x2="245.10" y2="457.39" stroke="#111" stroke-width="1.0" />
<line x1="249.30" y1="455.69" x2="249.30" y2="457.39" stroke="#111" stroke-width="1.0" />
<line x1="253.50" y1="455.69" x2="253.50" y2="457.39" stroke="#111" stroke-width="1.0" />
<line x1="257.70" y1="455.69" x2="257.70" y2="457.39" stroke="#111" stroke-width="1.0" />
<line x1="261.90" y1="455.69" x2="261.90" y2="457.39" stroke="#111" stroke-width="1.0" />
<line x1="266.10" y1="455.69" x2="266.10" y2="457.39" stroke="#111" stroke-width="1.0" />
<line x1="270.30" y1="455.69" x2="270.30" y2="457.39" stroke="#111" stroke-width="1.0" />
<line x1="274.50" y1="455.69" x2="274.50" y2="458.89" stroke="#111" stroke-width="1.1" />
<text x="274.50" y="466.99" font-size="6.6" font-weight="bold" text-anchor="middle" fill="#111" font-family="Liberation Sans" >100</text>
<line x1="278.70" y1="455.69" x2="278.70" y2="457.39" stroke="#111" stroke-width="1.0" />
<line x1="282.90" y1="455.69" x2="282.90" y2="457.39" stroke="#111" stroke-width="1.0" />
<line x1="287.10" y1="455.69" x2="287.10" y2="457.39" stroke="#111" stroke-width="1.0" />
<line x1="291.30" y1="455.69" x2="291.30" y2="457.39" stroke="#111" stroke-width="1.0" />
<line x1="295.50" y1="455.69" x2="295.50" y2="457.39" stroke="#111" stroke-width="1.0" />
<line x1="299.70" y1="455.69" x2="299.70" y2="457.39" stroke="#111" stroke-width="1.0" />
<line x1="303.90" y1="455.69" x2="303.90" y2="457.39" stroke="#111" stroke-width="1.0" />
<line x1="308.10" y1="455.69" x2="308.10" y2="457.39" stroke="#111" stroke-width="1.0" />
<line x1="312.30" y1="455.69" x2="312.30" y2="457.39" stroke="#111" stroke-width="1.0" />
<line x1="316.50" y1="455.69" x2="316.50" y2="458.89" stroke="#111" stroke-width="1.1" />
<text x="316.50" y="466.99" font-size="6.6" font-weight="bold" text-anchor="middle" fill="#111" font-family="Liberation Sans" >150</text>
<text x="253.90" y="478.09" font-size="7" font-weight="bold" text-anchor="middle" fill="#111" font-family="Liberation Sans" >OS (Months)</text>
<text transform="translate(170.50,411.74) rotate(-90)" font-size="7.2" font-weight="bold" text-anchor="middle" fill="#111" font-family="Liberation Sans">Percent survival</text>
<line x1="195.30" y1="348.50" x2="207.80" y2="348.50" stroke="#2b3f9e" stroke-width="1.3" />
<line x1="201.55" y1="348.50" x2="201.55" y2="345.10" stroke="#2b3f9e" stroke-width="1.1" />
<text x="211.90" y="350.20" font-size="8.8" font-weight="normal" text-anchor="start" fill="#111" font-family="Liberation Sans" >High MAGI3 (&gt;261.5, n=99)</text>
<line x1="195.30" y1="358.50" x2="207.80" y2="358.50" stroke="#e8262b" stroke-width="1.3" />
<line x1="201.55" y1="358.50" x2="201.55" y2="355.10" stroke="#e8262b" stroke-width="1.1" />
<text x="211.90" y="359.80" font-size="8.8" font-weight="normal" text-anchor="start" fill="#111" font-family="Liberation Sans" >M/L MAGI3 (&lt;261.5, n=146)</text>
<text x="201.10" y="422.90" font-size="8.8" font-weight="normal" text-anchor="start" fill="#262626" font-family="Liberation Sans" >P&lt;0.05</text>
<text x="201.10" y="433.55" font-size="8.8" font-weight="normal" text-anchor="start" fill="#262626" font-family="Liberation Sans" >HR=2.034</text>
<text x="201.10" y="444.20" font-size="8.8" font-weight="normal" text-anchor="start" fill="#262626" font-family="Liberation Sans" >95% CI: 1.082-3.825</text>
<text x="281.70" y="384.40" font-size="8.8" fill="#222" font-family="Liberation Sans">Stage <tspan font-family="Liberation Serif" font-size="9.4">I</tspan></text>
<path d="M189.97,365.94 H205.85 H206.85 V367.93 H208.63 V368.13 H210.42 V368.32 H212.21 V368.52 H213.99 V368.72 H215.78 V368.92 H217.76 V370.90 H219.75 V371.60 H221.74 V372.29 H223.72 V372.82 H225.71 V373.35 H227.69 V373.88 H229.68 V374.68 H231.66 V375.47 H233.65 V376.26 H235.63 V377.56 H237.62 V378.85 H238.61 V381.82 H247.54 H247.88 V383.68 H248.21 V385.53 H248.54 V387.38 H266.41 V394.73 H301.15" fill="none" stroke="#2b3f9e" stroke-width="1.55" stroke-linejoin="miter"/>
<g stroke="#2b3f9e" stroke-width="0.9"><line x1="190.60" y1="365.94" x2="190.60" y2="363.74"/><line x1="197.00" y1="365.94" x2="197.00" y2="363.74"/><line x1="199.27" y1="365.94" x2="199.27" y2="363.74"/><line x1="202.80" y1="365.94" x2="202.80" y2="363.74"/><line x1="239.70" y1="381.82" x2="239.70" y2="379.62"/><line x1="244.74" y1="381.82" x2="244.74" y2="379.62"/><line x1="251.72" y1="387.38" x2="251.72" y2="385.18"/><line x1="254.28" y1="387.38" x2="254.28" y2="385.18"/><line x1="259.95" y1="387.38" x2="259.95" y2="385.18"/><line x1="264.59" y1="387.38" x2="264.59" y2="385.18"/><line x1="267.95" y1="394.73" x2="267.95" y2="392.53"/><line x1="272.34" y1="394.73" x2="272.34" y2="392.53"/><line x1="274.74" y1="394.73" x2="274.74" y2="392.53"/><line x1="278.59" y1="394.73" x2="278.59" y2="392.53"/><line x1="282.89" y1="394.73" x2="282.89" y2="392.53"/><line x1="288.18" y1="394.73" x2="288.18" y2="392.53"/><line x1="291.28" y1="394.73" x2="291.28" y2="392.53"/><line x1="294.80" y1="394.73" x2="294.80" y2="392.53"/><line x1="299.47" y1="394.73" x2="299.47" y2="392.53"/><line x1="208.03" y1="368.13" x2="208.03" y2="366.13"/><line x1="211.61" y1="368.52" x2="211.61" y2="366.52"/><line x1="217.16" y1="370.90" x2="217.16" y2="368.90"/><line x1="221.14" y1="372.29" x2="221.14" y2="370.29"/><line x1="225.11" y1="373.35" x2="225.11" y2="371.35"/><line x1="227.09" y1="373.88" x2="227.09" y2="371.88"/><line x1="233.05" y1="376.26" x2="233.05" y2="374.26"/></g>
<path d="M189.97,366.34 H191.96 V367.63 H193.94 V368.92 H195.53 V369.20 H197.12 V369.48 H198.71 V369.75 H200.29 V370.03 H201.88 V370.31 H211.81 H213.79 V372.29 H221.74 H223.72 V374.88 H225.71 V376.86 H227.69 V378.85 H229.68 V380.83 H231.66 V382.82 H234.64 V385.79 H234.97 V387.78 H235.30 V389.76 H235.63 V391.75 H236.63 V394.13 H249.53 H250.52 V395.92 H251.52 V397.71 H254.49 V400.68 H254.89 V402.27 H255.29 V403.86 H255.68 V405.45 H256.08 V407.04 H256.48 V408.63 H258.13 V408.96 H259.79 V409.29 H261.44 V409.62 H261.77 V411.27 H262.10 V412.93 H262.43 V414.58 H264.42 V415.08 H266.41 V415.57 V419.94 H290.23 V429.07 H316.04" fill="none" stroke="#e8262b" stroke-width="1.55" stroke-linejoin="miter"/>
<g stroke="#e8262b" stroke-width="0.9"><line x1="203.29" y1="370.90" x2="203.29" y2="368.70"/><line x1="208.02" y1="370.90" x2="208.02" y2="368.70"/><line x1="217.12" y1="372.89" x2="217.12" y2="370.69"/><line x1="219.72" y1="372.89" x2="219.72" y2="370.69"/><line x1="237.86" y1="394.13" x2="237.86" y2="391.93"/><line x1="244.42" y1="394.13" x2="244.42" y2="391.93"/><line x1="247.62" y1="394.13" x2="247.62" y2="391.93"/><line x1="269.08" y1="419.94" x2="269.08" y2="417.74"/><line x1="273.50" y1="419.94" x2="273.50" y2="417.74"/><line x1="275.69" y1="419.94" x2="275.69" y2="417.74"/><line x1="279.87" y1="419.94" x2="279.87" y2="417.74"/><line x1="285.41" y1="419.94" x2="285.41" y2="417.74"/><line x1="287.15" y1="419.94" x2="287.15" y2="417.74"/><line x1="292.87" y1="429.07" x2="292.87" y2="426.87"/><line x1="294.55" y1="429.07" x2="294.55" y2="426.87"/><line x1="300.02" y1="429.07" x2="300.02" y2="426.87"/><line x1="303.74" y1="429.07" x2="303.74" y2="426.87"/><line x1="308.17" y1="429.07" x2="308.17" y2="426.87"/><line x1="311.54" y1="429.07" x2="311.54" y2="426.87"/><line x1="314.21" y1="429.07" x2="314.21" y2="426.87"/><line x1="194.93" y1="369.20" x2="194.93" y2="367.20"/><line x1="198.11" y1="369.75" x2="198.11" y2="367.75"/><line x1="234.37" y1="387.78" x2="234.37" y2="385.78"/><line x1="235.03" y1="391.75" x2="235.03" y2="389.75"/><line x1="254.29" y1="402.27" x2="254.29" y2="400.27"/><line x1="255.48" y1="407.04" x2="255.48" y2="405.04"/></g>
<line x1="365.80" y1="366.50" x2="365.80" y2="458.89" stroke="#111" stroke-width="1.1" />
<line x1="365.80" y1="455.69" x2="492.30" y2="455.69" stroke="#111" stroke-width="1.1" />
<line x1="362.50" y1="455.69" x2="365.80" y2="455.69" stroke="#111" stroke-width="1.1" />
<text x="361.20" y="457.99" font-size="6.6" font-weight="bold" text-anchor="end" fill="#111" font-family="Liberation Sans" >20</text>
<line x1="364.20" y1="451.24" x2="365.80" y2="451.24" stroke="#111" stroke-width="1.0" />
<line x1="364.20" y1="446.80" x2="365.80" y2="446.80" stroke="#111" stroke-width="1.0" />
<line x1="364.20" y1="442.35" x2="365.80" y2="442.35" stroke="#111" stroke-width="1.0" />
<line x1="364.20" y1="437.91" x2="365.80" y2="437.91" stroke="#111" stroke-width="1.0" />
<line x1="362.50" y1="433.47" x2="365.80" y2="433.47" stroke="#111" stroke-width="1.1" />
<text x="361.20" y="435.77" font-size="6.6" font-weight="bold" text-anchor="end" fill="#111" font-family="Liberation Sans" >40</text>
<line x1="364.20" y1="429.02" x2="365.80" y2="429.02" stroke="#111" stroke-width="1.0" />
<line x1="364.20" y1="424.58" x2="365.80" y2="424.58" stroke="#111" stroke-width="1.0" />
<line x1="364.20" y1="420.13" x2="365.80" y2="420.13" stroke="#111" stroke-width="1.0" />
<line x1="364.20" y1="415.69" x2="365.80" y2="415.69" stroke="#111" stroke-width="1.0" />
<line x1="362.50" y1="411.24" x2="365.80" y2="411.24" stroke="#111" stroke-width="1.1" />
<text x="361.20" y="413.54" font-size="6.6" font-weight="bold" text-anchor="end" fill="#111" font-family="Liberation Sans" >60</text>
<line x1="364.20" y1="406.80" x2="365.80" y2="406.80" stroke="#111" stroke-width="1.0" />
<line x1="364.20" y1="402.36" x2="365.80" y2="402.36" stroke="#111" stroke-width="1.0" />
<line x1="364.20" y1="397.91" x2="365.80" y2="397.91" stroke="#111" stroke-width="1.0" />
<line x1="364.20" y1="393.47" x2="365.80" y2="393.47" stroke="#111" stroke-width="1.0" />
<line x1="362.50" y1="389.02" x2="365.80" y2="389.02" stroke="#111" stroke-width="1.1" />
<text x="361.20" y="391.32" font-size="6.6" font-weight="bold" text-anchor="end" fill="#111" font-family="Liberation Sans" >80</text>
<line x1="364.20" y1="384.58" x2="365.80" y2="384.58" stroke="#111" stroke-width="1.0" />
<line x1="364.20" y1="380.13" x2="365.80" y2="380.13" stroke="#111" stroke-width="1.0" />
<line x1="364.20" y1="375.69" x2="365.80" y2="375.69" stroke="#111" stroke-width="1.0" />
<line x1="364.20" y1="371.24" x2="365.80" y2="371.24" stroke="#111" stroke-width="1.0" />
<line x1="362.50" y1="366.80" x2="365.80" y2="366.80" stroke="#111" stroke-width="1.1" />
<text x="361.20" y="369.10" font-size="6.6" font-weight="bold" text-anchor="end" fill="#111" font-family="Liberation Sans" >100</text>
<line x1="365.80" y1="455.69" x2="365.80" y2="458.89" stroke="#111" stroke-width="1.1" />
<text x="365.80" y="466.99" font-size="6.6" font-weight="bold" text-anchor="middle" fill="#111" font-family="Liberation Sans" >0</text>
<line x1="370.00" y1="455.69" x2="370.00" y2="457.39" stroke="#111" stroke-width="1.0" />
<line x1="374.20" y1="455.69" x2="374.20" y2="457.39" stroke="#111" stroke-width="1.0" />
<line x1="378.40" y1="455.69" x2="378.40" y2="457.39" stroke="#111" stroke-width="1.0" />
<line x1="382.60" y1="455.69" x2="382.60" y2="457.39" stroke="#111" stroke-width="1.0" />
<line x1="386.80" y1="455.69" x2="386.80" y2="457.39" stroke="#111" stroke-width="1.0" />
<line x1="391.00" y1="455.69" x2="391.00" y2="457.39" stroke="#111" stroke-width="1.0" />
<line x1="395.20" y1="455.69" x2="395.20" y2="457.39" stroke="#111" stroke-width="1.0" />
<line x1="399.40" y1="455.69" x2="399.40" y2="457.39" stroke="#111" stroke-width="1.0" />
<line x1="403.60" y1="455.69" x2="403.60" y2="457.39" stroke="#111" stroke-width="1.0" />
<line x1="407.80" y1="455.69" x2="407.80" y2="458.89" stroke="#111" stroke-width="1.1" />
<text x="407.80" y="466.99" font-size="6.6" font-weight="bold" text-anchor="middle" fill="#111" font-family="Liberation Sans" >50</text>
<line x1="412.00" y1="455.69" x2="412.00" y2="457.39" stroke="#111" stroke-width="1.0" />
<line x1="416.20" y1="455.69" x2="416.20" y2="457.39" stroke="#111" stroke-width="1.0" />
<line x1="420.40" y1="455.69" x2="420.40" y2="457.39" stroke="#111" stroke-width="1.0" />
<line x1="424.60" y1="455.69" x2="424.60" y2="457.39" stroke="#111" stroke-width="1.0" />
<line x1="428.80" y1="455.69" x2="428.80" y2="457.39" stroke="#111" stroke-width="1.0" />
<line x1="433.00" y1="455.69" x2="433.00" y2="457.39" stroke="#111" stroke-width="1.0" />
<line x1="437.20" y1="455.69" x2="437.20" y2="457.39" stroke="#111" stroke-width="1.0" />
<line x1="441.40" y1="455.69" x2="441.40" y2="457.39" stroke="#111" stroke-width="1.0" />
<line x1="445.60" y1="455.69" x2="445.60" y2="457.39" stroke="#111" stroke-width="1.0" />
<line x1="449.80" y1="455.69" x2="449.80" y2="458.89" stroke="#111" stroke-width="1.1" />
<text x="449.80" y="466.99" font-size="6.6" font-weight="bold" text-anchor="middle" fill="#111" font-family="Liberation Sans" >100</text>
<line x1="454.00" y1="455.69" x2="454.00" y2="457.39" stroke="#111" stroke-width="1.0" />
<line x1="458.20" y1="455.69" x2="458.20" y2="457.39" stroke="#111" stroke-width="1.0" />
<line x1="462.40" y1="455.69" x2="462.40" y2="457.39" stroke="#111" stroke-width="1.0" />
<line x1="466.60" y1="455.69" x2="466.60" y2="457.39" stroke="#111" stroke-width="1.0" />
<line x1="470.80" y1="455.69" x2="470.80" y2="457.39" stroke="#111" stroke-width="1.0" />
<line x1="475.00" y1="455.69" x2="475.00" y2="457.39" stroke="#111" stroke-width="1.0" />
<line x1="479.20" y1="455.69" x2="479.20" y2="457.39" stroke="#111" stroke-width="1.0" />
<line x1="483.40" y1="455.69" x2="483.40" y2="457.39" stroke="#111" stroke-width="1.0" />
<line x1="487.60" y1="455.69" x2="487.60" y2="457.39" stroke="#111" stroke-width="1.0" />
<line x1="491.80" y1="455.69" x2="491.80" y2="458.89" stroke="#111" stroke-width="1.1" />
<text x="491.80" y="466.99" font-size="6.6" font-weight="bold" text-anchor="middle" fill="#111" font-family="Liberation Sans" >150</text>
<text x="429.20" y="478.09" font-size="7" font-weight="bold" text-anchor="middle" fill="#111" font-family="Liberation Sans" >PFS(Months)</text>
<text transform="translate(345.80,411.74) rotate(-90)" font-size="7.2" font-weight="bold" text-anchor="middle" fill="#111" font-family="Liberation Sans">Percent survival</text>
<line x1="368.80" y1="348.50" x2="381.40" y2="348.50" stroke="#2b3f9e" stroke-width="1.3" />
<line x1="375.10" y1="348.50" x2="375.10" y2="345.10" stroke="#2b3f9e" stroke-width="1.1" />
<text x="385.30" y="350.20" font-size="8.8" font-weight="normal" text-anchor="start" fill="#111" font-family="Liberation Sans" >High MAGI3 (&gt;184.0, n=149)</text>
<line x1="368.80" y1="358.50" x2="381.40" y2="358.50" stroke="#e8262b" stroke-width="1.3" />
<line x1="375.10" y1="358.50" x2="375.10" y2="355.10" stroke="#e8262b" stroke-width="1.1" />
<text x="385.30" y="359.80" font-size="8.8" font-weight="normal" text-anchor="start" fill="#111" font-family="Liberation Sans" >M/L MAGI3 (&lt;184.0, n=96)</text>
<text x="378.80" y="422.90" font-size="8.8" font-weight="normal" text-anchor="start" fill="#262626" font-family="Liberation Sans" >P&lt;0.05</text>
<text x="378.80" y="433.55" font-size="8.8" font-weight="normal" text-anchor="start" fill="#262626" font-family="Liberation Sans" >HR=2.548</text>
<text x="378.80" y="444.20" font-size="8.8" font-weight="normal" text-anchor="start" fill="#262626" font-family="Liberation Sans" >95% CI: 1.049-6.189</text>
<text x="463.30" y="384.40" font-size="8.8" fill="#222" font-family="Liberation Sans">Stage <tspan font-family="Liberation Serif" font-size="9.4">I</tspan></text>
<path d="M365.97,365.94 H367.59 V366.03 H369.22 V366.12 H370.84 V366.21 H372.47 V366.30 H374.09 V366.39 H375.72 V366.48 H377.34 V366.57 H378.97 V366.66 H380.59 V366.75 H382.21 V366.84 H383.84 V366.93 H385.43 V367.13 H387.01 V367.33 H388.60 V367.53 H390.19 V367.73 H391.78 V367.93 H397.74 H399.32 V368.56 H400.91 V368.80 H402.50 V369.04 H404.09 V369.28 H405.68 V369.51 H406.67 V372.29 H420.57 H421.06 V374.08 H421.56 V375.87 H455.31 H455.40 V377.46 H455.49 V379.04 H455.58 V380.63 H455.67 V382.22 H455.76 V383.81 H455.85 V385.40 H455.94 V386.99 H456.03 V388.57 H456.12 V390.16 H456.21 V391.75 H456.30 V393.34 H476.75" fill="none" stroke="#2b3f9e" stroke-width="1.55" stroke-linejoin="miter"/>
<g stroke="#2b3f9e" stroke-width="0.9"><line x1="395.92" y1="368.32" x2="395.92" y2="366.12"/><line x1="410.12" y1="372.29" x2="410.12" y2="370.09"/><line x1="412.28" y1="372.29" x2="412.28" y2="370.09"/><line x1="417.89" y1="372.29" x2="417.89" y2="370.09"/><line x1="423.41" y1="375.87" x2="423.41" y2="373.67"/><line x1="425.75" y1="375.87" x2="425.75" y2="373.67"/><line x1="430.71" y1="375.87" x2="430.71" y2="373.67"/><line x1="435.90" y1="375.87" x2="435.90" y2="373.67"/><line x1="437.27" y1="375.87" x2="437.27" y2="373.67"/><line x1="442.47" y1="375.87" x2="442.47" y2="373.67"/><line x1="444.80" y1="375.87" x2="444.80" y2="373.67"/><line x1="449.92" y1="375.87" x2="449.92" y2="373.67"/><line x1="454.62" y1="375.87" x2="454.62" y2="373.67"/><line x1="457.46" y1="393.34" x2="457.46" y2="391.14"/><line x1="460.96" y1="393.34" x2="460.96" y2="391.14"/><line x1="465.28" y1="393.34" x2="465.28" y2="391.14"/><line x1="470.74" y1="393.34" x2="470.74" y2="391.14"/><line x1="473.26" y1="393.34" x2="473.26" y2="391.14"/><line x1="370.24" y1="366.21" x2="370.24" y2="364.21"/><line x1="373.49" y1="366.39" x2="373.49" y2="364.39"/><line x1="378.37" y1="366.66" x2="378.37" y2="364.66"/><line x1="383.24" y1="366.93" x2="383.24" y2="364.93"/><line x1="391.18" y1="367.93" x2="391.18" y2="365.93"/><line x1="400.31" y1="368.80" x2="400.31" y2="366.80"/><line x1="454.80" y1="377.46" x2="454.80" y2="375.46"/><line x1="455.25" y1="385.40" x2="455.25" y2="383.40"/></g>
<path d="M365.97,366.34 H375.90 H377.88 V367.60 H379.87 V368.26 H381.85 V368.92 H383.84 V369.91 H385.82 V370.90 H387.81 V371.90 H389.79 V372.89 H391.78 V373.88 H393.52 V374.13 H395.25 V374.38 H396.99 V374.63 H398.73 V374.88 H399.72 V376.86 H410.64 H411.63 V379.44 H420.57 H421.06 V381.43 H421.56 V383.41 H430.49 H430.74 V385.25 H430.99 V387.08 H431.24 V388.92 H431.49 V390.76 H431.73 V392.40 H431.98 V394.03 H432.23 V395.67 H432.48 V397.31 H441.41 H441.61 V398.98 H441.81 V400.64 H442.01 V402.31 H442.21 V403.98 H442.41 V405.65 H442.57 V407.30 H442.74 V408.96 H442.90 V410.61 H443.07 V412.27 H443.23 V413.92 H443.40 V415.57 H479.13" fill="none" stroke="#e8262b" stroke-width="1.55" stroke-linejoin="miter"/>
<g stroke="#e8262b" stroke-width="0.9"><line x1="368.60" y1="366.93" x2="368.60" y2="364.73"/><line x1="373.22" y1="366.93" x2="373.22" y2="364.73"/><line x1="400.24" y1="376.86" x2="400.24" y2="374.66"/><line x1="405.43" y1="376.86" x2="405.43" y2="374.66"/><line x1="409.85" y1="376.86" x2="409.85" y2="374.66"/><line x1="412.84" y1="379.44" x2="412.84" y2="377.24"/><line x1="417.51" y1="379.44" x2="417.51" y2="377.24"/><line x1="423.53" y1="383.41" x2="423.53" y2="381.21"/><line x1="426.87" y1="383.41" x2="426.87" y2="381.21"/><line x1="434.70" y1="397.31" x2="434.70" y2="395.11"/><line x1="440.13" y1="397.31" x2="440.13" y2="395.11"/><line x1="445.86" y1="415.57" x2="445.86" y2="413.37"/><line x1="449.45" y1="415.57" x2="449.45" y2="413.37"/><line x1="454.39" y1="415.57" x2="454.39" y2="413.37"/><line x1="456.24" y1="415.57" x2="456.24" y2="413.37"/><line x1="461.47" y1="415.57" x2="461.47" y2="413.37"/><line x1="464.86" y1="415.57" x2="464.86" y2="413.37"/><line x1="469.51" y1="415.57" x2="469.51" y2="413.37"/><line x1="472.02" y1="415.57" x2="472.02" y2="413.37"/><line x1="477.97" y1="415.57" x2="477.97" y2="413.37"/><line x1="391.18" y1="373.88" x2="391.18" y2="371.88"/><line x1="411.03" y1="379.44" x2="411.03" y2="377.44"/><line x1="431.63" y1="395.67" x2="431.63" y2="393.67"/><line x1="441.61" y1="403.98" x2="441.61" y2="401.98"/><line x1="441.81" y1="405.65" x2="441.81" y2="403.65"/><line x1="441.97" y1="407.30" x2="441.97" y2="405.30"/></g>
<line x1="540.60" y1="366.30" x2="540.60" y2="458.69" stroke="#111" stroke-width="1.1" />
<line x1="540.60" y1="455.49" x2="667.10" y2="455.49" stroke="#111" stroke-width="1.1" />
<line x1="537.30" y1="455.49" x2="540.60" y2="455.49" stroke="#111" stroke-width="1.1" />
<text x="536.00" y="457.79" font-size="6.6" font-weight="bold" text-anchor="end" fill="#111" font-family="Liberation Sans" >20</text>
<line x1="539.00" y1="451.04" x2="540.60" y2="451.04" stroke="#111" stroke-width="1.0" />
<line x1="539.00" y1="446.60" x2="540.60" y2="446.60" stroke="#111" stroke-width="1.0" />
<line x1="539.00" y1="442.15" x2="540.60" y2="442.15" stroke="#111" stroke-width="1.0" />
<line x1="539.00" y1="437.71" x2="540.60" y2="437.71" stroke="#111" stroke-width="1.0" />
<line x1="537.30" y1="433.27" x2="540.60" y2="433.27" stroke="#111" stroke-width="1.1" />
<text x="536.00" y="435.57" font-size="6.6" font-weight="bold" text-anchor="end" fill="#111" font-family="Liberation Sans" >40</text>
<line x1="539.00" y1="428.82" x2="540.60" y2="428.82" stroke="#111" stroke-width="1.0" />
<line x1="539.00" y1="424.38" x2="540.60" y2="424.38" stroke="#111" stroke-width="1.0" />
<line x1="539.00" y1="419.93" x2="540.60" y2="419.93" stroke="#111" stroke-width="1.0" />
<line x1="539.00" y1="415.49" x2="540.60" y2="415.49" stroke="#111" stroke-width="1.0" />
<line x1="537.30" y1="411.04" x2="540.60" y2="411.04" stroke="#111" stroke-width="1.1" />
<text x="536.00" y="413.34" font-size="6.6" font-weight="bold" text-anchor="end" fill="#111" font-family="Liberation Sans" >60</text>
<line x1="539.00" y1="406.60" x2="540.60" y2="406.60" stroke="#111" stroke-width="1.0" />
<line x1="539.00" y1="402.16" x2="540.60" y2="402.16" stroke="#111" stroke-width="1.0" />
<line x1="539.00" y1="397.71" x2="540.60" y2="397.71" stroke="#111" stroke-width="1.0" />
<line x1="539.00" y1="393.27" x2="540.60" y2="393.27" stroke="#111" stroke-width="1.0" />
<line x1="537.30" y1="388.82" x2="540.60" y2="388.82" stroke="#111" stroke-width="1.1" />
<text x="536.00" y="391.12" font-size="6.6" font-weight="bold" text-anchor="end" fill="#111" font-family="Liberation Sans" >80</text>
<line x1="539.00" y1="384.38" x2="540.60" y2="384.38" stroke="#111" stroke-width="1.0" />
<line x1="539.00" y1="379.93" x2="540.60" y2="379.93" stroke="#111" stroke-width="1.0" />
<line x1="539.00" y1="375.49" x2="540.60" y2="375.49" stroke="#111" stroke-width="1.0" />
<line x1="539.00" y1="371.04" x2="540.60" y2="371.04" stroke="#111" stroke-width="1.0" />
<line x1="537.30" y1="366.60" x2="540.60" y2="366.60" stroke="#111" stroke-width="1.1" />
<text x="536.00" y="368.90" font-size="6.6" font-weight="bold" text-anchor="end" fill="#111" font-family="Liberation Sans" >100</text>
<line x1="540.60" y1="455.49" x2="540.60" y2="458.69" stroke="#111" stroke-width="1.1" />
<text x="540.60" y="466.79" font-size="6.6" font-weight="bold" text-anchor="middle" fill="#111" font-family="Liberation Sans" >0</text>
<line x1="544.80" y1="455.49" x2="544.80" y2="457.19" stroke="#111" stroke-width="1.0" />
<line x1="549.00" y1="455.49" x2="549.00" y2="457.19" stroke="#111" stroke-width="1.0" />
<line x1="553.20" y1="455.49" x2="553.20" y2="457.19" stroke="#111" stroke-width="1.0" />
<line x1="557.40" y1="455.49" x2="557.40" y2="457.19" stroke="#111" stroke-width="1.0" />
<line x1="561.60" y1="455.49" x2="561.60" y2="457.19" stroke="#111" stroke-width="1.0" />
<line x1="565.80" y1="455.49" x2="565.80" y2="457.19" stroke="#111" stroke-width="1.0" />
<line x1="570.00" y1="455.49" x2="570.00" y2="457.19" stroke="#111" stroke-width="1.0" />
<line x1="574.20" y1="455.49" x2="574.20" y2="457.19" stroke="#111" stroke-width="1.0" />
<line x1="578.40" y1="455.49" x2="578.40" y2="457.19" stroke="#111" stroke-width="1.0" />
<line x1="582.60" y1="455.49" x2="582.60" y2="458.69" stroke="#111" stroke-width="1.1" />
<text x="582.60" y="466.79" font-size="6.6" font-weight="bold" text-anchor="middle" fill="#111" font-family="Liberation Sans" >50</text>
<line x1="586.80" y1="455.49" x2="586.80" y2="457.19" stroke="#111" stroke-width="1.0" />
<line x1="591.00" y1="455.49" x2="591.00" y2="457.19" stroke="#111" stroke-width="1.0" />
<line x1="595.20" y1="455.49" x2="595.20" y2="457.19" stroke="#111" stroke-width="1.0" />
<line x1="599.40" y1="455.49" x2="599.40" y2="457.19" stroke="#111" stroke-width="1.0" />
<line x1="603.60" y1="455.49" x2="603.60" y2="457.19" stroke="#111" stroke-width="1.0" />
<line x1="607.80" y1="455.49" x2="607.80" y2="457.19" stroke="#111" stroke-width="1.0" />
<line x1="612.00" y1="455.49" x2="612.00" y2="457.19" stroke="#111" stroke-width="1.0" />
<line x1="616.20" y1="455.49" x2="616.20" y2="457.19" stroke="#111" stroke-width="1.0" />
<line x1="620.40" y1="455.49" x2="620.40" y2="457.19" stroke="#111" stroke-width="1.0" />
<line x1="624.60" y1="455.49" x2="624.60" y2="458.69" stroke="#111" stroke-width="1.1" />
<text x="624.60" y="466.79" font-size="6.6" font-weight="bold" text-anchor="middle" fill="#111" font-family="Liberation Sans" >100</text>
<line x1="628.80" y1="455.49" x2="628.80" y2="457.19" stroke="#111" stroke-width="1.0" />
<line x1="633.00" y1="455.49" x2="633.00" y2="457.19" stroke="#111" stroke-width="1.0" />
<line x1="637.20" y1="455.49" x2="637.20" y2="457.19" stroke="#111" stroke-width="1.0" />
<line x1="641.40" y1="455.49" x2="641.40" y2="457.19" stroke="#111" stroke-width="1.0" />
<line x1="645.60" y1="455.49" x2="645.60" y2="457.19" stroke="#111" stroke-width="1.0" />
<line x1="649.80" y1="455.49" x2="649.80" y2="457.19" stroke="#111" stroke-width="1.0" />
<line x1="654.00" y1="455.49" x2="654.00" y2="457.19" stroke="#111" stroke-width="1.0" />
<line x1="658.20" y1="455.49" x2="658.20" y2="457.19" stroke="#111" stroke-width="1.0" />
<line x1="662.40" y1="455.49" x2="662.40" y2="457.19" stroke="#111" stroke-width="1.0" />
<line x1="666.60" y1="455.49" x2="666.60" y2="458.69" stroke="#111" stroke-width="1.1" />
<text x="666.60" y="466.79" font-size="6.6" font-weight="bold" text-anchor="middle" fill="#111" font-family="Liberation Sans" >150</text>
<text x="604.00" y="477.89" font-size="7" font-weight="bold" text-anchor="middle" fill="#111" font-family="Liberation Sans" >DSS (Months)</text>
<text transform="translate(520.60,411.54) rotate(-90)" font-size="7.2" font-weight="bold" text-anchor="middle" fill="#111" font-family="Liberation Sans">Percent survival</text>
<line x1="545.90" y1="348.50" x2="558.60" y2="348.50" stroke="#2b3f9e" stroke-width="1.3" />
<line x1="552.25" y1="348.50" x2="552.25" y2="345.10" stroke="#2b3f9e" stroke-width="1.1" />
<text x="562.00" y="350.20" font-size="8.8" font-weight="normal" text-anchor="start" fill="#111" font-family="Liberation Sans" >High MAGI3 (&gt;183.4, n=152)</text>
<line x1="545.90" y1="358.50" x2="558.60" y2="358.50" stroke="#e8262b" stroke-width="1.3" />
<line x1="552.25" y1="358.50" x2="552.25" y2="355.10" stroke="#e8262b" stroke-width="1.1" />
<text x="562.00" y="359.80" font-size="8.8" font-weight="normal" text-anchor="start" fill="#111" font-family="Liberation Sans" >M/L MAGI3 (&lt;183.4, n=93)</text>
<text x="553.20" y="422.90" font-size="8.8" font-weight="normal" text-anchor="start" fill="#262626" font-family="Liberation Sans" >P&lt;0.05</text>
<text x="553.20" y="433.55" font-size="8.8" font-weight="normal" text-anchor="start" fill="#262626" font-family="Liberation Sans" >HR=4.835</text>
<text x="553.20" y="444.20" font-size="8.8" font-weight="normal" text-anchor="start" fill="#262626" font-family="Liberation Sans" >95% CI: 1.162-20.12</text>
<text x="631.90" y="384.40" font-size="8.8" fill="#222" font-family="Liberation Sans">Stage <tspan font-family="Liberation Serif" font-size="9.4">I</tspan></text>
<path d="M540.57,365.54 H562.81 H563.80 V366.93 H576.71 H577.70 H651.75" fill="none" stroke="#2b3f9e" stroke-width="1.55" stroke-linejoin="miter"/>
<g stroke="#2b3f9e" stroke-width="0.9"><line x1="542.61" y1="365.94" x2="542.61" y2="363.74"/><line x1="547.41" y1="365.94" x2="547.41" y2="363.74"/><line x1="549.74" y1="365.94" x2="549.74" y2="363.74"/><line x1="553.57" y1="365.94" x2="553.57" y2="363.74"/><line x1="557.51" y1="365.94" x2="557.51" y2="363.74"/><line x1="560.01" y1="365.94" x2="560.01" y2="363.74"/><line x1="565.99" y1="366.93" x2="565.99" y2="364.73"/><line x1="570.64" y1="366.93" x2="570.64" y2="364.73"/><line x1="575.43" y1="366.93" x2="575.43" y2="364.73"/><line x1="578.33" y1="367.53" x2="578.33" y2="365.33"/><line x1="582.66" y1="367.53" x2="582.66" y2="365.33"/><line x1="585.73" y1="367.53" x2="585.73" y2="365.33"/><line x1="591.59" y1="367.53" x2="591.59" y2="365.33"/><line x1="594.94" y1="367.53" x2="594.94" y2="365.33"/><line x1="596.69" y1="367.53" x2="596.69" y2="365.33"/><line x1="603.21" y1="367.53" x2="603.21" y2="365.33"/><line x1="606.86" y1="367.53" x2="606.86" y2="365.33"/><line x1="609.63" y1="367.53" x2="609.63" y2="365.33"/><line x1="613.22" y1="367.53" x2="613.22" y2="365.33"/><line x1="615.55" y1="367.53" x2="615.55" y2="365.33"/><line x1="618.82" y1="367.53" x2="618.82" y2="365.33"/><line x1="624.07" y1="367.53" x2="624.07" y2="365.33"/><line x1="626.36" y1="367.53" x2="626.36" y2="365.33"/><line x1="630.46" y1="367.53" x2="630.46" y2="365.33"/><line x1="634.31" y1="367.53" x2="634.31" y2="365.33"/><line x1="637.38" y1="367.53" x2="637.38" y2="365.33"/><line x1="642.39" y1="367.53" x2="642.39" y2="365.33"/><line x1="646.02" y1="367.53" x2="646.02" y2="365.33"/><line x1="650.93" y1="367.53" x2="650.93" y2="365.33"/></g>
<path d="M540.57,365.94 H542.26 V366.74 H543.95 V367.53 H562.81 H563.80 V368.92 H577.70 H578.69 V371.90 H584.65 H585.14 V373.88 H585.64 V375.47 H605.49 H605.74 V377.31 H605.99 V379.14 H606.24 V380.98 H606.49 V382.82 H611.45 H611.59 V385.03 H611.73 V386.65 H611.87 V388.26 H612.02 V389.88 H612.16 V391.49 H612.30 V393.11 H612.44 V394.73 H666.44" fill="none" stroke="#e8262b" stroke-width="1.55" stroke-linejoin="miter"/>
<g stroke="#e8262b" stroke-width="0.9"><line x1="546.79" y1="367.93" x2="546.79" y2="365.73"/><line x1="548.33" y1="367.93" x2="548.33" y2="365.73"/><line x1="553.94" y1="367.93" x2="553.94" y2="365.73"/><line x1="556.66" y1="367.93" x2="556.66" y2="365.73"/><line x1="560.64" y1="367.93" x2="560.64" y2="365.73"/><line x1="567.15" y1="369.51" x2="567.15" y2="367.31"/><line x1="569.31" y1="369.51" x2="569.31" y2="367.31"/><line x1="574.06" y1="369.51" x2="574.06" y2="367.31"/><line x1="582.91" y1="372.29" x2="582.91" y2="370.09"/><line x1="587.65" y1="375.47" x2="587.65" y2="373.27"/><line x1="590.37" y1="375.47" x2="590.37" y2="373.27"/><line x1="597.03" y1="375.47" x2="597.03" y2="373.27"/><line x1="600.88" y1="375.47" x2="600.88" y2="373.27"/><line x1="602.35" y1="375.47" x2="602.35" y2="373.27"/><line x1="608.74" y1="383.41" x2="608.74" y2="381.21"/><line x1="613.15" y1="394.73" x2="613.15" y2="392.53"/><line x1="617.28" y1="394.73" x2="617.28" y2="392.53"/><line x1="621.81" y1="394.73" x2="621.81" y2="392.53"/><line x1="624.03" y1="394.73" x2="624.03" y2="392.53"/><line x1="629.23" y1="394.73" x2="629.23" y2="392.53"/><line x1="630.90" y1="394.73" x2="630.90" y2="392.53"/><line x1="634.86" y1="394.73" x2="634.86" y2="392.53"/><line x1="640.39" y1="394.73" x2="640.39" y2="392.53"/><line x1="642.74" y1="394.73" x2="642.74" y2="392.53"/><line x1="646.40" y1="394.73" x2="646.40" y2="392.53"/><line x1="650.53" y1="394.73" x2="650.53" y2="392.53"/><line x1="653.77" y1="394.73" x2="653.77" y2="392.53"/><line x1="657.10" y1="394.73" x2="657.10" y2="392.53"/><line x1="659.63" y1="394.73" x2="659.63" y2="392.53"/><line x1="665.32" y1="394.73" x2="665.32" y2="392.53"/><line x1="578.09" y1="371.90" x2="578.09" y2="369.90"/><line x1="584.54" y1="373.88" x2="584.54" y2="371.88"/><line x1="611.27" y1="388.26" x2="611.27" y2="386.26"/><line x1="611.56" y1="391.49" x2="611.56" y2="389.49"/><line x1="611.84" y1="394.73" x2="611.84" y2="392.73"/></g>
<line x1="548.90" y1="533.60" x2="548.90" y2="625.90" stroke="#111" stroke-width="1.1" />
<line x1="548.90" y1="622.70" x2="677.00" y2="622.70" stroke="#111" stroke-width="1.1" />
<line x1="545.60" y1="622.70" x2="548.90" y2="622.70" stroke="#111" stroke-width="1.1" />
<text x="544.30" y="625.00" font-size="6.6" font-weight="bold" text-anchor="end" fill="#111" font-family="Liberation Sans" >40</text>
<line x1="545.60" y1="593.10" x2="548.90" y2="593.10" stroke="#111" stroke-width="1.1" />
<text x="544.30" y="595.40" font-size="6.6" font-weight="bold" text-anchor="end" fill="#111" font-family="Liberation Sans" >60</text>
<line x1="545.60" y1="563.50" x2="548.90" y2="563.50" stroke="#111" stroke-width="1.1" />
<text x="544.30" y="565.80" font-size="6.6" font-weight="bold" text-anchor="end" fill="#111" font-family="Liberation Sans" >80</text>
<line x1="545.60" y1="533.90" x2="548.90" y2="533.90" stroke="#111" stroke-width="1.1" />
<text x="544.30" y="536.20" font-size="6.6" font-weight="bold" text-anchor="end" fill="#111" font-family="Liberation Sans" >100</text>
<line x1="548.90" y1="622.70" x2="548.90" y2="625.90" stroke="#111" stroke-width="1.1" />
<text x="548.90" y="634.30" font-size="6.6" font-weight="bold" text-anchor="middle" fill="#111" font-family="Liberation Sans" >0</text>
<line x1="606.90" y1="622.70" x2="606.90" y2="625.90" stroke="#111" stroke-width="1.1" />
<text x="606.90" y="634.30" font-size="6.6" font-weight="bold" text-anchor="middle" fill="#111" font-family="Liberation Sans" >50</text>
<line x1="664.90" y1="622.70" x2="664.90" y2="625.90" stroke="#111" stroke-width="1.1" />
<text x="664.90" y="634.30" font-size="6.6" font-weight="bold" text-anchor="middle" fill="#111" font-family="Liberation Sans" >100</text>
<text x="612.70" y="645.10" font-size="7" font-weight="bold" text-anchor="middle" fill="#111" font-family="Liberation Sans" >OS (Months)</text>
<text transform="translate(528.90,578.80) rotate(-90)" font-size="7.2" font-weight="bold" text-anchor="middle" fill="#111" font-family="Liberation Sans">Percent survival</text>
<line x1="545.30" y1="514.00" x2="558.00" y2="514.00" stroke="#2b3f9e" stroke-width="1.3" />
<line x1="551.65" y1="514.00" x2="551.65" y2="510.60" stroke="#2b3f9e" stroke-width="1.1" />
<text x="562.10" y="515.70" font-size="8.8" font-weight="normal" text-anchor="start" fill="#111" font-family="Liberation Sans" >High MAGI3 (H-score≥8, n=16)</text>
<line x1="545.30" y1="524.70" x2="558.00" y2="524.70" stroke="#e8262b" stroke-width="1.3" />
<line x1="551.65" y1="524.70" x2="551.65" y2="521.30" stroke="#e8262b" stroke-width="1.1" />
<text x="562.10" y="525.80" font-size="8.8" font-weight="normal" text-anchor="start" fill="#111" font-family="Liberation Sans" >M/L MAGI3 (H-score≤6, n=22)</text>
<text x="558.00" y="597.00" font-size="8.8" font-weight="normal" text-anchor="start" fill="#262626" font-family="Liberation Sans" >P&lt;0.05</text>
<text x="558.00" y="607.55" font-size="8.8" font-weight="normal" text-anchor="start" fill="#262626" font-family="Liberation Sans" >HR=4.164</text>
<text x="558.00" y="618.10" font-size="8.8" font-weight="normal" text-anchor="start" fill="#262626" font-family="Liberation Sans" >95% CI: 1.276-13.59</text>
<text x="622.60" y="588.50" font-size="8.8" fill="#222" font-family="Liberation Sans">Stage <tspan font-family="Liberation Serif" font-size="9.4">I</tspan></text>
<path d="M548.89,533.89 H577.68 V544.05 H590.38 V553.58 H671.24" fill="none" stroke="#2b3f9e" stroke-width="1.55" stroke-linejoin="miter"/>
<g stroke="#2b3f9e" stroke-width="0.9"><line x1="604.56" y1="553.58" x2="604.56" y2="551.18"/><line x1="641.61" y1="553.58" x2="641.61" y2="551.18"/><line x1="646.90" y1="553.58" x2="646.90" y2="551.18"/><line x1="655.36" y1="553.58" x2="655.36" y2="551.18"/><line x1="657.48" y1="553.58" x2="657.48" y2="551.18"/><line x1="662.77" y1="553.58" x2="662.77" y2="551.18"/><line x1="665.95" y1="553.58" x2="665.95" y2="551.18"/><line x1="670.18" y1="553.58" x2="670.18" y2="551.18"/></g>
<path d="M548.89,533.89 H555.24 H555.40 V535.48 H555.56 V537.07 H555.72 V538.65 H555.88 V540.24 H562.23 H562.35 V541.76 H562.48 V543.29 H562.61 V544.81 H562.73 V546.34 H562.86 V547.86 H574.93 H575.09 V549.66 H575.24 V551.46 H575.40 V553.26 H575.56 V555.06 H577.68 V563.10 H583.39 H583.55 V564.95 H583.71 V566.81 H583.87 V568.66 H584.03 V570.51 H586.15 V577.92 H588.26 V585.33 H598.21 H598.37 V587.18 H598.53 V589.03 H598.69 V590.89 H598.85 V592.74 H615.78 V601.63 H666.58" fill="none" stroke="#e8262b" stroke-width="1.55" stroke-linejoin="miter"/>
<g stroke="#e8262b" stroke-width="0.9"><line x1="560.11" y1="540.24" x2="560.11" y2="537.84"/><line x1="603.50" y1="592.74" x2="603.50" y2="590.34"/><line x1="646.90" y1="601.63" x2="646.90" y2="599.23"/><line x1="654.31" y1="601.63" x2="654.31" y2="599.23"/><line x1="656.00" y1="601.63" x2="656.00" y2="599.23"/><line x1="657.48" y1="601.63" x2="657.48" y2="599.23"/><line x1="659.60" y1="601.63" x2="659.60" y2="599.23"/><line x1="661.72" y1="601.63" x2="661.72" y2="599.23"/><line x1="662.77" y1="601.63" x2="662.77" y2="599.23"/><line x1="664.89" y1="601.63" x2="664.89" y2="599.23"/></g>
</svg></body></html>
